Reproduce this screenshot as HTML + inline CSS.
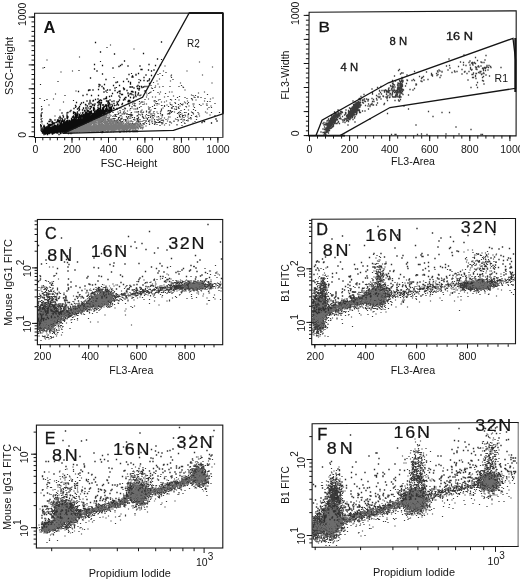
<!DOCTYPE html>
<html lang="en">
<head>
<meta charset="utf-8">
<title>Figure</title>
<style>
html,body{margin:0;padding:0;background:#fff;}
body{width:520px;height:581px;overflow:hidden;}
svg{display:block;font-family:'Liberation Sans', sans-serif;filter:blur(0.3px);}
</style>
</head>
<body>
<svg width="520" height="581" viewBox="0 0 520 581" shape-rendering="auto">
<rect width="520" height="581" fill="#fff"/>
<path transform="scale(.5)" d="m396 95zm3 29zm-69 8zm95 2zm-98 8zm47 0zm-42 3zm-12 2zm-4 2zm27 1zm62 0zm-80 1zm17 1zm1 3zm-24 3zm27 1zm-32 3zm27 0zm-34 3zm54 1zm63 0zm-108 2zm-14 3zm61 0zm-52 1zm15 1zm14 0zm18 0zm-39 1zm47 0zm-56 1zm57 0zm-64 1zm2 1zm65 3zm-63 1zm-5 3zm19 0zm18 0zm5 0zm65 0zm-109 1zm16 0zm-23 1zm6 0zm98 0zm-100 1zm34 0zm-12 1zm96 1zm-121 1zm89 0zm3 1zm5 0zm-44 1zm-11 1zm23 0zm37 0zm-103 1zm12 0zm6 0zm18 0zm59 0zm-33 1zm15 0zm20 0zm6 0zm6 0zm24 1zm-52 1zm9 0zm27 0zm-113 1zm87 0zm37 0zm-131 1zm30 0zm21 0zm10 0zm-34 1zm26 0zm15 0zm27 0zm7 0zm-82 1zm-40 1zm38 0zm25 0zm42 0zm34 0zm-130 1zm5 0zm29 0zm102 0zm5 0zm-132 1zm22 0zm13 0zm6 0zm40 0zm-85 1zm66 0zm27 0zm-109 1zm13 0zm59 0zm31 0zm-101 1zm42 0zm3 0zm36 0zm10 0zm14 0zm55 0zm-165 1zm14 0zm10 0zm4 0zm25 0zm48 0zm9 0zm11 0zm2 0zm18 0zm7 0zm1 0zm-128 1zm55 0zm16 0zm6 0zm36 0zm-140 1zm10 0zm40 0zm5 0zm20 0zm9 0zm1 0zm21 0zm-97 1zm1 0zm40 0zm14 0zm1 0zm5 0zm73 0zm12 0zm-155 1zm11 0zm1 0zm89 0zm18 0zm9 0zm35 0zm-158 1zm18 0zm23 0zm24 0zm8 0zm9 0zm1 0zm5 0zm20 0zm-75 1zm60 0zm16 0zm-94 1zm21 0zm44 0zm45 0zm29 0zm5 0zm-184 1zm3 0zm7 0zm1 0zm14 0zm11 0zm51 0zm17 0zm10 0zm4 0zm-107 1zm1 0zm10 0zm37 0zm11 0zm2 0zm33 0zm14 0zm-108 1zm18 0zm3 0zm1 0zm3 0zm48 0zm26 0zm66 0zm-181 1zm12 0zm52 0zm54 0zm1 0zm16 0zm18 0zm-127 1zm24 0zm18 0zm21 0zm54 0zm-137 1zm97 0zm1 0zm3 0zm21 0zm29 0zm-142 1zm6 0zm27 0zm11 0zm7 0zm22 0zm14 0zm-59 1zm31 0zm34 0zm3 0zm-109 1zm5 0zm6 0zm23 0zm3 0zm2 0zm2 0zm5 0zm5 0zm6 0zm5 0zm2 0zm14 0zm7 0zm19 0zm9 0zm10 0zm24 0zm28 0zm-185 1zm37 0zm19 0zm4 0zm57 0zm14 0zm4 0zm8 0zm3 0zm13 0zm11 0zm27 0zm16 0zm-220 1zm21 0zm8 0zm3 0zm11 0zm36 0zm9 0zm32 0zm47 0zm28 0zm-177 1zm17 0zm62 0zm5 0zm16 0zm3 0zm15 0zm22 0zm-133 1zm1 0zm3 0zm1 0zm28 0zm7 0zm17 0zm1 0zm2 0zm5 0zm26 0zm1 0zm3 0zm19 0zm6 0zm23 0zm10 0zm1 0zm-168 1zm2 0zm4 0zm18 0zm3 0zm2 0zm2 0zm2 0zm15 0zm7 0zm8 0zm32 0zm36 0zm16 0zm-147 1zm30 0zm2 0zm3 0zm16 0zm4 0zm37 0zm48 0zm6 0zm44 0zm-207 1zm18 0zm11 0zm22 0zm11 0zm21 0zm2 0zm7 0zm2 0zm18 0zm34 0zm6 0zm2 0zm16 0zm47 0zm-223 1zm20 0zm4 0zm9 0zm22 0zm1 0zm11 0zm2 0zm15 0zm11 0zm7 0zm62 0zm22 0zm6 0zm-192 1zm1 0zm4 0zm18 0zm3 0zm20 0zm4 0zm28 0zm32 0zm42 0zm6 0zm26 0zm-192 1zm6 0zm39 0zm9 0zm7 0zm25 0zm1 0zm15 0zm4 0zm9 0zm10 0zm13 0zm3 0zm20 0zm1 0zm4 0zm11 0zm18 0zm-194 1zm6 0zm3 0zm3 0zm6 0zm19 0zm2 0zm17 0zm9 0zm4 0zm8 0zm10 0zm10 0zm4 0zm54 0zm13 0zm13 0zm-181 1zm6 0zm2 0zm10 0zm1 0zm37 0zm13 0zm8 0zm10 0zm5 0zm1 0zm14 0zm11 0zm11 0zm53 0zm-156 1zm2 0zm2 0zm7 0zm5 0zm2 0zm11 0zm5 0zm14 0zm2 0zm12 0zm7 0zm27 0zm56 0zm-169 1zm8 0zm20 0zm37 0zm30 0zm32 0zm15 0zm13 0zm18 0zm-178 1zm3 0zm8 0zm27 0zm5 0zm3 0zm2 0zm15 0zm1 0zm7 0zm5 0zm15 0zm14 0zm5 0zm4 0zm14 0zm22 0zm8 0zm6 0zm25 0zm-186 1zm14 0zm2 0zm3 0zm3 0zm5 0zm2 0zm4 0zm7 0zm9 0zm13 0zm1 0zm7 0zm23 0zm9 0zm13 0zm4 0zm31 0zm12 0zm7 0zm-183 1zm11 0zm4 0zm9 0zm13 0zm9 0zm12 0zm1 0zm23 0zm13 0zm4 0zm6 0zm18 0zm8 0zm49 0zm-144 1zm4 0zm1 0zm7 0zm21 0zm1 0zm13 0zm16 0zm12 0zm23 0zm8 0zm13 0zm8 0zm10 0zm10 0zm-174 1zm3 0zm5 0zm10 0zm5 0zm2 0zm2 0zm13 0zm3 0zm29 0zm3 0zm3 0zm4 0zm8 0zm5 0zm1 0zm12 0zm9 0zm1 0zm20 0zm8 0zm42 0zm-186 1zm9 0zm21 0zm4 0zm4 0zm34 0zm4 0zm24 0zm5 0zm2 0zm-122 1zm11 0zm3 0zm16 0zm16 0zm55 0zm22 0zm2 0zm3 0zm2 0zm3 0zm1 0zm1 0zm16 0zm23 0zm-160 1zm21 0zm9 0zm1 0zm3 0zm6 0zm22 0zm7 0zm27 0zm25 0zm2 0zm17 0zm26 0zm17 0zm-198 1zm10 0zm5 0zm8 0zm7 0zm7 0zm18 0zm13 0zm9 0zm5 0zm11 0zm5 0zm2 0zm5 0zm12 0zm5 0zm22 0zm38 0zm-183 1zm18 0zm8 0zm2 0zm2 0zm7 0zm7 0zm1 0zm4 0zm14 0zm1 0zm7 0zm2 0zm3 0zm1 0zm10 0zm6 0zm30 0zm14 0zm-133 1zm1 0zm6 0zm18 0zm15 0zm1 0zm1 0zm7 0zm27 0zm2 0zm19 0zm11 0zm10 0zm5 0zm40 0zm-165 1zm2 0zm6 0zm2 0zm5 0zm3 0zm21 0zm11 0zm2 0zm1 0zm2 0zm1 0zm14 0zm9 0zm3 0zm5 0zm1 0zm5 0zm47 0zm10 0zm15 0zm-154 1zm11 0zm4 0zm8 0zm7 0zm5 0zm3 0zm11 0zm14 0zm16 0zm41 0zm44 0zm-167 1zm3 0zm4 0zm16 0zm2 0zm22 0zm14 0zm7 0zm4 0zm23 0zm-101 1zm8 0zm1 0zm1 0zm6 0zm1 0zm1 0zm1 0zm9 0zm2 0zm1 0zm2 0zm14 0zm9 0zm32 0zm-89 1zm5 0zm4 0zm2 0zm5 0zm4 0zm12 0zm20 0zm15 0zm4 0zm11 0zm2 0zm7 0zm-88 1zm6 0zm18 0zm1 0zm5 0zm21 0zm31 0zm-79 1zm2 0zm2 0zm9 0zm3 0zm3 0zm12 0zm-14 1z" stroke="#363636" stroke-width="2.4" stroke-linecap="square" fill="none"/>
<path transform="scale(.5)" d="m220 225zm6 0zm-7 1zm-1 2zm-8 1zm4 0zm0 1zm1 0zm4 0zm2 0zm-16 1zm2 0zm2 0zm1 0zm3 0zm9 0zm-15 1zm1 0zm2 0zm2 0zm5 0zm-17 1zm1 0zm6 0zm4 0zm1 0zm8 0zm5 0zm-26 1zm2 0zm4 0zm1 0zm1 0zm2 0zm5 0zm-18 1zm1 0zm1 0zm3 0zm3 0zm1 0zm1 0zm2 0zm1 0zm4 0zm1 0zm1 0zm-22 1zm1 0zm2 0zm5 0zm2 0zm3 0zm1 0zm1 0zm1 0zm1 0zm1 0zm1 0zm50 0zm-70 1zm1 0zm4 0zm1 0zm1 0zm1 0zm2 0zm2 0zm1 0zm1 0zm2 0zm2 0zm1 0zm1 0zm4 0zm1 0zm2 0zm-30 1zm1 0zm2 0zm3 0zm1 0zm1 0zm3 0zm2 0zm1 0zm1 0zm1 0zm3 0zm2 0zm2 0zm7 0zm1 0zm3 0zm-31 1zm1 0zm1 0zm1 0zm2 0zm1 0zm2 0zm1 0zm1 0zm1 0zm5 0zm1 0zm1 0zm1 0zm1 0zm4 0zm6 0zm1 0zm24 0zm-63 1zm1 0zm1 0zm3 0zm4 0zm1 0zm1 0zm1 0zm5 0zm5 0zm2 0zm3 0zm9 0zm1 0zm1 0zm4 0zm-43 1zm3 0zm3 0zm2 0zm1 0zm1 0zm2 0zm2 0zm1 0zm1 0zm1 0zm2 0zm1 0zm1 0zm1 0zm6 0zm3 0zm4 0zm1 0zm3 0zm1 0zm3 0zm-41 1zm1 0zm1 0zm1 0zm2 0zm1 0zm1 0zm1 0zm1 0zm2 0zm1 0zm3 0zm1 0zm1 0zm1 0zm1 0zm2 0zm5 0zm3 0zm2 0zm13 0zm3 0zm1 0zm25 0zm4 0zm12 0zm6 0zm6 0zm-107 1zm1 0zm1 0zm1 0zm1 0zm2 0zm2 0zm1 0zm1 0zm1 0zm2 0zm6 0zm2 0zm2 0zm4 0zm3 0zm2 0zm1 0zm2 0zm3 0zm1 0zm1 0zm3 0zm1 0zm1 0zm1 0zm2 0zm2 0zm1 0zm5 0zm1 0zm15 0zm3 0zm8 0zm3 0zm1 0zm-87 1zm1 0zm1 0zm1 0zm2 0zm1 0zm1 0zm1 0zm3 0zm1 0zm5 0zm1 0zm1 0zm2 0zm2 0zm4 0zm1 0zm5 0zm1 0zm1 0zm1 0zm1 0zm3 0zm1 0zm1 0zm1 0zm2 0zm1 0zm1 0zm3 0zm1 0zm1 0zm5 0zm1 0zm1 0zm10 0zm5 0zm4 0zm3 0zm14 0zm-100 1zm2 0zm1 0zm1 0zm2 0zm1 0zm2 0zm2 0zm1 0zm1 0zm2 0zm2 0zm2 0zm4 0zm2 0zm4 0zm4 0zm1 0zm2 0zm2 0zm2 0zm1 0zm12 0zm3 0zm1 0zm2 0zm5 0zm3 0zm5 0zm8 0zm23 0zm1 0zm-106 1zm1 0zm1 0zm1 0zm1 0zm1 0zm1 0zm1 0zm1 0zm1 0zm2 0zm3 0zm2 0zm1 0zm1 0zm3 0zm1 0zm2 0zm3 0zm4 0zm5 0zm3 0zm7 0zm1 0zm1 0zm2 0zm3 0zm2 0zm7 0zm3 0zm1 0zm1 0zm4 0zm1 0zm1 0zm8 0zm4 0zm15 0zm-103 1zm2 0zm2 0zm1 0zm1 0zm1 0zm1 0zm1 0zm2 0zm2 0zm1 0zm2 0zm3 0zm4 0zm4 0zm1 0zm2 0zm1 0zm5 0zm4 0zm4 0zm1 0zm2 0zm3 0zm1 0zm1 0zm1 0zm5 0zm1 0zm3 0zm2 0zm4 0zm4 0zm2 0zm1 0zm3 0zm5 0zm3 0zm3 0zm3 0zm7 0zm1 0zm4 0zm2 0zm3 0zm-110 1zm1 0zm1 0zm7 0zm1 0zm1 0zm4 0zm4 0zm1 0zm1 0zm3 0zm4 0zm1 0zm3 0zm2 0zm2 0zm7 0zm2 0zm3 0zm7 0zm1 0zm2 0zm2 0zm2 0zm9 0zm1 0zm2 0zm1 0zm8 0zm1 0zm5 0zm3 0zm6 0zm5 0zm1 0zm1 0zm-108 1zm1 0zm2 0zm1 0zm2 0zm1 0zm1 0zm1 0zm1 0zm1 0zm1 0zm1 0zm1 0zm1 0zm1 0zm6 0zm3 0zm1 0zm5 0zm1 0zm7 0zm1 0zm1 0zm1 0zm3 0zm2 0zm3 0zm1 0zm1 0zm3 0zm2 0zm4 0zm2 0zm1 0zm1 0zm1 0zm1 0zm1 0zm1 0zm3 0zm5 0zm1 0zm1 0zm2 0zm4 0zm1 0zm3 0zm3 0zm1 0zm4 0zm1 0zm7 0zm7 0zm3 0zm-117 1zm1 0zm1 0zm3 0zm2 0zm1 0zm1 0zm1 0zm1 0zm3 0zm4 0zm1 0zm1 0zm3 0zm1 0zm1 0zm8 0zm2 0zm2 0zm2 0zm2 0zm1 0zm1 0zm2 0zm2 0zm2 0zm2 0zm4 0zm1 0zm1 0zm1 0zm2 0zm3 0zm1 0zm1 0zm1 0zm1 0zm1 0zm1 0zm1 0zm3 0zm1 0zm1 0zm1 0zm2 0zm2 0zm1 0zm1 0zm2 0zm1 0zm1 0zm1 0zm2 0zm1 0zm2 0zm7 0zm3 0zm2 0zm1 0zm1 0zm2 0zm4 0zm5 0zm3 0zm2 0zm1 0zm-124 1zm1 0zm1 0zm2 0zm1 0zm3 0zm2 0zm1 0zm1 0zm2 0zm1 0zm2 0zm1 0zm1 0zm6 0zm2 0zm1 0zm3 0zm1 0zm1 0zm2 0zm1 0zm1 0zm1 0zm1 0zm1 0zm1 0zm2 0zm4 0zm6 0zm1 0zm1 0zm2 0zm1 0zm3 0zm1 0zm1 0zm1 0zm1 0zm1 0zm1 0zm1 0zm1 0zm1 0zm1 0zm1 0zm1 0zm1 0zm1 0zm1 0zm3 0zm1 0zm1 0zm1 0zm2 0zm2 0zm2 0zm2 0zm1 0zm1 0zm3 0zm2 0zm1 0zm1 0zm2 0zm2 0zm2 0zm2 0zm3 0zm7 0zm5 0zm-126 1zm1 0zm1 0zm1 0zm1 0zm1 0zm1 0zm2 0zm1 0zm1 0zm1 0zm1 0zm2 0zm2 0zm1 0zm1 0zm1 0zm2 0zm1 0zm4 0zm1 0zm1 0zm3 0zm2 0zm3 0zm1 0zm2 0zm1 0zm1 0zm1 0zm3 0zm2 0zm2 0zm1 0zm1 0zm1 0zm2 0zm1 0zm1 0zm1 0zm1 0zm1 0zm1 0zm1 0zm4 0zm1 0zm1 0zm1 0zm1 0zm2 0zm1 0zm2 0zm1 0zm1 0zm1 0zm1 0zm1 0zm1 0zm1 0zm1 0zm1 0zm2 0zm1 0zm4 0zm2 0zm2 0zm1 0zm3 0zm1 0zm1 0zm2 0zm3 0zm1 0zm3 0zm1 0zm1 0zm4 0zm3 0zm2 0zm-121 1zm1 0zm1 0zm1 0zm1 0zm1 0zm1 0zm1 0zm1 0zm1 0zm2 0zm2 0zm1 0zm2 0zm1 0zm1 0zm1 0zm1 0zm2 0zm1 0zm1 0zm1 0zm1 0zm2 0zm1 0zm1 0zm4 0zm2 0zm1 0zm1 0zm1 0zm2 0zm3 0zm3 0zm1 0zm1 0zm1 0zm1 0zm1 0zm2 0zm1 0zm1 0zm1 0zm1 0zm1 0zm2 0zm1 0zm1 0zm1 0zm1 0zm2 0zm1 0zm2 0zm1 0zm1 0zm1 0zm1 0zm1 0zm3 0zm1 0zm1 0zm1 0zm1 0zm1 0zm1 0zm1 0zm3 0zm1 0zm1 0zm1 0zm2 0zm3 0zm2 0zm1 0zm1 0zm2 0zm1 0zm3 0zm2 0zm1 0zm2 0zm2 0zm-115 1zm1 0zm1 0zm1 0zm1 0zm1 0zm1 0zm1 0zm2 0zm2 0zm1 0zm3 0zm4 0zm1 0zm1 0zm1 0zm1 0zm2 0zm1 0zm1 0zm2 0zm2 0zm1 0zm1 0zm2 0zm1 0zm1 0zm1 0zm1 0zm1 0zm1 0zm1 0zm1 0zm2 0zm2 0zm1 0zm1 0zm1 0zm1 0zm1 0zm5 0zm2 0zm1 0zm2 0zm1 0zm1 0zm1 0zm2 0zm2 0zm1 0zm1 0zm4 0zm1 0zm1 0zm1 0zm1 0zm1 0zm1 0zm1 0zm2 0zm1 0zm1 0zm1 0zm1 0zm1 0zm4 0zm1 0zm1 0zm1 0zm1 0zm2 0zm1 0zm1 0zm1 0zm2 0zm1 0zm2 0zm2 0zm2 0zm2 0zm1 0zm3 0zm2 0zm2 0zm4 0zm2 0zm1 0zm2 0zm2 0zm-134 1zm1 0zm1 0zm1 0zm1 0zm1 0zm1 0zm3 0zm2 0zm1 0zm1 0zm3 0zm1 0zm1 0zm2 0zm2 0zm1 0zm1 0zm1 0zm1 0zm2 0zm1 0zm1 0zm1 0zm1 0zm2 0zm3 0zm1 0zm3 0zm1 0zm1 0zm2 0zm1 0zm2 0zm1 0zm2 0zm1 0zm1 0zm1 0zm1 0zm1 0zm1 0zm1 0zm1 0zm4 0zm1 0zm1 0zm1 0zm1 0zm1 0zm1 0zm1 0zm1 0zm1 0zm1 0zm1 0zm1 0zm1 0zm1 0zm2 0zm1 0zm1 0zm1 0zm1 0zm6 0zm1 0zm1 0zm1 0zm1 0zm1 0zm1 0zm3 0zm1 0zm1 0zm1 0zm3 0zm1 0zm1 0zm1 0zm1 0zm1 0zm1 0zm1 0zm2 0zm2 0zm1 0zm1 0zm1 0zm9 0zm3 0zm-132 1zm1 0zm1 0zm1 0zm1 0zm1 0zm1 0zm2 0zm2 0zm1 0zm2 0zm1 0zm1 0zm2 0zm2 0zm1 0zm1 0zm1 0zm1 0zm1 0zm2 0zm1 0zm2 0zm2 0zm1 0zm2 0zm1 0zm1 0zm1 0zm1 0zm1 0zm1 0zm2 0zm1 0zm2 0zm2 0zm1 0zm1 0zm2 0zm1 0zm1 0zm1 0zm1 0zm1 0zm1 0zm1 0zm1 0zm1 0zm1 0zm1 0zm1 0zm1 0zm1 0zm2 0zm1 0zm1 0zm2 0zm1 0zm1 0zm1 0zm1 0zm1 0zm1 0zm1 0zm1 0zm1 0zm1 0zm1 0zm1 0zm1 0zm1 0zm1 0zm1 0zm1 0zm1 0zm1 0zm1 0zm1 0zm1 0zm1 0zm1 0zm1 0zm2 0zm1 0zm1 0zm1 0zm1 0zm1 0zm2 0zm1 0zm1 0zm4 0zm2 0zm1 0zm1 0zm3 0zm1 0zm1 0zm1 0zm4 0zm1 0zm6 0zm2 0zm1 0zm-139 1zm1 0zm2 0zm1 0zm1 0zm1 0zm1 0zm1 0zm1 0zm1 0zm1 0zm2 0zm1 0zm1 0zm1 0zm2 0zm1 0zm2 0zm1 0zm1 0zm1 0zm1 0zm1 0zm2 0zm2 0zm1 0zm1 0zm1 0zm1 0zm1 0zm1 0zm1 0zm1 0zm1 0zm1 0zm2 0zm1 0zm1 0zm1 0zm1 0zm1 0zm1 0zm1 0zm1 0zm1 0zm1 0zm1 0zm1 0zm1 0zm1 0zm1 0zm1 0zm1 0zm1 0zm1 0zm1 0zm1 0zm1 0zm2 0zm1 0zm1 0zm2 0zm1 0zm1 0zm1 0zm1 0zm1 0zm1 0zm1 0zm1 0zm1 0zm1 0zm1 0zm1 0zm1 0zm1 0zm1 0zm1 0zm1 0zm1 0zm2 0zm1 0zm2 0zm2 0zm1 0zm1 0zm1 0zm2 0zm1 0zm1 0zm1 0zm1 0zm1 0zm1 0zm1 0zm1 0zm1 0zm2 0zm3 0zm1 0zm2 0zm2 0zm1 0zm1 0zm2 0zm1 0zm5 0zm1 0zm4 0zm-135 1zm1 0zm1 0zm1 0zm1 0zm1 0zm1 0zm2 0zm1 0zm1 0zm2 0zm1 0zm1 0zm2 0zm1 0zm1 0zm1 0zm1 0zm1 0zm1 0zm1 0zm1 0zm1 0zm1 0zm1 0zm1 0zm1 0zm1 0zm1 0zm1 0zm1 0zm1 0zm1 0zm1 0zm1 0zm1 0zm1 0zm1 0zm1 0zm1 0zm1 0zm1 0zm1 0zm1 0zm1 0zm1 0zm1 0zm1 0zm1 0zm1 0zm1 0zm1 0zm2 0zm1 0zm1 0zm1 0zm1 0zm1 0zm1 0zm1 0zm1 0zm1 0zm1 0zm1 0zm1 0zm1 0zm1 0zm1 0zm2 0zm1 0zm1 0zm1 0zm1 0zm1 0zm1 0zm1 0zm1 0zm1 0zm1 0zm2 0zm1 0zm2 0zm1 0zm2 0zm1 0zm1 0zm1 0zm1 0zm2 0zm1 0zm1 0zm1 0zm3 0zm1 0zm1 0zm1 0zm1 0zm1 0zm5 0zm1 0zm2 0zm2 0zm1 0zm1 0zm2 0zm4 0zm2 0zm3 0zm8 0zm-141 1zm1 0zm1 0zm1 0zm1 0zm1 0zm1 0zm1 0zm1 0zm1 0zm1 0zm1 0zm1 0zm1 0zm1 0zm2 0zm1 0zm1 0zm1 0zm1 0zm1 0zm1 0zm1 0zm1 0zm1 0zm1 0zm1 0zm1 0zm1 0zm1 0zm1 0zm1 0zm1 0zm1 0zm1 0zm1 0zm1 0zm1 0zm1 0zm1 0zm1 0zm1 0zm1 0zm1 0zm1 0zm1 0zm1 0zm1 0zm1 0zm1 0zm1 0zm2 0zm1 0zm1 0zm1 0zm1 0zm1 0zm1 0zm1 0zm1 0zm1 0zm1 0zm1 0zm2 0zm1 0zm1 0zm1 0zm1 0zm1 0zm1 0zm1 0zm1 0zm1 0zm1 0zm1 0zm1 0zm2 0zm1 0zm1 0zm2 0zm2 0zm1 0zm1 0zm2 0zm3 0zm2 0zm9 0zm2 0zm5 0zm16 0zm-131 1zm1 0zm1 0zm1 0zm2 0zm1 0zm1 0zm1 0zm1 0zm1 0zm1 0zm1 0zm2 0zm1 0zm1 0zm1 0zm1 0zm1 0zm1 0zm1 0zm1 0zm1 0zm1 0zm1 0zm1 0zm1 0zm1 0zm1 0zm1 0zm1 0zm1 0zm1 0zm1 0zm1 0zm1 0zm1 0zm1 0zm1 0zm1 0zm1 0zm1 0zm1 0zm1 0zm1 0zm1 0zm1 0zm1 0zm1 0zm1 0zm1 0zm1 0zm1 0zm1 0zm1 0zm1 0zm1 0zm1 0zm1 0zm1 0zm1 0zm1 0zm1 0zm1 0zm1 0zm1 0zm2 0zm1 0zm1 0zm1 0zm1 0zm3 0zm1 0zm2 0zm1 0zm2 0zm1 0zm1 0zm4 0zm1 0zm1 0zm2 0zm1 0zm6 0zm1 0zm3 0zm3 0zm1 0zm2 0zm4 0zm1 0zm3 0zm2 0zm2 0zm1 0zm5 0zm4 0zm-132 1zm1 0zm1 0zm1 0zm1 0zm1 0zm1 0zm1 0zm1 0zm1 0zm1 0zm1 0zm1 0zm1 0zm1 0zm1 0zm1 0zm1 0zm1 0zm1 0zm1 0zm1 0zm1 0zm1 0zm1 0zm1 0zm1 0zm1 0zm1 0zm1 0zm1 0zm1 0zm1 0zm1 0zm1 0zm1 0zm1 0zm1 0zm1 0zm1 0zm1 0zm1 0zm1 0zm1 0zm2 0zm1 0zm1 0zm1 0zm1 0zm1 0zm1 0zm1 0zm1 0zm1 0zm1 0zm2 0zm2 0zm1 0zm1 0zm1 0zm1 0zm1 0zm2 0zm1 0zm4 0zm1 0zm1 0zm6 0zm5 0zm1 0zm2 0zm1 0zm1 0zm1 0zm1 0zm9 0zm1 0zm1 0zm4 0zm2 0zm2 0zm1 0zm5 0zm1 0zm2 0zm1 0zm7 0zm3 0zm5 0zm1 0zm-137 1zm1 0zm1 0zm1 0zm1 0zm1 0zm1 0zm1 0zm1 0zm1 0zm1 0zm1 0zm1 0zm1 0zm1 0zm1 0zm1 0zm1 0zm1 0zm1 0zm1 0zm1 0zm1 0zm1 0zm1 0zm1 0zm1 0zm1 0zm1 0zm1 0zm1 0zm1 0zm1 0zm2 0zm1 0zm1 0zm1 0zm1 0zm1 0zm1 0zm1 0zm1 0zm1 0zm1 0zm1 0zm1 0zm1 0zm1 0zm2 0zm1 0zm1 0zm2 0zm1 0zm1 0zm1 0zm4 0zm3 0zm1 0zm2 0zm1 0zm1 0zm1 0zm1 0zm2 0zm4 0zm1 0zm1 0zm2 0zm8 0zm1 0zm2 0zm3 0zm3 0zm2 0zm3 0zm3 0zm5 0zm4 0zm2 0zm1 0zm2 0zm2 0zm4 0zm2 0zm6 0zm1 0zm3 0zm-142 1zm1 0zm1 0zm1 0zm1 0zm1 0zm1 0zm1 0zm1 0zm1 0zm1 0zm1 0zm1 0zm1 0zm1 0zm1 0zm1 0zm1 0zm1 0zm1 0zm1 0zm1 0zm1 0zm1 0zm1 0zm1 0zm1 0zm1 0zm1 0zm1 0zm1 0zm1 0zm1 0zm1 0zm1 0zm1 0zm1 0zm1 0zm1 0zm1 0zm1 0zm1 0zm1 0zm1 0zm1 0zm1 0zm1 0zm1 0zm3 0zm4 0zm1 0zm1 0zm5 0zm1 0zm2 0zm1 0zm3 0zm2 0zm1 0zm1 0zm1 0zm6 0zm1 0zm1 0zm2 0zm1 0zm4 0zm2 0zm1 0zm5 0zm2 0zm1 0zm2 0zm1 0zm1 0zm2 0zm4 0zm1 0zm2 0zm4 0zm2 0zm1 0zm4 0zm3 0zm3 0zm1 0zm3 0zm2 0zm-136 1zm2 0zm1 0zm1 0zm1 0zm1 0zm1 0zm1 0zm1 0zm1 0zm1 0zm1 0zm4 0zm1 0zm1 0zm1 0zm1 0zm1 0zm1 0zm1 0zm1 0zm1 0zm1 0zm2 0zm1 0zm1 0zm1 0zm1 0zm2 0zm2 0zm2 0zm2 0zm2 0zm1 0zm1 0zm4 0zm3 0zm2 0zm1 0zm3 0zm1 0zm3 0zm3 0zm1 0zm4 0zm2 0zm4 0zm8 0zm7 0zm5 0zm-96 1zm1 0zm1 0zm2 0zm1 0zm1 0zm1 0zm1 0zm1 0zm1 0zm1 0zm1 0zm1 0zm2 0zm2 0zm1 0zm3 0zm1 0zm2 0zm4 0zm18 0zm2 0zm11 0zm-53 1zm2 0zm1 0zm1 0zm4 0z" stroke="#7a7a7a" stroke-width="2.4" stroke-linecap="square" fill="none"/>
<path transform="scale(.5)" d="m323 84zm-132 1zm10 19zm86 3zm-58 1zm86 10zm-66 4zm-60 7zm55 0zm54 0zm23 1zm-116 1zm36 0zm70 0zm-55 1zm24 0zm-42 1zm-12 3zm-37 2zm93 1zm2 0zm13 1zm11 0zm-114 2zm109 0zm-26 5zm-72 1zm53 1zm14 0zm0 1zm20 0zm11 1zm-38 1zm-1 2zm2 0zm22 1zm-107 1zm73 2zm45 0zm-87 1zm69 2zm7 0zm10 0zm-3 1zm-48 1zm10 0zm-22 1zm-3 1zm29 0zm17 0zm21 2zm-38 1zm-63 1zm11 0zm-9 1zm27 1zm12 0zm37 0zm-78 2zm6 0zm70 0zm5 0zm4 0zm7 0zm4 0zm-34 1zm2 0zm3 0zm22 0zm-3 1zm-77 1zm23 0zm17 0zm21 0zm7 1zm1 0zm3 0zm-71 1zm41 0zm-52 1zm51 0zm-70 1zm2 0zm6 0zm29 0zm5 0zm58 0zm-101 1zm53 0zm24 0zm-42 1zm28 0zm51 0zm-134 1zm81 0zm2 0zm23 0zm2 0zm-57 1zm58 0zm5 0zm-36 1zm21 1zm15 0zm6 0zm-52 1zm15 0zm16 0zm6 0zm-2 1zm-86 1zm69 0zm2 0zm19 0zm12 0zm-5 1zm5 0zm-110 1zm17 0zm14 0zm60 0zm23 0zm-57 1zm15 0zm19 0zm-38 1zm53 0zm-59 1zm55 0zm-28 1zm11 0zm1 0zm9 0zm6 1zm-56 1zm2 0zm36 0zm-53 1zm12 0zm-17 1zm59 0zm-49 1zm19 0zm19 0zm8 0zm-67 1zm7 0zm12 0zm4 0zm54 0zm2 0zm-85 1zm12 0zm27 0zm1 0zm3 0zm11 0zm32 0zm-63 1zm27 0zm13 0zm19 0zm1 0zm1 0zm8 0zm-86 1zm18 0zm18 0zm18 0zm-81 1zm14 0zm28 0zm5 0zm3 0zm15 0zm-55 1zm35 0zm-20 1zm4 0zm20 0zm14 0zm3 0zm9 0zm7 0zm10 0zm12 0zm-79 1zm12 0zm-29 1zm10 0zm15 0zm12 0zm3 0zm19 0zm4 0zm10 0zm10 0zm-72 1zm13 0zm1 0zm15 0zm4 0zm2 0zm4 0zm2 0zm4 0zm3 0zm17 0zm-86 1zm38 0zm7 0zm18 0zm15 0zm-54 1zm26 0zm10 0zm1 0zm2 0zm3 0zm8 0zm-73 1zm7 0zm21 0zm2 0zm27 0zm-26 1zm24 0zm11 0zm4 0zm1 0zm-51 1zm15 0zm1 0zm8 0zm5 0zm6 0zm1 0zm5 0zm7 0zm1 0zm-64 1zm1 0zm9 0zm9 0zm11 0zm18 0zm9 0zm4 0zm2 0zm2 0zm5 0zm-79 1zm19 0zm5 0zm9 0zm7 0zm11 0zm14 0zm8 0zm2 0zm4 0zm1 0zm6 0zm-79 1zm25 0zm7 0zm2 0zm8 0zm4 0zm4 0zm2 0zm4 0zm3 0zm8 0zm-63 1zm28 0zm8 0zm1 0zm1 0zm8 0zm2 0zm9 0zm4 0zm-55 1zm9 0zm14 0zm8 0zm1 0zm3 0zm1 0zm3 0zm7 0zm1 0zm2 0zm1 0zm4 0zm5 0zm-82 1zm16 0zm11 0zm1 0zm6 0zm11 0zm1 0zm4 0zm7 0zm1 0zm1 0zm2 0zm1 0zm2 0zm1 0zm2 0zm1 0zm3 0zm3 0zm2 0zm3 0zm2 0zm-48 1zm2 0zm6 0zm9 0zm2 0zm1 0zm2 0zm2 0zm2 0zm4 0zm1 0zm4 0zm2 0zm1 0zm4 0zm1 0zm2 0zm-80 1zm30 0zm10 0zm2 0zm7 0zm1 0zm3 0zm4 0zm2 0zm2 0zm1 0zm1 0zm4 0zm2 0zm10 0zm-72 1zm8 0zm19 0zm4 0zm5 0zm11 0zm1 0zm2 0zm7 0zm1 0zm4 0zm1 0zm1 0zm2 0zm2 0zm5 0zm-84 1zm13 0zm17 0zm5 0zm1 0zm8 0zm2 0zm7 0zm1 0zm6 0zm2 0zm3 0zm1 0zm1 0zm2 0zm2 0zm1 0zm1 0zm1 0zm6 0zm-92 1zm10 0zm17 0zm14 0zm6 0zm3 0zm8 0zm1 0zm7 0zm1 0zm2 0zm1 0zm3 0zm1 0zm1 0zm2 0zm2 0zm7 0zm-63 1zm4 0zm3 0zm18 0zm4 0zm1 0zm2 0zm4 0zm3 0zm1 0zm2 0zm3 0zm1 0zm1 0zm1 0zm1 0zm2 0zm1 0zm1 0zm1 0zm1 0zm2 0zm1 0zm3 0zm2 0zm-55 1zm1 0zm14 0zm6 0zm2 0zm1 0zm1 0zm4 0zm1 0zm3 0zm1 0zm1 0zm3 0zm1 0zm1 0zm2 0zm1 0zm1 0zm3 0zm5 0zm5 0zm-62 1zm4 0zm5 0zm7 0zm1 0zm6 0zm1 0zm3 0zm2 0zm2 0zm4 0zm1 0zm2 0zm1 0zm1 0zm1 0zm2 0zm2 0zm1 0zm6 0zm5 0zm1 0zm-74 1zm18 0zm7 0zm4 0zm6 0zm1 0zm2 0zm1 0zm1 0zm3 0zm2 0zm6 0zm2 0zm1 0zm1 0zm1 0zm2 0zm1 0zm2 0zm1 0zm2 0zm1 0zm1 0zm2 0zm2 0zm-78 1zm27 0zm2 0zm5 0zm2 0zm5 0zm6 0zm3 0zm3 0zm1 0zm2 0zm1 0zm1 0zm1 0zm1 0zm1 0zm1 0zm1 0zm2 0zm4 0zm2 0zm2 0zm1 0zm1 0zm2 0zm-56 1zm4 0zm5 0zm4 0zm4 0zm1 0zm4 0zm6 0zm2 0zm1 0zm3 0zm1 0zm1 0zm1 0zm1 0zm1 0zm1 0zm5 0zm1 0zm1 0zm2 0zm1 0zm3 0zm1 0zm1 0zm-82 1zm14 0zm1 0zm24 0zm2 0zm1 0zm6 0zm2 0zm1 0zm1 0zm2 0zm1 0zm1 0zm1 0zm1 0zm4 0zm3 0zm1 0zm2 0zm1 0zm1 0zm1 0zm1 0zm2 0zm1 0zm1 0zm2 0zm-71 1zm9 0zm9 0zm3 0zm5 0zm3 0zm8 0zm1 0zm1 0zm1 0zm4 0zm2 0zm3 0zm3 0zm1 0zm2 0zm2 0zm1 0zm1 0zm2 0zm1 0zm1 0zm4 0zm1 0zm1 0zm1 0zm1 0zm-52 1zm5 0zm3 0zm4 0zm1 0zm8 0zm1 0zm1 0zm1 0zm1 0zm2 0zm2 0zm2 0zm1 0zm1 0zm1 0zm1 0zm1 0zm2 0zm1 0zm1 0zm2 0zm3 0zm2 0zm2 0zm-77 1zm3 0zm13 0zm15 0zm4 0zm7 0zm2 0zm5 0zm1 0zm2 0zm1 0zm1 0zm1 0zm2 0zm2 0zm1 0zm2 0zm3 0zm1 0zm1 0zm1 0zm1 0zm2 0zm3 0zm-68 1zm11 0zm8 0zm7 0zm7 0zm3 0zm1 0zm5 0zm1 0zm2 0zm1 0zm1 0zm1 0zm1 0zm1 0zm1 0zm1 0zm1 0zm1 0zm2 0zm2 0zm1 0zm2 0zm1 0zm1 0zm3 0zm-60 1zm18 0zm9 0zm3 0zm1 0zm2 0zm1 0zm1 0zm3 0zm1 0zm1 0zm1 0zm1 0zm2 0zm1 0zm1 0zm1 0zm1 0zm1 0zm1 0zm1 0zm1 0zm1 0zm1 0zm2 0zm3 0zm243 0zm-332 1zm25 0zm21 0zm3 0zm2 0zm3 0zm4 0zm1 0zm1 0zm2 0zm1 0zm1 0zm1 0zm1 0zm3 0zm1 0zm1 0zm1 0zm1 0zm2 0zm1 0zm1 0zm1 0zm1 0zm1 0zm1 0zm4 0zm1 0zm-84 1zm8 0zm5 0zm2 0zm4 0zm22 0zm2 0zm2 0zm1 0zm2 0zm1 0zm1 0zm1 0zm2 0zm3 0zm1 0zm2 0zm2 0zm1 0zm1 0zm1 0zm1 0zm1 0zm1 0zm2 0zm1 0zm1 0zm1 0zm1 0zm2 0zm4 0zm1 0zm-63 1zm7 0zm3 0zm6 0zm1 0zm3 0zm4 0zm1 0zm3 0zm1 0zm1 0zm1 0zm1 0zm2 0zm1 0zm1 0zm1 0zm2 0zm1 0zm1 0zm4 0zm1 0zm1 0zm1 0zm1 0zm1 0zm1 0zm1 0zm1 0zm1 0zm2 0zm2 0zm1 0zm1 0zm1 0zm3 0zm-68 1zm2 0zm1 0zm5 0zm1 0zm2 0zm7 0zm6 0zm1 0zm6 0zm1 0zm4 0zm2 0zm1 0zm1 0zm1 0zm1 0zm1 0zm1 0zm1 0zm2 0zm2 0zm1 0zm1 0zm1 0zm1 0zm1 0zm1 0zm1 0zm2 0zm1 0zm4 0zm1 0zm227 0zm28 0zm-336 1zm2 0zm4 0zm11 0zm2 0zm8 0zm2 0zm8 0zm6 0zm1 0zm2 0zm2 0zm1 0zm1 0zm1 0zm1 0zm3 0zm2 0zm1 0zm1 0zm1 0zm1 0zm2 0zm1 0zm1 0zm1 0zm1 0zm1 0zm1 0zm2 0zm1 0zm1 0zm1 0zm3 0zm1 0zm1 0zm1 0zm231 0zm-305 1zm1 0zm9 0zm4 0zm2 0zm3 0zm4 0zm3 0zm2 0zm1 0zm2 0zm1 0zm1 0zm3 0zm2 0zm2 0zm1 0zm1 0zm1 0zm1 0zm1 0zm2 0zm1 0zm1 0zm1 0zm1 0zm1 0zm1 0zm1 0zm1 0zm1 0zm1 0zm2 0zm2 0zm1 0zm1 0zm1 0zm1 0zm1 0zm2 0zm2 0zm1 0zm1 0zm-72 1zm8 0zm8 0zm8 0zm4 0zm2 0zm2 0zm1 0zm2 0zm1 0zm1 0zm1 0zm3 0zm1 0zm1 0zm1 0zm1 0zm1 0zm2 0zm1 0zm1 0zm1 0zm1 0zm2 0zm1 0zm1 0zm1 0zm1 0zm2 0zm2 0zm1 0zm1 0zm1 0zm1 0zm1 0zm233 0zm-299 1zm1 0zm2 0zm1 0zm14 0zm4 0zm6 0zm2 0zm1 0zm1 0zm1 0zm1 0zm1 0zm1 0zm1 0zm2 0zm4 0zm1 0zm1 0zm1 0zm1 0zm2 0zm1 0zm1 0zm1 0zm1 0zm1 0zm1 0zm2 0zm1 0zm2 0zm1 0zm1 0zm1 0zm1 0zm2 0zm1 0zm251 0zm-328 1zm11 0zm16 0zm1 0zm6 0zm1 0zm1 0zm4 0zm1 0zm1 0zm4 0zm1 0zm1 0zm2 0zm1 0zm1 0zm1 0zm1 0zm1 0zm1 0zm1 0zm2 0zm1 0zm1 0zm1 0zm1 0zm1 0zm2 0zm1 0zm1 0zm1 0zm1 0zm1 0zm1 0zm1 0zm1 0zm-64 1zm3 0zm8 0zm4 0zm4 0zm1 0zm3 0zm2 0zm1 0zm2 0zm1 0zm1 0zm1 0zm1 0zm1 0zm1 0zm1 0zm2 0zm1 0zm1 0zm1 0zm1 0zm1 0zm1 0zm1 0zm1 0zm1 0zm1 0zm1 0zm1 0zm1 0zm1 0zm2 0zm1 0zm1 0zm1 0zm1 0zm1 0zm2 0zm1 0zm1 0zm-69 1zm1 0zm1 0zm1 0zm1 0zm1 0zm1 0zm11 0zm1 0zm4 0zm2 0zm1 0zm1 0zm2 0zm2 0zm1 0zm1 0zm1 0zm1 0zm1 0zm2 0zm1 0zm1 0zm1 0zm1 0zm1 0zm1 0zm1 0zm1 0zm1 0zm1 0zm1 0zm1 0zm1 0zm2 0zm1 0zm1 0zm1 0zm1 0zm1 0zm1 0zm1 0zm1 0zm1 0zm1 0zm1 0zm1 0zm1 0zm2 0zm-68 1zm5 0zm1 0zm17 0zm1 0zm1 0zm1 0zm1 0zm3 0zm1 0zm1 0zm1 0zm1 0zm1 0zm1 0zm1 0zm1 0zm1 0zm1 0zm1 0zm2 0zm1 0zm1 0zm1 0zm1 0zm1 0zm1 0zm2 0zm1 0zm1 0zm1 0zm1 0zm2 0zm1 0zm1 0zm1 0zm1 0zm1 0zm1 0zm1 0zm1 0zm-74 1zm12 0zm1 0zm8 0zm1 0zm1 0zm7 0zm1 0zm1 0zm3 0zm2 0zm1 0zm1 0zm1 0zm1 0zm1 0zm1 0zm1 0zm1 0zm1 0zm1 0zm1 0zm1 0zm1 0zm1 0zm1 0zm1 0zm1 0zm3 0zm1 0zm1 0zm1 0zm1 0zm1 0zm1 0zm1 0zm1 0zm1 0zm1 0zm1 0zm2 0zm2 0zm-72 1zm8 0zm3 0zm7 0zm5 0zm1 0zm1 0zm1 0zm1 0zm5 0zm2 0zm2 0zm1 0zm1 0zm1 0zm1 0zm1 0zm3 0zm1 0zm1 0zm1 0zm1 0zm1 0zm1 0zm1 0zm2 0zm1 0zm1 0zm1 0zm1 0zm1 0zm1 0zm2 0zm1 0zm1 0zm1 0zm1 0zm2 0zm1 0zm1 0zm1 0zm-69 1zm9 0zm8 0zm2 0zm4 0zm1 0zm1 0zm3 0zm1 0zm1 0zm1 0zm1 0zm1 0zm1 0zm1 0zm1 0zm1 0zm1 0zm1 0zm1 0zm1 0zm1 0zm1 0zm1 0zm1 0zm1 0zm1 0zm1 0zm1 0zm1 0zm1 0zm1 0zm1 0zm1 0zm1 0zm1 0zm1 0zm2 0zm1 0zm1 0zm1 0zm1 0zm1 0zm1 0zm-67 1zm1 0zm5 0zm2 0zm3 0zm1 0zm5 0zm2 0zm1 0zm1 0zm1 0zm1 0zm1 0zm1 0zm1 0zm1 0zm1 0zm1 0zm1 0zm2 0zm2 0zm1 0zm1 0zm1 0zm1 0zm1 0zm1 0zm1 0zm1 0zm1 0zm1 0zm1 0zm1 0zm1 0zm1 0zm1 0zm1 0zm1 0zm1 0zm1 0zm1 0zm1 0zm1 0zm1 0zm1 0zm1 0zm1 0zm1 0zm1 0zm1 0zm1 0zm2 0zm1 0zm-65 1zm3 0zm1 0zm4 0zm3 0zm1 0zm2 0zm2 0zm3 0zm1 0zm1 0zm1 0zm1 0zm2 0zm1 0zm1 0zm1 0zm1 0zm1 0zm1 0zm1 0zm1 0zm1 0zm1 0zm1 0zm1 0zm1 0zm2 0zm2 0zm2 0zm1 0zm1 0zm1 0zm1 0zm1 0zm1 0zm1 0zm1 0zm1 0zm2 0zm1 0zm1 0zm2 0zm1 0zm1 0zm1 0zm1 0zm-61 1zm5 0zm3 0zm1 0zm1 0zm1 0zm2 0zm1 0zm2 0zm1 0zm1 0zm2 0zm1 0zm1 0zm1 0zm1 0zm1 0zm1 0zm1 0zm1 0zm1 0zm1 0zm1 0zm1 0zm1 0zm1 0zm1 0zm1 0zm1 0zm1 0zm1 0zm1 0zm1 0zm1 0zm1 0zm1 0zm1 0zm1 0zm1 0zm1 0zm1 0zm1 0zm1 0zm1 0zm3 0zm1 0zm2 0zm1 0zm-61 1zm3 0zm3 0zm2 0zm1 0zm1 0zm1 0zm1 0zm1 0zm1 0zm1 0zm1 0zm1 0zm1 0zm1 0zm1 0zm1 0zm1 0zm1 0zm1 0zm1 0zm1 0zm1 0zm1 0zm1 0zm1 0zm1 0zm1 0zm1 0zm1 0zm1 0zm1 0zm1 0zm1 0zm1 0zm1 0zm1 0zm1 0zm2 0zm1 0zm1 0zm1 0zm1 0zm1 0zm1 0zm1 0zm1 0zm1 0zm2 0zm1 0zm1 0zm-62 1zm1 0zm2 0zm1 0zm1 0zm2 0zm3 0zm2 0zm1 0zm1 0zm1 0zm1 0zm1 0zm1 0zm1 0zm1 0zm1 0zm1 0zm1 0zm1 0zm1 0zm1 0zm1 0zm1 0zm1 0zm2 0zm1 0zm1 0zm1 0zm1 0zm1 0zm2 0zm1 0zm1 0zm1 0zm1 0zm1 0zm1 0zm1 0zm1 0zm1 0zm1 0zm1 0zm1 0zm1 0zm1 0zm1 0zm2 0zm1 0zm1 0zm1 0zm1 0zm2 0zm-57 1zm1 0zm2 0zm1 0zm1 0zm1 0zm1 0zm1 0zm1 0zm1 0zm1 0zm1 0zm1 0zm1 0zm2 0zm1 0zm1 0zm1 0zm1 0zm1 0zm1 0zm1 0zm1 0zm1 0zm1 0zm1 0zm1 0zm1 0zm1 0zm1 0zm1 0zm1 0zm1 0zm1 0zm1 0zm2 0zm2 0zm1 0zm2 0zm1 0zm1 0zm1 0zm1 0zm1 0zm1 0zm1 0zm1 0zm1 0zm1 0zm1 0zm1 0zm-58 1zm1 0zm1 0zm2 0zm1 0zm2 0zm1 0zm2 0zm1 0zm1 0zm1 0zm1 0zm1 0zm1 0zm2 0zm1 0zm2 0zm1 0zm1 0zm1 0zm1 0zm1 0zm1 0zm1 0zm1 0zm1 0zm1 0zm1 0zm1 0zm1 0zm1 0zm1 0zm1 0zm1 0zm1 0zm5 0zm1 0zm1 0zm1 0zm1 0zm1 0zm1 0zm2 0zm1 0zm1 0zm1 0zm-55 1zm1 0zm1 0zm2 0zm1 0zm3 0zm1 0zm1 0zm2 0zm1 0zm1 0zm1 0zm1 0zm1 0zm1 0zm1 0zm1 0zm1 0zm1 0zm1 0zm2 0zm1 0zm1 0zm1 0zm1 0zm1 0zm1 0zm1 0zm2 0zm1 0zm2 0zm2 0zm1 0zm1 0zm2 0zm1 0zm1 0zm1 0zm1 0zm1 0zm2 0zm1 0zm1 0zm1 0zm1 0zm-56 1zm1 0zm1 0zm1 0zm1 0zm1 0zm1 0zm1 0zm1 0zm1 0zm1 0zm1 0zm1 0zm1 0zm1 0zm2 0zm1 0zm1 0zm1 0zm1 0zm1 0zm1 0zm3 0zm1 0zm1 0zm1 0zm1 0zm1 0zm2 0zm1 0zm1 0zm1 0zm1 0zm1 0zm1 0zm1 0zm2 0zm1 0zm2 0zm1 0zm1 0zm1 0zm1 0zm1 0zm1 0zm1 0zm1 0zm1 0zm-52 1zm1 0zm1 0zm1 0zm1 0zm1 0zm1 0zm1 0zm1 0zm1 0zm1 0zm2 0zm1 0zm1 0zm1 0zm1 0zm1 0zm1 0zm1 0zm1 0zm1 0zm1 0zm1 0zm1 0zm1 0zm1 0zm1 0zm1 0zm1 0zm3 0zm1 0zm1 0zm1 0zm1 0zm1 0zm1 0zm2 0zm2 0zm3 0zm1 0zm1 0zm1 0zm1 0zm1 0zm114 0zm5 0zm6 0zm1 0zm6 0zm2 0zm2 0zm1 0zm2 0zm2 0zm-190 1zm1 0zm2 0zm1 0zm1 0zm1 0zm1 0zm1 0zm1 0zm1 0zm1 0zm1 0zm1 0zm2 0zm1 0zm1 0zm1 0zm1 0zm1 0zm1 0zm1 0zm2 0zm1 0zm3 0zm1 0zm1 0zm1 0zm3 0zm1 0zm1 0zm3 0zm1 0zm1 0zm2 0zm3 0zm1 0zm73 0zm35 0zm-154 1zm1 0zm1 0zm1 0zm1 0zm1 0zm1 0zm1 0zm1 0zm1 0zm1 0zm6 0zm1 0zm2 0zm3 0zm1 0zm1 0zm1 0zm1 0zm1 0zm3 0zm5 0zm83 0zm-119 1zm2 0zm1 0zm1 0zm1 0zm1 0zm1 0zm2 0zm1 0zm2 0zm1 0zm2 0zm4 0zm1 0zm3 0zm1 0zm5 0zm1 0zm9 0zm-35 1zm3 0zm1 0zm2 0zm2 0zm1 0zm1 0zm5 0zm2 0zm15 0zm16 0zm5 0zm-54 1zm3 0zm4 0zm10 0zm-17 1zm7 0zm23 0z" stroke="#0c0c0c" stroke-width="2.6" stroke-linecap="square" fill="none"/>
<path transform="scale(.5)" d="m84 217zm0 2zm-1 1zm1 6zm-2 2zm1 0zm-1 2zm1 1zm-2 1zm2 1zm-1 3zm2 1zm-2 2zm1 1zm1 2zm0 1zm-2 1zm2 0zm0 4zm-3 1zm0 2zm2 0zm-2 1zm2 1zm-2 1zm1 0zm2 1zm0 1zm-2 1zm1 1zm1 0zm2 0zm-4 1zm1 0zm1 0zm2 0zm-3 1zm1 0zm-2 1zm3 0z" stroke="#222" stroke-width="2" stroke-linecap="square" fill="none"/>
<path transform="scale(.5)" d="m221 90zm-7 5zm54 3zm-109 16zm164 5zm-229 1zm107 3zm-112 12zm-3 1zm72 5zm-13 1zm-23 2zm141 3zm-35 8zm50 4zm-162 4zm-35 6zm152 6zm-81 7zm137 0zm-75 3zm-103 3zm156 2zm15 0zm-152 1zm-50 6zm27 1zm-13 1zm-5 2zm58 0zm-20 3zm-29 6zm134 1zm-149 2zm68 2zm-31 5zm-36 5zm77 1zm20 4zm-71 2z" stroke="#222" stroke-width="2.3" stroke-linecap="square" fill="none"/>
<path d="M63 133.3L142.6 97.3L189.2 13L222.8 13L222.8 113.8L173.5 130.3Z" stroke="#151515" stroke-width="1.3" fill="none" stroke-linejoin="miter"/>
<path d="M34.6 13.2L222.8 13L222.9 137.3L34.5 137.5Z" stroke="#151515" stroke-width="1.1" fill="none"/>
<path d="M222.9 13.1L222.9 113.8" stroke="#151515" stroke-width="1.6" fill="none"/>
<path d="M189.2 13.1L222.9 13.1" stroke="#151515" stroke-width="1.6" fill="none"/>
<path d="M35.5 137.3v3M42.8 137.3v3M50.1 137.3v3M57.4 137.3v3M64.7 137.3v3M72 137.3v3M79.3 137.3v3M86.6 137.3v3M93.9 137.3v3M101.2 137.3v3M108.5 137.3v3M115.8 137.3v3M123.1 137.3v3M130.3 137.3v3M137.6 137.3v3M144.9 137.3v3M152.2 137.3v3M159.5 137.3v3M166.8 137.3v3M174.1 137.3v3M181.4 137.3v3M188.7 137.3v3M196 137.3v3M203.3 137.3v3M210.6 137.3v3M217.9 137.3v3" stroke="#151515" stroke-width="1.0" fill="none"/>
<path d="M35.5 137.3v5.5M72 137.3v5.5M108.5 137.3v5.5M144.9 137.3v5.5M181.4 137.3v5.5M217.9 137.3v5.5" stroke="#151515" stroke-width="1.0" fill="none"/>
<path d="M34.5 136.6h-3M34.5 131.8h-3M34.5 127h-3M34.5 122.3h-3M34.5 117.5h-3M34.5 112.7h-3M34.5 107.9h-3M34.5 103.1h-3M34.5 98.4h-3M34.5 93.6h-3M34.5 88.8h-3M34.5 84h-3M34.5 79.2h-3M34.5 74.5h-3M34.5 69.7h-3M34.5 64.9h-3M34.5 60.1h-3M34.5 55.3h-3M34.5 50.6h-3M34.5 45.8h-3M34.5 41h-3M34.5 36.2h-3M34.5 31.4h-3M34.5 26.7h-3M34.5 21.9h-3M34.5 17.1h-3" stroke="#151515" stroke-width="1.0" fill="none"/>
<path d="M34.5 136.6h-5.8M34.5 112.7h-5.8M34.5 88.8h-5.8M34.5 64.9h-5.8M34.5 41h-5.8M34.5 17.1h-5.8" stroke="#151515" stroke-width="1.0" fill="none"/>
<text x="35.5" y="153" font-size="10.5" text-anchor="middle" fill="#151515">0</text>
<text x="72" y="153" font-size="10.5" text-anchor="middle" fill="#151515">200</text>
<text x="108.5" y="153" font-size="10.5" text-anchor="middle" fill="#151515">400</text>
<text x="144.9" y="153" font-size="10.5" text-anchor="middle" fill="#151515">600</text>
<text x="181.4" y="153" font-size="10.5" text-anchor="middle" fill="#151515">800</text>
<text x="217.9" y="153" font-size="10.5" text-anchor="middle" fill="#151515">1000</text>
<text x="129" y="166.5" font-size="10.5" text-anchor="middle" textLength="56.5" lengthAdjust="spacingAndGlyphs" fill="#151515">FSC-Height</text>
<text x="25.6" y="134.8" font-size="10.5" text-anchor="middle" transform="rotate(-90 25.6 134.8)" fill="#151515">0</text>
<text x="25.6" y="14.4" font-size="10.5" text-anchor="middle" transform="rotate(-90 25.6 14.4)" fill="#151515">1000</text>
<text x="12.8" y="66" font-size="10.5" text-anchor="middle" transform="rotate(-90 12.8 66)" textLength="58" lengthAdjust="spacingAndGlyphs" fill="#151515">SSC-Height</text>
<text x="43.6" y="33" font-size="16.5" font-weight="bold" fill="#151515">A</text>
<text x="187" y="47.4" font-size="10" fill="#151515">R2</text>
<path transform="scale(.5)" d="m928 110zm44 1zm-21 4zm-53 3zm72 2zm-15 1zm-15 1zm-19 2zm41 0zm-35 1zm11 0zm7 0zm4 0zm15 0zm4 0zm-25 1zm5 0zm3 1zm-6 1zm-18 2zm13 0zm6 0zm-47 1zm33 0zm42 0zm4 0zm-85 1zm64 0zm5 0zm-45 1zm39 0zm25 0zm-30 1zm7 0zm16 0zm-33 1zm12 0zm16 0zm3 0zm5 0zm5 0zm20 0zm-102 1zm66 0zm4 0zm-5 1zm6 0zm-30 1zm11 0zm15 0zm-168 1zm125 0zm20 0zm10 0zm-76 1zm18 0zm47 0zm33 0zm-179 1zm170 0zm4 0zm-96 1zm5 0zm29 0zm-80 1zm55 0zm30 0zm16 0zm8 0zm22 0zm2 0zm-109 1zm23 0zm8 0zm26 0zm19 0zm-25 1zm53 0zm-154 1zm3 0zm141 0zm13 0zm7 0zm-104 1zm10 0zm61 0zm18 0zm1 0zm15 0zm-167 1zm123 0zm40 0zm-88 1zm68 0zm2 0zm17 0zm-149 1zm49 0zm2 0zm107 0zm-98 1zm8 0zm69 0zm-162 1zm76 0zm114 0zm-140 1zm8 0zm104 0zm16 0zm-163 2zm40 0zm1 0zm35 0zm65 0zm2 0zm18 0zm-160 1zm38 1zm109 0zm-125 2zm29 0zm-53 1zm1 0zm10 0zm34 0zm88 0zm-151 1zm14 0zm5 0zm2 0zm9 0zm9 0zm5 0zm136 0zm-174 1zm13 0zm38 0zm125 0zm-167 1zm2 0zm1 0zm3 0zm38 0zm-39 1zm-4 1zm154 0zm-169 1zm10 0zm5 0zm-16 1zm12 0zm1 0zm6 0zm9 0zm-27 1zm10 0zm4 0zm1 0zm1 0zm1 0zm1 0zm28 0zm136 0zm-181 1zm13 0zm33 0zm-44 1zm6 0zm6 0zm4 0zm27 0zm121 0zm-172 1zm17 0zm3 0zm1 0zm1 0zm-18 1zm17 0zm1 0zm1 0zm1 0zm6 0zm-49 1zm20 0zm4 0zm10 0zm6 0zm1 0zm2 0zm-18 1zm3 0zm10 0zm-45 1zm30 0zm12 0zm2 0zm3 0zm140 0zm13 0zm-177 1zm17 0zm1 0zm1 0zm6 0zm-19 1zm17 0zm28 0zm-85 1zm33 0zm6 0zm5 0zm11 0zm1 0zm3 0zm1 0zm-9 1zm2 0zm6 0zm3 0zm14 0zm-49 1zm13 0zm12 0zm3 0zm4 0zm1 0zm3 0zm19 0zm-67 1zm5 0zm4 0zm2 0zm3 0zm4 0zm1 0zm1 0zm1 0zm4 0zm4 0zm2 0zm3 0zm2 0zm1 0zm5 0zm1 0zm-43 1zm17 0zm10 0zm1 0zm15 0zm-27 1zm1 0zm10 0zm5 0zm8 0zm1 0zm1 0zm4 0zm-36 1zm4 0zm5 0zm16 0zm2 0zm2 0zm2 0zm-55 1zm16 0zm15 0zm1 0zm8 0zm4 0zm3 0zm3 0zm5 0zm1 0zm1 0zm1 0zm-10 1zm3 0zm7 0zm-23 1zm1 0zm19 0zm4 0zm-59 1zm13 0zm5 0zm10 0zm12 0zm-57 1zm45 0zm11 0zm8 0zm3 0zm11 0zm-26 1zm4 0zm8 0zm1 0zm7 0zm17 0zm-64 1zm23 0zm15 0zm8 0zm-33 1zm28 0zm5 0zm1 0zm-78 1zm34 0zm4 0zm7 0zm18 0zm11 0zm-36 1zm12 0zm1 0zm1 0zm1 0zm5 0zm6 0zm2 0zm1 0zm2 0zm1 0zm4 0zm5 0zm1 0zm-44 1zm21 0zm20 0zm-80 2zm3 0zm22 0zm9 0zm21 0zm-56 1zm11 0zm4 0zm29 0zm-36 1zm10 0zm1 0zm10 0zm54 0zm-81 1zm1 0zm33 0zm43 0zm-72 1zm1 0zm49 0zm15 0zm-84 1zm23 0zm7 0zm62 0zm1 0zm-82 1zm14 0zm14 0zm3 0zm-38 1zm6 0zm4 0zm-6 1zm4 0zm3 0zm4 0zm-12 1zm3 0zm1 0zm10 0zm28 0zm-43 1zm1 0zm3 0zm4 0zm24 0zm25 0zm-59 1zm2 0zm3 0zm4 0zm18 0zm-30 1zm1 0zm4 0zm1 0zm2 0zm1 0zm1 0zm1 0zm24 0zm1 0zm25 0zm-58 1zm4 0zm1 0zm1 0zm4 0zm2 0zm24 0zm1 0zm6 0zm-45 1zm2 0zm1 0zm1 0zm1 0zm1 0zm1 0zm6 0zm10 0zm9 0zm-33 1zm1 0zm2 0zm2 0zm1 0zm2 0zm2 0zm1 0zm18 0zm72 0zm-101 1zm1 0zm3 0zm1 0zm4 0zm24 0zm-35 1zm3 0zm2 0zm2 0zm1 0zm2 0zm1 0zm4 0zm-16 1zm2 0zm1 0zm1 0zm3 0zm4 0zm2 0zm1 0zm-19 1zm5 0zm3 0zm1 0zm1 0zm2 0zm1 0zm1 0zm1 0zm-13 1zm2 0zm5 0zm1 0zm2 0zm1 0zm1 0zm1 0zm1 0zm-9 1zm2 0zm1 0zm1 0zm1 0zm3 0zm2 0zm21 0zm80 0zm-113 1zm1 0zm1 0zm1 0zm1 0zm1 0zm1 0zm2 0zm1 0zm-37 1zm16 0zm9 0zm3 0zm1 0zm1 0zm1 0zm1 0zm1 0zm1 0zm1 0zm1 0zm5 0zm2 0zm-42 1zm20 0zm4 0zm2 0zm1 0zm1 0zm2 0zm1 0zm2 0zm1 0zm1 0zm3 0zm2 0zm-12 1zm1 0zm1 0zm2 0zm2 0zm1 0zm2 0zm11 0zm5 0zm-49 1zm2 0zm14 0zm1 0zm2 0zm1 0zm1 0zm1 0zm1 0zm1 0zm1 0zm2 0zm1 0zm1 0zm1 0zm1 0zm2 0zm5 0zm138 0zm-188 1zm15 0zm14 0zm5 0zm1 0zm1 0zm1 0zm1 0zm1 0zm2 0zm3 0zm-37 1zm9 0zm6 0zm7 0zm2 0zm3 0zm2 0zm1 0zm1 0zm2 0zm2 0zm1 0zm7 0zm2 0zm163 0zm15 0zm-228 1zm1 0zm5 0zm1 0zm4 0zm10 0zm5 0zm4 0zm2 0zm2 0zm1 0zm2 0zm6 0zm-44 1zm1 0zm1 0zm5 0zm3 0zm20 0zm1 0zm1 0zm1 0zm1 0zm4 0zm5 0zm62 0zm-105 1zm1 0zm3 0zm8 0zm9 0zm6 0zm2 0zm1 0zm1 0zm1 0zm1 0zm1 0zm1 0zm1 0zm2 0zm-38 1zm3 0zm1 0zm1 0zm21 0zm1 0zm2 0zm1 0zm3 0zm3 0zm4 0zm3 0zm-45 1zm2 0zm1 0zm2 0zm2 0zm2 0zm2 0zm10 0zm6 0zm6 0zm1 0zm4 0zm1 0zm1 0zm-45 1zm4 0zm5 0zm2 0zm2 0zm3 0zm14 0zm5 0zm2 0zm1 0zm3 0zm1 0zm-39 1zm1 0zm1 0zm1 0zm1 0zm1 0zm2 0zm5 0zm2 0zm13 0zm1 0zm2 0zm10 0zm-40 1zm1 0zm2 0zm1 0zm2 0zm1 0zm2 0zm1 0zm9 0zm11 0zm3 0zm2 0zm1 0zm1 0zm1 0zm1 0zm5 0zm156 0zm-202 1zm3 0zm2 0zm1 0zm4 0zm20 0zm2 0zm1 0zm1 0zm3 0zm-38 1zm3 0zm3 0zm1 0zm1 0zm3 0zm2 0zm26 0zm3 0zm-41 1zm1 0zm2 0zm3 0zm11 0zm14 0zm5 0zm2 0zm7 0zm-48 1zm1 0zm1 0zm1 0zm1 0zm1 0zm2 0zm1 0zm1 0zm3 0zm6 0zm11 0zm4 0zm3 0zm-40 1zm5 0zm3 0zm1 0zm1 0zm1 0zm14 0zm9 0zm1 0zm6 0zm42 0zm-78 1zm2 0zm2 0zm1 0zm1 0zm1 0zm3 0zm3 0zm13 0zm10 0zm2 0zm6 0zm-45 1zm3 0zm2 0zm1 0zm1 0zm1 0zm1 0zm3 0zm1 0zm11 0zm9 0zm-38 1zm3 0zm1 0zm1 0zm3 0zm3 0zm1 0zm1 0zm2 0zm17 0zm1 0zm5 0zm2 0zm-42 1zm5 0zm1 0zm1 0zm1 0zm1 0zm1 0zm2 0zm3 0zm1 0zm1 0zm22 0zm-35 1zm1 0zm3 0zm2 0zm1 0zm1 0zm1 0zm1 0zm3 0zm6 0zm20 0zm-38 1zm1 0zm1 0zm1 0zm1 0zm2 0zm1 0zm3 0zm17 0zm24 0zm-62 1zm11 0zm1 0zm1 0zm4 0zm2 0zm1 0zm1 0zm1 0zm6 0zm14 0zm-38 1zm4 0zm1 0zm2 0zm2 0zm2 0zm1 0zm1 0zm1 0zm-20 1zm6 0zm2 0zm1 0zm4 0zm1 0zm2 0zm1 0zm2 0zm4 0zm3 0zm2 0zm5 0zm-24 1zm3 0zm1 0zm1 0zm1 0zm1 0zm1 0zm3 0zm-17 1zm2 0zm5 0zm2 0zm2 0zm2 0zm5 0zm-19 1zm4 0zm1 0zm3 0zm2 0zm1 0zm1 0zm2 0zm2 0zm32 0zm136 0zm-177 1zm3 0zm1 0zm1 0zm2 0zm1 0zm1 0zm-8 1zm1 0zm1 0zm1 0zm3 0zm5 0zm-12 1zm1 0zm1 0zm2 0zm1 0zm2 0zm4 0zm-17 1zm5 0zm1 0zm1 0zm3 0zm3 0zm3 0zm247 0zm-255 1zm1 0zm1 0zm-7 1zm1 0zm5 0zm5 0zm-8 1zm2 0zm1 0zm2 0zm1 0zm-15 1zm4 0zm1 0zm1 0zm1 0zm1 0zm1 0zm1 0zm2 0zm-9 1zm1 0zm4 0zm1 0zm287 0zm-291 1zm2 0zm4 0zm-4 1zm6 0zm-4 1zm2 0zm-4 1zm1 0zm1 0zm-13 1zm8 0zm1 0zm4 0zm-9 1zm1 0zm1 0zm5 0zm-3 1zm7 0zm-8 1zm2 1zm192 0zm49 0zm26 0zm-135 1zm7 0zm2 0zm43 0zm19 0zm108 0zm3 0zm-317 1zm4 0z" stroke="#3a3a3a" stroke-width="2.6" stroke-linecap="square" fill="none"/>
<path d="M316 135.6L322 120.3L388.5 82.8L513 38.3L515.6 60L515.6 88.3L390 107.5L340 135.6" stroke="#151515" stroke-width="1.3" fill="none" stroke-linejoin="miter"/>
<path d="M515.3 38L515.3 92" stroke="#151515" stroke-width="2.0" fill="none"/>
<path d="M309.1 12.2L516.2 10.8L516.1 135.9L308.5 135.8Z" stroke="#151515" stroke-width="1.1" fill="none"/>
<path d="M308.5 135.6L345 135.6" stroke="#151515" stroke-width="1.9" fill="none"/>
<path d="M309.5 135.6v3M317.5 135.6v3M325.5 135.6v3M333.5 135.6v3M341.6 135.6v3M349.6 135.6v3M357.6 135.6v3M365.6 135.6v3M373.6 135.6v3M381.6 135.6v3M389.7 135.6v3M397.7 135.6v3M405.7 135.6v3M413.7 135.6v3M421.7 135.6v3M429.7 135.6v3M437.8 135.6v3M445.8 135.6v3M453.8 135.6v3M461.8 135.6v3M469.8 135.6v3M477.8 135.6v3M485.9 135.6v3M493.9 135.6v3M501.9 135.6v3M509.9 135.6v3" stroke="#151515" stroke-width="1.0" fill="none"/>
<path d="M309.5 135.6v5.5M349.6 135.6v5.5M389.7 135.6v5.5M429.7 135.6v5.5M469.8 135.6v5.5M509.9 135.6v5.5" stroke="#151515" stroke-width="1.0" fill="none"/>
<path d="M308.9 135.6h-3M308.9 130.8h-3M308.9 126h-3M308.9 121.2h-3M308.9 116.4h-3M308.9 111.6h-3M308.9 106.8h-3M308.9 101.9h-3M308.9 97.1h-3M308.9 92.3h-3M308.9 87.5h-3M308.9 82.7h-3M308.9 77.9h-3M308.9 73.1h-3M308.9 68.3h-3M308.9 63.5h-3M308.9 58.7h-3M308.9 53.9h-3M308.9 49.1h-3M308.9 44.2h-3M308.9 39.4h-3M308.9 34.6h-3M308.9 29.8h-3M308.9 25h-3M308.9 20.2h-3M308.9 15.4h-3" stroke="#151515" stroke-width="1.0" fill="none"/>
<path d="M308.9 135.6h-5.2M308.9 111.6h-5.2M308.9 87.5h-5.2M308.9 63.5h-5.2M308.9 39.4h-5.2M308.9 15.4h-5.2" stroke="#151515" stroke-width="1.0" fill="none"/>
<text x="309.5" y="152.6" font-size="10.5" text-anchor="middle" fill="#151515">0</text>
<text x="349.6" y="152.6" font-size="10.5" text-anchor="middle" fill="#151515">200</text>
<text x="389.7" y="152.6" font-size="10.5" text-anchor="middle" fill="#151515">400</text>
<text x="429.7" y="152.6" font-size="10.5" text-anchor="middle" fill="#151515">600</text>
<text x="469.8" y="152.6" font-size="10.5" text-anchor="middle" fill="#151515">800</text>
<text x="511.9" y="152.6" font-size="10.5" text-anchor="middle" fill="#151515">1000</text>
<text x="413" y="165.3" font-size="10.5" text-anchor="middle" textLength="44" lengthAdjust="spacingAndGlyphs" fill="#151515">FL3-Area</text>
<text x="299.4" y="133.2" font-size="10.5" text-anchor="middle" transform="rotate(-90 299.4 133.2)" fill="#151515">0</text>
<text x="299.3" y="13.3" font-size="10.5" text-anchor="middle" transform="rotate(-90 299.3 13.3)" fill="#151515">1000</text>
<text x="288.8" y="75" font-size="10.5" text-anchor="middle" transform="rotate(-90 288.8 75)" textLength="49" lengthAdjust="spacingAndGlyphs" fill="#151515">FL3-Width</text>
<text x="318.6" y="32.2" font-size="14.5" textLength="11.4" lengthAdjust="spacingAndGlyphs" fill="#151515" stroke="#151515" stroke-width="0.3">B</text>
<text x="340.5" y="71.2" font-size="10.5" textLength="17.5" lengthAdjust="spacingAndGlyphs" fill="#151515" stroke="#151515" stroke-width="0.3">4 N</text>
<text x="389.5" y="44.5" font-size="10.5" textLength="17.5" lengthAdjust="spacingAndGlyphs" fill="#151515" stroke="#151515" stroke-width="0.3">8 N</text>
<text x="446" y="40" font-size="10.5" textLength="27" lengthAdjust="spacingAndGlyphs" fill="#151515" stroke="#151515" stroke-width="0.3">16 N</text>
<text x="494.6" y="82.4" font-size="10.5" fill="#151515">R1</text>
<path transform="scale(.5)" d="m93 527zm338 4zm-90 2zm47 0zm-289 1zm7 0zm304 3zm9 5zm2 0zm-61 1zm74 1zm-23 1zm4 2zm-81 1zm102 0zm-15 1zm-84 1zm102 0zm-359 1zm30 0zm320 0zm-48 2zm-51 2zm103 0zm-109 2zm89 0zm-297 1zm192 0zm12 0zm21 0zm-28 1zm-26 1zm21 0zm52 0zm12 0zm49 0zm-342 1zm11 0zm255 0zm6 0zm44 0zm5 0zm-308 1zm241 0zm19 0zm3 0zm15 0zm10 0zm2 0zm4 0zm16 0zm3 0zm3 0zm-312 1zm10 0zm167 0zm91 0zm3 0zm9 0zm2 0zm9 0zm2 0zm1 0zm1 0zm13 0zm4 0zm8 0zm5 0zm-318 1zm198 0zm9 0zm31 0zm12 0zm4 0zm2 0zm1 0zm5 0zm24 0zm5 0zm2 0zm4 0zm1 0zm2 0zm14 0zm4 0zm19 0zm-341 1zm191 0zm9 0zm32 0zm17 0zm2 0zm1 0zm3 0zm2 0zm4 0zm2 0zm2 0zm6 0zm3 0zm4 0zm2 0zm7 0zm6 0zm1 0zm1 0zm1 0zm4 0zm6 0zm2 0zm8 0zm2 0zm-71 1zm3 0zm2 0zm5 0zm13 0zm2 0zm5 0zm1 0zm1 0zm1 0zm1 0zm1 0zm1 0zm1 0zm2 0zm2 0zm4 0zm1 0zm2 0zm1 0zm2 0zm4 0zm4 0zm2 0zm10 0zm17 0zm-335 1zm190 0zm56 0zm7 0zm2 0zm4 0zm4 0zm6 0zm2 0zm4 0zm2 0zm7 0zm1 0zm2 0zm3 0zm1 0zm1 0zm1 0zm2 0zm1 0zm1 0zm3 0zm1 0zm2 0zm1 0zm1 0zm1 0zm1 0zm13 0zm2 0zm7 0zm1 0zm7 0zm-211 1zm79 0zm6 0zm1 0zm30 0zm24 0zm3 0zm4 0zm1 0zm1 0zm1 0zm1 0zm1 0zm1 0zm1 0zm2 0zm2 0zm3 0zm1 0zm1 0zm1 0zm1 0zm1 0zm2 0zm2 0zm2 0zm2 0zm1 0zm1 0zm1 0zm2 0zm1 0zm5 0zm6 0zm9 0zm6 0zm7 0zm3 0zm-237 1zm132 0zm15 0zm6 0zm7 0zm5 0zm2 0zm2 0zm3 0zm1 0zm1 0zm1 0zm2 0zm2 0zm1 0zm1 0zm2 0zm1 0zm1 0zm1 0zm1 0zm1 0zm2 0zm1 0zm1 0zm2 0zm3 0zm1 0zm1 0zm1 0zm2 0zm2 0zm1 0zm1 0zm2 0zm2 0zm3 0zm1 0zm1 0zm4 0zm1 0zm1 0zm6 0zm7 0zm2 0zm-209 1zm3 0zm32 0zm2 0zm59 0zm11 0zm3 0zm2 0zm3 0zm8 0zm1 0zm4 0zm1 0zm2 0zm1 0zm1 0zm3 0zm1 0zm1 0zm2 0zm2 0zm1 0zm1 0zm1 0zm1 0zm2 0zm1 0zm1 0zm1 0zm1 0zm1 0zm1 0zm2 0zm1 0zm1 0zm2 0zm1 0zm1 0zm1 0zm1 0zm2 0zm2 0zm1 0zm3 0zm1 0zm3 0zm1 0zm1 0zm1 0zm3 0zm9 0zm2 0zm16 0zm-354 1zm16 0zm3 0zm148 0zm85 0zm2 0zm8 0zm1 0zm3 0zm1 0zm1 0zm1 0zm1 0zm2 0zm2 0zm1 0zm4 0zm1 0zm1 0zm3 0zm1 0zm1 0zm1 0zm2 0zm1 0zm1 0zm1 0zm2 0zm1 0zm1 0zm2 0zm1 0zm1 0zm2 0zm1 0zm1 0zm1 0zm1 0zm1 0zm1 0zm2 0zm1 0zm1 0zm1 0zm1 0zm1 0zm1 0zm1 0zm1 0zm3 0zm1 0zm1 0zm1 0zm5 0zm2 0zm6 0zm1 0zm10 0zm-351 1zm128 0zm16 0zm25 0zm58 0zm9 0zm2 0zm2 0zm9 0zm7 0zm3 0zm4 0zm3 0zm2 0zm2 0zm1 0zm2 0zm2 0zm1 0zm1 0zm1 0zm1 0zm4 0zm1 0zm2 0zm1 0zm1 0zm1 0zm1 0zm2 0zm1 0zm1 0zm1 0zm1 0zm1 0zm1 0zm1 0zm1 0zm1 0zm2 0zm2 0zm1 0zm3 0zm5 0zm1 0zm1 0zm1 0zm1 0zm1 0zm1 0zm1 0zm1 0zm1 0zm1 0zm1 0zm1 0zm1 0zm8 0zm2 0zm11 0zm6 0zm2 0zm-237 1zm58 0zm35 0zm5 0zm44 0zm4 0zm1 0zm1 0zm1 0zm1 0zm1 0zm1 0zm2 0zm1 0zm1 0zm1 0zm1 0zm2 0zm2 0zm2 0zm1 0zm2 0zm1 0zm4 0zm1 0zm1 0zm1 0zm1 0zm1 0zm1 0zm1 0zm1 0zm1 0zm1 0zm1 0zm1 0zm1 0zm1 0zm2 0zm1 0zm1 0zm2 0zm1 0zm1 0zm1 0zm1 0zm3 0zm1 0zm1 0zm4 0zm1 0zm1 0zm1 0zm1 0zm3 0zm1 0zm5 0zm3 0zm2 0zm2 0zm1 0zm9 0zm-346 1zm7 0zm113 0zm39 0zm47 0zm17 0zm3 0zm17 0zm6 0zm5 0zm3 0zm2 0zm1 0zm1 0zm1 0zm2 0zm2 0zm2 0zm1 0zm2 0zm3 0zm1 0zm2 0zm3 0zm2 0zm1 0zm3 0zm1 0zm1 0zm1 0zm2 0zm1 0zm1 0zm1 0zm1 0zm1 0zm2 0zm1 0zm1 0zm1 0zm1 0zm2 0zm1 0zm2 0zm2 0zm1 0zm2 0zm3 0zm3 0zm4 0zm4 0zm3 0zm2 0zm-345 1zm15 0zm8 0zm91 0zm7 0zm9 0zm1 0zm2 0zm1 0zm47 0zm52 0zm1 0zm2 0zm7 0zm1 0zm2 0zm1 0zm6 0zm7 0zm3 0zm2 0zm3 0zm3 0zm1 0zm5 0zm3 0zm2 0zm1 0zm1 0zm1 0zm1 0zm1 0zm1 0zm1 0zm1 0zm4 0zm1 0zm2 0zm1 0zm2 0zm1 0zm1 0zm1 0zm1 0zm2 0zm1 0zm1 0zm1 0zm1 0zm8 0zm5 0zm1 0zm2 0zm3 0zm5 0zm2 0zm7 0zm17 0zm-356 1zm13 0zm11 0zm9 0zm91 0zm5 0zm10 0zm74 0zm24 0zm3 0zm1 0zm5 0zm2 0zm6 0zm3 0zm3 0zm7 0zm3 0zm1 0zm1 0zm2 0zm1 0zm1 0zm3 0zm3 0zm4 0zm1 0zm1 0zm3 0zm2 0zm1 0zm1 0zm2 0zm3 0zm1 0zm1 0zm2 0zm2 0zm2 0zm1 0zm1 0zm1 0zm1 0zm1 0zm1 0zm1 0zm2 0zm1 0zm4 0zm1 0zm3 0zm15 0zm1 0zm2 0zm5 0zm5 0zm6 0zm1 0zm-353 1zm1 0zm15 0zm90 0zm53 0zm24 0zm10 0zm8 0zm22 0zm3 0zm5 0zm1 0zm3 0zm16 0zm1 0zm1 0zm1 0zm6 0zm1 0zm2 0zm1 0zm1 0zm1 0zm1 0zm3 0zm1 0zm1 0zm1 0zm1 0zm1 0zm3 0zm6 0zm1 0zm2 0zm2 0zm1 0zm1 0zm1 0zm2 0zm1 0zm1 0zm5 0zm1 0zm3 0zm1 0zm1 0zm1 0zm1 0zm1 0zm1 0zm7 0zm3 0zm7 0zm3 0zm-330 1zm3 0zm11 0zm10 0zm55 0zm18 0zm6 0zm3 0zm4 0zm11 0zm11 0zm2 0zm33 0zm14 0zm2 0zm26 0zm9 0zm7 0zm5 0zm4 0zm3 0zm6 0zm8 0zm5 0zm1 0zm2 0zm1 0zm1 0zm2 0zm1 0zm6 0zm1 0zm1 0zm1 0zm1 0zm1 0zm5 0zm4 0zm2 0zm1 0zm1 0zm1 0zm8 0zm4 0zm2 0zm3 0zm2 0zm1 0zm3 0zm1 0zm2 0zm13 0zm3 0zm-334 1zm1 0zm4 0zm94 0zm5 0zm6 0zm7 0zm1 0zm5 0zm3 0zm55 0zm12 0zm3 0zm2 0zm5 0zm7 0zm3 0zm5 0zm3 0zm2 0zm10 0zm3 0zm9 0zm1 0zm1 0zm3 0zm2 0zm3 0zm8 0zm1 0zm8 0zm4 0zm5 0zm3 0zm7 0zm1 0zm6 0zm2 0zm6 0zm1 0zm4 0zm11 0zm4 0zm-332 1zm19 0zm2 0zm12 0zm64 0zm17 0zm3 0zm3 0zm2 0zm15 0zm4 0zm31 0zm10 0zm2 0zm8 0zm1 0zm12 0zm2 0zm21 0zm7 0zm2 0zm3 0zm10 0zm2 0zm2 0zm2 0zm1 0zm3 0zm4 0zm2 0zm10 0zm13 0zm7 0zm2 0zm4 0zm4 0zm1 0zm3 0zm2 0zm-316 1zm15 0zm4 0zm85 0zm11 0zm4 0zm15 0zm5 0zm9 0zm46 0zm2 0zm1 0zm10 0zm1 0zm6 0zm3 0zm9 0zm1 0zm3 0zm6 0zm7 0zm3 0zm4 0zm3 0zm15 0zm20 0zm21 0zm7 0zm8 0zm36 0zm-336 1zm6 0zm87 0zm2 0zm1 0zm1 0zm2 0zm3 0zm6 0zm5 0zm28 0zm27 0zm3 0zm5 0zm10 0zm6 0zm2 0zm6 0zm2 0zm13 0zm2 0zm9 0zm9 0zm1 0zm10 0zm1 0zm5 0zm10 0zm1 0zm1 0zm3 0zm3 0zm16 0zm7 0zm8 0zm15 0zm24 0zm-358 1zm7 0zm7 0zm2 0zm3 0zm4 0zm84 0zm1 0zm7 0zm1 0zm4 0zm2 0zm9 0zm2 0zm1 0zm1 0zm4 0zm6 0zm24 0zm15 0zm13 0zm2 0zm3 0zm2 0zm1 0zm2 0zm6 0zm7 0zm13 0zm20 0zm44 0zm36 0zm-299 1zm56 0zm11 0zm4 0zm4 0zm7 0zm2 0zm1 0zm1 0zm3 0zm3 0zm1 0zm1 0zm1 0zm3 0zm5 0zm33 0zm1 0zm24 0zm1 0zm6 0zm8 0zm1 0zm3 0zm15 0zm2 0zm2 0zm2 0zm8 0zm14 0zm2 0zm19 0zm2 0zm15 0zm18 0zm-309 1zm2 0zm3 0zm17 0zm77 0zm1 0zm12 0zm2 0zm4 0zm1 0zm1 0zm1 0zm7 0zm1 0zm11 0zm32 0zm12 0zm2 0zm2 0zm6 0zm4 0zm7 0zm1 0zm6 0zm3 0zm8 0zm2 0zm1 0zm9 0zm1 0zm3 0zm4 0zm5 0zm3 0zm7 0zm-252 1zm2 0zm23 0zm9 0zm44 0zm5 0zm8 0zm4 0zm1 0zm1 0zm15 0zm1 0zm5 0zm1 0zm2 0zm4 0zm2 0zm1 0zm1 0zm3 0zm23 0zm3 0zm15 0zm1 0zm2 0zm11 0zm1 0zm3 0zm1 0zm11 0zm2 0zm4 0zm14 0zm46 0zm31 0zm24 0zm1 0zm-333 1zm26 0zm9 0zm62 0zm1 0zm1 0zm2 0zm2 0zm6 0zm4 0zm3 0zm3 0zm3 0zm2 0zm3 0zm1 0zm2 0zm1 0zm4 0zm2 0zm3 0zm7 0zm10 0zm3 0zm4 0zm12 0zm3 0zm1 0zm2 0zm2 0zm2 0zm3 0zm1 0zm3 0zm3 0zm1 0zm15 0zm12 0zm24 0zm10 0zm-265 1zm8 0zm14 0zm3 0zm11 0zm66 0zm6 0zm2 0zm10 0zm2 0zm3 0zm1 0zm1 0zm1 0zm1 0zm1 0zm2 0zm2 0zm3 0zm1 0zm1 0zm3 0zm1 0zm2 0zm7 0zm1 0zm15 0zm1 0zm8 0zm6 0zm5 0zm4 0zm7 0zm3 0zm8 0zm2 0zm14 0zm3 0zm89 0zm10 0zm-319 1zm5 0zm5 0zm7 0zm1 0zm54 0zm30 0zm10 0zm1 0zm1 0zm2 0zm2 0zm1 0zm1 0zm5 0zm2 0zm1 0zm1 0zm5 0zm13 0zm7 0zm1 0zm2 0zm2 0zm17 0zm1 0zm5 0zm13 0zm9 0zm29 0zm39 0zm23 0zm-293 1zm2 0zm17 0zm5 0zm69 0zm7 0zm2 0zm1 0zm1 0zm1 0zm7 0zm1 0zm1 0zm3 0zm2 0zm1 0zm2 0zm4 0zm1 0zm1 0zm2 0zm3 0zm1 0zm3 0zm6 0zm5 0zm5 0zm1 0zm1 0zm2 0zm3 0zm8 0zm4 0zm4 0zm3 0zm1 0zm4 0zm2 0zm5 0zm1 0zm14 0zm13 0zm50 0zm70 0zm-341 1zm6 0zm88 0zm11 0zm6 0zm1 0zm1 0zm2 0zm1 0zm2 0zm1 0zm1 0zm1 0zm1 0zm2 0zm2 0zm1 0zm1 0zm1 0zm2 0zm2 0zm1 0zm2 0zm1 0zm1 0zm3 0zm17 0zm4 0zm4 0zm6 0zm13 0zm2 0zm14 0zm12 0zm24 0zm-243 1zm11 0zm4 0zm34 0zm16 0zm35 0zm4 0zm4 0zm1 0zm1 0zm2 0zm2 0zm2 0zm5 0zm1 0zm2 0zm3 0zm1 0zm1 0zm1 0zm2 0zm5 0zm3 0zm1 0zm1 0zm3 0zm4 0zm3 0zm19 0zm4 0zm3 0zm11 0zm2 0zm28 0zm6 0zm99 0zm-329 1zm2 0zm16 0zm3 0zm2 0zm3 0zm3 0zm1 0zm2 0zm2 0zm49 0zm14 0zm5 0zm4 0zm1 0zm9 0zm1 0zm2 0zm1 0zm1 0zm2 0zm2 0zm1 0zm1 0zm1 0zm1 0zm1 0zm1 0zm1 0zm1 0zm2 0zm1 0zm1 0zm2 0zm2 0zm1 0zm1 0zm1 0zm4 0zm1 0zm3 0zm7 0zm3 0zm1 0zm12 0zm1 0zm98 0zm32 0zm-301 1zm3 0zm3 0zm6 0zm5 0zm83 0zm3 0zm1 0zm1 0zm1 0zm1 0zm2 0zm4 0zm2 0zm1 0zm1 0zm1 0zm1 0zm1 0zm1 0zm1 0zm2 0zm1 0zm2 0zm1 0zm1 0zm1 0zm1 0zm1 0zm1 0zm2 0zm1 0zm2 0zm1 0zm2 0zm2 0zm4 0zm2 0zm3 0zm3 0zm7 0zm7 0zm2 0zm11 0zm16 0zm44 0zm-239 1zm4 0zm8 0zm2 0zm5 0zm1 0zm5 0zm18 0zm50 0zm5 0zm2 0zm6 0zm2 0zm3 0zm1 0zm1 0zm1 0zm1 0zm1 0zm1 0zm1 0zm1 0zm1 0zm1 0zm1 0zm1 0zm1 0zm1 0zm1 0zm1 0zm1 0zm1 0zm2 0zm1 0zm2 0zm1 0zm1 0zm1 0zm1 0zm7 0zm1 0zm2 0zm12 0zm8 0zm13 0zm1 0zm18 0zm25 0zm43 0zm40 0zm34 0zm-346 1zm5 0zm1 0zm12 0zm2 0zm32 0zm29 0zm22 0zm2 0zm2 0zm1 0zm2 0zm1 0zm1 0zm2 0zm1 0zm1 0zm2 0zm1 0zm1 0zm1 0zm1 0zm1 0zm1 0zm1 0zm1 0zm1 0zm1 0zm2 0zm1 0zm1 0zm1 0zm2 0zm1 0zm1 0zm1 0zm1 0zm1 0zm1 0zm1 0zm1 0zm7 0zm16 0zm6 0zm2 0zm20 0zm70 0zm69 0zm-337 1zm1 0zm11 0zm13 0zm4 0zm12 0zm37 0zm24 0zm2 0zm2 0zm1 0zm1 0zm3 0zm1 0zm1 0zm1 0zm1 0zm2 0zm1 0zm1 0zm1 0zm1 0zm1 0zm1 0zm1 0zm1 0zm1 0zm1 0zm1 0zm1 0zm1 0zm1 0zm1 0zm2 0zm2 0zm2 0zm2 0zm2 0zm2 0zm6 0zm37 0zm110 0zm10 0zm-306 1zm11 0zm6 0zm4 0zm3 0zm1 0zm7 0zm66 0zm5 0zm6 0zm1 0zm1 0zm1 0zm1 0zm2 0zm2 0zm1 0zm1 0zm1 0zm1 0zm1 0zm1 0zm1 0zm1 0zm1 0zm1 0zm1 0zm1 0zm1 0zm1 0zm1 0zm1 0zm1 0zm1 0zm2 0zm1 0zm2 0zm1 0zm1 0zm2 0zm2 0zm6 0zm1 0zm10 0zm8 0zm2 0zm179 0zm-339 1zm1 0zm1 0zm4 0zm2 0zm5 0zm1 0zm6 0zm68 0zm2 0zm4 0zm5 0zm2 0zm1 0zm1 0zm1 0zm1 0zm1 0zm1 0zm1 0zm1 0zm1 0zm1 0zm1 0zm1 0zm1 0zm1 0zm1 0zm1 0zm1 0zm1 0zm1 0zm1 0zm1 0zm1 0zm1 0zm1 0zm4 0zm1 0zm1 0zm1 0zm5 0zm6 0zm9 0zm45 0zm11 0zm142 0zm-351 1zm7 0zm75 0zm7 0zm8 0zm1 0zm1 0zm2 0zm3 0zm1 0zm1 0zm1 0zm2 0zm1 0zm1 0zm1 0zm1 0zm1 0zm1 0zm1 0zm1 0zm1 0zm1 0zm1 0zm1 0zm1 0zm1 0zm1 0zm1 0zm1 0zm2 0zm2 0zm1 0zm1 0zm1 0zm3 0zm1 0zm29 0zm12 0zm71 0zm-256 1zm12 0zm1 0zm6 0zm2 0zm1 0zm72 0zm2 0zm6 0zm5 0zm1 0zm2 0zm2 0zm1 0zm1 0zm1 0zm1 0zm1 0zm3 0zm1 0zm1 0zm1 0zm2 0zm2 0zm1 0zm1 0zm1 0zm1 0zm1 0zm2 0zm1 0zm2 0zm2 0zm2 0zm5 0zm3 0zm4 0zm2 0zm7 0zm172 0zm2 0zm-334 1zm11 0zm2 0zm8 0zm63 0zm2 0zm10 0zm2 0zm1 0zm2 0zm1 0zm2 0zm2 0zm1 0zm1 0zm1 0zm2 0zm1 0zm1 0zm1 0zm1 0zm1 0zm1 0zm3 0zm1 0zm1 0zm2 0zm1 0zm3 0zm1 0zm2 0zm1 0zm1 0zm1 0zm1 0zm2 0zm4 0zm3 0zm9 0zm18 0zm53 0zm25 0zm5 0zm-258 1zm6 0zm9 0zm5 0zm1 0zm4 0zm40 0zm17 0zm5 0zm11 0zm1 0zm3 0zm2 0zm3 0zm2 0zm1 0zm1 0zm1 0zm1 0zm1 0zm1 0zm1 0zm4 0zm1 0zm1 0zm1 0zm1 0zm1 0zm2 0zm2 0zm3 0zm1 0zm2 0zm1 0zm1 0zm5 0zm6 0zm-152 1zm20 0zm1 0zm3 0zm7 0zm40 0zm25 0zm1 0zm2 0zm1 0zm2 0zm2 0zm1 0zm2 0zm1 0zm4 0zm2 0zm1 0zm2 0zm1 0zm1 0zm1 0zm2 0zm1 0zm1 0zm1 0zm1 0zm1 0zm1 0zm1 0zm1 0zm1 0zm1 0zm3 0zm2 0zm1 0zm2 0zm4 0zm1 0zm1 0zm-147 1zm7 0zm2 0zm1 0zm4 0zm1 0zm2 0zm1 0zm10 0zm2 0zm5 0zm53 0zm1 0zm9 0zm3 0zm3 0zm1 0zm1 0zm1 0zm1 0zm3 0zm2 0zm1 0zm1 0zm1 0zm3 0zm2 0zm1 0zm3 0zm1 0zm1 0zm1 0zm1 0zm1 0zm1 0zm1 0zm1 0zm1 0zm1 0zm1 0zm1 0zm2 0zm1 0zm2 0zm1 0zm2 0zm1 0zm1 0zm-134 1zm5 0zm1 0zm2 0zm4 0zm3 0zm6 0zm48 0zm6 0zm2 0zm7 0zm4 0zm1 0zm1 0zm1 0zm1 0zm1 0zm1 0zm3 0zm2 0zm1 0zm1 0zm1 0zm1 0zm1 0zm1 0zm2 0zm2 0zm1 0zm1 0zm1 0zm1 0zm2 0zm1 0zm2 0zm2 0zm2 0zm1 0zm3 0zm6 0zm15 0zm-159 1zm7 0zm1 0zm3 0zm3 0zm5 0zm1 0zm4 0zm48 0zm5 0zm14 0zm3 0zm1 0zm2 0zm1 0zm1 0zm2 0zm3 0zm1 0zm2 0zm1 0zm2 0zm1 0zm1 0zm1 0zm1 0zm1 0zm2 0zm1 0zm1 0zm2 0zm1 0zm2 0zm1 0zm3 0zm1 0zm2 0zm5 0zm2 0zm2 0zm8 0zm12 0zm14 0zm48 0zm-209 1zm2 0zm4 0zm4 0zm11 0zm1 0zm1 0zm4 0zm5 0zm21 0zm8 0zm15 0zm3 0zm2 0zm1 0zm2 0zm3 0zm3 0zm1 0zm1 0zm1 0zm3 0zm1 0zm1 0zm1 0zm1 0zm1 0zm1 0zm4 0zm1 0zm1 0zm1 0zm1 0zm2 0zm1 0zm5 0zm1 0zm1 0zm2 0zm5 0zm4 0zm3 0zm190 0zm-331 1zm3 0zm3 0zm1 0zm2 0zm1 0zm6 0zm1 0zm3 0zm2 0zm5 0zm1 0zm3 0zm29 0zm21 0zm1 0zm5 0zm3 0zm1 0zm1 0zm1 0zm3 0zm3 0zm2 0zm2 0zm1 0zm1 0zm1 0zm6 0zm1 0zm1 0zm1 0zm1 0zm1 0zm3 0zm1 0zm1 0zm3 0zm1 0zm4 0zm1 0zm3 0zm12 0zm-152 1zm4 0zm14 0zm3 0zm2 0zm5 0zm3 0zm6 0zm3 0zm28 0zm10 0zm1 0zm4 0zm3 0zm1 0zm3 0zm1 0zm1 0zm4 0zm2 0zm1 0zm2 0zm2 0zm1 0zm2 0zm1 0zm1 0zm1 0zm1 0zm1 0zm4 0zm3 0zm1 0zm1 0zm1 0zm1 0zm1 0zm9 0zm11 0zm5 0zm93 0zm-241 1zm4 0zm3 0zm1 0zm1 0zm3 0zm1 0zm7 0zm1 0zm1 0zm8 0zm11 0zm2 0zm36 0zm2 0zm3 0zm1 0zm1 0zm5 0zm2 0zm2 0zm1 0zm1 0zm1 0zm1 0zm2 0zm1 0zm1 0zm1 0zm2 0zm1 0zm2 0zm2 0zm1 0zm3 0zm1 0zm1 0zm3 0zm3 0zm1 0zm2 0zm3 0zm1 0zm7 0zm-133 1zm7 0zm1 0zm1 0zm2 0zm2 0zm4 0zm1 0zm1 0zm2 0zm1 0zm1 0zm3 0zm1 0zm1 0zm5 0zm34 0zm2 0zm1 0zm10 0zm3 0zm1 0zm2 0zm1 0zm1 0zm2 0zm2 0zm2 0zm1 0zm6 0zm1 0zm2 0zm2 0zm2 0zm2 0zm2 0zm1 0zm1 0zm7 0zm3 0zm11 0zm1 0zm3 0zm49 0zm-191 1zm1 0zm2 0zm7 0zm2 0zm1 0zm1 0zm2 0zm3 0zm1 0zm4 0zm1 0zm1 0zm2 0zm2 0zm1 0zm1 0zm4 0zm14 0zm13 0zm5 0zm1 0zm8 0zm2 0zm4 0zm3 0zm2 0zm1 0zm1 0zm1 0zm2 0zm1 0zm1 0zm3 0zm1 0zm1 0zm1 0zm2 0zm5 0zm2 0zm4 0zm1 0zm2 0zm1 0zm1 0zm2 0zm3 0zm1 0zm2 0zm8 0zm4 0zm6 0zm39 0zm-176 1zm1 0zm3 0zm3 0zm3 0zm1 0zm1 0zm1 0zm2 0zm1 0zm1 0zm4 0zm11 0zm2 0zm1 0zm8 0zm16 0zm5 0zm2 0zm1 0zm4 0zm2 0zm1 0zm4 0zm4 0zm2 0zm1 0zm1 0zm1 0zm1 0zm1 0zm1 0zm2 0zm2 0zm3 0zm2 0zm1 0zm15 0zm7 0zm9 0zm3 0zm-142 1zm2 0zm2 0zm1 0zm1 0zm2 0zm2 0zm3 0zm2 0zm3 0zm2 0zm1 0zm2 0zm1 0zm5 0zm3 0zm2 0zm9 0zm20 0zm10 0zm6 0zm1 0zm1 0zm5 0zm1 0zm1 0zm2 0zm3 0zm2 0zm6 0zm3 0zm1 0zm7 0zm13 0zm62 0zm-188 1zm1 0zm9 0zm1 0zm1 0zm2 0zm1 0zm1 0zm1 0zm1 0zm1 0zm3 0zm1 0zm5 0zm2 0zm1 0zm2 0zm3 0zm4 0zm16 0zm14 0zm2 0zm1 0zm6 0zm1 0zm3 0zm1 0zm2 0zm9 0zm1 0zm1 0zm7 0zm13 0zm8 0zm28 0zm-151 1zm1 0zm1 0zm3 0zm2 0zm3 0zm3 0zm1 0zm2 0zm1 0zm1 0zm1 0zm1 0zm2 0zm2 0zm2 0zm1 0zm4 0zm1 0zm2 0zm2 0zm8 0zm4 0zm3 0zm9 0zm2 0zm1 0zm8 0zm2 0zm2 0zm4 0zm2 0zm3 0zm3 0zm2 0zm1 0zm1 0zm4 0zm1 0zm14 0zm2 0zm6 0zm-115 1zm2 0zm1 0zm2 0zm1 0zm1 0zm3 0zm4 0zm3 0zm1 0zm3 0zm1 0zm8 0zm7 0zm3 0zm5 0zm1 0zm3 0zm6 0zm4 0zm2 0zm2 0zm2 0zm2 0zm4 0zm3 0zm2 0zm1 0zm1 0zm1 0zm1 0zm1 0zm1 0zm2 0zm2 0zm4 0zm7 0zm14 0zm59 0zm-174 1zm1 0zm3 0zm4 0zm1 0zm2 0zm1 0zm1 0zm1 0zm4 0zm1 0zm3 0zm2 0zm3 0zm4 0zm3 0zm1 0zm3 0zm1 0zm5 0zm8 0zm14 0zm2 0zm2 0zm2 0zm1 0zm5 0zm2 0zm1 0zm3 0zm1 0zm3 0zm5 0zm5 0zm2 0zm2 0zm8 0zm5 0zm1 0zm6 0zm-124 1zm1 0zm1 0zm10 0zm2 0zm3 0zm1 0zm1 0zm1 0zm1 0zm1 0zm1 0zm1 0zm1 0zm2 0zm7 0zm1 0zm2 0zm8 0zm8 0zm1 0zm3 0zm4 0zm3 0zm2 0zm2 0zm4 0zm2 0zm2 0zm2 0zm4 0zm2 0zm4 0zm1 0zm1 0zm2 0zm3 0zm2 0zm7 0zm3 0zm9 0zm-109 1zm1 0zm1 0zm4 0zm1 0zm2 0zm1 0zm1 0zm2 0zm1 0zm1 0zm7 0zm5 0zm23 0zm5 0zm2 0zm2 0zm2 0zm1 0zm1 0zm2 0zm2 0zm3 0zm1 0zm1 0zm2 0zm1 0zm1 0zm3 0zm2 0zm11 0zm14 0zm9 0zm-121 1zm1 0zm3 0zm2 0zm2 0zm1 0zm6 0zm3 0zm1 0zm3 0zm1 0zm2 0zm1 0zm2 0zm2 0zm1 0zm1 0zm1 0zm1 0zm2 0zm5 0zm4 0zm1 0zm1 0zm1 0zm7 0zm2 0zm1 0zm2 0zm1 0zm1 0zm4 0zm3 0zm3 0zm5 0zm7 0zm3 0zm1 0zm3 0zm10 0zm10 0zm62 0zm-170 1zm1 0zm1 0zm2 0zm1 0zm3 0zm5 0zm2 0zm1 0zm1 0zm1 0zm1 0zm7 0zm1 0zm1 0zm3 0zm1 0zm1 0zm1 0zm3 0zm9 0zm2 0zm6 0zm2 0zm3 0zm2 0zm2 0zm1 0zm3 0zm1 0zm2 0zm1 0zm2 0zm2 0zm3 0zm1 0zm5 0zm1 0zm3 0zm6 0zm1 0zm-95 1zm1 0zm4 0zm1 0zm2 0zm2 0zm1 0zm1 0zm1 0zm1 0zm2 0zm2 0zm1 0zm1 0zm1 0zm1 0zm2 0zm2 0zm3 0zm1 0zm2 0zm1 0zm2 0zm1 0zm5 0zm1 0zm2 0zm1 0zm1 0zm2 0zm1 0zm2 0zm2 0zm1 0zm1 0zm1 0zm1 0zm1 0zm2 0zm2 0zm3 0zm6 0zm5 0zm3 0zm4 0zm2 0zm-81 1zm2 0zm1 0zm1 0zm3 0zm1 0zm1 0zm1 0zm1 0zm1 0zm1 0zm1 0zm1 0zm3 0zm1 0zm1 0zm1 0zm1 0zm3 0zm1 0zm1 0zm2 0zm4 0zm5 0zm1 0zm1 0zm3 0zm2 0zm1 0zm5 0zm1 0zm2 0zm1 0zm1 0zm3 0zm2 0zm4 0zm13 0zm17 0zm15 0zm-118 1zm3 0zm1 0zm5 0zm7 0zm1 0zm1 0zm1 0zm1 0zm1 0zm1 0zm2 0zm1 0zm1 0zm2 0zm1 0zm2 0zm2 0zm12 0zm2 0zm1 0zm4 0zm1 0zm2 0zm1 0zm1 0zm2 0zm2 0zm3 0zm2 0zm1 0zm1 0zm3 0zm4 0zm2 0zm3 0zm1 0zm4 0zm1 0zm17 0zm-101 1zm1 0zm1 0zm6 0zm1 0zm2 0zm1 0zm2 0zm1 0zm1 0zm3 0zm1 0zm1 0zm1 0zm1 0zm1 0zm1 0zm1 0zm2 0zm1 0zm2 0zm1 0zm2 0zm2 0zm1 0zm2 0zm2 0zm3 0zm2 0zm2 0zm4 0zm1 0zm3 0zm1 0zm1 0zm2 0zm6 0zm1 0zm1 0zm1 0zm1 0zm4 0zm2 0zm1 0zm2 0zm28 0zm-106 1zm2 0zm1 0zm1 0zm3 0zm2 0zm1 0zm1 0zm1 0zm1 0zm1 0zm1 0zm2 0zm1 0zm2 0zm2 0zm1 0zm1 0zm3 0zm1 0zm2 0zm1 0zm1 0zm2 0zm1 0zm4 0zm1 0zm2 0zm2 0zm1 0zm1 0zm3 0zm2 0zm1 0zm1 0zm1 0zm1 0zm2 0zm1 0zm1 0zm1 0zm1 0zm2 0zm1 0zm5 0zm2 0zm13 0zm4 0zm-90 1zm1 0zm1 0zm1 0zm2 0zm1 0zm1 0zm2 0zm4 0zm1 0zm1 0zm1 0zm1 0zm4 0zm4 0zm1 0zm2 0zm1 0zm1 0zm1 0zm2 0zm1 0zm1 0zm1 0zm1 0zm2 0zm2 0zm1 0zm1 0zm1 0zm1 0zm5 0zm1 0zm1 0zm4 0zm2 0zm3 0zm3 0zm1 0zm3 0zm4 0zm1 0zm3 0zm16 0zm-91 1zm1 0zm1 0zm1 0zm1 0zm2 0zm2 0zm1 0zm1 0zm1 0zm1 0zm1 0zm1 0zm1 0zm1 0zm1 0zm1 0zm2 0zm1 0zm2 0zm1 0zm1 0zm2 0zm1 0zm1 0zm1 0zm2 0zm1 0zm1 0zm1 0zm1 0zm1 0zm2 0zm2 0zm2 0zm2 0zm1 0zm2 0zm4 0zm1 0zm2 0zm3 0zm1 0zm1 0zm4 0zm2 0zm9 0zm57 0zm41 0zm-171 1zm2 0zm1 0zm1 0zm1 0zm2 0zm6 0zm1 0zm1 0zm1 0zm1 0zm1 0zm1 0zm1 0zm2 0zm3 0zm1 0zm1 0zm1 0zm1 0zm1 0zm2 0zm3 0zm1 0zm4 0zm3 0zm1 0zm1 0zm3 0zm3 0zm2 0zm6 0zm1 0zm1 0zm2 0zm1 0zm11 0zm1 0zm-79 1zm5 0zm1 0zm1 0zm1 0zm1 0zm1 0zm1 0zm1 0zm1 0zm1 0zm2 0zm1 0zm2 0zm1 0zm1 0zm1 0zm1 0zm1 0zm1 0zm1 0zm1 0zm1 0zm1 0zm1 0zm1 0zm1 0zm12 0zm8 0zm4 0zm2 0zm2 0zm2 0zm2 0zm2 0zm7 0zm-70 1zm1 0zm2 0zm2 0zm1 0zm1 0zm1 0zm3 0zm2 0zm1 0zm1 0zm1 0zm1 0zm1 0zm1 0zm1 0zm1 0zm2 0zm2 0zm1 0zm1 0zm1 0zm1 0zm1 0zm1 0zm1 0zm4 0zm3 0zm2 0zm2 0zm1 0zm4 0zm1 0zm1 0zm4 0zm2 0zm2 0zm1 0zm1 0zm1 0zm-64 1zm1 0zm4 0zm1 0zm1 0zm2 0zm2 0zm1 0zm2 0zm1 0zm1 0zm1 0zm1 0zm1 0zm1 0zm1 0zm1 0zm1 0zm1 0zm2 0zm1 0zm1 0zm3 0zm1 0zm3 0zm1 0zm2 0zm1 0zm3 0zm1 0zm1 0zm1 0zm2 0zm5 0zm1 0zm7 0zm1 0zm1 0zm8 0zm-69 1zm2 0zm1 0zm3 0zm1 0zm2 0zm2 0zm1 0zm1 0zm2 0zm1 0zm1 0zm1 0zm1 0zm1 0zm1 0zm1 0zm2 0zm2 0zm2 0zm1 0zm1 0zm2 0zm2 0zm1 0zm1 0zm1 0zm1 0zm1 0zm1 0zm3 0zm2 0zm8 0zm5 0zm1 0zm8 0zm-68 1zm1 0zm1 0zm1 0zm1 0zm2 0zm1 0zm2 0zm1 0zm1 0zm1 0zm1 0zm1 0zm1 0zm1 0zm1 0zm1 0zm1 0zm2 0zm2 0zm1 0zm2 0zm1 0zm1 0zm1 0zm1 0zm2 0zm1 0zm1 0zm3 0zm4 0zm1 0zm1 0zm2 0zm1 0zm8 0zm3 0zm1 0zm-57 1zm1 0zm1 0zm1 0zm2 0zm3 0zm1 0zm1 0zm1 0zm1 0zm1 0zm1 0zm1 0zm1 0zm1 0zm1 0zm1 0zm1 0zm1 0zm1 0zm1 0zm1 0zm1 0zm1 0zm1 0zm1 0zm1 0zm2 0zm1 0zm1 0zm1 0zm1 0zm3 0zm1 0zm1 0zm1 0zm1 0zm1 0zm2 0zm2 0zm1 0zm5 0zm24 0zm22 0zm-100 1zm2 0zm1 0zm1 0zm2 0zm1 0zm1 0zm1 0zm1 0zm1 0zm2 0zm2 0zm1 0zm1 0zm1 0zm1 0zm1 0zm1 0zm1 0zm1 0zm1 0zm1 0zm1 0zm1 0zm1 0zm2 0zm1 0zm2 0zm1 0zm1 0zm1 0zm1 0zm1 0zm1 0zm2 0zm1 0zm3 0zm2 0zm3 0zm1 0zm1 0zm5 0zm-57 1zm2 0zm1 0zm1 0zm1 0zm2 0zm2 0zm1 0zm1 0zm1 0zm1 0zm1 0zm1 0zm1 0zm1 0zm1 0zm1 0zm1 0zm3 0zm1 0zm2 0zm2 0zm1 0zm1 0zm1 0zm1 0zm2 0zm4 0zm1 0zm1 0zm4 0zm1 0zm1 0zm1 0zm5 0zm15 0zm5 0zm-71 1zm1 0zm2 0zm1 0zm1 0zm1 0zm1 0zm1 0zm1 0zm1 0zm2 0zm1 0zm1 0zm1 0zm1 0zm1 0zm1 0zm1 0zm1 0zm1 0zm1 0zm2 0zm1 0zm1 0zm1 0zm1 0zm2 0zm1 0zm1 0zm1 0zm1 0zm2 0zm1 0zm2 0zm3 0zm3 0zm5 0zm2 0zm12 0zm13 0zm-77 1zm3 0zm2 0zm1 0zm1 0zm1 0zm1 0zm2 0zm1 0zm1 0zm1 0zm1 0zm1 0zm2 0zm1 0zm1 0zm1 0zm1 0zm1 0zm1 0zm1 0zm1 0zm1 0zm1 0zm3 0zm1 0zm1 0zm1 0zm2 0zm1 0zm5 0zm6 0zm2 0zm1 0zm-52 1zm2 0zm2 0zm1 0zm1 0zm2 0zm2 0zm1 0zm1 0zm1 0zm2 0zm1 0zm1 0zm1 0zm1 0zm1 0zm1 0zm1 0zm1 0zm3 0zm1 0zm1 0zm3 0zm3 0zm1 0zm2 0zm1 0zm6 0zm-40 1zm1 0zm1 0zm1 0zm2 0zm1 0zm2 0zm2 0zm1 0zm1 0zm1 0zm1 0zm2 0zm1 0zm1 0zm2 0zm1 0zm1 0zm1 0zm2 0zm1 0zm3 0zm1 0zm4 0zm2 0zm2 0zm1 0zm1 0zm8 0zm-53 1zm1 0zm1 0zm2 0zm1 0zm2 0zm2 0zm1 0zm1 0zm1 0zm1 0zm1 0zm3 0zm2 0zm1 0zm1 0zm1 0zm2 0zm1 0zm1 0zm1 0zm1 0zm5 0zm1 0zm1 0zm1 0zm1 0zm1 0zm1 0zm7 0zm59 0zm15 0zm-118 1zm1 0zm2 0zm1 0zm3 0zm3 0zm2 0zm2 0zm2 0zm1 0zm1 0zm1 0zm1 0zm1 0zm2 0zm1 0zm1 0zm1 0zm1 0zm1 0zm1 0zm1 0zm2 0zm1 0zm1 0zm3 0zm6 0zm1 0zm1 0zm20 0zm-66 1zm2 0zm2 0zm3 0zm1 0zm1 0zm1 0zm1 0zm1 0zm1 0zm2 0zm1 0zm1 0zm1 0zm2 0zm1 0zm1 0zm2 0zm1 0zm1 0zm1 0zm1 0zm1 0zm4 0zm3 0zm3 0zm4 0zm2 0zm11 0zm-56 1zm2 0zm1 0zm1 0zm1 0zm1 0zm2 0zm1 0zm1 0zm1 0zm1 0zm2 0zm1 0zm1 0zm1 0zm3 0zm1 0zm1 0zm1 0zm1 0zm2 0zm2 0zm1 0zm1 0zm3 0zm3 0zm12 0zm-49 1zm5 0zm2 0zm1 0zm1 0zm1 0zm2 0zm1 0zm1 0zm1 0zm1 0zm1 0zm1 0zm1 0zm2 0zm1 0zm1 0zm1 0zm1 0zm1 0zm2 0zm2 0zm2 0zm1 0zm3 0zm1 0zm2 0zm-35 1zm1 0zm2 0zm1 0zm1 0zm1 0zm1 0zm1 0zm1 0zm3 0zm1 0zm2 0zm1 0zm1 0zm1 0zm3 0zm4 0zm2 0zm2 0zm-32 1zm1 0zm1 0zm3 0zm1 0zm1 0zm1 0zm1 0zm2 0zm1 0zm1 0zm1 0zm1 0zm1 0zm1 0zm2 0zm2 0zm2 0zm2 0zm1 0zm1 0zm1 0zm2 0zm1 0zm155 0zm-185 1zm2 0zm1 0zm1 0zm2 0zm2 0zm1 0zm3 0zm3 0zm3 0zm1 0zm1 0zm10 0zm1 0zm2 0zm6 0zm4 0zm2 0zm-46 1zm1 0zm1 0zm1 0zm4 0zm1 0zm1 0zm2 0zm2 0zm2 0zm1 0zm1 0zm7 0zm1 0zm3 0zm1 0zm1 0zm-30 1zm1 0zm4 0zm1 0zm2 0zm2 0zm2 0zm1 0zm1 0zm2 0zm1 0zm1 0zm1 0zm1 0zm1 0zm5 0zm1 0zm4 0zm10 0zm8 0zm-49 1zm1 0zm1 0zm2 0zm2 0zm2 0zm1 0zm1 0zm1 0zm1 0zm1 0zm1 0zm2 0zm2 0zm1 0zm3 0zm5 0zm3 0zm10 0zm4 0zm4 0zm-48 1zm3 0zm2 0zm1 0zm1 0zm3 0zm3 0zm2 0zm2 0zm2 0zm1 0zm1 0zm2 0zm4 0zm1 0zm-27 1zm1 0zm1 0zm2 0zm3 0zm2 0zm2 0zm4 0zm2 0zm5 0zm3 0zm-26 1zm2 0zm2 0zm1 0zm1 0zm2 0zm1 0zm2 0zm3 0zm1 0zm3 0zm2 0zm4 0zm39 0zm-62 1zm2 0zm8 0zm7 0zm1 0zm2 0zm1 0zm1 0zm1 0zm3 0zm1 0zm3 0zm10 0zm5 0zm-46 1zm3 0zm6 0zm10 0zm12 0zm5 0zm11 0zm-41 1zm1 0zm1 0zm1 0zm2 0zm1 0zm4 0zm1 0zm6 0zm2 0zm7 0zm-30 1zm3 0zm2 0zm1 0zm4 0zm10 0zm1 0zm2 0zm12 0zm4 0zm-32 1zm4 0zm1 0zm3 0zm6 0zm4 0zm4 0zm-28 1zm19 0zm7 0zm-25 1zm12 0zm7 0zm9 0zm-2 1zm1 0zm7 0zm1 0zm-39 1zm4 0zm3 0zm16 0zm9 0zm-32 1zm28 0zm4 0zm-15 1zm20 0zm-17 2zm26 0zm-45 2zm7 0zm5 0zm5 0zm18 0zm-27 1zm2 0zm13 0zm1 0zm-12 1zm17 0zm-14 1zm2 0zm2 0zm6 0zm3 0zm-4 2zm-11 1zm7 0zm-16 3z" stroke="#3c3c3c" stroke-width="2.4" stroke-linecap="square" fill="none"/>
<path transform="scale(.5)" d="m364 561zm26 0zm-11 1zm15 1zm9 0zm11 0zm-38 1zm14 0zm9 0zm1 0zm7 0zm-36 1zm27 0zm3 0zm3 0zm-21 1zm3 0zm6 0zm1 0zm1 0zm2 0zm6 0zm4 0zm-34 1zm10 0zm1 0zm9 0zm2 0zm4 0zm3 0zm10 0zm-48 1zm8 0zm4 0zm5 0zm3 0zm7 0zm2 0zm2 0zm6 0zm6 0zm-27 1zm1 0zm3 0zm1 0zm1 0zm1 0zm1 0zm1 0zm1 0zm3 0zm1 0zm1 0zm2 0zm7 0zm1 0zm1 0zm-197 1zm161 0zm2 0zm7 0zm4 0zm1 0zm3 0zm2 0zm1 0zm1 0zm1 0zm1 0zm2 0zm1 0zm2 0zm1 0zm3 0zm2 0zm3 0zm7 0zm-45 1zm9 0zm1 0zm1 0zm1 0zm1 0zm2 0zm1 0zm1 0zm2 0zm6 0zm2 0zm1 0zm1 0zm1 0zm1 0zm1 0zm1 0zm6 0zm4 0zm-192 1zm154 0zm6 0zm1 0zm1 0zm2 0zm1 0zm1 0zm1 0zm1 0zm1 0zm2 0zm1 0zm1 0zm2 0zm1 0zm2 0zm3 0zm4 0zm3 0zm-43 1zm3 0zm1 0zm4 0zm2 0zm5 0zm1 0zm3 0zm1 0zm2 0zm2 0zm2 0zm1 0zm1 0zm1 0zm1 0zm3 0zm3 0zm5 0zm1 0zm13 0zm-48 1zm10 0zm4 0zm2 0zm2 0zm1 0zm1 0zm5 0zm1 0zm3 0zm1 0zm2 0zm4 0zm-38 1zm5 0zm5 0zm7 0zm1 0zm1 0zm1 0zm5 0zm1 0zm2 0zm4 0zm3 0zm14 0zm-203 1zm165 0zm3 0zm3 0zm2 0zm2 0zm7 0zm1 0zm9 0zm8 0zm-47 1zm1 0zm22 0zm1 0zm6 0zm1 0zm-218 1zm208 0zm5 0zm4 0zm2 0zm-195 1zm10 0zm176 0zm-5 1zm6 0zm-188 1zm174 0zm-184 1zm18 0zm170 0zm-182 1zm4 0zm5 0zm1 1zm8 0zm-4 1zm10 0zm-25 1zm13 0zm-23 1zm15 0zm1 0zm3 0zm3 0zm1 0zm3 0zm7 0zm-35 1zm8 0zm6 0zm2 0zm2 0zm1 0zm17 0zm4 0zm-32 1zm1 0zm1 0zm8 0zm4 0zm6 0zm-25 1zm3 0zm1 0zm3 0zm1 0zm1 0zm2 0zm1 0zm4 0zm2 0zm2 0zm5 0zm6 0zm-38 1zm8 0zm7 0zm5 0zm3 0zm10 0zm2 0zm-35 1zm6 0zm5 0zm1 0zm1 0zm1 0zm2 0zm5 0zm1 0zm7 0zm1 0zm1 0zm1 0zm1 0zm1 0zm1 0zm1 0zm1 0zm2 0zm2 0zm2 0zm-40 1zm9 0zm2 0zm1 0zm1 0zm1 0zm2 0zm1 0zm2 0zm1 0zm1 0zm1 0zm2 0zm11 0zm1 0zm-33 1zm2 0zm2 0zm6 0zm5 0zm4 0zm3 0zm3 0zm3 0zm3 0zm2 0zm1 0zm4 0zm-39 1zm5 0zm1 0zm2 0zm4 0zm2 0zm2 0zm1 0zm1 0zm1 0zm6 0zm4 0zm1 0zm1 0zm3 0zm-36 1zm3 0zm3 0zm1 0zm1 0zm1 0zm2 0zm1 0zm3 0zm2 0zm1 0zm1 0zm1 0zm1 0zm2 0zm2 0zm1 0zm3 0zm2 0zm1 0zm-130 1zm87 0zm7 0zm7 0zm5 0zm1 0zm1 0zm2 0zm1 0zm1 0zm1 0zm1 0zm2 0zm1 0zm4 0zm1 0zm4 0zm1 0zm2 0zm2 0zm1 0zm4 0zm-40 1zm1 0zm3 0zm1 0zm1 0zm1 0zm2 0zm2 0zm2 0zm6 0zm1 0zm1 0zm2 0zm1 0zm1 0zm1 0zm7 0zm3 0zm2 0zm17 0zm-52 1zm2 0zm2 0zm1 0zm3 0zm1 0zm2 0zm1 0zm1 0zm1 0zm1 0zm3 0zm2 0zm3 0zm2 0zm2 0zm1 0zm1 0zm1 0zm4 0zm13 0zm-52 1zm2 0zm2 0zm4 0zm2 0zm1 0zm4 0zm1 0zm3 0zm2 0zm1 0zm1 0zm1 0zm1 0zm1 0zm1 0zm1 0zm2 0zm2 0zm1 0zm2 0zm1 0zm1 0zm4 0zm-39 1zm1 0zm4 0zm1 0zm2 0zm2 0zm1 0zm2 0zm1 0zm1 0zm1 0zm2 0zm2 0zm1 0zm2 0zm1 0zm1 0zm3 0zm2 0zm6 0zm4 0zm-44 1zm10 0zm1 0zm1 0zm5 0zm2 0zm1 0zm1 0zm1 0zm1 0zm1 0zm1 0zm3 0zm1 0zm1 0zm1 0zm3 0zm8 0zm-59 1zm10 0zm5 0zm7 0zm1 0zm3 0zm2 0zm1 0zm1 0zm1 0zm5 0zm1 0zm1 0zm1 0zm4 0zm5 0zm1 0zm8 0zm-51 1zm7 0zm1 0zm2 0zm2 0zm4 0zm2 0zm2 0zm1 0zm2 0zm2 0zm2 0zm1 0zm2 0zm1 0zm3 0zm7 0zm1 0zm2 0zm1 0zm-110 1zm64 0zm10 0zm1 0zm4 0zm6 0zm2 0zm1 0zm1 0zm1 0zm3 0zm2 0zm1 0zm1 0zm1 0zm2 0zm2 0zm2 0zm3 0zm1 0zm3 0zm2 0zm6 0zm-135 1zm94 0zm9 0zm3 0zm1 0zm2 0zm2 0zm3 0zm3 0zm5 0zm1 0zm4 0zm-45 1zm13 0zm3 0zm2 0zm4 0zm1 0zm2 0zm5 0zm1 0zm6 0zm3 0zm3 0zm1 0zm1 0zm1 0zm-139 1zm8 0zm33 0zm44 0zm10 0zm6 0zm4 0zm2 0zm4 0zm2 0zm3 0zm2 0zm1 0zm3 0zm3 0zm4 0zm1 0zm3 0zm2 0zm2 0zm3 0zm-127 1zm7 0zm10 0zm65 0zm2 0zm1 0zm2 0zm5 0zm1 0zm5 0zm1 0zm7 0zm2 0zm2 0zm3 0zm8 0zm-115 1zm44 0zm34 0zm2 0zm8 0zm5 0zm4 0zm1 0zm1 0zm9 0zm7 0zm4 0zm-114 1zm11 0zm59 0zm2 0zm1 0zm3 0zm2 0zm4 0zm1 0zm6 0zm2 0zm3 0zm5 0zm2 0zm5 0zm-118 1zm1 0zm7 0zm7 0zm12 0zm47 0zm9 0zm7 0zm2 0zm9 0zm5 0zm8 0zm1 0zm1 0zm-99 1zm2 0zm48 0zm7 0zm2 0zm7 0zm21 0zm2 0zm-112 1zm17 0zm48 0zm5 0zm1 0zm2 0zm6 0zm2 0zm1 0zm7 0zm6 0zm6 0zm11 0zm-106 1zm4 0zm6 0zm4 0zm43 0zm3 0zm1 0zm4 0zm1 0zm1 0zm5 0zm4 0zm4 0zm5 0zm2 0zm2 0zm3 0zm2 0zm9 0zm8 0zm1 0zm14 0zm4 0zm-136 1zm1 0zm12 0zm9 0zm38 0zm15 0zm2 0zm1 0zm3 0zm4 0zm8 0zm1 0zm8 0zm11 0zm7 0zm-112 1zm7 0zm1 0zm4 0zm10 0zm29 0zm8 0zm7 0zm5 0zm9 0zm4 0zm18 0zm-105 1zm4 0zm4 0zm1 0zm2 0zm1 0zm2 0zm4 0zm33 0zm5 0zm1 0zm7 0zm12 0zm1 0zm21 0zm-109 1zm7 0zm10 0zm1 0zm2 0zm8 0zm2 0zm4 0zm4 0zm22 0zm9 0zm4 0zm3 0zm4 0zm2 0zm4 0zm-84 1zm3 0zm14 0zm1 0zm1 0zm5 0zm14 0zm11 0zm1 0zm12 0zm4 0zm1 0zm2 0zm2 0zm2 0zm1 0zm2 0zm5 0zm3 0zm1 0zm3 0zm-83 1zm2 0zm3 0zm1 0zm3 0zm2 0zm5 0zm1 0zm6 0zm15 0zm16 0zm6 0zm4 0zm2 0zm1 0zm3 0zm1 0zm1 0zm4 0zm8 0zm-82 1zm13 0zm24 0zm6 0zm11 0zm1 0zm2 0zm1 0zm1 0zm5 0zm4 0zm1 0zm4 0zm-81 1zm12 0zm3 0zm4 0zm2 0zm1 0zm8 0zm8 0zm20 0zm3 0zm6 0zm3 0zm1 0zm3 0zm36 0zm-108 1zm5 0zm1 0zm4 0zm1 0zm1 0zm4 0zm1 0zm1 0zm3 0zm4 0zm5 0zm1 0zm5 0zm2 0zm10 0zm4 0zm3 0zm2 0zm4 0zm12 0zm9 0zm3 0zm-87 1zm6 0zm6 0zm6 0zm2 0zm1 0zm1 0zm2 0zm2 0zm1 0zm5 0zm1 0zm2 0zm6 0zm9 0zm8 0zm5 0zm1 0zm5 0zm1 0zm-67 1zm2 0zm5 0zm4 0zm2 0zm6 0zm5 0zm2 0zm3 0zm3 0zm12 0zm3 0zm3 0zm16 0zm1 0zm2 0zm11 0zm-78 1zm7 0zm4 0zm1 0zm1 0zm1 0zm1 0zm3 0zm7 0zm5 0zm1 0zm2 0zm6 0zm11 0zm3 0zm7 0zm6 0zm-71 1zm2 0zm4 0zm2 0zm4 0zm1 0zm2 0zm4 0zm1 0zm1 0zm2 0zm1 0zm2 0zm6 0zm2 0zm7 0zm2 0zm3 0zm1 0zm1 0zm1 0zm7 0zm-55 1zm2 0zm2 0zm1 0zm2 0zm3 0zm3 0zm1 0zm1 0zm2 0zm1 0zm2 0zm1 0zm1 0zm2 0zm3 0zm3 0zm6 0zm1 0zm4 0zm4 0zm1 0zm5 0zm1 0zm3 0zm7 0zm3 0zm1 0zm2 0zm-67 1zm1 0zm1 0zm6 0zm3 0zm10 0zm3 0zm4 0zm1 0zm1 0zm6 0zm4 0zm2 0zm2 0zm6 0zm3 0zm-52 1zm6 0zm1 0zm1 0zm1 0zm1 0zm1 0zm1 0zm4 0zm1 0zm3 0zm8 0zm2 0zm1 0zm5 0zm1 0zm2 0zm2 0zm1 0zm2 0zm1 0zm2 0zm1 0zm7 0zm-57 1zm1 0zm2 0zm3 0zm3 0zm2 0zm2 0zm1 0zm3 0zm1 0zm1 0zm7 0zm3 0zm5 0zm5 0zm2 0zm4 0zm1 0zm-48 1zm1 0zm2 0zm1 0zm2 0zm3 0zm2 0zm2 0zm2 0zm1 0zm3 0zm1 0zm1 0zm1 0zm3 0zm1 0zm1 0zm1 0zm2 0zm1 0zm3 0zm3 0zm5 0zm1 0zm1 0zm4 0zm2 0zm1 0zm7 0zm-56 1zm1 0zm3 0zm3 0zm2 0zm1 0zm1 0zm1 0zm1 0zm1 0zm3 0zm1 0zm2 0zm1 0zm1 0zm1 0zm2 0zm2 0zm2 0zm4 0zm1 0zm1 0zm3 0zm4 0zm-39 1zm2 0zm2 0zm4 0zm1 0zm3 0zm1 0zm1 0zm2 0zm1 0zm1 0zm2 0zm1 0zm1 0zm2 0zm3 0zm1 0zm5 0zm1 0zm5 0zm1 0zm5 0zm2 0zm-52 1zm1 0zm3 0zm2 0zm1 0zm1 0zm1 0zm1 0zm3 0zm6 0zm1 0zm1 0zm1 0zm1 0zm2 0zm4 0zm5 0zm1 0zm1 0zm1 0zm2 0zm1 0zm1 0zm2 0zm2 0zm-39 1zm7 0zm1 0zm3 0zm1 0zm1 0zm3 0zm1 0zm1 0zm1 0zm3 0zm4 0zm2 0zm4 0zm4 0zm6 0zm-46 1zm2 0zm1 0zm1 0zm5 0zm1 0zm2 0zm1 0zm1 0zm2 0zm2 0zm1 0zm1 0zm2 0zm2 0zm2 0zm2 0zm1 0zm1 0zm1 0zm2 0zm3 0zm10 0zm-46 1zm1 0zm3 0zm2 0zm1 0zm1 0zm1 0zm1 0zm1 0zm1 0zm2 0zm2 0zm1 0zm1 0zm1 0zm2 0zm1 0zm5 0zm2 0zm3 0zm2 0zm5 0zm4 0zm-44 1zm3 0zm7 0zm1 0zm1 0zm2 0zm1 0zm1 0zm1 0zm2 0zm1 0zm1 0zm1 0zm1 0zm1 0zm1 0zm3 0zm4 0zm1 0zm2 0zm5 0zm-35 1zm1 0zm1 0zm2 0zm5 0zm2 0zm1 0zm1 0zm1 0zm2 0zm1 0zm7 0zm3 0zm1 0zm2 0zm-34 1zm4 0zm1 0zm1 0zm1 0zm1 0zm1 0zm1 0zm1 0zm1 0zm1 0zm1 0zm1 0zm2 0zm1 0zm1 0zm2 0zm4 0zm1 0zm-28 1zm3 0zm5 0zm1 0zm1 0zm1 0zm1 0zm2 0zm1 0zm1 0zm1 0zm1 0zm4 0zm1 0zm1 0zm1 0zm2 0zm1 0zm1 0zm6 0zm1 0zm7 0zm2 0zm-43 1zm2 0zm6 0zm5 0zm3 0zm2 0zm1 0zm1 0zm1 0zm1 0zm1 0zm2 0zm1 0zm3 0zm1 0zm2 0zm-34 1zm3 0zm2 0zm1 0zm1 0zm1 0zm2 0zm1 0zm4 0zm4 0zm1 0zm1 0zm1 0zm1 0zm1 0zm1 0zm2 0zm1 0zm2 0zm12 0zm-41 1zm4 0zm1 0zm2 0zm1 0zm1 0zm1 0zm1 0zm2 0zm1 0zm1 0zm1 0zm1 0zm1 0zm2 0zm3 0zm1 0zm8 0zm-32 1zm4 0zm1 0zm4 0zm1 0zm1 0zm1 0zm2 0zm1 0zm2 0zm1 0zm2 0zm1 0zm3 0zm2 0zm10 0zm1 0zm3 0zm-37 1zm1 0zm4 0zm1 0zm1 0zm1 0zm2 0zm5 0zm1 0zm1 0zm7 0zm4 0zm2 0zm-33 1zm5 0zm2 0zm3 0zm1 0zm1 0zm5 0zm2 0zm1 0zm1 0zm1 0zm8 0zm10 0zm-41 1zm1 0zm3 0zm1 0zm1 0zm2 0zm3 0zm2 0zm2 0zm1 0zm1 0zm15 0zm-32 1zm1 0zm2 0zm2 0zm6 0zm1 0zm4 0zm2 0zm5 0zm3 0zm1 0zm-24 1zm5 0zm2 0zm2 0zm1 0zm3 0zm2 0zm7 0zm5 0zm7 0zm-36 1zm1 0zm1 0zm3 0zm3 0zm2 0zm2 0zm2 0zm3 0zm2 0zm-19 1zm5 0zm2 0zm1 0zm1 0zm2 0zm3 0zm1 0zm3 0zm10 0zm-22 1zm10 0zm1 0zm4 0zm5 0zm-28 1zm11 0zm5 0zm9 0zm2 0zm4 0zm4 0zm-26 1zm5 0zm6 0zm5 0zm8 0zm-32 1zm1 0zm16 0zm2 0zm8 0zm-23 1zm3 0zm-2 1zm4 0zm14 0zm-19 1zm32 0zm-26 1zm17 0zm6 0zm3 0zm-36 1zm3 0zm6 1zm39 1zm-45 1zm31 3zm-22 7z" stroke="#6c6c6c" stroke-width="2.4" stroke-linecap="square" fill="none"/>
<path transform="scale(.5)" d="m416 449zm-117 14zm-42 10zm-134 3zm230 7zm-83 1zm171 0zm-157 3zm80 3zm-287 1zm165 2zm20 0zm-121 3zm132 0zm43 0zm-24 3zm42 1zm-206 6zm181 0zm-106 1zm188 4zm-256 1zm-37 4zm90 0zm155 1zm100 1zm-310 1zm-41 1zm308 0zm-271 4zm26 0zm240 0zm-260 1zm93 1zm50 1zm42 0zm-237 1zm167 0zm-112 1zm82 0zm162 2zm-155 1zm97 0zm64 1zm-252 1zm167 0zm-115 1zm147 0zm-138 1zm195 0zm-277 1zm198 0zm54 0zm-217 3zm214 0zm17 0zm-245 2zm182 0zm61 0zm-88 1zm65 0zm38 0zm-171 1zm105 0zm24 1zm59 0zm-95 1zm116 0zm-319 1zm245 1zm-117 2zm163 0zm-296 2zm90 0zm203 0zm-320 1zm95 0zm27 0zm42 0zm40 0zm36 0zm5 0zm47 0zm19 1zm27 1zm-245 1zm106 0zm59 1zm104 0zm-362 1zm56 0zm254 0zm21 0zm-196 1zm62 0zm56 0zm2 0zm-28 1zm103 1zm-215 1zm135 0zm45 0zm-299 1zm200 0zm52 0zm10 0zm-197 1zm100 1zm52 0zm67 0zm-17 1zm-239 1zm301 0zm-228 1zm-75 1zm33 0zm44 0zm11 0zm56 0zm27 0zm-138 1zm49 0zm101 0zm90 0zm44 0zm-160 1zm42 0zm2 0zm-152 1zm18 0zm137 0zm28 0zm-96 1zm23 0zm30 0zm61 0zm-265 1zm54 0zm188 0zm20 0zm-266 1zm76 0zm37 0zm83 0zm47 0zm-190 1zm136 0zm9 0zm50 0zm-134 2zm35 0zm22 0zm3 0zm-121 1zm67 0zm11 0zm93 0zm-97 1zm4 0zm51 0zm-102 1zm10 0zm-40 1zm119 0zm20 0zm-60 1zm-17 1zm90 0zm2 0zm-132 1zm28 1zm-99 1zm13 0zm8 0zm9 0zm69 0zm-90 1zm113 0zm-110 1zm31 0zm61 0zm-30 1zm18 0zm73 0zm-169 1zm94 1zm34 0zm29 0zm-106 1zm21 0zm11 0zm40 0zm31 0zm-122 1zm6 0zm37 0zm9 0zm-69 1zm117 0zm-86 1zm4 0zm36 0zm37 0zm-87 1zm77 0zm-88 1zm7 0zm-7 1zm44 0zm-37 1zm16 0zm3 0zm-37 1zm19 0zm20 0zm-4 1zm27 0zm19 0zm16 0zm-114 1zm32 0zm-8 2zm34 0zm3 0zm-8 1zm-31 1zm64 0zm-63 1zm19 0zm5 0zm1 0zm32 0zm6 0zm-81 2zm2 0zm45 0zm3 0zm-28 1zm4 0zm15 0zm-34 1zm9 0zm11 0zm9 0zm6 0zm7 0zm-25 1zm9 0zm6 0zm3 0zm-38 1zm21 0zm23 0zm5 0zm22 0zm-30 1zm-42 1zm11 0zm14 0zm2 0zm-24 1zm6 0zm27 0zm15 0zm-52 1zm24 0zm42 0zm-55 1zm-19 1zm3 0zm22 0zm1 0zm25 0zm14 0zm-52 1zm12 0zm12 0zm12 0zm-32 1zm2 0zm20 0zm19 0zm-44 1zm15 0zm7 0zm2 0zm6 0zm3 0zm-33 1zm18 0zm1 0zm26 0zm-41 1zm1 0zm23 0zm-23 1zm21 0zm4 0zm-28 1zm13 0zm1 0zm5 0zm-31 1zm25 0zm17 0zm-42 1zm1 0zm4 0zm33 0zm-27 1zm-9 2zm20 1zm13 0zm-33 2zm12 0zm8 0zm7 0zm-27 1zm3 1zm2 0zm9 0zm-20 1zm6 0zm4 0zm5 1zm-15 1zm5 0zm5 1zm-5 1zm-4 1zm2 3zm1 0zm-1 1zm-1 3z" stroke="#2e2e2e" stroke-width="2.8" stroke-linecap="square" fill="none"/>
<rect x="37.4" y="219.5" width="185.3" height="125.2" fill="none" stroke="#151515" stroke-width="1.1"/>
<path d="M37.4 340.1h-2.8M37.4 335.7h-2.8M37.4 332h-2.8M37.4 328.8h-2.8M37.4 325.9h-2.8M37.4 323.4h-2.8M37.4 306.7h-2.8M37.4 296.9h-2.8M37.4 290h-2.8M37.4 284.6h-2.8M37.4 280.2h-2.8M37.4 276.5h-2.8M37.4 273.3h-2.8M37.4 270.4h-2.8M37.4 267.9h-2.8M37.4 251.2h-2.8M37.4 241.4h-2.8M37.4 234.5h-2.8M37.4 229.1h-2.8M37.4 224.7h-2.8M37.4 221h-2.8" stroke="#151515" stroke-width="1.0" fill="none"/>
<path d="M37.4 323.4h-5.4M37.4 267.9h-5.4" stroke="#151515" stroke-width="1.0" fill="none"/>
<path d="M40.5 344.7v4.2M88.7 344.7v4.2M136.9 344.7v4.2M185.1 344.7v4.2" stroke="#151515" stroke-width="1.0" fill="none"/>
<path d="M40.5 344.7v2.6M50.1 344.7v2.6M59.8 344.7v2.6M69.4 344.7v2.6M79.1 344.7v2.6M88.7 344.7v2.6M98.3 344.7v2.6M108 344.7v2.6M117.6 344.7v2.6M127.3 344.7v2.6M136.9 344.7v2.6M146.5 344.7v2.6M156.2 344.7v2.6M165.8 344.7v2.6M175.5 344.7v2.6M185.1 344.7v2.6M194.7 344.7v2.6M204.4 344.7v2.6M214 344.7v2.6" stroke="#151515" stroke-width="1.0" fill="none"/>
<text x="42.5" y="360" font-size="10.5" text-anchor="middle" fill="#151515">200</text>
<text x="90.2" y="360" font-size="10.5" text-anchor="middle" fill="#151515">400</text>
<text x="138.4" y="360" font-size="10.5" text-anchor="middle" fill="#151515">600</text>
<text x="186.6" y="360" font-size="10.5" text-anchor="middle" fill="#151515">800</text>
<text x="131.3" y="374" font-size="10.5" text-anchor="middle" textLength="44" lengthAdjust="spacingAndGlyphs" fill="#151515">FL3-Area</text>
<text x="12.2" y="282.5" font-size="10.5" text-anchor="middle" transform="rotate(-90 12.2 282.5)" textLength="87" lengthAdjust="spacingAndGlyphs" fill="#151515">Mouse IgG1 FITC</text>
<text x="30.8" y="332.4" font-size="10.5" fill="#151515" transform="rotate(-90 30.8 332.4)">10<tspan dy="-6.6" font-size="10">1</tspan></text>
<text x="30.8" y="276.9" font-size="10.5" fill="#151515" transform="rotate(-90 30.8 276.9)">10<tspan dy="-6.6" font-size="10">2</tspan></text>
<text x="45" y="238.8" font-size="16.2" fill="#151515" stroke="#151515" stroke-width="0.3">C</text>
<text transform="translate(47.3 261.3) scale(1.1 1)" font-size="16.3" letter-spacing="1.8" fill="#151515" stroke="#151515" stroke-width="0.2">8N</text>
<text transform="translate(90.8 256.7) scale(1.1 1)" font-size="16.3" letter-spacing="1.6" fill="#151515" stroke="#151515" stroke-width="0.2">16N</text>
<text transform="translate(168.2 249.3) scale(1.1 1)" font-size="16.3" letter-spacing="1.5" fill="#151515" stroke="#151515" stroke-width="0.2">32N</text>
<path transform="scale(.5)" d="m936 500zm9 0zm30 3zm-47 1zm18 1zm18 1zm7 0zm-18 1zm2 1zm22 0zm16 0zm-246 1zm209 0zm-7 1zm3 0zm9 0zm12 0zm13 0zm6 0zm-238 1zm207 0zm2 0zm11 1zm-215 1zm212 0zm-22 1zm18 0zm9 0zm-215 1zm172 0zm13 0zm3 0zm16 0zm5 0zm-218 1zm179 1zm18 0zm18 0zm-36 1zm36 0zm4 0zm16 0zm-24 1zm8 0zm6 0zm-219 1zm2 0zm174 0zm38 0zm-13 1zm-204 1zm191 0zm5 0zm5 0zm21 0zm2 0zm-221 1zm201 0zm12 0zm3 0zm5 0zm9 0zm-216 1zm161 0zm33 0zm14 0zm-32 1zm10 0zm12 0zm22 0zm-55 1zm26 0zm3 0zm7 0zm-220 1zm3 0zm193 0zm15 0zm19 0zm-235 1zm4 0zm13 0zm188 0zm16 0zm4 0zm-222 1zm189 0zm1 0zm6 0zm21 0zm7 0zm-23 1zm8 0zm9 0zm12 0zm-221 1zm190 0zm21 0zm-213 1zm5 0zm200 0zm2 0zm7 0zm-217 1zm6 0zm1 0zm200 0zm8 0zm1 0zm2 0zm10 0zm6 0zm-237 1zm3 0zm1 0zm3 0zm4 0zm7 0zm165 0zm9 0zm-194 1zm8 0zm233 0zm-339 1zm112 0zm177 0zm15 0zm4 0zm5 0zm9 0zm1 0zm6 0zm-339 1zm108 0zm211 0zm5 0zm-329 1zm122 0zm2 0zm6 0zm2 0zm180 0zm5 0zm5 0zm8 0zm-320 1zm107 0zm4 0zm112 0zm25 0zm36 0zm28 0zm-198 1zm164 0zm15 0zm12 0zm-186 1zm1 0zm244 0zm-263 1zm4 0zm1 0zm4 0zm9 0zm198 0zm9 0zm7 0zm3 0zm-230 1zm11 0zm140 0zm45 0zm18 0zm45 0zm8 0zm-266 1zm2 0zm1 0zm2 0zm1 0zm1 0zm-16 1zm13 0zm1 0zm157 0zm22 0zm70 0zm-359 1zm112 0zm4 0zm2 0zm161 0zm44 0zm13 0zm-234 1zm3 0zm7 0zm6 0zm145 0zm53 0zm-330 1zm118 0zm4 0zm5 0zm2 0zm8 0zm137 0zm46 0zm47 0zm-247 1zm6 0zm4 0zm1 0zm67 0zm122 0zm5 0zm2 0zm66 0zm-382 1zm5 0zm114 0zm4 0zm5 0zm71 0zm3 0zm52 0zm38 0zm3 0zm-291 1zm106 0zm2 0zm4 0zm3 0zm1 0zm133 0zm33 0zm28 0zm67 0zm-371 1zm98 0zm1 0zm1 0zm2 0zm4 0zm1 0zm1 0zm2 0zm199 0zm2 0zm8 0zm6 0zm-342 1zm14 0zm101 0zm2 0zm3 0zm8 0zm159 0zm5 0zm13 0zm7 0zm6 0zm33 0zm12 0zm20 0zm-274 1zm4 0zm4 0zm1 0zm1 0zm2 0zm2 0zm150 0zm26 0zm11 0zm10 0zm2 0zm10 0zm8 0zm9 0zm30 0zm8 0zm-382 1zm4 0zm110 0zm8 0zm155 0zm72 0zm3 0zm24 0zm5 0zm-388 1zm5 0zm110 0zm3 0zm3 0zm3 0zm11 0zm111 0zm22 0zm45 0zm25 0zm21 0zm21 0zm12 0zm-386 1zm1 0zm6 0zm5 0zm89 0zm8 0zm3 0zm1 0zm4 0zm1 0zm24 0zm121 0zm8 0zm4 0zm14 0zm8 0zm10 0zm38 0zm6 0zm10 0zm18 0zm1 0zm-381 1zm4 0zm1 0zm2 0zm106 0zm1 0zm6 0zm1 0zm1 0zm1 0zm16 0zm95 0zm8 0zm5 0zm26 0zm24 0zm2 0zm4 0zm5 0zm2 0zm8 0zm1 0zm2 0zm2 0zm9 0zm30 0zm6 0zm-379 1zm17 0zm98 0zm7 0zm6 0zm8 0zm99 0zm66 0zm11 0zm16 0zm2 0zm6 0zm5 0zm27 0zm16 0zm3 0zm1 0zm5 0zm3 0zm-382 1zm58 0zm53 0zm3 0zm2 0zm1 0zm7 0zm44 0zm101 0zm18 0zm26 0zm4 0zm3 0zm3 0zm6 0zm4 0zm1 0zm6 0zm11 0zm4 0zm29 0zm-384 1zm2 0zm117 0zm119 0zm3 0zm29 0zm3 0zm28 0zm6 0zm1 0zm3 0zm4 0zm2 0zm13 0zm9 0zm5 0zm5 0zm2 0zm2 0zm1 0zm2 0zm3 0zm9 0zm5 0zm2 0zm-378 1zm1 0zm110 0zm1 0zm7 0zm2 0zm1 0zm83 0zm25 0zm23 0zm19 0zm8 0zm8 0zm2 0zm2 0zm4 0zm5 0zm10 0zm2 0zm1 0zm4 0zm1 0zm4 0zm2 0zm3 0zm11 0zm2 0zm2 0zm9 0zm2 0zm3 0zm3 0zm3 0zm2 0zm19 0zm-392 1zm2 0zm7 0zm3 0zm1 0zm8 0zm101 0zm2 0zm1 0zm146 0zm4 0zm25 0zm8 0zm4 0zm14 0zm2 0zm1 0zm5 0zm5 0zm2 0zm1 0zm1 0zm1 0zm2 0zm3 0zm4 0zm2 0zm1 0zm12 0zm8 0zm13 0zm-379 1zm1 0zm3 0zm1 0zm92 0zm20 0zm1 0zm164 0zm3 0zm8 0zm6 0zm5 0zm3 0zm1 0zm2 0zm2 0zm3 0zm1 0zm6 0zm1 0zm1 0zm6 0zm1 0zm4 0zm3 0zm2 0zm2 0zm2 0zm1 0zm2 0zm4 0zm19 0zm3 0zm4 0zm-376 1zm5 0zm98 0zm3 0zm3 0zm3 0zm9 0zm24 0zm15 0zm46 0zm1 0zm65 0zm11 0zm3 0zm4 0zm1 0zm5 0zm2 0zm1 0zm2 0zm2 0zm2 0zm1 0zm1 0zm1 0zm1 0zm3 0zm1 0zm1 0zm2 0zm2 0zm1 0zm3 0zm5 0zm1 0zm3 0zm5 0zm1 0zm1 0zm1 0zm1 0zm4 0zm3 0zm10 0zm11 0zm1 0zm1 0zm6 0zm-386 1zm6 0zm3 0zm1 0zm1 0zm2 0zm2 0zm94 0zm10 0zm16 0zm1 0zm24 0zm15 0zm56 0zm5 0zm25 0zm7 0zm2 0zm8 0zm9 0zm1 0zm3 0zm4 0zm4 0zm1 0zm1 0zm5 0zm2 0zm4 0zm1 0zm1 0zm2 0zm1 0zm2 0zm2 0zm3 0zm1 0zm1 0zm2 0zm1 0zm1 0zm1 0zm2 0zm1 0zm2 0zm2 0zm2 0zm2 0zm3 0zm2 0zm9 0zm2 0zm6 0zm8 0zm5 0zm-377 1zm2 0zm1 0zm7 0zm1 0zm104 0zm3 0zm6 0zm100 0zm60 0zm1 0zm1 0zm1 0zm4 0zm3 0zm1 0zm2 0zm1 0zm2 0zm3 0zm1 0zm1 0zm1 0zm2 0zm1 0zm1 0zm1 0zm3 0zm1 0zm2 0zm1 0zm2 0zm1 0zm1 0zm1 0zm1 0zm1 0zm2 0zm1 0zm1 0zm2 0zm2 0zm1 0zm2 0zm3 0zm5 0zm2 0zm5 0zm1 0zm9 0zm7 0zm-363 1zm3 0zm5 0zm1 0zm1 0zm2 0zm5 0zm87 0zm6 0zm5 0zm3 0zm3 0zm1 0zm7 0zm65 0zm39 0zm23 0zm5 0zm12 0zm2 0zm6 0zm1 0zm1 0zm1 0zm5 0zm4 0zm3 0zm1 0zm1 0zm1 0zm1 0zm1 0zm2 0zm1 0zm1 0zm6 0zm1 0zm3 0zm1 0zm1 0zm2 0zm5 0zm1 0zm1 0zm1 0zm1 0zm1 0zm1 0zm12 0zm1 0zm2 0zm3 0zm2 0zm4 0zm2 0zm-363 1zm15 0zm5 0zm78 0zm3 0zm7 0zm3 0zm11 0zm5 0zm1 0zm6 0zm2 0zm2 0zm28 0zm20 0zm43 0zm14 0zm9 0zm7 0zm30 0zm4 0zm2 0zm4 0zm1 0zm5 0zm2 0zm2 0zm1 0zm1 0zm1 0zm3 0zm1 0zm1 0zm1 0zm1 0zm1 0zm2 0zm2 0zm1 0zm2 0zm1 0zm1 0zm1 0zm4 0zm1 0zm1 0zm2 0zm1 0zm3 0zm1 0zm1 0zm4 0zm2 0zm3 0zm1 0zm1 0zm2 0zm14 0zm12 0zm7 0zm3 0zm-385 1zm1 0zm2 0zm2 0zm1 0zm1 0zm1 0zm2 0zm63 0zm30 0zm1 0zm15 0zm5 0zm95 0zm5 0zm7 0zm7 0zm14 0zm3 0zm4 0zm4 0zm5 0zm9 0zm3 0zm4 0zm2 0zm2 0zm1 0zm2 0zm2 0zm1 0zm3 0zm1 0zm2 0zm1 0zm1 0zm1 0zm2 0zm1 0zm2 0zm1 0zm1 0zm1 0zm1 0zm1 0zm1 0zm3 0zm1 0zm2 0zm1 0zm1 0zm1 0zm1 0zm2 0zm2 0zm1 0zm1 0zm4 0zm2 0zm2 0zm1 0zm1 0zm1 0zm1 0zm3 0zm2 0zm2 0zm2 0zm4 0zm8 0zm-366 1zm9 0zm1 0zm99 0zm12 0zm1 0zm3 0zm3 0zm5 0zm5 0zm121 0zm5 0zm18 0zm2 0zm2 0zm1 0zm1 0zm1 0zm1 0zm1 0zm1 0zm1 0zm2 0zm4 0zm2 0zm1 0zm2 0zm2 0zm3 0zm1 0zm1 0zm1 0zm1 0zm1 0zm1 0zm1 0zm2 0zm2 0zm2 0zm2 0zm5 0zm1 0zm1 0zm1 0zm1 0zm1 0zm1 0zm1 0zm3 0zm1 0zm1 0zm3 0zm1 0zm5 0zm7 0zm3 0zm7 0zm12 0zm9 0zm-391 1zm7 0zm2 0zm4 0zm3 0zm1 0zm91 0zm12 0zm1 0zm1 0zm2 0zm2 0zm1 0zm5 0zm69 0zm3 0zm9 0zm2 0zm16 0zm1 0zm23 0zm18 0zm1 0zm7 0zm10 0zm2 0zm2 0zm1 0zm2 0zm2 0zm3 0zm3 0zm2 0zm3 0zm1 0zm4 0zm1 0zm1 0zm1 0zm1 0zm1 0zm1 0zm1 0zm4 0zm2 0zm1 0zm1 0zm1 0zm1 0zm2 0zm2 0zm2 0zm3 0zm1 0zm1 0zm2 0zm2 0zm4 0zm2 0zm1 0zm1 0zm-356 1zm5 0zm11 0zm56 0zm28 0zm10 0zm2 0zm4 0zm5 0zm1 0zm3 0zm4 0zm5 0zm16 0zm12 0zm35 0zm7 0zm19 0zm1 0zm8 0zm2 0zm3 0zm4 0zm8 0zm6 0zm8 0zm5 0zm12 0zm3 0zm3 0zm1 0zm5 0zm5 0zm2 0zm1 0zm3 0zm1 0zm1 0zm1 0zm3 0zm2 0zm1 0zm1 0zm3 0zm1 0zm3 0zm1 0zm1 0zm3 0zm1 0zm1 0zm1 0zm2 0zm2 0zm2 0zm1 0zm2 0zm2 0zm1 0zm1 0zm2 0zm4 0zm1 0zm2 0zm3 0zm3 0zm1 0zm2 0zm-359 1zm5 0zm1 0zm8 0zm3 0zm5 0zm79 0zm9 0zm2 0zm6 0zm2 0zm2 0zm3 0zm4 0zm6 0zm2 0zm1 0zm56 0zm15 0zm10 0zm2 0zm8 0zm5 0zm1 0zm2 0zm10 0zm4 0zm3 0zm7 0zm25 0zm1 0zm1 0zm1 0zm2 0zm1 0zm1 0zm1 0zm1 0zm7 0zm3 0zm1 0zm3 0zm1 0zm1 0zm2 0zm3 0zm1 0zm2 0zm1 0zm3 0zm1 0zm3 0zm1 0zm1 0zm4 0zm2 0zm1 0zm3 0zm3 0zm4 0zm-342 1zm8 0zm1 0zm2 0zm46 0zm14 0zm25 0zm14 0zm5 0zm9 0zm1 0zm1 0zm29 0zm19 0zm12 0zm15 0zm25 0zm3 0zm2 0zm2 0zm4 0zm7 0zm23 0zm15 0zm2 0zm4 0zm2 0zm3 0zm1 0zm2 0zm4 0zm1 0zm1 0zm5 0zm4 0zm2 0zm2 0zm1 0zm1 0zm1 0zm3 0zm3 0zm1 0zm2 0zm1 0zm1 0zm2 0zm5 0zm2 0zm11 0zm-350 1zm1 0zm1 0zm1 0zm3 0zm2 0zm2 0zm4 0zm2 0zm72 0zm3 0zm18 0zm1 0zm13 0zm4 0zm2 0zm7 0zm2 0zm5 0zm2 0zm87 0zm23 0zm9 0zm10 0zm6 0zm7 0zm2 0zm5 0zm2 0zm1 0zm2 0zm2 0zm1 0zm2 0zm2 0zm2 0zm2 0zm2 0zm2 0zm1 0zm1 0zm1 0zm4 0zm1 0zm3 0zm1 0zm1 0zm2 0zm1 0zm3 0zm1 0zm1 0zm2 0zm1 0zm1 0zm2 0zm1 0zm-339 1zm1 0zm1 0zm1 0zm56 0zm27 0zm7 0zm5 0zm6 0zm7 0zm2 0zm2 0zm2 0zm3 0zm8 0zm1 0zm7 0zm2 0zm36 0zm19 0zm7 0zm3 0zm9 0zm7 0zm11 0zm1 0zm6 0zm4 0zm12 0zm1 0zm31 0zm2 0zm4 0zm1 0zm7 0zm1 0zm3 0zm1 0zm2 0zm2 0zm1 0zm2 0zm2 0zm1 0zm3 0zm2 0zm1 0zm8 0zm2 0zm1 0zm4 0zm1 0zm1 0zm-337 1zm2 0zm3 0zm3 0zm2 0zm93 0zm1 0zm1 0zm2 0zm2 0zm2 0zm3 0zm6 0zm1 0zm2 0zm1 0zm6 0zm7 0zm16 0zm33 0zm2 0zm10 0zm7 0zm10 0zm4 0zm3 0zm1 0zm2 0zm8 0zm1 0zm15 0zm1 0zm13 0zm4 0zm14 0zm3 0zm1 0zm1 0zm1 0zm6 0zm3 0zm3 0zm2 0zm2 0zm1 0zm3 0zm5 0zm1 0zm3 0zm1 0zm2 0zm3 0zm1 0zm1 0zm3 0zm1 0zm3 0zm1 0zm8 0zm15 0zm-363 1zm7 0zm1 0zm3 0zm3 0zm5 0zm86 0zm6 0zm3 0zm1 0zm9 0zm1 0zm2 0zm1 0zm2 0zm1 0zm1 0zm4 0zm3 0zm6 0zm2 0zm33 0zm1 0zm22 0zm4 0zm1 0zm24 0zm17 0zm26 0zm17 0zm2 0zm2 0zm8 0zm2 0zm4 0zm2 0zm3 0zm1 0zm5 0zm2 0zm3 0zm2 0zm4 0zm1 0zm1 0zm10 0zm2 0zm50 0zm-403 1zm15 0zm3 0zm3 0zm2 0zm1 0zm5 0zm69 0zm12 0zm6 0zm1 0zm2 0zm3 0zm1 0zm1 0zm1 0zm3 0zm2 0zm1 0zm2 0zm2 0zm1 0zm1 0zm1 0zm3 0zm1 0zm25 0zm8 0zm38 0zm11 0zm5 0zm1 0zm5 0zm17 0zm2 0zm11 0zm21 0zm3 0zm25 0zm1 0zm14 0zm1 0zm1 0zm23 0zm23 0zm-363 1zm1 0zm5 0zm5 0zm3 0zm43 0zm36 0zm3 0zm1 0zm3 0zm5 0zm3 0zm3 0zm2 0zm2 0zm1 0zm2 0zm4 0zm1 0zm2 0zm4 0zm3 0zm2 0zm1 0zm5 0zm16 0zm1 0zm23 0zm30 0zm3 0zm11 0zm19 0zm41 0zm4 0zm3 0zm11 0zm10 0zm10 0zm7 0zm11 0zm40 0zm-392 1zm14 0zm3 0zm1 0zm1 0zm81 0zm10 0zm6 0zm1 0zm1 0zm2 0zm3 0zm2 0zm1 0zm1 0zm4 0zm1 0zm3 0zm1 0zm1 0zm1 0zm3 0zm2 0zm11 0zm1 0zm4 0zm9 0zm11 0zm1 0zm4 0zm5 0zm10 0zm24 0zm1 0zm17 0zm4 0zm22 0zm26 0zm20 0zm9 0zm3 0zm2 0zm-322 1zm11 0zm3 0zm2 0zm36 0zm21 0zm26 0zm6 0zm1 0zm1 0zm3 0zm3 0zm2 0zm2 0zm3 0zm2 0zm1 0zm1 0zm1 0zm1 0zm1 0zm1 0zm7 0zm1 0zm14 0zm10 0zm13 0zm2 0zm2 0zm10 0zm2 0zm9 0zm3 0zm5 0zm10 0zm2 0zm8 0zm4 0zm5 0zm2 0zm6 0zm6 0zm66 0zm10 0zm12 0zm-329 1zm1 0zm1 0zm2 0zm2 0zm6 0zm44 0zm37 0zm1 0zm2 0zm3 0zm1 0zm2 0zm6 0zm5 0zm2 0zm1 0zm1 0zm2 0zm6 0zm8 0zm17 0zm9 0zm7 0zm2 0zm9 0zm3 0zm15 0zm13 0zm12 0zm6 0zm41 0zm2 0zm19 0zm-301 1zm4 0zm5 0zm1 0zm3 0zm1 0zm3 0zm12 0zm51 0zm13 0zm3 0zm6 0zm1 0zm2 0zm2 0zm1 0zm1 0zm1 0zm1 0zm1 0zm1 0zm1 0zm1 0zm1 0zm4 0zm1 0zm2 0zm2 0zm1 0zm1 0zm1 0zm1 0zm3 0zm1 0zm6 0zm3 0zm1 0zm5 0zm4 0zm15 0zm1 0zm3 0zm18 0zm10 0zm6 0zm28 0zm5 0zm6 0zm14 0zm19 0zm52 0zm66 0zm-393 1zm12 0zm1 0zm3 0zm3 0zm3 0zm75 0zm2 0zm8 0zm4 0zm4 0zm2 0zm1 0zm1 0zm3 0zm1 0zm1 0zm1 0zm1 0zm2 0zm1 0zm1 0zm1 0zm1 0zm1 0zm1 0zm2 0zm1 0zm3 0zm1 0zm5 0zm6 0zm1 0zm3 0zm4 0zm1 0zm9 0zm4 0zm9 0zm4 0zm15 0zm4 0zm19 0zm6 0zm41 0zm33 0zm18 0zm17 0zm-344 1zm3 0zm1 0zm5 0zm2 0zm3 0zm3 0zm5 0zm2 0zm1 0zm10 0zm68 0zm3 0zm2 0zm1 0zm1 0zm2 0zm1 0zm1 0zm1 0zm1 0zm1 0zm1 0zm2 0zm1 0zm1 0zm4 0zm1 0zm1 0zm1 0zm1 0zm1 0zm1 0zm1 0zm1 0zm2 0zm5 0zm1 0zm3 0zm2 0zm2 0zm20 0zm13 0zm5 0zm11 0zm27 0zm54 0zm13 0zm28 0zm-316 1zm9 0zm3 0zm3 0zm2 0zm4 0zm64 0zm20 0zm2 0zm2 0zm4 0zm2 0zm1 0zm1 0zm1 0zm1 0zm1 0zm1 0zm1 0zm1 0zm1 0zm1 0zm2 0zm1 0zm1 0zm1 0zm1 0zm2 0zm1 0zm4 0zm1 0zm1 0zm1 0zm2 0zm1 0zm3 0zm2 0zm17 0zm5 0zm8 0zm20 0zm9 0zm140 0zm-340 1zm9 0zm1 0zm4 0zm66 0zm11 0zm2 0zm2 0zm2 0zm1 0zm1 0zm1 0zm4 0zm1 0zm1 0zm2 0zm3 0zm1 0zm1 0zm1 0zm3 0zm1 0zm2 0zm2 0zm2 0zm2 0zm3 0zm1 0zm1 0zm1 0zm2 0zm2 0zm1 0zm3 0zm1 0zm3 0zm1 0zm5 0zm4 0zm13 0zm10 0zm3 0zm3 0zm8 0zm17 0zm15 0zm4 0zm22 0zm73 0zm17 0zm50 0zm-395 1zm1 0zm5 0zm5 0zm1 0zm1 0zm3 0zm1 0zm1 0zm74 0zm4 0zm2 0zm1 0zm3 0zm3 0zm3 0zm7 0zm2 0zm2 0zm1 0zm1 0zm1 0zm3 0zm1 0zm1 0zm1 0zm2 0zm3 0zm1 0zm2 0zm1 0zm7 0zm1 0zm2 0zm20 0zm3 0zm5 0zm2 0zm7 0zm1 0zm8 0zm20 0zm55 0zm-264 1zm5 0zm1 0zm1 0zm1 0zm1 0zm1 0zm1 0zm3 0zm1 0zm73 0zm1 0zm2 0zm1 0zm2 0zm2 0zm1 0zm2 0zm1 0zm1 0zm5 0zm1 0zm3 0zm1 0zm1 0zm1 0zm1 0zm1 0zm2 0zm4 0zm1 0zm1 0zm2 0zm2 0zm2 0zm4 0zm2 0zm5 0zm3 0zm1 0zm1 0zm4 0zm1 0zm3 0zm10 0zm2 0zm6 0zm35 0zm10 0zm-226 1zm2 0zm1 0zm1 0zm9 0zm2 0zm2 0zm2 0zm1 0zm2 0zm8 0zm47 0zm14 0zm1 0zm10 0zm1 0zm1 0zm4 0zm1 0zm1 0zm1 0zm1 0zm1 0zm1 0zm1 0zm1 0zm1 0zm1 0zm1 0zm1 0zm1 0zm1 0zm1 0zm1 0zm2 0zm1 0zm1 0zm1 0zm1 0zm2 0zm1 0zm1 0zm1 0zm1 0zm2 0zm1 0zm1 0zm2 0zm3 0zm2 0zm1 0zm8 0zm8 0zm5 0zm19 0zm12 0zm16 0zm18 0zm133 0zm-363 1zm4 0zm4 0zm1 0zm2 0zm1 0zm1 0zm2 0zm1 0zm1 0zm7 0zm3 0zm42 0zm26 0zm1 0zm3 0zm1 0zm1 0zm2 0zm2 0zm1 0zm4 0zm2 0zm1 0zm1 0zm1 0zm1 0zm1 0zm2 0zm1 0zm1 0zm1 0zm1 0zm1 0zm1 0zm1 0zm1 0zm1 0zm3 0zm1 0zm2 0zm2 0zm1 0zm1 0zm1 0zm1 0zm1 0zm1 0zm2 0zm2 0zm2 0zm1 0zm3 0zm4 0zm2 0zm4 0zm13 0zm7 0zm10 0zm1 0zm9 0zm1 0zm9 0zm80 0zm14 0zm-309 1zm13 0zm2 0zm7 0zm3 0zm46 0zm10 0zm9 0zm3 0zm2 0zm2 0zm1 0zm3 0zm3 0zm1 0zm3 0zm1 0zm4 0zm1 0zm3 0zm1 0zm1 0zm1 0zm1 0zm1 0zm1 0zm1 0zm1 0zm3 0zm3 0zm2 0zm2 0zm1 0zm2 0zm1 0zm5 0zm3 0zm1 0zm1 0zm1 0zm1 0zm18 0zm12 0zm7 0zm101 0zm-285 1zm4 0zm1 0zm1 0zm1 0zm3 0zm2 0zm1 0zm2 0zm5 0zm1 0zm54 0zm6 0zm4 0zm5 0zm2 0zm1 0zm4 0zm2 0zm3 0zm2 0zm1 0zm2 0zm1 0zm3 0zm2 0zm2 0zm1 0zm1 0zm3 0zm1 0zm1 0zm2 0zm1 0zm1 0zm1 0zm1 0zm3 0zm1 0zm1 0zm1 0zm1 0zm1 0zm1 0zm1 0zm2 0zm8 0zm6 0zm6 0zm10 0zm12 0zm-174 1zm1 0zm1 0zm1 0zm1 0zm1 0zm1 0zm1 0zm4 0zm53 0zm3 0zm3 0zm1 0zm3 0zm5 0zm1 0zm2 0zm2 0zm1 0zm1 0zm2 0zm1 0zm2 0zm2 0zm2 0zm3 0zm3 0zm1 0zm2 0zm1 0zm1 0zm3 0zm1 0zm1 0zm1 0zm1 0zm1 0zm2 0zm1 0zm1 0zm1 0zm1 0zm1 0zm1 0zm2 0zm4 0zm5 0zm14 0zm21 0zm18 0zm55 0zm-250 1zm3 0zm2 0zm2 0zm1 0zm8 0zm4 0zm1 0zm1 0zm42 0zm12 0zm4 0zm3 0zm2 0zm3 0zm2 0zm1 0zm3 0zm1 0zm2 0zm2 0zm2 0zm3 0zm3 0zm3 0zm3 0zm1 0zm2 0zm1 0zm1 0zm1 0zm2 0zm1 0zm1 0zm1 0zm1 0zm2 0zm1 0zm1 0zm1 0zm2 0zm1 0zm3 0zm1 0zm1 0zm4 0zm60 0zm-200 1zm1 0zm1 0zm1 0zm1 0zm1 0zm1 0zm1 0zm3 0zm2 0zm3 0zm1 0zm2 0zm5 0zm29 0zm31 0zm1 0zm2 0zm2 0zm1 0zm1 0zm2 0zm1 0zm2 0zm1 0zm1 0zm2 0zm1 0zm1 0zm1 0zm2 0zm2 0zm1 0zm1 0zm1 0zm2 0zm1 0zm2 0zm1 0zm1 0zm1 0zm2 0zm1 0zm1 0zm1 0zm1 0zm1 0zm1 0zm1 0zm1 0zm4 0zm1 0zm1 0zm1 0zm2 0zm1 0zm3 0zm5 0zm4 0zm-155 1zm4 0zm1 0zm1 0zm2 0zm1 0zm1 0zm1 0zm1 0zm1 0zm5 0zm2 0zm1 0zm1 0zm10 0zm30 0zm6 0zm10 0zm5 0zm1 0zm1 0zm1 0zm2 0zm1 0zm4 0zm3 0zm1 0zm1 0zm3 0zm1 0zm2 0zm1 0zm2 0zm3 0zm1 0zm2 0zm1 0zm2 0zm1 0zm1 0zm1 0zm1 0zm1 0zm1 0zm1 0zm2 0zm1 0zm1 0zm1 0zm1 0zm2 0zm4 0zm1 0zm1 0zm1 0zm2 0zm3 0zm10 0zm54 0zm-200 1zm5 0zm1 0zm2 0zm4 0zm2 0zm1 0zm2 0zm5 0zm3 0zm4 0zm46 0zm3 0zm2 0zm1 0zm2 0zm1 0zm2 0zm4 0zm1 0zm2 0zm1 0zm3 0zm1 0zm3 0zm1 0zm1 0zm2 0zm1 0zm2 0zm3 0zm1 0zm3 0zm1 0zm1 0zm1 0zm1 0zm4 0zm1 0zm2 0zm1 0zm2 0zm2 0zm2 0zm1 0zm1 0zm4 0zm3 0zm1 0zm1 0zm14 0zm15 0zm3 0zm113 0zm-294 1zm5 0zm1 0zm4 0zm2 0zm2 0zm2 0zm1 0zm3 0zm1 0zm2 0zm1 0zm1 0zm1 0zm33 0zm8 0zm7 0zm1 0zm4 0zm1 0zm2 0zm5 0zm8 0zm1 0zm1 0zm5 0zm1 0zm3 0zm3 0zm2 0zm1 0zm1 0zm1 0zm4 0zm2 0zm2 0zm1 0zm1 0zm2 0zm2 0zm1 0zm3 0zm1 0zm1 0zm1 0zm1 0zm1 0zm1 0zm2 0zm7 0zm109 0zm-256 1zm2 0zm3 0zm1 0zm1 0zm1 0zm2 0zm1 0zm1 0zm1 0zm1 0zm1 0zm1 0zm1 0zm1 0zm3 0zm1 0zm2 0zm4 0zm6 0zm5 0zm16 0zm7 0zm1 0zm8 0zm3 0zm1 0zm3 0zm1 0zm1 0zm1 0zm2 0zm1 0zm1 0zm6 0zm2 0zm2 0zm1 0zm6 0zm1 0zm1 0zm7 0zm2 0zm2 0zm1 0zm2 0zm5 0zm2 0zm1 0zm1 0zm1 0zm2 0zm1 0zm3 0zm1 0zm2 0zm3 0zm1 0zm4 0zm1 0zm2 0zm30 0zm55 0zm48 0zm-283 1zm2 0zm3 0zm1 0zm1 0zm1 0zm1 0zm1 0zm8 0zm2 0zm1 0zm1 0zm1 0zm6 0zm32 0zm1 0zm4 0zm2 0zm2 0zm5 0zm3 0zm2 0zm4 0zm4 0zm1 0zm1 0zm1 0zm1 0zm1 0zm1 0zm1 0zm1 0zm1 0zm2 0zm4 0zm1 0zm2 0zm3 0zm1 0zm1 0zm2 0zm6 0zm1 0zm1 0zm1 0zm2 0zm3 0zm2 0zm1 0zm3 0zm2 0zm1 0zm1 0zm1 0zm2 0zm1 0zm1 0zm2 0zm11 0zm1 0zm25 0zm-180 1zm2 0zm2 0zm1 0zm1 0zm1 0zm1 0zm1 0zm1 0zm1 0zm3 0zm1 0zm1 0zm2 0zm1 0zm1 0zm2 0zm2 0zm4 0zm3 0zm23 0zm4 0zm8 0zm1 0zm1 0zm2 0zm1 0zm1 0zm1 0zm2 0zm2 0zm1 0zm3 0zm1 0zm1 0zm4 0zm1 0zm3 0zm1 0zm2 0zm1 0zm3 0zm3 0zm1 0zm1 0zm2 0zm1 0zm2 0zm1 0zm2 0zm1 0zm3 0zm1 0zm3 0zm1 0zm3 0zm3 0zm3 0zm2 0zm1 0zm1 0zm1 0zm5 0zm1 0zm2 0zm6 0zm29 0zm35 0zm-212 1zm3 0zm4 0zm1 0zm1 0zm1 0zm1 0zm1 0zm1 0zm3 0zm1 0zm1 0zm2 0zm1 0zm19 0zm1 0zm4 0zm4 0zm3 0zm2 0zm2 0zm4 0zm5 0zm6 0zm2 0zm2 0zm2 0zm3 0zm1 0zm1 0zm1 0zm3 0zm3 0zm1 0zm1 0zm1 0zm3 0zm1 0zm2 0zm3 0zm3 0zm5 0zm1 0zm1 0zm1 0zm3 0zm1 0zm1 0zm1 0zm3 0zm1 0zm1 0zm1 0zm1 0zm1 0zm1 0zm2 0zm3 0zm1 0zm2 0zm2 0zm2 0zm2 0zm2 0zm14 0zm23 0zm-179 1zm4 0zm3 0zm1 0zm2 0zm1 0zm1 0zm1 0zm2 0zm1 0zm1 0zm1 0zm3 0zm1 0zm4 0zm23 0zm2 0zm3 0zm2 0zm1 0zm4 0zm1 0zm1 0zm1 0zm3 0zm1 0zm1 0zm1 0zm5 0zm1 0zm1 0zm2 0zm4 0zm2 0zm1 0zm1 0zm2 0zm4 0zm1 0zm3 0zm4 0zm2 0zm2 0zm2 0zm1 0zm6 0zm1 0zm3 0zm1 0zm3 0zm1 0zm1 0zm2 0zm2 0zm2 0zm2 0zm2 0zm-136 1zm2 0zm3 0zm2 0zm2 0zm2 0zm1 0zm1 0zm1 0zm3 0zm1 0zm3 0zm4 0zm12 0zm1 0zm13 0zm4 0zm2 0zm2 0zm3 0zm1 0zm1 0zm4 0zm1 0zm2 0zm1 0zm2 0zm5 0zm1 0zm1 0zm1 0zm1 0zm2 0zm2 0zm2 0zm6 0zm4 0zm3 0zm4 0zm5 0zm3 0zm3 0zm4 0zm2 0zm2 0zm3 0zm2 0zm2 0zm1 0zm2 0zm1 0zm2 0zm1 0zm1 0zm3 0zm1 0zm1 0zm6 0zm-151 1zm1 0zm5 0zm1 0zm1 0zm1 0zm2 0zm1 0zm2 0zm1 0zm1 0zm1 0zm3 0zm1 0zm1 0zm2 0zm1 0zm11 0zm6 0zm1 0zm1 0zm8 0zm2 0zm1 0zm2 0zm1 0zm3 0zm1 0zm4 0zm1 0zm1 0zm3 0zm2 0zm1 0zm1 0zm2 0zm2 0zm1 0zm3 0zm4 0zm5 0zm1 0zm1 0zm3 0zm3 0zm7 0zm1 0zm4 0zm1 0zm1 0zm2 0zm3 0zm4 0zm2 0zm1 0zm9 0zm5 0zm3 0zm33 0zm1 0zm-172 1zm5 0zm3 0zm1 0zm1 0zm1 0zm1 0zm1 0zm1 0zm3 0zm1 0zm1 0zm2 0zm1 0zm4 0zm4 0zm10 0zm9 0zm1 0zm1 0zm1 0zm3 0zm1 0zm2 0zm1 0zm5 0zm2 0zm1 0zm2 0zm1 0zm1 0zm1 0zm2 0zm1 0zm2 0zm3 0zm2 0zm2 0zm7 0zm5 0zm6 0zm1 0zm3 0zm4 0zm1 0zm3 0zm2 0zm1 0zm6 0zm1 0zm1 0zm3 0zm4 0zm2 0zm18 0zm-154 1zm2 0zm1 0zm1 0zm2 0zm2 0zm1 0zm1 0zm1 0zm1 0zm12 0zm15 0zm1 0zm1 0zm3 0zm4 0zm1 0zm3 0zm1 0zm2 0zm2 0zm2 0zm3 0zm2 0zm2 0zm3 0zm1 0zm1 0zm1 0zm1 0zm10 0zm1 0zm2 0zm2 0zm2 0zm23 0zm4 0zm2 0zm1 0zm4 0zm6 0zm1 0zm5 0zm18 0zm-156 1zm5 0zm2 0zm1 0zm2 0zm1 0zm1 0zm2 0zm1 0zm1 0zm2 0zm1 0zm1 0zm4 0zm1 0zm1 0zm14 0zm2 0zm3 0zm1 0zm3 0zm3 0zm1 0zm1 0zm1 0zm3 0zm5 0zm2 0zm1 0zm5 0zm1 0zm14 0zm19 0zm9 0zm10 0zm1 0zm8 0zm5 0zm5 0zm-144 1zm3 0zm1 0zm1 0zm2 0zm2 0zm2 0zm1 0zm2 0zm1 0zm1 0zm1 0zm2 0zm2 0zm1 0zm3 0zm6 0zm1 0zm2 0zm3 0zm3 0zm2 0zm1 0zm2 0zm4 0zm1 0zm5 0zm1 0zm1 0zm3 0zm6 0zm4 0zm1 0zm3 0zm2 0zm13 0zm8 0zm10 0zm12 0zm1 0zm1 0zm8 0zm6 0zm-131 1zm2 0zm1 0zm2 0zm1 0zm2 0zm1 0zm1 0zm1 0zm1 0zm2 0zm5 0zm3 0zm15 0zm5 0zm6 0zm2 0zm4 0zm1 0zm1 0zm1 0zm2 0zm2 0zm5 0zm2 0zm7 0zm2 0zm2 0zm11 0zm25 0zm4 0zm5 0zm8 0zm2 0zm5 0zm-136 1zm2 0zm1 0zm1 0zm1 0zm2 0zm1 0zm2 0zm2 0zm1 0zm1 0zm1 0zm1 0zm2 0zm1 0zm2 0zm1 0zm2 0zm9 0zm1 0zm2 0zm1 0zm1 0zm1 0zm3 0zm1 0zm2 0zm2 0zm1 0zm3 0zm4 0zm2 0zm1 0zm1 0zm2 0zm3 0zm3 0zm1 0zm1 0zm5 0zm14 0zm4 0zm11 0zm21 0zm35 0zm23 0zm-189 1zm2 0zm2 0zm2 0zm1 0zm1 0zm1 0zm1 0zm1 0zm1 0zm1 0zm6 0zm1 0zm3 0zm1 0zm6 0zm2 0zm1 0zm1 0zm2 0zm3 0zm3 0zm2 0zm1 0zm1 0zm1 0zm3 0zm4 0zm1 0zm4 0zm1 0zm1 0zm2 0zm5 0zm3 0zm1 0zm2 0zm1 0zm9 0zm2 0zm19 0zm13 0zm1 0zm14 0zm5 0zm7 0zm-145 1zm1 0zm1 0zm2 0zm3 0zm2 0zm1 0zm1 0zm2 0zm1 0zm2 0zm1 0zm2 0zm1 0zm1 0zm4 0zm4 0zm6 0zm3 0zm2 0zm1 0zm2 0zm1 0zm1 0zm1 0zm7 0zm1 0zm4 0zm2 0zm1 0zm4 0zm2 0zm3 0zm20 0zm2 0zm9 0zm12 0zm5 0zm1 0zm-116 1zm1 0zm1 0zm1 0zm2 0zm1 0zm2 0zm2 0zm3 0zm2 0zm1 0zm1 0zm1 0zm1 0zm1 0zm1 0zm1 0zm1 0zm2 0zm1 0zm1 0zm2 0zm5 0zm1 0zm2 0zm5 0zm1 0zm6 0zm1 0zm1 0zm1 0zm4 0zm10 0zm5 0zm9 0zm4 0zm18 0zm2 0zm6 0zm8 0zm2 0zm2 0zm1 0zm8 0zm17 0zm-150 1zm2 0zm1 0zm1 0zm2 0zm1 0zm3 0zm1 0zm1 0zm2 0zm2 0zm1 0zm1 0zm1 0zm2 0zm1 0zm2 0zm1 0zm1 0zm1 0zm3 0zm2 0zm2 0zm1 0zm1 0zm1 0zm2 0zm1 0zm1 0zm4 0zm1 0zm1 0zm3 0zm3 0zm3 0zm2 0zm4 0zm1 0zm4 0zm6 0zm9 0zm7 0zm26 0zm24 0zm-138 1zm1 0zm1 0zm1 0zm2 0zm1 0zm1 0zm1 0zm1 0zm1 0zm1 0zm2 0zm2 0zm1 0zm1 0zm1 0zm4 0zm1 0zm1 0zm2 0zm1 0zm1 0zm2 0zm1 0zm1 0zm2 0zm5 0zm1 0zm1 0zm3 0zm2 0zm3 0zm5 0zm73 0zm8 0zm7 0zm-140 1zm1 0zm1 0zm2 0zm1 0zm1 0zm1 0zm1 0zm2 0zm1 0zm1 0zm1 0zm1 0zm1 0zm1 0zm2 0zm1 0zm1 0zm1 0zm1 0zm1 0zm1 0zm2 0zm1 0zm1 0zm1 0zm2 0zm2 0zm8 0zm1 0zm3 0zm1 0zm5 0zm1 0zm1 0zm17 0zm4 0zm38 0zm-116 1zm2 0zm2 0zm1 0zm1 0zm1 0zm1 0zm1 0zm1 0zm1 0zm1 0zm1 0zm3 0zm1 0zm1 0zm1 0zm3 0zm3 0zm1 0zm2 0zm1 0zm3 0zm1 0zm1 0zm1 0zm1 0zm1 0zm2 0zm1 0zm3 0zm1 0zm1 0zm2 0zm3 0zm2 0zm6 0zm21 0zm30 0zm184 0zm-294 1zm1 0zm1 0zm2 0zm1 0zm1 0zm2 0zm1 0zm1 0zm2 0zm1 0zm1 0zm1 0zm1 0zm1 0zm1 0zm1 0zm3 0zm3 0zm2 0zm1 0zm1 0zm1 0zm5 0zm2 0zm4 0zm4 0zm1 0zm1 0zm1 0zm4 0zm40 0zm-89 1zm2 0zm3 0zm1 0zm1 0zm3 0zm1 0zm1 0zm1 0zm1 0zm1 0zm1 0zm2 0zm1 0zm1 0zm1 0zm1 0zm2 0zm2 0zm2 0zm1 0zm1 0zm2 0zm6 0zm6 0zm2 0zm1 0zm8 0zm5 0zm1 0zm3 0zm5 0zm51 0zm-119 1zm1 0zm1 0zm1 0zm1 0zm1 0zm1 0zm1 0zm1 0zm1 0zm1 0zm1 0zm1 0zm1 0zm1 0zm1 0zm1 0zm1 0zm1 0zm1 0zm1 0zm1 0zm2 0zm1 0zm2 0zm1 0zm1 0zm1 0zm1 0zm3 0zm1 0zm8 0zm4 0zm3 0zm8 0zm60 0zm26 0zm-146 1zm1 0zm1 0zm2 0zm1 0zm1 0zm1 0zm1 0zm1 0zm1 0zm1 0zm1 0zm1 0zm1 0zm1 0zm1 0zm1 0zm1 0zm1 0zm1 0zm1 0zm1 0zm1 0zm1 0zm1 0zm1 0zm1 0zm2 0zm1 0zm1 0zm3 0zm2 0zm2 0zm27 0zm-63 1zm1 0zm1 0zm2 0zm1 0zm2 0zm1 0zm2 0zm1 0zm1 0zm1 0zm1 0zm1 0zm1 0zm1 0zm1 0zm1 0zm1 0zm1 0zm1 0zm1 0zm1 0zm2 0zm4 0zm2 0zm1 0zm1 0zm10 0zm5 0zm5 0zm-54 1zm1 0zm1 0zm3 0zm1 0zm2 0zm1 0zm1 0zm2 0zm1 0zm1 0zm1 0zm1 0zm1 0zm1 0zm1 0zm1 0zm1 0zm1 0zm1 0zm1 0zm4 0zm3 0zm2 0zm4 0zm1 0zm13 0zm5 0zm35 0zm-93 1zm3 0zm1 0zm1 0zm2 0zm1 0zm1 0zm1 0zm1 0zm1 0zm1 0zm1 0zm1 0zm1 0zm1 0zm1 0zm1 0zm1 0zm1 0zm1 0zm2 0zm2 0zm6 0zm2 0zm8 0zm13 0zm1 0zm70 0zm-126 1zm3 0zm1 0zm1 0zm1 0zm1 0zm1 0zm1 0zm2 0zm1 0zm2 0zm1 0zm3 0zm2 0zm2 0zm1 0zm3 0zm2 0zm1 0zm6 0zm9 0zm3 0zm25 0zm38 0zm-110 1zm2 0zm1 0zm1 0zm1 0zm1 0zm1 0zm1 0zm1 0zm1 0zm1 0zm1 0zm1 0zm1 0zm2 0zm1 0zm1 0zm1 0zm1 0zm1 0zm3 0zm1 0zm1 0zm7 0zm3 0zm12 0zm3 0zm20 0zm25 0zm-94 1zm2 0zm2 0zm1 0zm1 0zm1 0zm1 0zm2 0zm1 0zm1 0zm1 0zm1 0zm1 0zm1 0zm1 0zm1 0zm2 0zm8 0zm3 0zm10 0zm13 0zm9 0zm-63 1zm1 0zm1 0zm1 0zm1 0zm1 0zm1 0zm1 0zm1 0zm2 0zm1 0zm1 0zm1 0zm1 0zm2 0zm2 0zm2 0zm1 0zm2 0zm1 0zm1 0zm-28 1zm2 0zm2 0zm2 0zm3 0zm1 0zm1 0zm1 0zm1 0zm1 0zm1 0zm1 0zm1 0zm1 0zm1 0zm2 0zm2 0zm1 0zm96 0zm-118 1zm1 0zm1 0zm1 0zm1 0zm1 0zm1 0zm1 0zm1 0zm1 0zm2 0zm1 0zm1 0zm1 0zm1 0zm1 0zm1 0zm1 0zm1 0zm2 0zm4 0zm51 0zm-76 1zm1 0zm1 0zm3 0zm3 0zm1 0zm1 0zm1 0zm2 0zm2 0zm1 0zm1 0zm1 0zm1 0zm1 0zm1 0zm5 0zm4 0zm-30 1zm1 0zm1 0zm1 0zm1 0zm1 0zm1 0zm1 0zm1 0zm1 0zm1 0zm2 0zm1 0zm1 0zm2 0zm2 0zm1 0zm1 0zm1 0zm2 0zm5 0zm10 0zm9 0zm-48 1zm3 0zm1 0zm1 0zm1 0zm1 0zm1 0zm1 0zm1 0zm1 0zm2 0zm1 0zm3 0zm3 0zm1 0zm7 0zm7 0zm-34 1zm1 0zm1 0zm1 0zm2 0zm1 0zm1 0zm1 0zm1 0zm1 0zm1 0zm1 0zm1 0zm2 0zm1 0zm4 0zm5 0zm1 0zm21 0zm-48 1zm1 0zm2 0zm1 0zm1 0zm1 0zm1 0zm1 0zm1 0zm2 0zm1 0zm1 0zm1 0zm1 0zm4 0zm1 0zm1 0zm3 0zm34 0zm-57 1zm1 0zm1 0zm2 0zm1 0zm1 0zm2 0zm1 0zm4 0zm2 0zm3 0zm2 0zm4 0zm1 0zm10 0zm-36 1zm2 0zm1 0zm2 0zm3 0zm1 0zm1 0zm1 0zm1 0zm1 0zm3 0zm1 0zm1 0zm2 0zm11 0zm4 0zm-34 1zm1 0zm1 0zm2 0zm2 0zm1 0zm1 0zm2 0zm1 0zm1 0zm5 0zm3 0zm-21 1zm4 0zm2 0zm1 0zm1 0zm1 0zm2 0zm1 0zm1 0zm2 0zm2 0zm4 0zm3 0zm-23 1zm1 0zm1 0zm2 0zm4 0zm1 0zm2 0zm2 0zm3 0zm1 0zm2 0zm1 0zm4 0zm-26 1zm2 0zm1 0zm6 0zm3 0zm2 0zm1 0zm3 0zm5 0zm5 0zm-26 1zm1 0zm1 0zm1 0zm1 0zm1 0zm1 0zm1 0zm1 0zm4 0zm1 0zm1 0zm2 0zm3 0zm1 0zm1 0zm-22 1zm1 0zm1 0zm4 0zm2 0zm1 0zm2 0zm1 0zm6 0zm2 0zm1 0zm2 0zm36 0zm-58 1zm5 0zm2 0zm4 0zm4 0zm1 0zm4 0zm1 0zm8 0zm-28 1zm1 0zm1 0zm5 0zm5 0zm1 0zm4 0zm11 0zm-27 1zm3 0zm1 0zm1 0zm2 0zm1 0zm3 0zm2 0zm1 0zm1 0zm2 0zm1 0zm1 0zm2 0zm-23 1zm4 0zm2 0zm2 0zm2 0zm1 0zm2 0zm11 0zm-21 1zm1 0zm3 0zm2 0zm5 0zm1 0zm1 0zm1 0zm3 0zm-17 1zm2 0zm2 0zm1 0zm2 0zm1 0zm5 0zm7 0zm2 0zm53 0zm-77 1zm6 0zm5 0zm2 0zm1 0zm4 0zm-17 1zm1 0zm1 0zm1 0zm1 0zm1 0zm1 0zm3 0zm1 0zm1 0zm2 0zm3 0zm3 0zm3 0zm4 0zm-27 1zm2 0zm1 0zm1 0zm1 0zm1 0zm2 0zm4 0zm4 0zm3 0zm7 0zm-24 1zm3 0zm1 0zm2 0zm3 0zm2 0zm1 0zm4 0zm-21 1zm5 0zm1 0zm1 0zm2 0zm3 0zm1 0zm1 0zm2 0zm1 0zm3 0zm-17 1zm1 0zm2 0zm3 0zm1 0zm1 0zm1 0zm1 0zm1 0zm2 0zm9 0zm-21 1zm5 0zm7 0zm1 0zm5 0zm-21 1zm9 0zm5 0zm-12 1zm9 0zm5 0zm-15 1zm7 0zm1 0zm1 0zm1 0zm7 0zm-16 1zm5 0zm1 0zm1 0zm2 0zm4 0zm-15 1zm7 0zm9 0zm-7 1zm1 0zm10 0zm-16 1zm4 0zm3 0zm9 0zm-20 1zm7 0zm5 0zm7 0zm-4 1zm-13 1zm5 1zm3 0zm-3 1zm1 0zm6 0zm10 0zm6 1zm-19 1z" stroke="#3c3c3c" stroke-width="2.4" stroke-linecap="square" fill="none"/>
<path transform="scale(.5)" d="m946 557zm5 2zm15 0zm4 0zm9 0zm4 0zm-31 1zm9 0zm4 0zm-19 1zm8 0zm2 0zm3 0zm7 0zm-26 1zm9 0zm6 0zm3 0zm3 0zm2 0zm21 0zm5 0zm-45 1zm10 0zm6 0zm5 0zm8 0zm-34 1zm7 0zm3 0zm3 0zm2 0zm5 0zm3 0zm6 0zm9 0zm-224 1zm187 0zm1 0zm9 0zm1 0zm1 0zm1 0zm2 0zm8 0zm10 0zm8 0zm-43 1zm1 0zm12 0zm1 0zm2 0zm2 0zm2 0zm2 0zm3 0zm3 0zm2 0zm4 0zm14 0zm-39 1zm1 0zm1 0zm3 0zm3 0zm2 0zm1 0zm6 0zm2 0zm1 0zm4 0zm2 0zm11 0zm2 0zm-225 1zm150 0zm16 0zm1 0zm18 0zm2 0zm3 0zm1 0zm1 0zm1 0zm1 0zm4 0zm3 0zm2 0zm3 0zm3 0zm2 0zm7 0zm-231 1zm192 0zm3 0zm2 0zm1 0zm1 0zm1 0zm1 0zm5 0zm3 0zm1 0zm2 0zm1 0zm1 0zm1 0zm1 0zm1 0zm2 0zm3 0zm2 0zm3 0zm2 0zm1 0zm5 0zm-232 1zm192 0zm8 0zm2 0zm1 0zm1 0zm2 0zm2 0zm1 0zm1 0zm3 0zm1 0zm1 0zm2 0zm2 0zm1 0zm2 0zm2 0zm1 0zm5 0zm8 0zm-51 1zm2 0zm1 0zm2 0zm7 0zm2 0zm1 0zm3 0zm1 0zm2 0zm2 0zm3 0zm5 0zm2 0zm2 0zm1 0zm20 0zm-255 1zm3 0zm2 0zm1 0zm23 0zm167 0zm7 0zm1 0zm5 0zm4 0zm2 0zm1 0zm3 0zm3 0zm8 0zm2 0zm2 0zm4 0zm2 0zm-233 1zm3 0zm194 0zm4 0zm2 0zm1 0zm3 0zm1 0zm1 0zm1 0zm1 0zm4 0zm1 0zm1 0zm1 0zm2 0zm1 0zm4 0zm2 0zm10 0zm-240 1zm4 0zm5 0zm1 0zm5 0zm1 0zm178 0zm2 0zm6 0zm8 0zm4 0zm1 0zm4 0zm1 0zm1 0zm1 0zm3 0zm1 0zm2 0zm7 0zm-222 1zm5 0zm174 0zm15 0zm5 0zm1 0zm6 0zm1 0zm1 0zm4 0zm3 0zm-221 1zm8 0zm6 0zm184 0zm7 0zm4 0zm2 0zm1 0zm2 0zm4 0zm2 0zm2 0zm2 0zm12 0zm-230 1zm10 0zm181 0zm3 0zm14 0zm1 0zm3 0zm-230 1zm13 0zm3 0zm7 0zm10 0zm-22 1zm3 0zm3 0zm16 0zm186 0zm2 0zm2 0zm3 0zm1 0zm1 0zm-226 1zm7 0zm5 0zm1 0zm2 0zm3 0zm11 0zm6 0zm188 0zm12 0zm-321 1zm80 0zm11 0zm2 0zm2 0zm8 0zm1 0zm7 0zm192 0zm-328 1zm99 0zm17 0zm8 0zm3 0zm11 0zm11 0zm171 0zm-208 1zm7 0zm2 0zm2 0zm4 0zm2 0zm3 0zm-128 1zm106 0zm3 0zm1 0zm1 0zm5 0zm3 0zm2 0zm3 0zm1 0zm3 0zm3 0zm1 0zm1 0zm1 0zm6 0zm-125 1zm91 0zm3 0zm2 0zm2 0zm1 0zm3 0zm3 0zm1 0zm1 0zm2 0zm1 0zm2 0zm2 0zm2 0zm3 0zm3 0zm-35 1zm6 0zm1 0zm1 0zm8 0zm1 0zm1 0zm2 0zm1 0zm1 0zm1 0zm1 0zm1 0zm9 0zm7 0zm-128 1zm94 0zm2 0zm1 0zm1 0zm1 0zm1 0zm7 0zm2 0zm3 0zm3 0zm1 0zm7 0zm8 0zm-63 1zm13 0zm6 0zm8 0zm1 0zm1 0zm3 0zm2 0zm1 0zm2 0zm4 0zm4 0zm1 0zm3 0zm1 0zm7 0zm-126 1zm86 0zm1 0zm9 0zm6 0zm5 0zm1 0zm4 0zm3 0zm6 0zm2 0zm3 0zm-134 1zm82 0zm13 0zm9 0zm2 0zm8 0zm1 0zm2 0zm1 0zm1 0zm1 0zm3 0zm1 0zm4 0zm1 0zm5 0zm-140 1zm2 0zm90 0zm9 0zm2 0zm3 0zm4 0zm1 0zm2 0zm2 0zm3 0zm1 0zm1 0zm1 0zm1 0zm2 0zm2 0zm1 0zm9 0zm-142 1zm11 0zm10 0zm77 0zm6 0zm3 0zm2 0zm1 0zm7 0zm3 0zm3 0zm5 0zm2 0zm2 0zm2 0zm5 0zm1 0zm1 0zm-126 1zm80 0zm10 0zm4 0zm1 0zm4 0zm3 0zm1 0zm1 0zm3 0zm4 0zm1 0zm4 0zm-122 1zm1 0zm89 0zm1 0zm1 0zm2 0zm5 0zm1 0zm2 0zm1 0zm4 0zm1 0zm2 0zm1 0zm1 0zm1 0zm2 0zm4 0zm1 0zm3 0zm3 0zm3 0zm1 0zm6 0zm-135 1zm73 0zm10 0zm2 0zm8 0zm1 0zm5 0zm2 0zm1 0zm7 0zm1 0zm2 0zm1 0zm2 0zm1 0zm2 0zm1 0zm1 0zm2 0zm3 0zm6 0zm-133 1zm5 0zm84 0zm2 0zm2 0zm3 0zm1 0zm2 0zm3 0zm1 0zm1 0zm1 0zm4 0zm2 0zm2 0zm2 0zm2 0zm1 0zm2 0zm3 0zm2 0zm-126 1zm5 0zm1 0zm77 0zm10 0zm1 0zm1 0zm2 0zm4 0zm1 0zm1 0zm1 0zm4 0zm3 0zm2 0zm2 0zm1 0zm2 0zm1 0zm1 0zm4 0zm1 0zm1 0zm1 0zm1 0zm2 0zm1 0zm3 0zm12 0zm-143 1zm2 0zm5 0zm46 0zm24 0zm7 0zm6 0zm3 0zm5 0zm2 0zm1 0zm1 0zm1 0zm2 0zm3 0zm1 0zm2 0zm2 0zm2 0zm3 0zm5 0zm1 0zm3 0zm1 0zm2 0zm3 0zm-131 1zm69 0zm10 0zm6 0zm11 0zm3 0zm1 0zm5 0zm2 0zm1 0zm2 0zm1 0zm4 0zm1 0zm5 0zm1 0zm4 0zm3 0zm-139 1zm3 0zm3 0zm3 0zm2 0zm3 0zm3 0zm2 0zm2 0zm60 0zm2 0zm4 0zm7 0zm5 0zm1 0zm2 0zm2 0zm2 0zm2 0zm2 0zm5 0zm3 0zm5 0zm4 0zm1 0zm2 0zm9 0zm-140 1zm14 0zm1 0zm12 0zm34 0zm17 0zm7 0zm3 0zm1 0zm2 0zm6 0zm3 0zm1 0zm5 0zm2 0zm2 0zm1 0zm1 0zm3 0zm1 0zm2 0zm1 0zm8 0zm2 0zm8 0zm-132 1zm2 0zm4 0zm1 0zm3 0zm49 0zm13 0zm12 0zm2 0zm6 0zm4 0zm1 0zm3 0zm5 0zm1 0zm4 0zm2 0zm1 0zm1 0zm6 0zm1 0zm9 0zm7 0zm-136 1zm1 0zm3 0zm2 0zm2 0zm3 0zm1 0zm3 0zm3 0zm24 0zm26 0zm11 0zm2 0zm3 0zm9 0zm2 0zm1 0zm6 0zm6 0zm3 0zm1 0zm1 0zm1 0zm1 0zm2 0zm4 0zm1 0zm2 0zm1 0zm1 0zm1 0zm-130 1zm3 0zm2 0zm6 0zm6 0zm42 0zm15 0zm3 0zm1 0zm1 0zm7 0zm5 0zm1 0zm1 0zm1 0zm1 0zm1 0zm3 0zm1 0zm7 0zm5 0zm1 0zm1 0zm2 0zm7 0zm4 0zm1 0zm2 0zm4 0zm-140 1zm8 0zm5 0zm1 0zm3 0zm3 0zm1 0zm4 0zm33 0zm1 0zm6 0zm1 0zm4 0zm1 0zm3 0zm3 0zm7 0zm1 0zm9 0zm3 0zm3 0zm9 0zm2 0zm2 0zm4 0zm2 0zm5 0zm1 0zm2 0zm5 0zm13 0zm-142 1zm1 0zm4 0zm1 0zm7 0zm1 0zm2 0zm1 0zm38 0zm2 0zm6 0zm2 0zm1 0zm6 0zm2 0zm3 0zm3 0zm3 0zm1 0zm6 0zm27 0zm1 0zm4 0zm1 0zm3 0zm2 0zm9 0zm1 0zm-137 1zm5 0zm5 0zm1 0zm1 0zm1 0zm40 0zm11 0zm1 0zm2 0zm4 0zm2 0zm2 0zm2 0zm6 0zm18 0zm13 0zm6 0zm4 0zm4 0zm7 0zm5 0zm-135 1zm2 0zm4 0zm1 0zm2 0zm4 0zm3 0zm26 0zm12 0zm5 0zm3 0zm1 0zm2 0zm1 0zm3 0zm2 0zm3 0zm10 0zm4 0zm22 0zm4 0zm1 0zm2 0zm6 0zm2 0zm-128 1zm3 0zm2 0zm2 0zm2 0zm4 0zm1 0zm2 0zm1 0zm4 0zm1 0zm14 0zm19 0zm1 0zm2 0zm1 0zm16 0zm31 0zm6 0zm1 0zm23 0zm-137 1zm1 0zm2 0zm3 0zm3 0zm2 0zm2 0zm2 0zm32 0zm4 0zm1 0zm4 0zm5 0zm1 0zm5 0zm13 0zm3 0zm13 0zm23 0zm-120 1zm5 0zm2 0zm3 0zm1 0zm2 0zm4 0zm2 0zm2 0zm35 0zm6 0zm4 0zm1 0zm2 0zm11 0zm5 0zm25 0zm1 0zm18 0zm1 0zm6 0zm-132 1zm1 0zm4 0zm1 0zm2 0zm3 0zm2 0zm21 0zm3 0zm2 0zm1 0zm2 0zm4 0zm7 0zm2 0zm10 0zm7 0zm3 0zm5 0zm23 0zm21 0zm-132 1zm5 0zm2 0zm5 0zm2 0zm2 0zm1 0zm7 0zm1 0zm2 0zm16 0zm2 0zm5 0zm6 0zm4 0zm5 0zm3 0zm5 0zm7 0zm1 0zm5 0zm39 0zm7 0zm8 0zm-135 1zm2 0zm5 0zm1 0zm3 0zm1 0zm1 0zm4 0zm17 0zm10 0zm3 0zm3 0zm6 0zm5 0zm5 0zm46 0zm-115 1zm3 0zm1 0zm3 0zm3 0zm1 0zm1 0zm3 0zm1 0zm2 0zm1 0zm2 0zm1 0zm9 0zm6 0zm9 0zm3 0zm1 0zm2 0zm1 0zm1 0zm2 0zm6 0zm4 0zm-66 1zm4 0zm3 0zm1 0zm3 0zm1 0zm3 0zm1 0zm3 0zm2 0zm1 0zm2 0zm16 0zm3 0zm11 0zm-54 1zm4 0zm1 0zm2 0zm1 0zm1 0zm1 0zm1 0zm3 0zm2 0zm1 0zm2 0zm1 0zm2 0zm9 0zm8 0zm1 0zm1 0zm2 0zm3 0zm10 0zm53 0zm19 0zm-126 1zm3 0zm1 0zm1 0zm2 0zm4 0zm1 0zm2 0zm2 0zm5 0zm4 0zm2 0zm3 0zm7 0zm1 0zm7 0zm4 0zm3 0zm1 0zm79 0zm-130 1zm3 0zm1 0zm1 0zm1 0zm1 0zm1 0zm3 0zm8 0zm4 0zm2 0zm6 0zm4 0zm1 0zm1 0zm1 0zm1 0zm63 0zm21 0zm-120 1zm1 0zm1 0zm2 0zm1 0zm2 0zm1 0zm1 0zm2 0zm1 0zm1 0zm3 0zm3 0zm2 0zm3 0zm1 0zm5 0zm2 0zm3 0zm14 0zm-58 1zm2 0zm4 0zm1 0zm2 0zm1 0zm5 0zm2 0zm2 0zm2 0zm1 0zm2 0zm1 0zm3 0zm1 0zm2 0zm3 0zm3 0zm7 0zm12 0zm-50 1zm7 0zm1 0zm2 0zm1 0zm2 0zm1 0zm1 0zm2 0zm1 0zm2 0zm6 0zm4 0zm1 0zm3 0zm3 0zm6 0zm-43 1zm1 0zm3 0zm2 0zm1 0zm1 0zm1 0zm2 0zm1 0zm4 0zm2 0zm2 0zm4 0zm1 0zm1 0zm1 0zm3 0zm6 0zm-35 1zm4 0zm2 0zm2 0zm1 0zm1 0zm2 0zm3 0zm3 0zm1 0zm3 0zm3 0zm2 0zm2 0zm1 0zm12 0zm3 0zm-48 1zm1 0zm3 0zm1 0zm2 0zm3 0zm1 0zm6 0zm1 0zm5 0zm1 0zm109 0zm-134 1zm3 0zm4 0zm2 0zm1 0zm1 0zm2 0zm4 0zm3 0zm2 0zm1 0zm2 0zm2 0zm-28 1zm2 0zm2 0zm2 0zm1 0zm1 0zm1 0zm1 0zm1 0zm2 0zm2 0zm2 0zm2 0zm1 0zm4 0zm7 0zm-30 1zm2 0zm3 0zm1 0zm1 0zm1 0zm1 0zm1 0zm1 0zm1 0zm9 0zm4 0zm-27 1zm6 0zm1 0zm1 0zm3 0zm1 0zm1 0zm1 0zm1 0zm2 0zm1 0zm1 0zm1 0zm3 0zm1 0zm1 0zm13 0zm-38 1zm1 0zm3 0zm3 0zm2 0zm2 0zm2 0zm2 0zm1 0zm2 0zm2 0zm2 0zm2 0zm5 0zm-26 1zm6 0zm1 0zm2 0zm1 0zm1 0zm1 0zm4 0zm2 0zm1 0zm-21 1zm1 0zm1 0zm2 0zm1 0zm1 0zm1 0zm1 0zm1 0zm2 0zm4 0zm2 0zm1 0zm4 0zm-21 1zm2 0zm5 0zm1 0zm3 0zm1 0zm1 0zm5 0zm2 0zm1 0zm-23 1zm1 0zm3 0zm1 0zm4 0zm3 0zm2 0zm1 0zm2 0zm1 0zm2 0zm1 0zm2 0zm-16 1zm1 0zm2 0zm1 0zm2 0zm3 0zm-14 1zm1 0zm1 0zm1 0zm1 0zm1 0zm1 0zm2 0zm2 0zm1 0zm1 0zm3 0zm4 0zm-21 1zm4 0zm2 0zm3 0zm3 0zm2 0zm5 0zm-19 1zm8 0zm1 0zm5 0zm2 0zm1 0zm2 0zm7 0zm-21 1zm4 0zm3 0zm3 0zm2 0zm1 0zm3 0zm-21 1zm4 0zm1 0zm1 0zm2 0zm3 0zm1 0zm1 0zm1 0zm1 0zm2 0zm-14 1zm2 0zm2 0zm11 0zm-17 1zm2 0zm9 0zm2 0zm2 0zm-13 1zm1 0zm5 0zm4 0zm4 0zm-5 1zm1 0zm1 0zm3 0zm3 0zm-12 1zm5 0zm1 0zm-1 1zm1 0zm8 0zm-13 1zm2 0zm1 0zm1 0zm-2 1zm6 0zm3 1zm-19 1zm7 0zm7 0zm3 0zm2 0zm-16 1zm11 1zm3 0zm-4 1zm4 0zm-7 2zm-9 3zm5 0zm7 1z" stroke="#6c6c6c" stroke-width="2.4" stroke-linecap="square" fill="none"/>
<path transform="scale(.5)" d="m756 453zm78 4zm31 9zm124 3zm-194 1zm141 1zm-251 1zm216 2zm-19 2zm-218 2zm214 4zm29 1zm21 2zm-229 5zm30 1zm102 0zm45 3zm129 0zm-104 1zm78 0zm-189 1zm109 1zm85 0zm35 0zm-21 1zm-84 4zm3 1zm-13 2zm-156 2zm14 0zm82 0zm113 1zm70 0zm-149 1zm-36 1zm14 0zm117 0zm-167 1zm99 0zm97 0zm-208 1zm50 1zm2 0zm161 0zm-356 1zm118 0zm220 0zm-319 1zm69 0zm93 0zm-28 1zm178 0zm35 0zm-147 1zm151 0zm-376 1zm353 1zm17 1zm-61 1zm53 0zm-372 1zm-2 1zm311 0zm13 0zm66 0zm-390 1zm5 0zm10 0zm33 0zm295 0zm16 0zm-345 1zm76 0zm92 0zm42 0zm-8 1zm-104 1zm27 0zm209 0zm-211 1zm43 0zm193 0zm14 0zm-311 1zm74 0zm54 0zm3 0zm51 0zm-260 1zm360 0zm-47 1zm42 0zm-310 1zm50 0zm9 0zm162 0zm39 0zm-307 1zm186 0zm42 0zm24 0zm89 0zm41 0zm11 0zm-367 1zm91 0zm3 0zm13 0zm107 1zm16 0zm6 0zm106 0zm26 0zm-388 1zm352 0zm33 0zm-204 1zm35 0zm-166 1zm26 0zm4 0zm251 0zm3 0zm6 0zm14 0zm-37 1zm59 0zm1 0zm-380 1zm103 0zm111 0zm54 0zm1 0zm-263 1zm150 0zm173 0zm1 0zm-182 1zm78 0zm-126 1zm55 0zm134 0zm68 1zm-268 1zm300 0zm4 0zm-352 1zm81 0zm193 0zm-282 1zm112 0zm134 0zm18 0zm64 0zm30 0zm-307 1zm231 0zm18 0zm18 0zm29 0zm10 0zm-394 1zm173 0zm47 0zm29 0zm41 0zm11 0zm31 0zm20 0zm-207 1zm62 0zm14 0zm29 0zm36 0zm9 0zm85 0zm16 0zm-192 1zm74 0zm-205 1zm33 0zm-36 1zm77 0zm4 0zm78 0zm8 0zm28 0zm82 0zm48 0zm-358 1zm35 0zm108 0zm56 1zm69 0zm-202 1zm4 0zm45 0zm95 0zm19 0zm27 0zm61 0zm41 0zm-376 1zm151 0zm143 0zm-263 1zm99 0zm42 0zm59 0zm26 0zm70 0zm13 0zm2 0zm33 0zm-319 1zm75 0zm82 0zm28 0zm31 0zm39 0zm-140 1zm101 0zm37 0zm27 0zm18 0zm10 0zm-265 1zm39 0zm180 0zm30 0zm-369 1zm2 0zm58 0zm80 0zm152 0zm47 0zm17 0zm-115 1zm21 0zm6 0zm-230 1zm36 0zm26 0zm94 0zm4 0zm3 0zm13 0zm19 0zm-229 1zm205 0zm44 0zm55 0zm50 0zm-270 1zm102 0zm119 0zm9 0zm-162 1zm41 0zm84 0zm35 0zm-230 1zm1 0zm6 0zm19 0zm20 0zm62 0zm63 0zm34 0zm12 0zm-271 1zm38 0zm37 0zm27 0zm34 0zm5 0zm47 0zm1 0zm9 0zm5 0zm14 0zm21 0zm2 0zm-143 1zm31 0zm8 0zm12 0zm60 0zm17 0zm28 0zm-265 1zm11 0zm43 0zm111 0zm39 0zm-31 1zm-128 1zm114 0zm7 0zm43 0zm6 0zm20 0zm-233 1zm108 0zm5 0zm22 0zm-65 1zm76 0zm27 0zm36 0zm-228 1zm2 0zm143 0zm74 0zm1 0zm6 0zm-130 1zm43 0zm5 0zm74 0zm-215 1zm2 0zm51 0zm17 0zm126 0zm11 0zm5 0zm2 0zm-216 1zm108 0zm13 0zm15 0zm52 0zm-129 1zm63 0zm43 0zm8 0zm-166 1zm64 0zm78 0zm-149 1zm94 0zm106 0zm-54 1zm48 0zm-152 1zm33 0zm3 0zm2 0zm1 0zm78 0zm21 0zm-175 1zm49 0zm34 0zm71 0zm20 0zm-168 1zm31 0zm81 0zm30 0zm19 0zm1 0zm11 0zm-177 1zm62 0zm42 0zm11 0zm19 0zm36 0zm-162 1zm9 0zm18 0zm79 0zm6 0zm-124 2zm30 0zm3 0zm39 0zm2 0zm27 0zm-102 1zm1 0zm31 1zm8 0zm13 0zm15 0zm1 0zm25 0zm16 0zm13 0zm-124 1zm1 0zm17 0zm2 0zm57 0zm33 0zm-101 1zm31 0zm30 0zm-72 1zm22 0zm56 0zm25 0zm-63 1zm7 0zm25 0zm2 0zm17 0zm4 0zm-94 1zm7 0zm22 0zm18 0zm31 0zm-75 1zm5 0zm66 0zm-78 1zm25 0zm60 0zm-40 1zm-34 1zm47 0zm-57 1zm12 0zm27 0zm40 0zm-64 1zm48 0zm3 0zm-66 1zm21 0zm2 0zm16 0zm6 0zm36 0zm-82 2zm26 0zm29 0zm8 1zm1 0zm-54 1zm10 0zm9 0zm16 0zm-40 2zm3 0zm4 0zm-12 1zm1 0zm37 0zm3 0zm-17 1zm8 0zm-25 2zm-5 1zm18 0zm14 0zm-31 1zm9 0zm9 0zm15 0zm-33 1zm13 0zm9 0zm-5 1zm11 0zm-24 1zm4 0zm3 0zm9 0zm-11 1zm5 1zm5 0zm9 0zm-30 1zm1 0zm3 0zm-5 1zm4 0zm7 1zm14 0zm-18 1zm5 0zm1 0zm-4 2zm-8 3z" stroke="#2e2e2e" stroke-width="2.8" stroke-linecap="square" fill="none"/>
<path d="M311.8 219.2L515.5 218.5L515.5 343.7L311.7 344.6Z" stroke="#151515" stroke-width="1.1" fill="none"/>
<path d="M311.8 338.5h-2.8M311.8 334.3h-2.8M311.8 330.7h-2.8M311.8 327.6h-2.8M311.8 324.9h-2.8M311.8 322.4h-2.8M311.8 306.3h-2.8M311.8 296.8h-2.8M311.8 290.1h-2.8M311.8 284.9h-2.8M311.8 280.7h-2.8M311.8 277.1h-2.8M311.8 274h-2.8M311.8 271.3h-2.8M311.8 268.8h-2.8M311.8 252.7h-2.8M311.8 243.2h-2.8M311.8 236.5h-2.8M311.8 231.3h-2.8M311.8 227.1h-2.8M311.8 223.5h-2.8M311.8 220.4h-2.8" stroke="#151515" stroke-width="1.0" fill="none"/>
<path d="M311.8 322.4h-5.4M311.8 268.8h-5.4" stroke="#151515" stroke-width="1.0" fill="none"/>
<path d="M314.8 344.2v4.2M365.7 344.2v4.2M416.6 344.2v4.2M467.5 344.2v4.2" stroke="#151515" stroke-width="1.0" fill="none"/>
<path d="M314.8 344.2v2.6M325 344.2v2.6M335.2 344.2v2.6M345.3 344.2v2.6M355.5 344.2v2.6M365.7 344.2v2.6M375.9 344.2v2.6M386.1 344.2v2.6M396.2 344.2v2.6M406.4 344.2v2.6M416.6 344.2v2.6M426.8 344.2v2.6M437 344.2v2.6M447.1 344.2v2.6M457.3 344.2v2.6M467.5 344.2v2.6M477.7 344.2v2.6M487.9 344.2v2.6M498 344.2v2.6M508.2 344.2v2.6" stroke="#151515" stroke-width="1.0" fill="none"/>
<text x="315.3" y="360" font-size="10.5" text-anchor="middle" fill="#151515">200</text>
<text x="365.7" y="360" font-size="10.5" text-anchor="middle" fill="#151515">400</text>
<text x="416.6" y="360" font-size="10.5" text-anchor="middle" fill="#151515">600</text>
<text x="467.5" y="360" font-size="10.5" text-anchor="middle" fill="#151515">800</text>
<text x="413" y="373.7" font-size="10.5" text-anchor="middle" textLength="44.5" lengthAdjust="spacingAndGlyphs" fill="#151515">FL3-Area</text>
<text x="288.8" y="283" font-size="10.5" text-anchor="middle" transform="rotate(-90 288.8 283)" textLength="37.5" lengthAdjust="spacingAndGlyphs" fill="#151515">B1 FITC</text>
<text x="304.8" y="331.4" font-size="10.5" fill="#151515" transform="rotate(-90 304.8 331.4)">10<tspan dy="-6.6" font-size="10">1</tspan></text>
<text x="304.8" y="277.8" font-size="10.5" fill="#151515" transform="rotate(-90 304.8 277.8)">10<tspan dy="-6.6" font-size="10">2</tspan></text>
<text x="316.3" y="235" font-size="16.2" fill="#151515" stroke="#151515" stroke-width="0.3">D</text>
<text transform="translate(322.8 256.3) scale(1.1 1)" font-size="16.3" letter-spacing="2.4" fill="#151515" stroke="#151515" stroke-width="0.2">8N</text>
<text transform="translate(365.2 241.3) scale(1.1 1)" font-size="16.3" letter-spacing="1.6" fill="#151515" stroke="#151515" stroke-width="0.2">16N</text>
<text transform="translate(460.8 232.8) scale(1.1 1)" font-size="16.3" letter-spacing="1.5" fill="#151515" stroke="#151515" stroke-width="0.2">32N</text>
<path transform="scale(.5)" d="m402 912zm-9 2zm3 0zm8 1zm-3 2zm-4 1zm1 0zm27 1zm-39 2zm-268 1zm299 0zm-23 1zm12 0zm-15 1zm5 1zm-12 1zm12 0zm6 0zm0 1zm-9 1zm7 0zm2 0zm1 0zm16 0zm10 0zm-32 1zm1 0zm3 0zm3 0zm2 0zm-17 1zm2 0zm1 0zm9 0zm1 0zm1 0zm1 0zm7 1zm4 0zm-135 1zm107 0zm5 0zm3 0zm1 0zm4 0zm3 0zm3 0zm2 0zm-27 1zm8 0zm1 0zm3 0zm3 0zm-250 1zm125 0zm108 0zm2 0zm13 0zm3 0zm8 0zm2 0zm17 0zm-138 1zm108 0zm1 0zm1 0zm2 0zm5 0zm-85 1zm74 0zm1 0zm1 0zm1 0zm1 0zm7 0zm1 0zm1 0zm2 0zm1 0zm-144 1zm27 0zm67 0zm29 0zm5 0zm8 0zm1 0zm1 0zm2 0zm2 0zm-272 1zm252 0zm3 0zm1 0zm1 0zm2 0zm3 0zm1 0zm1 0zm5 0zm3 0zm2 0zm-277 1zm16 0zm229 0zm5 0zm8 0zm1 0zm3 0zm1 0zm1 0zm3 0zm1 0zm2 0zm5 0zm1 0zm3 0zm-29 1zm3 0zm8 0zm1 0zm2 0zm3 0zm1 0zm1 0zm2 0zm1 0zm2 0zm1 0zm2 0zm-134 1zm1 0zm12 0zm99 0zm3 0zm2 0zm4 0zm1 0zm2 0zm1 0zm2 0zm1 0zm1 0zm2 0zm6 0zm-291 1zm27 0zm120 0zm7 0zm4 0zm7 0zm99 0zm3 0zm2 0zm3 0zm5 0zm4 0zm5 0zm-259 1zm119 0zm11 0zm111 0zm3 0zm2 0zm1 0zm2 0zm2 0zm2 0zm1 0zm1 0zm7 0zm6 0zm2 0zm-319 1zm21 0zm150 0zm8 0zm4 0zm82 0zm8 0zm11 0zm4 0zm1 0zm1 0zm1 0zm2 0zm3 0zm1 0zm1 0zm1 0zm1 0zm1 0zm1 0zm2 0zm1 0zm1 0zm1 0zm4 0zm-31 1zm4 0zm1 0zm3 0zm1 0zm1 0zm1 0zm2 0zm1 0zm1 0zm2 0zm6 0zm3 0zm1 0zm4 0zm1 0zm1 0zm-30 1zm10 0zm1 0zm1 0zm2 0zm3 0zm1 0zm1 0zm1 0zm2 0zm1 0zm4 0zm-144 1zm2 0zm1 0zm13 0zm3 0zm5 0zm23 0zm75 0zm1 0zm2 0zm1 0zm3 0zm1 0zm4 0zm1 0zm1 0zm3 0zm1 0zm6 0zm12 0zm-296 1zm25 0zm104 0zm35 0zm88 0zm3 0zm5 0zm2 0zm1 0zm1 0zm1 0zm1 0zm1 0zm1 0zm2 0zm1 0zm1 0zm1 0zm3 0zm2 0zm1 0zm1 0zm1 0zm2 0zm1 0zm5 0zm7 0zm-287 1zm139 0zm3 0zm9 0zm36 0zm62 0zm9 0zm2 0zm1 0zm2 0zm1 0zm1 0zm1 0zm1 0zm1 0zm4 0zm1 0zm2 0zm-227 1zm86 0zm6 0zm112 0zm1 0zm1 0zm1 0zm1 0zm1 0zm1 0zm5 0zm1 0zm2 0zm2 0zm2 0zm1 0zm2 0zm2 0zm1 0zm-251 1zm104 0zm31 0zm82 0zm6 0zm7 0zm1 0zm1 0zm4 0zm1 0zm1 0zm1 0zm2 0zm2 0zm2 0zm1 0zm1 0zm1 0zm1 0zm6 0zm-276 1zm122 0zm1 0zm2 0zm4 0zm3 0zm97 0zm3 0zm10 0zm5 0zm2 0zm5 0zm1 0zm1 0zm1 0zm1 0zm1 0zm2 0zm1 0zm2 0zm2 0zm1 0zm1 0zm4 0zm7 0zm-298 1zm5 0zm131 0zm12 0zm8 0zm1 0zm7 0zm37 0zm11 0zm41 0zm8 0zm2 0zm2 0zm1 0zm2 0zm3 0zm4 0zm1 0zm1 0zm1 0zm1 0zm1 0zm1 0zm2 0zm1 0zm1 0zm1 0zm1 0zm5 0zm1 0zm2 0zm8 0zm-298 1zm7 0zm8 0zm112 0zm12 0zm11 0zm15 0zm39 0zm43 0zm3 0zm1 0zm1 0zm2 0zm5 0zm3 0zm1 0zm1 0zm1 0zm1 0zm3 0zm1 0zm1 0zm1 0zm1 0zm1 0zm1 0zm2 0zm1 0zm1 0zm1 0zm1 0zm2 0zm4 0zm6 0zm-286 1zm23 0zm111 0zm2 0zm2 0zm29 0zm45 0zm9 0zm15 0zm15 0zm4 0zm7 0zm3 0zm2 0zm1 0zm1 0zm1 0zm3 0zm2 0zm4 0zm-316 1zm33 0zm2 0zm33 0zm98 0zm6 0zm7 0zm4 0zm9 0zm20 0zm36 0zm27 0zm2 0zm4 0zm1 0zm2 0zm3 0zm3 0zm4 0zm2 0zm2 0zm1 0zm2 0zm2 0zm1 0zm1 0zm1 0zm2 0zm1 0zm1 0zm1 0zm1 0zm3 0zm6 0zm-143 1zm5 0zm4 0zm11 0zm2 0zm6 0zm69 0zm3 0zm4 0zm2 0zm3 0zm1 0zm5 0zm5 0zm3 0zm1 0zm1 0zm2 0zm1 0zm2 0zm4 0zm1 0zm2 0zm6 0zm1 0zm1 0zm1 0zm-298 1zm21 0zm136 0zm12 0zm25 0zm34 0zm8 0zm10 0zm10 0zm11 0zm1 0zm2 0zm3 0zm2 0zm1 0zm3 0zm1 0zm3 0zm2 0zm2 0zm3 0zm3 0zm-323 1zm9 0zm45 0zm32 0zm83 0zm7 0zm7 0zm7 0zm83 0zm6 0zm2 0zm1 0zm2 0zm3 0zm5 0zm3 0zm2 0zm1 0zm9 0zm1 0zm1 0zm1 0zm1 0zm1 0zm1 0zm1 0zm4 0zm1 0zm1 0zm4 0zm-285 1zm128 0zm6 0zm8 0zm8 0zm3 0zm2 0zm12 0zm6 0zm31 0zm20 0zm12 0zm3 0zm1 0zm2 0zm1 0zm5 0zm1 0zm3 0zm1 0zm1 0zm1 0zm3 0zm2 0zm3 0zm3 0zm1 0zm1 0zm2 0zm3 0zm1 0zm3 0zm1 0zm2 0zm2 0zm-316 1zm17 0zm26 0zm20 0zm1 0zm116 0zm61 0zm34 0zm1 0zm4 0zm3 0zm2 0zm1 0zm2 0zm3 0zm4 0zm1 0zm3 0zm1 0zm1 0zm1 0zm1 0zm2 0zm1 0zm1 0zm1 0zm1 0zm1 0zm3 0zm-300 1zm35 0zm126 0zm4 0zm1 0zm10 0zm5 0zm6 0zm55 0zm1 0zm7 0zm4 0zm1 0zm2 0zm2 0zm3 0zm5 0zm3 0zm8 0zm2 0zm1 0zm8 0zm1 0zm3 0zm1 0zm1 0zm3 0zm1 0zm1 0zm2 0zm2 0zm2 0zm-298 1zm34 0zm128 0zm14 0zm12 0zm45 0zm5 0zm13 0zm2 0zm2 0zm2 0zm5 0zm7 0zm3 0zm1 0zm1 0zm4 0zm1 0zm1 0zm1 0zm3 0zm2 0zm1 0zm1 0zm4 0zm3 0zm4 0zm-292 1zm138 0zm22 0zm4 0zm4 0zm50 0zm2 0zm2 0zm6 0zm9 0zm2 0zm3 0zm1 0zm6 0zm2 0zm2 0zm1 0zm1 0zm6 0zm1 0zm1 0zm5 0zm1 0zm2 0zm1 0zm6 0zm8 0zm1 0zm6 0zm-304 1zm9 0zm134 0zm2 0zm10 0zm5 0zm3 0zm46 0zm18 0zm3 0zm6 0zm2 0zm2 0zm3 0zm1 0zm2 0zm2 0zm2 0zm1 0zm3 0zm6 0zm1 0zm8 0zm8 0zm2 0zm4 0zm4 0zm2 0zm3 0zm5 0zm3 0zm1 0zm1 0zm2 0zm-289 1zm3 0zm2 0zm137 0zm4 0zm4 0zm1 0zm3 0zm4 0zm2 0zm6 0zm44 0zm5 0zm2 0zm6 0zm1 0zm5 0zm1 0zm1 0zm4 0zm14 0zm9 0zm6 0zm6 0zm7 0zm-274 1zm18 0zm5 0zm91 0zm11 0zm4 0zm6 0zm4 0zm1 0zm2 0zm1 0zm3 0zm5 0zm1 0zm5 0zm5 0zm1 0zm46 0zm4 0zm6 0zm2 0zm2 0zm2 0zm1 0zm1 0zm2 0zm2 0zm1 0zm2 0zm1 0zm1 0zm2 0zm3 0zm2 0zm1 0zm2 0zm4 0zm2 0zm14 0zm2 0zm6 0zm2 0zm2 0zm1 0zm1 0zm6 0zm5 0zm-270 1zm103 0zm2 0zm8 0zm4 0zm4 0zm10 0zm9 0zm1 0zm37 0zm2 0zm2 0zm4 0zm6 0zm4 0zm3 0zm2 0zm7 0zm4 0zm3 0zm2 0zm15 0zm3 0zm6 0zm2 0zm4 0zm3 0zm1 0zm1 0zm2 0zm6 0zm-293 1zm9 0zm132 0zm1 0zm5 0zm14 0zm1 0zm1 0zm2 0zm2 0zm3 0zm6 0zm2 0zm4 0zm21 0zm3 0zm8 0zm3 0zm16 0zm1 0zm4 0zm3 0zm1 0zm6 0zm9 0zm9 0zm10 0zm3 0zm2 0zm8 0zm-293 1zm2 0zm15 0zm17 0zm1 0zm110 0zm2 0zm6 0zm3 0zm5 0zm4 0zm3 0zm2 0zm13 0zm7 0zm18 0zm11 0zm6 0zm3 0zm1 0zm4 0zm1 0zm1 0zm2 0zm3 0zm2 0zm6 0zm4 0zm1 0zm4 0zm20 0zm6 0zm6 0zm1 0zm4 0zm-289 1zm29 0zm4 0zm108 0zm2 0zm1 0zm1 0zm5 0zm4 0zm3 0zm1 0zm3 0zm2 0zm1 0zm2 0zm2 0zm4 0zm6 0zm5 0zm4 0zm5 0zm1 0zm18 0zm6 0zm4 0zm5 0zm5 0zm1 0zm9 0zm2 0zm4 0zm1 0zm2 0zm5 0zm9 0zm12 0zm3 0zm8 0zm-285 1zm134 0zm3 0zm2 0zm2 0zm4 0zm3 0zm1 0zm3 0zm3 0zm3 0zm2 0zm1 0zm2 0zm3 0zm1 0zm3 0zm2 0zm25 0zm7 0zm1 0zm11 0zm2 0zm4 0zm1 0zm1 0zm1 0zm1 0zm2 0zm1 0zm1 0zm1 0zm9 0zm4 0zm4 0zm25 0zm6 0zm4 0zm7 0zm4 0zm-321 1zm1 0zm54 0zm84 0zm29 0zm3 0zm2 0zm1 0zm1 0zm7 0zm1 0zm1 0zm1 0zm5 0zm1 0zm1 0zm6 0zm4 0zm7 0zm16 0zm15 0zm2 0zm7 0zm1 0zm1 0zm3 0zm3 0zm36 0zm9 0zm2 0zm8 0zm-291 1zm16 0zm12 0zm21 0zm89 0zm6 0zm2 0zm4 0zm2 0zm2 0zm1 0zm3 0zm2 0zm2 0zm1 0zm1 0zm3 0zm1 0zm7 0zm21 0zm16 0zm2 0zm1 0zm3 0zm4 0zm8 0zm2 0zm2 0zm1 0zm4 0zm8 0zm-262 1zm2 0zm17 0zm9 0zm4 0zm1 0zm8 0zm119 0zm6 0zm4 0zm2 0zm2 0zm1 0zm1 0zm2 0zm1 0zm2 0zm1 0zm2 0zm1 0zm6 0zm12 0zm2 0zm19 0zm2 0zm2 0zm2 0zm2 0zm1 0zm2 0zm6 0zm2 0zm1 0zm5 0zm10 0zm1 0zm30 0zm9 0zm3 0zm-309 1zm41 0zm3 0zm4 0zm13 0zm104 0zm4 0zm1 0zm1 0zm6 0zm2 0zm1 0zm2 0zm1 0zm3 0zm1 0zm3 0zm5 0zm1 0zm4 0zm2 0zm21 0zm1 0zm3 0zm2 0zm4 0zm2 0zm1 0zm1 0zm3 0zm1 0zm1 0zm3 0zm1 0zm1 0zm1 0zm1 0zm5 0zm2 0zm8 0zm32 0zm3 0zm18 0zm-285 1zm10 0zm4 0zm11 0zm103 0zm1 0zm4 0zm1 0zm1 0zm2 0zm1 0zm1 0zm3 0zm1 0zm7 0zm1 0zm1 0zm5 0zm1 0zm1 0zm1 0zm3 0zm2 0zm1 0zm1 0zm3 0zm1 0zm2 0zm2 0zm3 0zm6 0zm1 0zm5 0zm2 0zm2 0zm2 0zm3 0zm1 0zm3 0zm1 0zm4 0zm1 0zm7 0zm4 0zm3 0zm7 0zm3 0zm20 0zm31 0zm-289 1zm1 0zm5 0zm9 0zm121 0zm13 0zm1 0zm3 0zm1 0zm1 0zm1 0zm4 0zm1 0zm2 0zm1 0zm1 0zm1 0zm1 0zm1 0zm1 0zm8 0zm3 0zm2 0zm2 0zm2 0zm5 0zm1 0zm1 0zm1 0zm1 0zm2 0zm1 0zm2 0zm1 0zm1 0zm4 0zm7 0zm4 0zm1 0zm1 0zm3 0zm1 0zm1 0zm4 0zm1 0zm11 0zm1 0zm50 0zm1 0zm-327 1zm24 0zm17 0zm16 0zm21 0zm82 0zm10 0zm3 0zm1 0zm3 0zm2 0zm4 0zm1 0zm1 0zm3 0zm1 0zm1 0zm2 0zm2 0zm1 0zm1 0zm1 0zm2 0zm7 0zm3 0zm13 0zm2 0zm2 0zm6 0zm2 0zm1 0zm3 0zm5 0zm6 0zm2 0zm6 0zm1 0zm6 0zm55 0zm6 0zm-305 1zm17 0zm32 0zm9 0zm91 0zm2 0zm4 0zm2 0zm1 0zm1 0zm1 0zm3 0zm5 0zm1 0zm1 0zm1 0zm3 0zm1 0zm1 0zm1 0zm1 0zm2 0zm2 0zm2 0zm2 0zm6 0zm3 0zm7 0zm3 0zm2 0zm5 0zm2 0zm1 0zm1 0zm3 0zm1 0zm5 0zm1 0zm1 0zm7 0zm4 0zm9 0zm10 0zm-231 1zm33 0zm87 0zm2 0zm4 0zm3 0zm2 0zm1 0zm1 0zm1 0zm4 0zm1 0zm3 0zm4 0zm1 0zm1 0zm1 0zm1 0zm1 0zm1 0zm2 0zm1 0zm1 0zm6 0zm2 0zm2 0zm4 0zm4 0zm2 0zm4 0zm1 0zm3 0zm3 0zm5 0zm5 0zm2 0zm10 0zm1 0zm28 0zm-254 1zm10 0zm15 0zm7 0zm15 0zm90 0zm7 0zm1 0zm4 0zm1 0zm7 0zm6 0zm1 0zm3 0zm1 0zm2 0zm2 0zm1 0zm5 0zm1 0zm2 0zm1 0zm5 0zm4 0zm2 0zm1 0zm2 0zm2 0zm1 0zm15 0zm4 0zm2 0zm3 0zm9 0zm-178 1zm8 0zm80 0zm4 0zm3 0zm1 0zm2 0zm2 0zm3 0zm1 0zm2 0zm2 0zm1 0zm1 0zm4 0zm1 0zm2 0zm1 0zm2 0zm2 0zm2 0zm1 0zm1 0zm1 0zm1 0zm7 0zm1 0zm1 0zm3 0zm1 0zm8 0zm1 0zm3 0zm1 0zm2 0zm6 0zm5 0zm76 0zm-291 1zm33 0zm1 0zm8 0zm92 0zm1 0zm4 0zm3 0zm2 0zm1 0zm1 0zm1 0zm3 0zm1 0zm1 0zm1 0zm1 0zm1 0zm1 0zm2 0zm2 0zm2 0zm1 0zm5 0zm3 0zm2 0zm2 0zm2 0zm10 0zm6 0zm1 0zm1 0zm3 0zm3 0zm1 0zm3 0zm1 0zm4 0zm16 0zm-235 1zm21 0zm119 0zm4 0zm2 0zm1 0zm2 0zm2 0zm2 0zm1 0zm1 0zm1 0zm4 0zm1 0zm1 0zm1 0zm2 0zm1 0zm1 0zm1 0zm3 0zm1 0zm3 0zm2 0zm3 0zm1 0zm1 0zm2 0zm2 0zm1 0zm2 0zm3 0zm2 0zm2 0zm4 0zm2 0zm2 0zm1 0zm1 0zm2 0zm6 0zm4 0zm27 0zm-276 1zm51 0zm1 0zm16 0zm108 0zm4 0zm1 0zm1 0zm1 0zm1 0zm1 0zm2 0zm2 0zm3 0zm1 0zm2 0zm1 0zm3 0zm1 0zm1 0zm1 0zm5 0zm1 0zm2 0zm2 0zm1 0zm1 0zm1 0zm1 0zm2 0zm1 0zm1 0zm1 0zm5 0zm3 0zm2 0zm1 0zm9 0zm3 0zm2 0zm-213 1zm7 0zm4 0zm25 0zm102 0zm5 0zm3 0zm1 0zm1 0zm2 0zm2 0zm1 0zm1 0zm1 0zm1 0zm1 0zm2 0zm3 0zm1 0zm1 0zm1 0zm3 0zm1 0zm2 0zm1 0zm1 0zm1 0zm2 0zm1 0zm1 0zm1 0zm1 0zm3 0zm1 0zm2 0zm7 0zm3 0zm4 0zm4 0zm10 0zm6 0zm31 0zm-267 1zm62 0zm86 0zm8 0zm5 0zm6 0zm1 0zm1 0zm1 0zm1 0zm1 0zm2 0zm1 0zm1 0zm1 0zm1 0zm1 0zm1 0zm2 0zm1 0zm2 0zm1 0zm1 0zm3 0zm3 0zm1 0zm1 0zm17 0zm5 0zm5 0zm13 0zm4 0zm20 0zm-256 1zm10 0zm19 0zm2 0zm20 0zm100 0zm1 0zm1 0zm5 0zm2 0zm1 0zm6 0zm1 0zm1 0zm1 0zm2 0zm1 0zm1 0zm1 0zm1 0zm2 0zm1 0zm1 0zm1 0zm2 0zm6 0zm2 0zm1 0zm1 0zm3 0zm3 0zm1 0zm1 0zm2 0zm1 0zm4 0zm12 0zm1 0zm33 0zm-249 1zm1 0zm10 0zm7 0zm1 0zm9 0zm5 0zm1 0zm114 0zm1 0zm2 0zm1 0zm5 0zm3 0zm1 0zm1 0zm1 0zm3 0zm2 0zm1 0zm1 0zm1 0zm1 0zm1 0zm2 0zm6 0zm1 0zm1 0zm1 0zm1 0zm1 0zm2 0zm15 0zm2 0zm6 0zm-203 1zm8 0zm22 0zm107 0zm1 0zm3 0zm3 0zm2 0zm2 0zm2 0zm1 0zm3 0zm2 0zm1 0zm2 0zm1 0zm1 0zm1 0zm1 0zm1 0zm1 0zm1 0zm1 0zm1 0zm1 0zm3 0zm5 0zm1 0zm1 0zm1 0zm4 0zm28 0zm87 0zm-308 1zm149 0zm2 0zm5 0zm1 0zm2 0zm1 0zm4 0zm1 0zm3 0zm2 0zm1 0zm2 0zm2 0zm3 0zm1 0zm2 0zm9 0zm9 0zm14 0zm4 0zm-195 1zm2 0zm23 0zm19 0zm76 0zm4 0zm1 0zm8 0zm3 0zm2 0zm4 0zm2 0zm1 0zm2 0zm1 0zm1 0zm1 0zm1 0zm2 0zm1 0zm1 0zm3 0zm2 0zm1 0zm3 0zm3 0zm5 0zm2 0zm14 0zm-209 1zm8 0zm19 0zm12 0zm1 0zm44 0zm62 0zm1 0zm2 0zm1 0zm1 0zm2 0zm3 0zm1 0zm1 0zm1 0zm2 0zm1 0zm1 0zm2 0zm2 0zm1 0zm1 0zm1 0zm4 0zm1 0zm1 0zm1 0zm1 0zm1 0zm2 0zm3 0zm7 0zm21 0zm-208 1zm1 0zm3 0zm10 0zm2 0zm6 0zm1 0zm14 0zm100 0zm5 0zm5 0zm4 0zm3 0zm2 0zm2 0zm2 0zm1 0zm1 0zm1 0zm1 0zm1 0zm2 0zm2 0zm1 0zm1 0zm1 0zm1 0zm1 0zm1 0zm4 0zm7 0zm20 0zm-204 1zm4 0zm1 0zm5 0zm6 0zm10 0zm20 0zm52 0zm27 0zm8 0zm2 0zm1 0zm2 0zm1 0zm8 0zm3 0zm2 0zm3 0zm4 0zm1 0zm1 0zm2 0zm1 0zm5 0zm3 0zm2 0zm2 0zm1 0zm2 0zm2 0zm9 0zm16 0zm-210 1zm1 0zm29 0zm11 0zm2 0zm61 0zm35 0zm2 0zm2 0zm1 0zm1 0zm1 0zm1 0zm2 0zm3 0zm1 0zm1 0zm1 0zm1 0zm2 0zm1 0zm2 0zm1 0zm1 0zm1 0zm4 0zm1 0zm1 0zm1 0zm2 0zm1 0zm1 0zm4 0zm1 0zm2 0zm-182 1zm5 0zm7 0zm5 0zm18 0zm22 0zm59 0zm19 0zm6 0zm1 0zm3 0zm7 0zm6 0zm2 0zm1 0zm1 0zm1 0zm2 0zm1 0zm1 0zm2 0zm3 0zm5 0zm1 0zm6 0zm4 0zm14 0zm-199 1zm20 0zm2 0zm26 0zm61 0zm18 0zm5 0zm2 0zm4 0zm3 0zm1 0zm9 0zm1 0zm4 0zm5 0zm1 0zm1 0zm1 0zm2 0zm1 0zm1 0zm4 0zm2 0zm15 0zm-189 1zm5 0zm6 0zm2 0zm13 0zm5 0zm97 0zm4 0zm1 0zm5 0zm1 0zm2 0zm6 0zm2 0zm11 0zm2 0zm4 0zm1 0zm3 0zm1 0zm4 0zm2 0zm-167 1zm5 0zm2 0zm2 0zm1 0zm4 0zm1 0zm17 0zm39 0zm32 0zm4 0zm9 0zm5 0zm4 0zm1 0zm1 0zm2 0zm4 0zm1 0zm5 0zm2 0zm1 0zm5 0zm6 0zm4 0zm1 0zm3 0zm1 0zm4 0zm3 0zm1 0zm-185 1zm8 0zm1 0zm8 0zm14 0zm2 0zm8 0zm6 0zm39 0zm36 0zm1 0zm2 0zm6 0zm2 0zm1 0zm8 0zm4 0zm1 0zm1 0zm1 0zm10 0zm6 0zm4 0zm4 0zm4 0zm1 0zm2 0zm8 0zm3 0zm52 0zm-232 1zm4 0zm4 0zm5 0zm1 0zm26 0zm52 0zm17 0zm4 0zm9 0zm2 0zm2 0zm1 0zm1 0zm2 0zm3 0zm1 0zm3 0zm8 0zm3 0zm2 0zm3 0zm2 0zm1 0zm2 0zm2 0zm1 0zm2 0zm3 0zm15 0zm34 0zm-230 1zm9 0zm2 0zm2 0zm3 0zm5 0zm4 0zm1 0zm1 0zm11 0zm1 0zm8 0zm2 0zm11 0zm54 0zm7 0zm2 0zm6 0zm10 0zm3 0zm5 0zm3 0zm10 0zm3 0zm9 0zm1 0zm1 0zm1 0zm4 0zm5 0zm9 0zm-194 1zm10 0zm2 0zm4 0zm6 0zm5 0zm2 0zm3 0zm12 0zm9 0zm72 0zm5 0zm2 0zm1 0zm5 0zm3 0zm1 0zm1 0zm3 0zm1 0zm2 0zm3 0zm1 0zm3 0zm7 0zm1 0zm1 0zm2 0zm3 0zm1 0zm2 0zm3 0zm4 0zm1 0zm1 0zm4 0zm-190 1zm16 0zm2 0zm3 0zm1 0zm1 0zm3 0zm4 0zm1 0zm1 0zm5 0zm4 0zm3 0zm3 0zm23 0zm20 0zm23 0zm7 0zm2 0zm4 0zm1 0zm1 0zm2 0zm3 0zm4 0zm8 0zm2 0zm1 0zm1 0zm12 0zm7 0zm6 0zm7 0zm7 0zm4 0zm2 0zm1 0zm2 0zm29 0zm-204 1zm6 0zm1 0zm3 0zm3 0zm1 0zm4 0zm1 0zm4 0zm10 0zm21 0zm40 0zm2 0zm13 0zm1 0zm1 0zm1 0zm6 0zm3 0zm2 0zm2 0zm1 0zm1 0zm8 0zm3 0zm18 0zm5 0zm1 0zm2 0zm2 0zm3 0zm3 0zm-191 1zm6 0zm1 0zm5 0zm8 0zm2 0zm1 0zm3 0zm1 0zm1 0zm5 0zm1 0zm1 0zm3 0zm3 0zm7 0zm60 0zm9 0zm4 0zm3 0zm2 0zm3 0zm2 0zm2 0zm2 0zm1 0zm2 0zm2 0zm7 0zm1 0zm1 0zm23 0zm1 0zm6 0zm2 0zm13 0zm-184 1zm6 0zm2 0zm5 0zm6 0zm2 0zm1 0zm3 0zm3 0zm1 0zm1 0zm1 0zm1 0zm2 0zm3 0zm1 0zm21 0zm29 0zm7 0zm1 0zm4 0zm7 0zm2 0zm3 0zm8 0zm1 0zm2 0zm2 0zm1 0zm1 0zm3 0zm3 0zm2 0zm4 0zm23 0zm2 0zm5 0zm1 0zm1 0zm6 0zm34 0zm-213 1zm6 0zm1 0zm6 0zm1 0zm2 0zm2 0zm2 0zm1 0zm1 0zm1 0zm2 0zm2 0zm3 0zm1 0zm5 0zm3 0zm26 0zm22 0zm4 0zm4 0zm2 0zm4 0zm4 0zm4 0zm8 0zm2 0zm6 0zm1 0zm2 0zm1 0zm1 0zm10 0zm1 0zm2 0zm31 0zm2 0zm-179 1zm5 0zm1 0zm1 0zm5 0zm5 0zm1 0zm4 0zm1 0zm3 0zm8 0zm4 0zm2 0zm13 0zm33 0zm10 0zm7 0zm8 0zm4 0zm1 0zm3 0zm2 0zm4 0zm6 0zm11 0zm2 0zm27 0zm3 0zm-168 1zm2 0zm3 0zm5 0zm2 0zm2 0zm1 0zm2 0zm1 0zm2 0zm1 0zm2 0zm1 0zm1 0zm3 0zm2 0zm1 0zm4 0zm1 0zm45 0zm4 0zm3 0zm4 0zm1 0zm13 0zm2 0zm4 0zm1 0zm3 0zm1 0zm2 0zm4 0zm1 0zm4 0zm9 0zm15 0zm3 0zm4 0zm2 0zm15 0zm-180 1zm15 0zm3 0zm2 0zm1 0zm2 0zm2 0zm2 0zm2 0zm3 0zm6 0zm5 0zm1 0zm1 0zm2 0zm23 0zm4 0zm12 0zm6 0zm3 0zm3 0zm2 0zm10 0zm4 0zm4 0zm3 0zm1 0zm18 0zm46 0zm-185 1zm7 0zm1 0zm2 0zm1 0zm6 0zm1 0zm3 0zm2 0zm1 0zm1 0zm1 0zm1 0zm1 0zm1 0zm1 0zm2 0zm1 0zm3 0zm1 0zm1 0zm37 0zm8 0zm3 0zm3 0zm2 0zm5 0zm3 0zm1 0zm4 0zm4 0zm1 0zm1 0zm2 0zm1 0zm1 0zm4 0zm1 0zm3 0zm1 0zm3 0zm2 0zm4 0zm9 0zm21 0zm2 0zm10 0zm11 0zm36 0zm-222 1zm5 0zm1 0zm2 0zm1 0zm2 0zm2 0zm1 0zm2 0zm1 0zm1 0zm2 0zm1 0zm2 0zm1 0zm2 0zm2 0zm2 0zm3 0zm2 0zm3 0zm4 0zm5 0zm39 0zm3 0zm3 0zm3 0zm2 0zm4 0zm2 0zm1 0zm5 0zm2 0zm1 0zm3 0zm7 0zm8 0zm31 0zm9 0zm-168 1zm3 0zm3 0zm1 0zm1 0zm1 0zm1 0zm1 0zm2 0zm3 0zm1 0zm1 0zm1 0zm2 0zm1 0zm1 0zm1 0zm1 0zm2 0zm3 0zm1 0zm1 0zm2 0zm4 0zm5 0zm23 0zm14 0zm3 0zm4 0zm1 0zm1 0zm2 0zm2 0zm1 0zm1 0zm3 0zm2 0zm7 0zm1 0zm15 0zm33 0zm12 0zm4 0zm-182 1zm12 0zm1 0zm2 0zm3 0zm4 0zm1 0zm1 0zm1 0zm2 0zm1 0zm2 0zm1 0zm1 0zm1 0zm1 0zm2 0zm1 0zm2 0zm2 0zm1 0zm1 0zm1 0zm2 0zm3 0zm4 0zm1 0zm31 0zm3 0zm6 0zm4 0zm1 0zm1 0zm10 0zm3 0zm1 0zm4 0zm1 0zm-139 1zm29 0zm1 0zm5 0zm1 0zm1 0zm2 0zm1 0zm1 0zm2 0zm1 0zm1 0zm1 0zm1 0zm1 0zm1 0zm2 0zm2 0zm1 0zm1 0zm1 0zm2 0zm1 0zm2 0zm1 0zm5 0zm24 0zm3 0zm7 0zm1 0zm3 0zm2 0zm4 0zm7 0zm4 0zm1 0zm2 0zm3 0zm5 0zm2 0zm5 0zm6 0zm31 0zm17 0zm1 0zm8 0zm-191 1zm12 0zm5 0zm4 0zm1 0zm3 0zm1 0zm2 0zm1 0zm2 0zm1 0zm2 0zm3 0zm1 0zm1 0zm1 0zm1 0zm1 0zm1 0zm1 0zm1 0zm1 0zm1 0zm1 0zm1 0zm1 0zm4 0zm8 0zm1 0zm2 0zm4 0zm11 0zm4 0zm2 0zm6 0zm3 0zm2 0zm2 0zm1 0zm4 0zm2 0zm8 0zm1 0zm3 0zm1 0zm4 0zm1 0zm74 0zm-185 1zm10 0zm2 0zm1 0zm1 0zm1 0zm3 0zm3 0zm1 0zm1 0zm1 0zm1 0zm1 0zm1 0zm1 0zm1 0zm1 0zm1 0zm1 0zm1 0zm1 0zm2 0zm1 0zm4 0zm1 0zm1 0zm1 0zm4 0zm2 0zm3 0zm1 0zm4 0zm11 0zm2 0zm3 0zm5 0zm2 0zm2 0zm1 0zm4 0zm3 0zm4 0zm3 0zm1 0zm8 0zm7 0zm54 0zm7 0zm-176 1zm2 0zm2 0zm2 0zm3 0zm1 0zm1 0zm1 0zm3 0zm2 0zm1 0zm1 0zm1 0zm1 0zm1 0zm1 0zm1 0zm1 0zm1 0zm1 0zm1 0zm1 0zm2 0zm1 0zm1 0zm2 0zm1 0zm3 0zm3 0zm2 0zm2 0zm11 0zm4 0zm4 0zm3 0zm10 0zm3 0zm3 0zm2 0zm8 0zm3 0zm2 0zm2 0zm3 0zm12 0zm10 0zm-125 1zm8 0zm1 0zm1 0zm1 0zm1 0zm1 0zm3 0zm2 0zm1 0zm1 0zm1 0zm1 0zm1 0zm1 0zm1 0zm1 0zm1 0zm1 0zm1 0zm1 0zm1 0zm1 0zm2 0zm1 0zm1 0zm2 0zm1 0zm4 0zm2 0zm1 0zm2 0zm1 0zm4 0zm1 0zm5 0zm10 0zm2 0zm15 0zm4 0zm1 0zm2 0zm2 0zm2 0zm7 0zm-109 1zm3 0zm4 0zm1 0zm4 0zm2 0zm1 0zm1 0zm3 0zm1 0zm1 0zm2 0zm2 0zm1 0zm1 0zm1 0zm1 0zm1 0zm1 0zm1 0zm1 0zm2 0zm1 0zm1 0zm1 0zm1 0zm1 0zm4 0zm1 0zm1 0zm1 0zm6 0zm7 0zm4 0zm5 0zm2 0zm1 0zm3 0zm4 0zm1 0zm3 0zm1 0zm3 0zm1 0zm1 0zm4 0zm1 0zm1 0zm6 0zm4 0zm8 0zm8 0zm-128 1zm7 0zm5 0zm4 0zm2 0zm1 0zm1 0zm1 0zm2 0zm1 0zm1 0zm1 0zm1 0zm1 0zm1 0zm2 0zm1 0zm1 0zm1 0zm1 0zm2 0zm1 0zm1 0zm2 0zm1 0zm1 0zm2 0zm1 0zm3 0zm1 0zm1 0zm4 0zm14 0zm8 0zm4 0zm2 0zm1 0zm2 0zm4 0zm1 0zm7 0zm8 0zm11 0zm20 0zm65 0zm-190 1zm5 0zm3 0zm1 0zm1 0zm1 0zm1 0zm1 0zm2 0zm3 0zm1 0zm2 0zm1 0zm2 0zm1 0zm1 0zm1 0zm1 0zm1 0zm1 0zm1 0zm2 0zm1 0zm1 0zm3 0zm4 0zm1 0zm3 0zm5 0zm3 0zm2 0zm15 0zm6 0zm2 0zm9 0zm6 0zm4 0zm1 0zm-95 1zm4 0zm1 0zm1 0zm1 0zm1 0zm1 0zm1 0zm2 0zm1 0zm1 0zm1 0zm1 0zm1 0zm1 0zm2 0zm1 0zm2 0zm1 0zm3 0zm1 0zm1 0zm5 0zm1 0zm3 0zm2 0zm1 0zm4 0zm3 0zm5 0zm4 0zm2 0zm1 0zm3 0zm1 0zm6 0zm2 0zm6 0zm17 0zm-107 1zm9 0zm2 0zm4 0zm2 0zm1 0zm2 0zm1 0zm1 0zm2 0zm3 0zm1 0zm1 0zm1 0zm1 0zm1 0zm1 0zm3 0zm1 0zm2 0zm1 0zm5 0zm1 0zm1 0zm1 0zm2 0zm3 0zm1 0zm2 0zm2 0zm2 0zm1 0zm2 0zm1 0zm2 0zm5 0zm1 0zm4 0zm1 0zm1 0zm6 0zm1 0zm8 0zm7 0zm13 0zm60 0zm-182 1zm15 0zm6 0zm1 0zm1 0zm3 0zm1 0zm2 0zm1 0zm1 0zm1 0zm1 0zm1 0zm2 0zm1 0zm1 0zm2 0zm1 0zm1 0zm1 0zm1 0zm1 0zm1 0zm3 0zm2 0zm1 0zm4 0zm1 0zm2 0zm1 0zm1 0zm1 0zm1 0zm1 0zm6 0zm3 0zm1 0zm1 0zm1 0zm7 0zm2 0zm4 0zm2 0zm2 0zm8 0zm7 0zm46 0zm-134 1zm1 0zm1 0zm3 0zm2 0zm3 0zm2 0zm1 0zm1 0zm3 0zm1 0zm1 0zm2 0zm2 0zm1 0zm2 0zm1 0zm1 0zm2 0zm1 0zm3 0zm2 0zm1 0zm3 0zm1 0zm2 0zm4 0zm4 0zm1 0zm3 0zm1 0zm3 0zm2 0zm4 0zm12 0zm-78 1zm3 0zm2 0zm2 0zm2 0zm1 0zm1 0zm1 0zm1 0zm1 0zm2 0zm1 0zm1 0zm1 0zm1 0zm2 0zm1 0zm3 0zm1 0zm3 0zm1 0zm2 0zm1 0zm1 0zm1 0zm1 0zm1 0zm1 0zm2 0zm3 0zm1 0zm3 0zm2 0zm2 0zm10 0zm3 0zm6 0zm73 0zm19 0zm-166 1zm3 0zm6 0zm1 0zm1 0zm5 0zm2 0zm1 0zm1 0zm1 0zm3 0zm1 0zm1 0zm1 0zm3 0zm1 0zm1 0zm1 0zm1 0zm1 0zm1 0zm2 0zm3 0zm1 0zm1 0zm2 0zm1 0zm1 0zm1 0zm1 0zm1 0zm1 0zm2 0zm3 0zm2 0zm11 0zm3 0zm1 0zm1 0zm8 0zm1 0zm2 0zm-82 1zm3 0zm1 0zm1 0zm1 0zm1 0zm2 0zm1 0zm3 0zm1 0zm2 0zm1 0zm1 0zm1 0zm3 0zm1 0zm1 0zm1 0zm1 0zm1 0zm1 0zm1 0zm2 0zm1 0zm1 0zm1 0zm1 0zm2 0zm2 0zm1 0zm1 0zm1 0zm5 0zm2 0zm1 0zm1 0zm2 0zm4 0zm16 0zm3 0zm34 0zm23 0zm11 0zm-146 1zm2 0zm9 0zm1 0zm1 0zm1 0zm2 0zm2 0zm1 0zm1 0zm1 0zm1 0zm1 0zm2 0zm1 0zm1 0zm1 0zm3 0zm1 0zm1 0zm1 0zm1 0zm1 0zm1 0zm1 0zm1 0zm1 0zm1 0zm7 0zm1 0zm2 0zm6 0zm2 0zm1 0zm3 0zm3 0zm4 0zm1 0zm1 0zm61 0zm-125 1zm1 0zm5 0zm2 0zm1 0zm1 0zm2 0zm1 0zm1 0zm1 0zm1 0zm1 0zm1 0zm1 0zm2 0zm1 0zm2 0zm1 0zm1 0zm1 0zm1 0zm2 0zm2 0zm1 0zm2 0zm1 0zm1 0zm1 0zm2 0zm4 0zm1 0zm3 0zm1 0zm3 0zm6 0zm35 0zm25 0zm-127 1zm11 0zm1 0zm1 0zm2 0zm1 0zm1 0zm1 0zm1 0zm1 0zm1 0zm1 0zm1 0zm1 0zm1 0zm1 0zm1 0zm1 0zm1 0zm1 0zm1 0zm1 0zm1 0zm1 0zm1 0zm1 0zm1 0zm1 0zm1 0zm2 0zm3 0zm3 0zm3 0zm1 0zm3 0zm2 0zm1 0zm2 0zm9 0zm5 0zm2 0zm21 0zm-97 1zm2 0zm2 0zm1 0zm3 0zm3 0zm1 0zm1 0zm1 0zm1 0zm3 0zm2 0zm1 0zm1 0zm1 0zm1 0zm1 0zm1 0zm1 0zm1 0zm1 0zm1 0zm3 0zm1 0zm1 0zm1 0zm1 0zm1 0zm1 0zm1 0zm1 0zm1 0zm1 0zm2 0zm2 0zm3 0zm4 0zm10 0zm4 0zm41 0zm-115 1zm13 0zm6 0zm2 0zm1 0zm1 0zm3 0zm3 0zm3 0zm2 0zm2 0zm2 0zm1 0zm1 0zm6 0zm4 0zm3 0zm1 0zm8 0zm24 0zm-91 1zm17 0zm2 0zm2 0zm1 0zm2 0zm3 0zm2 0zm1 0zm2 0zm1 0zm2 0zm1 0zm1 0zm1 0zm1 0zm1 0zm1 0zm1 0zm2 0zm2 0zm1 0zm1 0zm3 0zm1 0zm4 0zm10 0zm-61 1zm2 0zm11 0zm4 0zm1 0zm4 0zm3 0zm1 0zm1 0zm1 0zm1 0zm1 0zm1 0zm1 0zm1 0zm1 0zm3 0zm1 0zm2 0zm2 0zm1 0zm1 0zm3 0zm1 0zm2 0zm1 0zm1 0zm1 0zm2 0zm13 0zm17 0zm-76 1zm1 0zm11 0zm2 0zm2 0zm4 0zm1 0zm1 0zm1 0zm2 0zm1 0zm1 0zm1 0zm1 0zm1 0zm1 0zm1 0zm1 0zm1 0zm2 0zm1 0zm1 0zm2 0zm3 0zm2 0zm2 0zm3 0zm9 0zm2 0zm74 0zm-145 1zm6 0zm5 0zm3 0zm2 0zm1 0zm1 0zm3 0zm1 0zm1 0zm1 0zm1 0zm1 0zm1 0zm1 0zm1 0zm4 0zm1 0zm2 0zm1 0zm3 0zm1 0zm1 0zm1 0zm1 0zm1 0zm3 0zm2 0zm1 0zm5 0zm2 0zm34 0zm-92 1zm9 0zm1 0zm4 0zm1 0zm2 0zm3 0zm2 0zm1 0zm1 0zm1 0zm1 0zm1 0zm1 0zm1 0zm1 0zm1 0zm1 0zm1 0zm1 0zm2 0zm2 0zm5 0zm1 0zm1 0zm2 0zm1 0zm2 0zm2 0zm30 0zm44 0zm-125 1zm2 0zm4 0zm1 0zm1 0zm2 0zm3 0zm1 0zm1 0zm6 0zm1 0zm2 0zm1 0zm2 0zm3 0zm1 0zm2 0zm1 0zm1 0zm1 0zm3 0zm1 0zm1 0zm1 0zm2 0zm5 0zm2 0zm4 0zm3 0zm-63 1zm6 0zm2 0zm1 0zm1 0zm4 0zm1 0zm4 0zm1 0zm1 0zm3 0zm1 0zm1 0zm1 0zm5 0zm1 0zm1 0zm1 0zm4 0zm1 0zm2 0zm1 0zm1 0zm3 0zm1 0zm2 0zm1 0zm4 0zm1 0zm37 0zm-92 1zm4 0zm3 0zm1 0zm1 0zm1 0zm1 0zm3 0zm4 0zm1 0zm1 0zm1 0zm1 0zm2 0zm2 0zm1 0zm1 0zm1 0zm2 0zm1 0zm3 0zm1 0zm9 0zm1 0zm2 0zm2 0zm1 0zm2 0zm3 0zm2 0zm21 0zm-89 1zm8 0zm2 0zm2 0zm1 0zm4 0zm2 0zm1 0zm1 0zm1 0zm1 0zm1 0zm1 0zm3 0zm4 0zm1 0zm3 0zm1 0zm1 0zm1 0zm1 0zm1 0zm2 0zm1 0zm1 0zm5 0zm1 0zm4 0zm1 0zm16 0zm-71 1zm2 0zm7 0zm1 0zm1 0zm1 0zm1 0zm1 0zm3 0zm1 0zm2 0zm1 0zm1 0zm2 0zm1 0zm1 0zm1 0zm2 0zm1 0zm1 0zm1 0zm1 0zm1 0zm2 0zm1 0zm2 0zm2 0zm3 0zm1 0zm4 0zm4 0zm2 0zm22 0zm70 0zm-144 1zm1 0zm2 0zm1 0zm1 0zm3 0zm3 0zm3 0zm2 0zm1 0zm1 0zm2 0zm1 0zm2 0zm1 0zm1 0zm2 0zm1 0zm2 0zm4 0zm7 0zm1 0zm4 0zm7 0zm1 0zm7 0zm-65 1zm2 0zm5 0zm1 0zm3 0zm1 0zm2 0zm3 0zm1 0zm1 0zm2 0zm1 0zm1 0zm1 0zm1 0zm2 0zm1 0zm1 0zm1 0zm2 0zm2 0zm1 0zm2 0zm1 0zm1 0zm1 0zm1 0zm3 0zm2 0zm2 0zm4 0zm2 0zm2 0zm2 0zm3 0zm-66 1zm6 0zm3 0zm2 0zm1 0zm4 0zm1 0zm1 0zm1 0zm1 0zm1 0zm1 0zm1 0zm2 0zm2 0zm1 0zm1 0zm1 0zm1 0zm1 0zm1 0zm2 0zm1 0zm4 0zm1 0zm1 0zm1 0zm1 0zm3 0zm1 0zm2 0zm9 0zm1 0zm10 0zm2 0zm-61 1zm4 0zm1 0zm1 0zm1 0zm1 0zm1 0zm1 0zm1 0zm1 0zm1 0zm1 0zm1 0zm1 0zm1 0zm1 0zm1 0zm1 0zm1 0zm1 0zm1 0zm2 0zm2 0zm5 0zm11 0zm2 0zm3 0zm4 0zm1 0zm-55 1zm5 0zm1 0zm1 0zm1 0zm1 0zm1 0zm1 0zm1 0zm1 0zm1 0zm1 0zm1 0zm1 0zm1 0zm1 0zm1 0zm1 0zm1 0zm1 0zm1 0zm1 0zm1 0zm1 0zm2 0zm4 0zm3 0zm2 0zm8 0zm3 0zm13 0zm-61 1zm2 0zm2 0zm1 0zm1 0zm1 0zm1 0zm1 0zm1 0zm1 0zm1 0zm1 0zm1 0zm2 0zm1 0zm1 0zm1 0zm1 0zm1 0zm1 0zm1 0zm1 0zm1 0zm1 0zm8 0zm1 0zm3 0zm2 0zm3 0zm1 0zm7 0zm17 0zm-72 1zm4 0zm1 0zm1 0zm2 0zm1 0zm1 0zm1 0zm1 0zm1 0zm1 0zm1 0zm1 0zm1 0zm1 0zm1 0zm1 0zm1 0zm1 0zm3 0zm1 0zm1 0zm1 0zm2 0zm1 0zm1 0zm1 0zm1 0zm2 0zm3 0zm8 0zm3 0zm1 0zm4 0zm10 0zm-70 1zm7 0zm2 0zm1 0zm1 0zm1 0zm1 0zm1 0zm1 0zm1 0zm1 0zm1 0zm1 0zm1 0zm1 0zm1 0zm1 0zm1 0zm1 0zm2 0zm1 0zm1 0zm1 0zm4 0zm1 0zm2 0zm3 0zm1 0zm3 0zm7 0zm1 0zm2 0zm4 0zm1 0zm3 0zm21 0zm-87 1zm10 0zm2 0zm1 0zm2 0zm2 0zm2 0zm1 0zm2 0zm1 0zm2 0zm1 0zm1 0zm1 0zm1 0zm3 0zm1 0zm2 0zm2 0zm1 0zm2 0zm2 0zm2 0zm15 0zm2 0zm8 0zm5 0zm11 0zm-73 1zm2 0zm1 0zm1 0zm1 0zm3 0zm1 0zm1 0zm1 0zm1 0zm2 0zm1 0zm2 0zm4 0zm1 0zm2 0zm1 0zm1 0zm1 0zm2 0zm1 0zm5 0zm3 0zm2 0zm1 0zm4 0zm4 0zm-52 1zm1 0zm6 0zm1 0zm1 0zm3 0zm2 0zm4 0zm1 0zm2 0zm1 0zm2 0zm1 0zm2 0zm7 0zm4 0zm14 0zm9 0zm20 0zm11 0zm-94 1zm4 0zm3 0zm2 0zm1 0zm3 0zm2 0zm1 0zm2 0zm6 0zm5 0zm22 0zm36 0zm-90 1zm9 0zm3 0zm2 0zm1 0zm1 0zm1 0zm2 0zm1 0zm1 0zm1 0zm1 0zm2 0zm1 0zm3 0zm3 0zm5 0zm14 0zm-47 1zm5 0zm1 0zm1 0zm1 0zm4 0zm2 0zm8 0zm3 0zm1 0zm1 0zm27 0zm-52 1zm3 0zm1 0zm1 0zm1 0zm1 0zm2 0zm2 0zm2 0zm8 0zm6 0zm1 0zm2 0zm3 0zm-29 1zm10 0zm14 0zm25 0zm20 0zm-76 1zm1 0zm7 0zm4 0zm5 0zm-10 1zm5 0zm1 0zm3 0zm11 0zm28 0zm8 0zm-57 1zm4 0zm1 0zm1 0zm1 0zm9 2zm3 0zm56 0zm-62 2zm6 0zm23 2zm-31 6zm0 3zm16 0zm-21 4z" stroke="#3c3c3c" stroke-width="2.4" stroke-linecap="square" fill="none"/>
<path transform="scale(.5)" d="m400 931zm-12 2zm7 2zm11 1zm-18 1zm4 0zm8 0zm-14 1zm2 0zm7 0zm3 0zm0 1zm1 0zm3 0zm1 0zm4 0zm-17 1zm7 0zm6 0zm-16 1zm3 0zm3 0zm3 0zm5 0zm2 0zm-15 1zm8 0zm3 0zm1 0zm2 0zm4 0zm-12 1zm8 0zm2 0zm6 0zm-10 1zm3 0zm6 0zm6 0zm-27 1zm7 0zm1 0zm2 0zm2 0zm1 0zm1 0zm5 0zm-15 1zm3 0zm1 0zm3 0zm1 0zm1 0zm5 0zm-20 1zm7 0zm5 0zm2 0zm2 0zm5 0zm-16 1zm3 0zm2 0zm2 0zm1 0zm2 0zm1 0zm1 0zm2 0zm9 0zm-29 1zm2 0zm3 0zm1 0zm5 0zm1 0zm2 0zm1 0zm1 0zm7 0zm6 0zm-28 1zm3 0zm1 0zm1 0zm1 0zm6 0zm1 0zm1 0zm3 0zm1 0zm-18 1zm7 0zm2 0zm1 0zm1 0zm6 0zm5 0zm1 0zm1 0zm2 0zm1 0zm6 0zm-35 1zm2 0zm1 0zm3 0zm2 0zm3 0zm2 0zm4 0zm1 0zm2 0zm1 0zm1 0zm9 0zm-32 1zm8 0zm2 0zm2 0zm1 0zm1 0zm1 0zm3 0zm1 0zm6 0zm1 0zm6 0zm-33 1zm3 0zm2 0zm8 0zm3 0zm3 0zm4 0zm1 0zm-20 1zm8 0zm5 0zm3 0zm1 0zm1 0zm4 0zm-20 1zm6 0zm2 0zm1 0zm2 0zm2 0zm4 0zm1 0zm1 0zm1 0zm2 0zm1 0zm7 0zm-41 1zm5 0zm1 0zm8 0zm4 0zm3 0zm3 0zm1 0zm1 0zm7 0zm2 0zm4 0zm-41 1zm6 0zm2 0zm4 0zm2 0zm4 0zm4 0zm2 0zm4 0zm1 0zm2 0zm1 0zm3 0zm-131 1zm101 0zm2 0zm7 0zm11 0zm1 0zm1 0zm1 0zm2 0zm9 0zm-152 1zm14 0zm101 0zm2 0zm7 0zm10 0zm2 0zm3 0zm2 0zm1 0zm1 0zm2 0zm1 0zm9 0zm-54 1zm5 0zm1 0zm3 0zm8 0zm2 0zm3 0zm14 0zm1 0zm1 0zm4 0zm-135 1zm3 0zm75 0zm33 0zm15 0zm3 0zm2 0zm7 0zm-55 1zm9 0zm6 0zm2 0zm1 0zm2 0zm18 0zm2 0zm3 0zm1 0zm2 0zm1 0zm1 0zm3 0zm6 0zm-153 1zm20 0zm89 0zm5 0zm8 0zm3 0zm12 0zm3 0zm1 0zm3 0zm2 0zm1 0zm-119 1zm78 0zm5 0zm1 0zm26 0zm1 0zm5 0zm5 0zm4 0zm-146 1zm33 0zm52 0zm10 0zm1 0zm1 0zm8 0zm3 0zm1 0zm16 0zm-135 1zm8 0zm1 0zm7 0zm3 0zm19 0zm51 0zm16 0zm4 0zm5 0zm7 0zm2 0zm16 0zm20 0zm-138 1zm73 0zm24 0zm2 0zm22 0zm1 0zm7 0zm-135 1zm81 0zm7 0zm5 0zm2 0zm2 0zm2 0zm24 0zm3 0zm2 0zm1 0zm-143 1zm17 0zm5 0zm16 0zm43 0zm7 0zm1 0zm3 0zm4 0zm4 0zm1 0zm49 0zm2 0zm-144 1zm3 0zm11 0zm42 0zm6 0zm4 0zm20 0zm2 0zm8 0zm8 0zm39 0zm-140 1zm3 0zm2 0zm1 0zm3 0zm5 0zm1 0zm3 0zm47 0zm3 0zm1 0zm5 0zm10 0zm1 0zm3 0zm2 0zm5 0zm29 0zm25 0zm-155 1zm9 0zm4 0zm3 0zm2 0zm1 0zm4 0zm5 0zm7 0zm28 0zm14 0zm1 0zm9 0zm2 0zm2 0zm8 0zm8 0zm-116 1zm4 0zm16 0zm2 0zm2 0zm7 0zm39 0zm5 0zm10 0zm1 0zm10 0zm8 0zm6 0zm-97 1zm7 0zm7 0zm44 0zm10 0zm2 0zm8 0zm2 0zm5 0zm6 0zm-85 1zm1 0zm4 0zm2 0zm2 0zm23 0zm8 0zm15 0zm8 0zm1 0zm3 0zm1 0zm5 0zm1 0zm1 0zm-76 1zm3 0zm3 0zm2 0zm6 0zm6 0zm5 0zm11 0zm13 0zm1 0zm7 0zm3 0zm1 0zm15 0zm-86 1zm10 0zm3 0zm4 0zm1 0zm1 0zm3 0zm1 0zm2 0zm5 0zm22 0zm7 0zm4 0zm5 0zm2 0zm2 0zm7 0zm-72 1zm3 0zm5 0zm2 0zm4 0zm1 0zm1 0zm2 0zm2 0zm13 0zm4 0zm8 0zm3 0zm3 0zm3 0zm1 0zm6 0zm7 0zm-65 1zm3 0zm2 0zm4 0zm1 0zm2 0zm2 0zm4 0zm3 0zm3 0zm1 0zm3 0zm16 0zm4 0zm3 0zm1 0zm5 0zm-66 1zm1 0zm4 0zm1 0zm1 0zm3 0zm5 0zm1 0zm1 0zm1 0zm1 0zm1 0zm1 0zm1 0zm11 0zm15 0zm5 0zm2 0zm6 0zm4 0zm-66 1zm2 0zm2 0zm2 0zm1 0zm3 0zm1 0zm2 0zm1 0zm3 0zm3 0zm4 0zm2 0zm1 0zm1 0zm5 0zm8 0zm5 0zm2 0zm3 0zm1 0zm8 0zm23 0zm65 0zm-149 1zm7 0zm1 0zm3 0zm1 0zm1 0zm2 0zm1 0zm2 0zm5 0zm1 0zm12 0zm3 0zm4 0zm23 0zm2 0zm-66 1zm2 0zm6 0zm1 0zm1 0zm2 0zm4 0zm1 0zm1 0zm6 0zm1 0zm2 0zm1 0zm7 0zm7 0zm3 0zm2 0zm7 0zm5 0zm3 0zm-61 1zm4 0zm1 0zm2 0zm1 0zm3 0zm1 0zm1 0zm1 0zm1 0zm1 0zm2 0zm1 0zm1 0zm1 0zm3 0zm3 0zm5 0zm2 0zm5 0zm5 0zm4 0zm1 0zm3 0zm-52 1zm1 0zm2 0zm1 0zm4 0zm2 0zm2 0zm1 0zm1 0zm4 0zm1 0zm1 0zm1 0zm7 0zm14 0zm4 0zm3 0zm-53 1zm6 0zm9 0zm1 0zm3 0zm1 0zm3 0zm1 0zm2 0zm1 0zm1 0zm4 0zm5 0zm4 0zm18 0zm7 0zm-63 1zm10 0zm1 0zm3 0zm3 0zm3 0zm1 0zm2 0zm1 0zm3 0zm14 0zm-42 1zm8 0zm1 0zm6 0zm3 0zm2 0zm3 0zm3 0zm2 0zm1 0zm7 0zm8 0zm-46 1zm7 0zm5 0zm1 0zm3 0zm1 0zm1 0zm3 0zm1 0zm8 0zm1 0zm8 0zm1 0zm-45 1zm7 0zm3 0zm3 0zm1 0zm2 0zm2 0zm1 0zm1 0zm4 0zm1 0zm9 0zm6 0zm3 0zm2 0zm26 0zm-191 1zm129 0zm1 0zm2 0zm3 0zm1 0zm4 0zm4 0zm2 0zm1 0zm1 0zm2 0zm5 0zm3 0zm-157 1zm127 0zm1 0zm4 0zm5 0zm3 0zm2 0zm1 0zm1 0zm3 0zm3 0zm2 0zm1 0zm5 0zm-33 1zm1 0zm4 0zm4 0zm2 0zm1 0zm3 0zm1 0zm4 0zm1 0zm1 0zm1 0zm1 0zm5 0zm-33 1zm5 0zm6 0zm3 0zm1 0zm4 0zm5 0zm1 0zm2 0zm3 0zm-36 1zm4 0zm1 0zm2 0zm3 0zm7 0zm2 0zm1 0zm3 0zm1 0zm4 0zm1 0zm1 0zm4 0zm5 0zm2 0zm12 0zm-180 1zm132 0zm1 0zm8 0zm13 0zm3 0zm1 0zm-36 1zm5 0zm16 0zm1 0zm1 0zm4 0zm1 0zm4 0zm3 0zm1 0zm1 0zm4 0zm1 0zm8 0zm-47 1zm4 0zm2 0zm18 0zm3 0zm4 0zm1 0zm3 0zm7 0zm2 0zm-175 1zm124 0zm14 0zm1 0zm12 0zm11 0zm3 0zm5 0zm1 0zm8 0zm-163 1zm11 0zm99 0zm6 0zm4 0zm5 0zm23 0zm5 0zm4 0zm2 0zm1 0zm-164 1zm19 0zm91 0zm7 0zm4 0zm5 0zm22 0zm7 0zm27 0zm-193 1zm6 0zm7 0zm100 0zm2 0zm10 0zm6 0zm5 0zm2 0zm15 0zm15 0zm-180 1zm32 0zm96 0zm3 0zm3 0zm1 0zm1 0zm3 0zm4 0zm8 0zm26 0zm1 0zm-166 1zm25 0zm94 0zm5 0zm1 0zm31 0zm1 0zm1 0zm5 0zm5 0zm-158 1zm11 0zm102 0zm3 0zm3 0zm43 0zm-177 1zm2 0zm9 0zm6 0zm8 0zm13 0zm78 0zm5 0zm18 0zm-135 1zm13 0zm9 0zm94 0zm6 0zm1 0zm6 0zm3 0zm34 0zm-169 1zm16 0zm11 0zm71 0zm13 0zm5 0zm3 0zm16 0zm38 0zm3 0zm3 0zm-164 1zm7 0zm72 0zm14 0zm5 0zm1 0zm7 0zm3 0zm2 0zm33 0zm-147 1zm6 0zm4 0zm3 0zm2 0zm74 0zm3 0zm7 0zm15 0zm3 0zm25 0zm-155 1zm8 0zm4 0zm1 0zm2 0zm1 0zm6 0zm2 0zm2 0zm8 0zm75 0zm6 0zm3 0zm10 0zm-135 1zm6 0zm4 0zm14 0zm1 0zm5 0zm1 0zm2 0zm1 0zm6 0zm1 0zm1 0zm51 0zm9 0zm5 0zm1 0zm9 0zm6 0zm-113 1zm6 0zm2 0zm5 0zm1 0zm2 0zm1 0zm5 0zm3 0zm54 0zm7 0zm2 0zm5 0zm7 0zm16 0zm5 0zm43 0zm-167 1zm4 0zm1 0zm2 0zm2 0zm4 0zm1 0zm4 0zm8 0zm1 0zm2 0zm45 0zm8 0zm2 0zm4 0zm1 0zm4 0zm18 0zm2 0zm65 0zm-174 1zm4 0zm1 0zm1 0zm4 0zm4 0zm3 0zm1 0zm61 0zm16 0zm1 0zm3 0zm65 0zm-165 1zm1 0zm4 0zm2 0zm2 0zm2 0zm1 0zm2 0zm1 0zm1 0zm2 0zm4 0zm1 0zm3 0zm7 0zm3 0zm30 0zm11 0zm2 0zm6 0zm1 0zm4 0zm5 0zm4 0zm1 0zm5 0zm-108 1zm6 0zm3 0zm4 0zm1 0zm1 0zm2 0zm3 0zm2 0zm1 0zm2 0zm11 0zm37 0zm6 0zm2 0zm4 0zm3 0zm1 0zm6 0zm7 0zm10 0zm1 0zm-107 1zm4 0zm6 0zm3 0zm1 0zm2 0zm6 0zm6 0zm9 0zm30 0zm4 0zm2 0zm2 0zm12 0zm1 0zm9 0zm-110 1zm8 0zm1 0zm2 0zm1 0zm3 0zm1 0zm3 0zm1 0zm2 0zm1 0zm2 0zm1 0zm2 0zm2 0zm1 0zm3 0zm4 0zm8 0zm18 0zm15 0zm1 0zm4 0zm4 0zm10 0zm12 0zm3 0zm-100 1zm2 0zm1 0zm3 0zm1 0zm1 0zm2 0zm2 0zm1 0zm1 0zm2 0zm1 0zm3 0zm1 0zm1 0zm6 0zm3 0zm19 0zm16 0zm14 0zm19 0zm-94 1zm2 0zm1 0zm2 0zm1 0zm2 0zm2 0zm4 0zm1 0zm1 0zm3 0zm7 0zm1 0zm20 0zm6 0zm5 0zm11 0zm5 0zm3 0zm4 0zm-86 1zm1 0zm1 0zm1 0zm1 0zm1 0zm3 0zm1 0zm1 0zm1 0zm2 0zm3 0zm3 0zm1 0zm1 0zm11 0zm14 0zm10 0zm5 0zm1 0zm1 0zm4 0zm18 0zm-84 1zm3 0zm2 0zm1 0zm1 0zm1 0zm3 0zm1 0zm1 0zm1 0zm1 0zm1 0zm2 0zm1 0zm3 0zm2 0zm16 0zm9 0zm2 0zm1 0zm1 0zm-58 1zm1 0zm3 0zm4 0zm4 0zm1 0zm1 0zm1 0zm1 0zm1 0zm1 0zm1 0zm1 0zm2 0zm1 0zm1 0zm2 0zm1 0zm3 0zm8 0zm1 0zm9 0zm8 0zm1 0zm5 0zm10 0zm-73 1zm3 0zm3 0zm1 0zm1 0zm1 0zm1 0zm1 0zm3 0zm1 0zm1 0zm3 0zm2 0zm1 0zm2 0zm1 0zm1 0zm2 0zm6 0zm16 0zm4 0zm3 0zm1 0zm2 0zm1 0zm11 0zm-74 1zm4 0zm1 0zm1 0zm4 0zm7 0zm1 0zm1 0zm1 0zm1 0zm3 0zm1 0zm1 0zm2 0zm3 0zm22 0zm1 0zm3 0zm1 0zm9 0zm1 0zm-63 1zm5 0zm1 0zm1 0zm2 0zm1 0zm1 0zm1 0zm1 0zm3 0zm1 0zm1 0zm1 0zm5 0zm1 0zm1 0zm1 0zm1 0zm1 0zm5 0zm10 0zm5 0zm4 0zm11 0zm2 0zm-79 1zm5 0zm13 0zm1 0zm2 0zm2 0zm6 0zm1 0zm1 0zm1 0zm1 0zm2 0zm1 0zm1 0zm1 0zm6 0zm2 0zm18 0zm2 0zm-65 1zm8 0zm3 0zm2 0zm2 0zm2 0zm1 0zm1 0zm2 0zm1 0zm2 0zm4 0zm1 0zm1 0zm2 0zm1 0zm1 0zm2 0zm4 0zm5 0zm5 0zm4 0zm1 0zm-52 1zm2 0zm11 0zm2 0zm3 0zm1 0zm3 0zm2 0zm1 0zm1 0zm1 0zm1 0zm1 0zm3 0zm2 0zm1 0zm1 0zm5 0zm2 0zm-37 1zm4 0zm1 0zm1 0zm1 0zm1 0zm1 0zm1 0zm4 0zm2 0zm1 0zm3 0zm2 0zm1 0zm1 0zm1 0zm1 0zm4 0zm2 0zm1 0zm2 0zm2 0zm7 0zm1 0zm14 0zm-57 1zm3 0zm1 0zm3 0zm3 0zm2 0zm1 0zm1 0zm1 0zm1 0zm2 0zm1 0zm1 0zm1 0zm1 0zm3 0zm2 0zm1 0zm1 0zm3 0zm2 0zm4 0zm10 0zm4 0zm-53 1zm4 0zm3 0zm1 0zm2 0zm3 0zm1 0zm2 0zm1 0zm2 0zm1 0zm1 0zm1 0zm1 0zm1 0zm4 0zm2 0zm1 0zm1 0zm5 0zm3 0zm2 0zm-48 1zm8 0zm6 0zm1 0zm1 0zm2 0zm1 0zm1 0zm1 0zm3 0zm1 0zm2 0zm1 0zm3 0zm1 0zm2 0zm5 0zm4 0zm11 0zm-53 1zm4 0zm3 0zm1 0zm4 0zm1 0zm1 0zm1 0zm1 0zm4 0zm3 0zm2 0zm4 0zm1 0zm2 0zm1 0zm3 0zm4 0zm5 0zm10 0zm5 0zm-51 1zm3 0zm1 0zm1 0zm3 0zm3 0zm1 0zm1 0zm2 0zm2 0zm2 0zm1 0zm4 0zm6 0zm3 0zm-39 1zm3 0zm1 0zm2 0zm1 0zm3 0zm1 0zm4 0zm1 0zm3 0zm1 0zm1 0zm3 0zm2 0zm2 0zm2 0zm1 0zm5 0zm-29 1zm2 0zm1 0zm3 0zm3 0zm2 0zm1 0zm3 0zm1 0zm5 0zm3 0zm4 0zm3 0zm-36 1zm1 0zm6 0zm4 0zm5 0zm1 0zm1 0zm1 0zm5 0zm3 0zm4 0zm-45 1zm14 0zm3 0zm5 0zm3 0zm1 0zm1 0zm2 0zm6 0zm2 0zm2 0zm1 0zm1 0zm3 0zm3 0zm-39 1zm3 0zm4 0zm2 0zm3 0zm1 0zm5 0zm2 0zm3 0zm1 0zm3 0zm10 0zm-42 1zm2 0zm7 0zm1 0zm2 0zm2 0zm2 0zm6 0zm1 0zm1 0zm3 0zm1 0zm4 0zm5 0zm8 0zm-41 1zm1 0zm3 0zm4 0zm1 0zm1 0zm4 0zm3 0zm3 0zm6 0zm1 0zm12 0zm2 0zm-36 1zm5 0zm2 0zm1 0zm4 0zm1 0zm1 0zm1 0zm8 0zm1 0zm1 0zm17 0zm-65 1zm3 0zm12 0zm7 0zm6 0zm1 0zm16 0zm2 0zm6 0zm-44 1zm3 0zm1 0zm1 0zm3 0zm1 0zm2 0zm1 0zm1 0zm1 0zm2 0zm1 0zm2 0zm3 0zm1 0zm4 0zm22 0zm-52 1zm9 0zm1 0zm3 0zm4 0zm9 0zm1 0zm1 0zm5 0zm16 0zm-50 1zm3 0zm2 0zm1 0zm4 0zm1 0zm1 0zm1 0zm5 0zm2 0zm1 0zm2 0zm4 0zm1 0zm19 0zm-50 1zm7 0zm1 0zm1 0zm3 0zm2 0zm1 0zm2 0zm3 0zm3 0zm1 0zm1 0zm6 0zm16 0zm-43 1zm1 0zm1 0zm2 0zm1 0zm1 0zm1 0zm1 0zm1 0zm1 0zm2 0zm4 0zm2 0zm2 0zm9 0zm-32 1zm1 0zm5 0zm2 0zm1 0zm1 0zm1 0zm2 0zm1 0zm1 0zm2 0zm1 0zm1 0zm1 0zm1 0zm3 0zm6 0zm1 0zm21 0zm-55 1zm4 0zm1 0zm3 0zm1 0zm1 0zm1 0zm1 0zm1 0zm1 0zm3 0zm5 0zm5 0zm11 0zm-36 1zm3 0zm3 0zm1 0zm2 0zm1 0zm1 0zm2 0zm1 0zm3 0zm2 0zm2 0zm1 0zm5 0zm-30 1zm2 0zm1 0zm3 0zm1 0zm1 0zm3 0zm2 0zm1 0zm1 0zm3 0zm2 0zm2 0zm1 0zm1 0zm1 0zm1 0zm-25 1zm1 0zm2 0zm2 0zm2 0zm1 0zm2 0zm1 0zm1 0zm1 0zm3 0zm1 0zm1 0zm1 0zm1 0zm5 0zm11 0zm-36 1zm2 0zm1 0zm1 0zm1 0zm1 0zm1 0zm3 0zm1 0zm2 0zm2 0zm1 0zm2 0zm5 0zm9 0zm-31 1zm5 0zm5 0zm1 0zm4 0zm2 0zm1 0zm1 0zm4 0zm-28 1zm4 0zm3 0zm3 0zm1 0zm1 0zm5 0zm1 0zm1 0zm-16 1zm4 0zm1 0zm1 0zm2 0zm1 0zm6 0zm-17 1zm5 0zm5 0zm5 0zm1 0zm1 0zm2 0zm1 0zm-17 1zm4 0zm14 0zm43 0zm-65 1zm17 0zm-21 1zm9 1zm3 0zm49 1z" stroke="#6c6c6c" stroke-width="2.4" stroke-linecap="square" fill="none"/>
<path transform="scale(.5)" d="m359 855zm69 6zm-297 1zm149 4zm104 5zm42 2zm-79 3zm34 0zm21 0zm-229 4zm220 0zm-267 1zm37 1zm90 2zm107 0zm3 0zm-225 8zm174 0zm91 1zm-156 1zm8 0zm114 3zm-23 1zm-43 1zm37 2zm74 0zm-103 1zm24 0zm-53 3zm35 0zm72 0zm-201 1zm136 0zm33 1zm-214 2zm73 0zm203 0zm-302 1zm196 0zm111 0zm-219 1zm217 1zm-262 1zm162 0zm20 1zm-63 1zm124 0zm-101 1zm4 1zm112 0zm-33 1zm35 0zm-219 1zm8 0zm24 0zm-105 1zm217 0zm-129 2zm-124 1zm5 0zm12 0zm81 0zm110 0zm6 0zm-103 1zm50 0zm129 0zm-1 1zm-257 1zm138 0zm79 0zm41 0zm-141 1zm-73 1zm113 0zm134 0zm-268 1zm109 0zm11 0zm61 0zm7 0zm-181 1zm173 0zm49 0zm41 0zm-104 1zm-144 1zm184 0zm37 0zm-258 1zm231 0zm2 0zm-196 1zm146 0zm44 1zm-141 1zm124 0zm11 0zm-129 1zm54 0zm29 0zm12 1zm6 0zm59 0zm-98 1zm52 0zm-176 1zm202 0zm-114 1zm140 0zm-142 1zm51 0zm13 0zm18 0zm48 0zm40 0zm-253 1zm118 0zm128 0zm-322 1zm131 0zm65 0zm65 0zm55 0zm-97 1zm18 0zm14 0zm20 0zm44 0zm-244 1zm17 0zm108 0zm83 0zm-67 1zm-193 1zm49 0zm104 0zm91 0zm-168 1zm100 0zm124 0zm-103 1zm-176 1zm163 0zm68 0zm26 0zm1 0zm-302 1zm216 0zm15 0zm28 0zm-259 1zm160 0zm97 0zm22 0zm-146 1zm-27 1zm106 1zm-45 1zm53 0zm24 0zm35 0zm10 0zm-287 1zm210 0zm-124 1zm15 0zm26 1zm55 0zm2 0zm46 0zm-144 1zm42 0zm-71 1zm32 1zm172 0zm-157 1zm88 0zm22 0zm54 0zm-259 1zm206 0zm-203 1zm37 0zm19 0zm29 0zm33 0zm44 0zm65 0zm9 0zm-156 1zm77 0zm-119 1zm103 0zm100 0zm-246 1zm113 0zm117 0zm14 0zm-144 1zm31 0zm5 0zm5 0zm50 0zm51 0zm-181 1zm50 0zm58 2zm64 1zm-84 1zm2 0zm12 0zm-126 1zm19 0zm31 0zm79 0zm-90 1zm81 0zm29 0zm-101 1zm18 0zm4 1zm23 0zm-139 1zm55 0zm63 0zm6 0zm68 0zm-55 1zm37 0zm31 0zm11 0zm-179 1zm89 0zm-14 1zm-70 1zm11 0zm146 0zm-158 1zm83 0zm25 0zm-139 1zm169 0zm-95 1zm6 0zm45 0zm21 0zm12 3zm-165 1zm23 0zm30 0zm54 0zm15 0zm38 0zm-90 2zm34 0zm-59 1zm69 0zm-53 1zm65 0zm-23 1zm25 0zm5 0zm-20 1zm31 0zm17 0zm2 0zm-135 1zm91 0zm-107 1zm74 0zm37 0zm26 0zm-25 1zm-80 1zm68 0zm5 0zm22 0zm-132 1zm3 0zm91 0zm-81 1zm85 0zm48 0zm-19 1zm6 0zm-120 1zm40 0zm18 0zm15 0zm-75 1zm61 0zm57 0zm-118 1zm8 0zm11 0zm16 0zm51 0zm-52 1zm57 0zm33 0zm-126 1zm21 0zm41 1zm27 0zm-79 1zm28 0zm-53 1zm3 0zm27 0zm25 0zm12 0zm13 0zm-84 1zm5 0zm5 0zm39 0zm33 0zm-57 1zm30 0zm1 0zm43 1zm12 0zm-102 2zm9 0zm35 0zm29 0zm2 0zm1 0zm8 0zm-81 1zm-11 1zm84 0zm-46 1zm8 0zm1 0zm9 0zm9 0zm4 0zm23 0zm-93 1zm40 0zm34 0zm-47 1zm25 0zm22 0zm-73 1zm2 0zm8 0zm18 0zm8 0zm35 0zm4 0zm-28 1zm40 0zm-61 1zm-26 1zm4 0zm7 0zm35 0zm-23 1zm23 0zm-32 1zm21 0zm22 0zm7 0zm-61 1zm4 0zm9 0zm32 0zm26 0zm-76 2zm20 2zm17 0zm-15 1zm10 0zm-8 1zm-24 1zm37 0zm3 0zm-34 1zm47 0zm-46 4zm17 0zm-10 2zm-13 1zm19 0zm-15 1zm6 0zm-5 1zm0 1zm0 1zm2 0zm11 0zm-6 1zm-9 3zm1 1zm-5 1zm4 0zm5 0zm-9 2z" stroke="#2e2e2e" stroke-width="2.8" stroke-linecap="square" fill="none"/>
<rect x="36.4" y="425.1" width="186.4" height="122.9" fill="none" stroke="#151515" stroke-width="1.1"/>
<path d="M36.4 544h-2.8M36.4 539.1h-2.8M36.4 534.8h-2.8M36.4 531.1h-2.8M36.4 527.7h-2.8M36.4 505.6h-2.8M36.4 492.6h-2.8M36.4 483.4h-2.8M36.4 476.3h-2.8M36.4 470.5h-2.8M36.4 465.6h-2.8M36.4 461.3h-2.8M36.4 457.6h-2.8M36.4 454.2h-2.8M36.4 432.1h-2.8" stroke="#151515" stroke-width="1.0" fill="none"/>
<path d="M36.4 527.7h-5.4M36.4 454.2h-5.4" stroke="#151515" stroke-width="1.0" fill="none"/>
<path d="M51.7 548v3.2M90.1 548v3.2M117.3 548v3.2M138.5 548v3.2M155.7 548v3.2M170.3 548v3.2M182.9 548v3.2M194.1 548v3.2" stroke="#151515" stroke-width="1.0" fill="none"/>
<text x="196" y="566.3" font-size="10.5" fill="#151515">10<tspan dy="-6.3" font-size="10">3</tspan></text>
<text x="129.8" y="576.9" font-size="10.5" text-anchor="middle" textLength="82" lengthAdjust="spacingAndGlyphs" fill="#151515">Propidium Iodide</text>
<text x="11.2" y="487" font-size="10.5" text-anchor="middle" transform="rotate(-90 11.2 487)" textLength="86" lengthAdjust="spacingAndGlyphs" fill="#151515">Mouse IgG1 FITC</text>
<text x="27.6" y="536.7" font-size="10.5" fill="#151515" transform="rotate(-90 27.6 536.7)">10<tspan dy="-6.6" font-size="10">1</tspan></text>
<text x="27.6" y="463.2" font-size="10.5" fill="#151515" transform="rotate(-90 27.6 463.2)">10<tspan dy="-6.6" font-size="10">2</tspan></text>
<text x="44.8" y="444" font-size="16.2" fill="#151515" stroke="#151515" stroke-width="0.3">E</text>
<text transform="translate(52 460.6) scale(1.1 1)" font-size="16.3" letter-spacing="2.6" fill="#151515" stroke="#151515" stroke-width="0.2">8N</text>
<text transform="translate(113 455.3) scale(1.1 1)" font-size="16.3" letter-spacing="1.6" fill="#151515" stroke="#151515" stroke-width="0.2">16N</text>
<text transform="translate(176.6 447.8) scale(1.1 1)" font-size="16.3" letter-spacing="1.5" fill="#151515" stroke="#151515" stroke-width="0.2">32N</text>
<path d="M204.1 548v5" stroke="#151515" stroke-width="1.0" fill="none"/>
<path transform="scale(.5)" d="m983 856zm-13 1zm-127 4zm147 2zm-5 3zm15 1zm-26 1zm9 0zm-7 2zm-3 1zm-132 1zm131 0zm1 0zm4 1zm1 2zm2 1zm7 0zm-157 2zm160 1zm-4 1zm10 1zm-155 1zm126 1zm-136 1zm134 0zm10 0zm6 1zm-6 1zm8 0zm1 0zm14 0zm-33 1zm9 0zm-5 1zm3 0zm6 0zm-143 1zm153 0zm-149 1zm140 0zm8 0zm4 0zm3 0zm-158 1zm3 0zm142 0zm3 0zm-148 1zm142 0zm-6 1zm19 0zm-13 1zm6 0zm1 0zm5 0zm-11 1zm4 0zm1 0zm1 0zm1 0zm2 0zm-22 1zm8 0zm4 0zm8 0zm1 0zm-150 1zm15 0zm106 0zm27 0zm2 0zm-157 1zm7 0zm7 0zm128 0zm1 0zm2 0zm10 0zm-3 1zm-10 1zm6 0zm7 0zm1 0zm12 0zm-176 1zm16 0zm131 0zm13 0zm7 0zm4 0zm-166 1zm4 0zm2 0zm3 0zm129 0zm17 0zm9 0zm-162 1zm32 0zm119 0zm-152 1zm7 0zm1 0zm144 0zm1 0zm3 0zm5 0zm-157 1zm4 0zm2 0zm2 0zm1 0zm2 0zm149 0zm3 0zm-174 1zm15 0zm11 0zm125 1zm1 0zm1 0zm1 0zm5 0zm2 0zm4 0zm-156 1zm12 0zm139 0zm16 0zm-168 1zm11 0zm138 0zm4 0zm7 0zm3 0zm-150 1zm5 0zm6 0zm125 0zm11 0zm1 0zm1 0zm27 0zm-187 1zm141 0zm5 0zm2 0zm-174 1zm26 0zm15 0zm1 0zm131 0zm-160 1zm13 0zm9 0zm136 0zm10 0zm3 0zm2 0zm-142 1zm120 0zm3 0zm2 0zm5 0zm-154 1zm6 0zm5 0zm1 0zm1 0zm1 0zm142 0zm5 0zm-157 1zm8 0zm134 0zm7 0zm1 0zm-165 1zm17 0zm3 0zm3 0zm3 0zm3 0zm135 0zm8 0zm12 0zm-177 1zm7 0zm3 0zm136 0zm4 0zm14 0zm6 0zm1 0zm-164 1zm6 0zm10 0zm5 0zm127 0zm6 0zm8 0zm3 0zm-156 1zm7 0zm79 0zm58 0zm2 0zm-146 1zm7 0zm124 0zm1 0zm9 0zm-152 1zm1 0zm16 0zm133 0zm2 0zm5 0zm4 0zm-162 1zm11 0zm4 0zm21 0zm113 0zm1 0zm11 0zm10 0zm-166 1zm2 0zm4 0zm129 0zm11 0zm9 0zm-154 1zm1 0zm5 0zm1 0zm5 0zm5 0zm5 0zm117 0zm8 0zm1 0zm5 0zm-176 1zm4 0zm17 0zm17 0zm131 0zm12 0zm-164 1zm5 0zm1 0zm3 0zm2 0zm139 0zm1 0zm2 0zm3 0zm20 0zm15 0zm-185 1zm1 0zm1 0zm4 0zm5 0zm2 0zm1 0zm129 0zm6 0zm1 0zm1 0zm3 0zm-324 1zm163 0zm1 0zm2 0zm4 0zm7 0zm132 0zm14 0zm16 0zm-172 1zm10 0zm12 0zm121 0zm11 0zm6 0zm3 0zm-166 1zm2 0zm11 0zm7 0zm116 0zm12 0zm1 0zm7 0zm-145 1zm1 0zm2 0zm8 0zm125 0zm8 0zm2 0zm4 0zm34 0zm-192 1zm2 0zm2 0zm3 0zm1 0zm147 0zm2 0zm1 0zm-308 1zm146 0zm2 0zm5 0zm1 0zm6 0zm3 0zm129 0zm11 0zm4 0zm7 0zm-165 1zm4 0zm1 0zm12 0zm5 0zm1 0zm99 0zm28 0zm3 0zm1 0zm-155 1zm1 0zm14 0zm1 0zm45 0zm86 0zm3 0zm5 0zm46 0zm-364 1zm162 0zm1 0zm1 0zm9 0zm8 0zm6 0zm120 0zm6 0zm4 0zm5 0zm25 0zm1 0zm-186 1zm2 0zm4 0zm1 0zm2 0zm6 0zm10 0zm121 0zm15 0zm-307 1zm136 0zm13 0zm2 0zm4 0zm12 0zm85 0zm19 0zm23 0zm6 0zm15 0zm-170 1zm1 0zm6 0zm2 0zm2 0zm8 0zm4 0zm127 0zm7 0zm-308 1zm146 0zm10 0zm3 0zm1 0zm4 0zm4 0zm5 0zm10 0zm106 0zm2 0zm2 0zm3 0zm1 0zm13 0zm-315 1zm160 0zm1 0zm3 0zm1 0zm14 0zm118 0zm2 0zm10 0zm14 0zm2 0zm-166 1zm8 0zm1 0zm4 0zm6 0zm114 0zm7 0zm8 0zm6 0zm46 0zm-364 1zm156 0zm5 0zm1 0zm4 0zm3 0zm1 0zm16 0zm120 0zm5 0zm1 0zm1 0zm5 0zm1 0zm1 0zm2 0zm3 0zm1 0zm-167 1zm7 0zm12 0zm99 0zm32 0zm7 0zm6 0zm12 0zm-333 1zm8 0zm153 0zm2 0zm7 0zm6 0zm1 0zm3 0zm5 0zm118 0zm12 0zm2 0zm5 0zm1 0zm2 0zm7 0zm-177 1zm4 0zm12 0zm4 0zm2 0zm98 0zm22 0zm2 0zm5 0zm5 0zm1 0zm4 0zm5 0zm5 0zm5 0zm-321 1zm154 0zm7 0zm7 0zm1 0zm3 0zm1 0zm100 0zm15 0zm11 0zm1 0zm3 0zm1 0zm1 0zm1 0zm1 0zm1 0zm2 0zm7 0zm8 0zm7 0zm14 0zm-352 1zm1 0zm7 0zm3 0zm145 0zm5 0zm3 0zm23 0zm85 0zm27 0zm4 0zm1 0zm4 0zm1 0zm1 0zm2 0zm2 0zm1 0zm1 0zm1 0zm3 0zm8 0zm4 0zm1 0zm25 0zm-363 1zm167 0zm4 0zm1 0zm8 0zm1 0zm100 0zm25 0zm5 0zm1 0zm2 0zm2 0zm2 0zm3 0zm1 0zm1 0zm1 0zm6 0zm32 0zm-363 1zm13 0zm148 0zm7 0zm4 0zm1 0zm3 0zm5 0zm9 0zm62 0zm3 0zm46 0zm1 0zm8 0zm3 0zm1 0zm1 0zm1 0zm4 0zm2 0zm1 0zm1 0zm2 0zm2 0zm3 0zm1 0zm3 0zm11 0zm-190 1zm12 0zm7 0zm2 0zm3 0zm1 0zm5 0zm10 0zm112 0zm3 0zm6 0zm1 0zm2 0zm1 0zm1 0zm2 0zm2 0zm1 0zm1 0zm2 0zm2 0zm4 0zm1 0zm11 0zm-341 1zm17 0zm141 0zm5 0zm4 0zm3 0zm6 0zm3 0zm116 0zm5 0zm1 0zm1 0zm1 0zm3 0zm3 0zm2 0zm2 0zm3 0zm4 0zm1 0zm1 0zm5 0zm2 0zm6 0zm11 0zm12 0zm-367 1zm14 0zm155 0zm3 0zm2 0zm1 0zm3 0zm2 0zm1 0zm3 0zm4 0zm6 0zm74 0zm33 0zm3 0zm4 0zm6 0zm1 0zm2 0zm1 0zm2 0zm1 0zm4 0zm1 0zm6 0zm1 0zm23 0zm4 0zm10 0zm-363 1zm2 0zm156 0zm1 0zm11 0zm9 0zm95 0zm22 0zm1 0zm3 0zm2 0zm2 0zm1 0zm1 0zm1 0zm5 0zm1 0zm3 0zm2 0zm1 0zm1 0zm1 0zm2 0zm1 0zm5 0zm12 0zm19 0zm-363 1zm3 0zm9 0zm149 0zm6 0zm6 0zm2 0zm2 0zm3 0zm2 0zm118 0zm1 0zm4 0zm1 0zm1 0zm3 0zm3 0zm1 0zm1 0zm2 0zm1 0zm1 0zm1 0zm1 0zm2 0zm1 0zm1 0zm1 0zm1 0zm9 0zm8 0zm7 0zm-352 1zm3 0zm2 0zm7 0zm151 0zm2 0zm3 0zm1 0zm2 0zm1 0zm1 0zm119 0zm8 0zm3 0zm1 0zm4 0zm2 0zm1 0zm3 0zm1 0zm2 0zm1 0zm2 0zm1 0zm2 0zm2 0zm1 0zm12 0zm28 0zm-356 1zm9 0zm140 0zm9 0zm4 0zm1 0zm1 0zm4 0zm3 0zm22 0zm83 0zm3 0zm4 0zm5 0zm8 0zm1 0zm2 0zm1 0zm1 0zm1 0zm4 0zm1 0zm1 0zm4 0zm1 0zm1 0zm2 0zm4 0zm1 0zm4 0zm7 0zm11 0zm13 0zm-367 1zm7 0zm3 0zm3 0zm3 0zm146 0zm1 0zm4 0zm1 0zm5 0zm115 0zm9 0zm1 0zm5 0zm1 0zm6 0zm1 0zm3 0zm1 0zm2 0zm1 0zm2 0zm5 0zm1 0zm2 0zm2 0zm2 0zm2 0zm5 0zm-336 1zm1 0zm7 0zm153 0zm3 0zm1 0zm10 0zm2 0zm1 0zm5 0zm1 0zm13 0zm85 0zm15 0zm2 0zm1 0zm4 0zm1 0zm1 0zm3 0zm1 0zm1 0zm3 0zm1 0zm1 0zm1 0zm1 0zm1 0zm1 0zm2 0zm1 0zm1 0zm1 0zm2 0zm1 0zm1 0zm7 0zm6 0zm-339 1zm12 0zm146 0zm1 0zm11 0zm4 0zm2 0zm3 0zm4 0zm2 0zm104 0zm2 0zm1 0zm2 0zm3 0zm5 0zm4 0zm1 0zm1 0zm1 0zm1 0zm1 0zm1 0zm1 0zm1 0zm1 0zm3 0zm1 0zm1 0zm1 0zm4 0zm2 0zm2 0zm16 0zm14 0zm-372 1zm8 0zm8 0zm3 0zm6 0zm2 0zm139 0zm4 0zm5 0zm5 0zm1 0zm2 0zm6 0zm1 0zm2 0zm2 0zm2 0zm13 0zm74 0zm24 0zm1 0zm2 0zm3 0zm2 0zm3 0zm1 0zm1 0zm2 0zm1 0zm1 0zm3 0zm1 0zm1 0zm3 0zm3 0zm2 0zm5 0zm6 0zm17 0zm-362 1zm6 0zm1 0zm11 0zm5 0zm159 0zm8 0zm8 0zm82 0zm3 0zm11 0zm3 0zm1 0zm4 0zm7 0zm3 0zm1 0zm2 0zm1 0zm1 0zm1 0zm1 0zm1 0zm2 0zm1 0zm1 0zm1 0zm1 0zm1 0zm3 0zm1 0zm1 0zm1 0zm1 0zm1 0zm1 0zm4 0zm7 0zm2 0zm-348 1zm9 0zm7 0zm7 0zm139 0zm21 0zm2 0zm69 0zm20 0zm6 0zm9 0zm1 0zm6 0zm3 0zm6 0zm1 0zm2 0zm2 0zm1 0zm2 0zm1 0zm1 0zm1 0zm1 0zm1 0zm1 0zm2 0zm1 0zm3 0zm2 0zm1 0zm2 0zm3 0zm2 0zm3 0zm4 0zm11 0zm-366 1zm20 0zm1 0zm5 0zm1 0zm5 0zm146 0zm7 0zm6 0zm1 0zm4 0zm3 0zm1 0zm82 0zm1 0zm22 0zm7 0zm1 0zm2 0zm2 0zm6 0zm3 0zm1 0zm2 0zm1 0zm1 0zm1 0zm2 0zm1 0zm1 0zm2 0zm5 0zm3 0zm2 0zm2 0zm3 0zm7 0zm1 0zm-344 1zm1 0zm1 0zm4 0zm2 0zm2 0zm5 0zm144 0zm5 0zm12 0zm92 0zm14 0zm11 0zm2 0zm1 0zm3 0zm1 0zm4 0zm5 0zm1 0zm1 0zm1 0zm2 0zm1 0zm1 0zm3 0zm1 0zm1 0zm1 0zm2 0zm1 0zm1 0zm1 0zm1 0zm1 0zm2 0zm1 0zm1 0zm10 0zm16 0zm-359 1zm5 0zm6 0zm4 0zm4 0zm126 0zm32 0zm5 0zm69 0zm8 0zm11 0zm15 0zm14 0zm1 0zm6 0zm3 0zm3 0zm4 0zm1 0zm1 0zm2 0zm1 0zm1 0zm1 0zm4 0zm2 0zm5 0zm1 0zm3 0zm6 0zm2 0zm22 0zm-366 1zm2 0zm6 0zm4 0zm1 0zm3 0zm2 0zm1 0zm132 0zm15 0zm15 0zm3 0zm2 0zm54 0zm13 0zm9 0zm8 0zm16 0zm1 0zm5 0zm2 0zm6 0zm1 0zm2 0zm1 0zm1 0zm1 0zm2 0zm2 0zm2 0zm1 0zm1 0zm1 0zm1 0zm1 0zm2 0zm3 0zm3 0zm1 0zm1 0zm1 0zm-328 1zm2 0zm155 0zm2 0zm9 0zm2 0zm13 0zm89 0zm1 0zm14 0zm2 0zm1 0zm8 0zm2 0zm2 0zm10 0zm2 0zm1 0zm1 0zm4 0zm3 0zm1 0zm1 0zm5 0zm7 0zm-347 1zm4 0zm3 0zm11 0zm2 0zm3 0zm5 0zm134 0zm4 0zm1 0zm2 0zm6 0zm2 0zm4 0zm3 0zm13 0zm53 0zm28 0zm5 0zm7 0zm2 0zm2 0zm4 0zm3 0zm3 0zm3 0zm4 0zm1 0zm1 0zm2 0zm1 0zm1 0zm1 0zm2 0zm2 0zm1 0zm2 0zm2 0zm1 0zm4 0zm1 0zm4 0zm2 0zm1 0zm2 0zm2 0zm1 0zm-355 1zm2 0zm15 0zm6 0zm2 0zm1 0zm3 0zm4 0zm3 0zm154 0zm10 0zm1 0zm3 0zm1 0zm81 0zm1 0zm10 0zm1 0zm4 0zm1 0zm2 0zm1 0zm2 0zm4 0zm7 0zm3 0zm2 0zm2 0zm1 0zm5 0zm2 0zm7 0zm2 0zm1 0zm1 0zm2 0zm2 0zm2 0zm5 0zm2 0zm-345 1zm1 0zm1 0zm3 0zm2 0zm1 0zm1 0zm4 0zm1 0zm1 0zm1 0zm12 0zm107 0zm19 0zm13 0zm4 0zm7 0zm4 0zm54 0zm7 0zm4 0zm6 0zm6 0zm2 0zm1 0zm6 0zm10 0zm4 0zm19 0zm3 0zm9 0zm2 0zm2 0zm2 0zm1 0zm5 0zm1 0zm1 0zm1 0zm2 0zm6 0zm4 0zm-336 1zm1 0zm1 0zm1 0zm2 0zm5 0zm3 0zm10 0zm138 0zm1 0zm12 0zm3 0zm12 0zm11 0zm30 0zm23 0zm5 0zm1 0zm1 0zm4 0zm11 0zm3 0zm4 0zm6 0zm7 0zm6 0zm5 0zm3 0zm3 0zm1 0zm1 0zm1 0zm1 0zm2 0zm3 0zm1 0zm3 0zm1 0zm1 0zm1 0zm1 0zm4 0zm22 0zm-354 1zm2 0zm1 0zm2 0zm1 0zm1 0zm1 0zm4 0zm1 0zm6 0zm4 0zm3 0zm134 0zm1 0zm15 0zm7 0zm2 0zm1 0zm2 0zm1 0zm19 0zm3 0zm42 0zm9 0zm7 0zm1 0zm3 0zm3 0zm4 0zm4 0zm2 0zm16 0zm1 0zm3 0zm2 0zm2 0zm1 0zm3 0zm1 0zm1 0zm5 0zm2 0zm8 0zm2 0zm2 0zm-341 1zm2 0zm6 0zm1 0zm5 0zm1 0zm1 0zm3 0zm5 0zm136 0zm14 0zm2 0zm1 0zm7 0zm7 0zm43 0zm9 0zm12 0zm3 0zm8 0zm3 0zm13 0zm5 0zm7 0zm4 0zm1 0zm2 0zm2 0zm3 0zm9 0zm4 0zm1 0zm2 0zm1 0zm2 0zm2 0zm1 0zm4 0zm1 0zm2 0zm8 0zm6 0zm-347 1zm5 0zm1 0zm1 0zm7 0zm3 0zm2 0zm3 0zm132 0zm8 0zm3 0zm2 0zm5 0zm1 0zm1 0zm1 0zm1 0zm2 0zm9 0zm5 0zm47 0zm5 0zm15 0zm1 0zm7 0zm1 0zm3 0zm3 0zm3 0zm6 0zm4 0zm15 0zm2 0zm3 0zm2 0zm1 0zm3 0zm2 0zm3 0zm3 0zm2 0zm3 0zm1 0zm9 0zm-339 1zm4 0zm1 0zm3 0zm2 0zm2 0zm2 0zm1 0zm1 0zm1 0zm1 0zm4 0zm8 0zm119 0zm9 0zm12 0zm3 0zm3 0zm1 0zm5 0zm1 0zm1 0zm1 0zm5 0zm3 0zm1 0zm20 0zm24 0zm16 0zm5 0zm5 0zm4 0zm5 0zm1 0zm1 0zm1 0zm12 0zm2 0zm22 0zm3 0zm3 0zm3 0zm6 0zm6 0zm4 0zm2 0zm1 0zm13 0zm-346 1zm2 0zm1 0zm4 0zm2 0zm3 0zm1 0zm4 0zm1 0zm4 0zm120 0zm19 0zm5 0zm3 0zm1 0zm7 0zm3 0zm1 0zm1 0zm2 0zm1 0zm26 0zm13 0zm7 0zm3 0zm2 0zm2 0zm8 0zm5 0zm7 0zm3 0zm2 0zm5 0zm6 0zm29 0zm11 0zm14 0zm3 0zm2 0zm2 0zm-346 1zm8 0zm1 0zm2 0zm2 0zm1 0zm2 0zm1 0zm1 0zm1 0zm5 0zm8 0zm1 0zm108 0zm5 0zm20 0zm4 0zm1 0zm2 0zm1 0zm1 0zm3 0zm4 0zm12 0zm1 0zm15 0zm29 0zm7 0zm11 0zm11 0zm2 0zm1 0zm3 0zm4 0zm21 0zm4 0zm14 0zm8 0zm1 0zm2 0zm6 0zm2 0zm2 0zm-326 1zm2 0zm1 0zm2 0zm1 0zm2 0zm2 0zm2 0zm2 0zm3 0zm2 0zm121 0zm2 0zm3 0zm1 0zm10 0zm3 0zm1 0zm1 0zm4 0zm1 0zm5 0zm1 0zm1 0zm2 0zm1 0zm6 0zm1 0zm7 0zm27 0zm5 0zm7 0zm1 0zm5 0zm4 0zm13 0zm1 0zm2 0zm3 0zm16 0zm28 0zm4 0zm2 0zm4 0zm2 0zm1 0zm3 0zm2 0zm5 0zm1 0zm9 0zm2 0zm19 0zm-360 1zm1 0zm2 0zm5 0zm5 0zm1 0zm1 0zm3 0zm105 0zm18 0zm9 0zm12 0zm1 0zm3 0zm1 0zm3 0zm1 0zm1 0zm2 0zm1 0zm4 0zm3 0zm1 0zm1 0zm19 0zm20 0zm5 0zm6 0zm6 0zm3 0zm4 0zm1 0zm1 0zm2 0zm2 0zm7 0zm1 0zm4 0zm13 0zm23 0zm9 0zm7 0zm2 0zm3 0zm3 0zm1 0zm8 0zm5 0zm2 0zm-340 1zm3 0zm1 0zm1 0zm1 0zm1 0zm2 0zm1 0zm1 0zm4 0zm1 0zm8 0zm3 0zm4 0zm70 0zm42 0zm6 0zm11 0zm5 0zm1 0zm3 0zm1 0zm1 0zm3 0zm2 0zm3 0zm1 0zm1 0zm2 0zm5 0zm3 0zm34 0zm6 0zm1 0zm6 0zm1 0zm6 0zm1 0zm2 0zm1 0zm7 0zm26 0zm10 0zm29 0zm6 0zm1 0zm1 0zm1 0zm13 0zm2 0zm-338 1zm3 0zm3 0zm1 0zm1 0zm1 0zm1 0zm1 0zm6 0zm120 0zm9 0zm7 0zm2 0zm2 0zm2 0zm1 0zm6 0zm1 0zm5 0zm3 0zm1 0zm1 0zm2 0zm2 0zm4 0zm7 0zm12 0zm2 0zm6 0zm1 0zm4 0zm2 0zm4 0zm2 0zm6 0zm9 0zm3 0zm1 0zm17 0zm5 0zm2 0zm27 0zm1 0zm6 0zm10 0zm5 0zm1 0zm1 0zm18 0zm1 0zm-348 1zm2 0zm1 0zm2 0zm4 0zm2 0zm4 0zm1 0zm1 0zm8 0zm5 0zm108 0zm19 0zm3 0zm3 0zm3 0zm5 0zm3 0zm4 0zm2 0zm1 0zm4 0zm1 0zm1 0zm2 0zm4 0zm27 0zm3 0zm8 0zm1 0zm9 0zm3 0zm11 0zm24 0zm6 0zm64 0zm-354 1zm6 0zm6 0zm1 0zm1 0zm3 0zm1 0zm1 0zm1 0zm3 0zm2 0zm2 0zm2 0zm6 0zm128 0zm2 0zm1 0zm6 0zm2 0zm7 0zm2 0zm3 0zm4 0zm1 0zm4 0zm1 0zm3 0zm13 0zm8 0zm5 0zm5 0zm4 0zm2 0zm5 0zm6 0zm14 0zm9 0zm26 0zm-295 1zm1 0zm6 0zm3 0zm1 0zm2 0zm4 0zm1 0zm3 0zm1 0zm2 0zm5 0zm120 0zm19 0zm1 0zm1 0zm2 0zm2 0zm3 0zm2 0zm1 0zm2 0zm1 0zm1 0zm1 0zm1 0zm1 0zm3 0zm1 0zm2 0zm1 0zm1 0zm3 0zm3 0zm7 0zm17 0zm3 0zm4 0zm8 0zm2 0zm1 0zm31 0zm1 0zm41 0zm9 0zm2 0zm6 0zm3 0zm14 0zm-346 1zm3 0zm1 0zm5 0zm2 0zm1 0zm1 0zm1 0zm2 0zm3 0zm5 0zm5 0zm111 0zm13 0zm7 0zm3 0zm4 0zm2 0zm1 0zm2 0zm1 0zm1 0zm1 0zm1 0zm5 0zm1 0zm1 0zm2 0zm3 0zm2 0zm13 0zm4 0zm1 0zm6 0zm1 0zm31 0zm1 0zm10 0zm4 0zm2 0zm21 0zm1 0zm9 0zm13 0zm23 0zm1 0zm27 0zm-360 1zm4 0zm2 0zm5 0zm3 0zm1 0zm3 0zm9 0zm116 0zm7 0zm7 0zm4 0zm1 0zm3 0zm4 0zm1 0zm1 0zm1 0zm4 0zm1 0zm1 0zm1 0zm1 0zm1 0zm2 0zm1 0zm2 0zm1 0zm1 0zm1 0zm5 0zm12 0zm4 0zm2 0zm3 0zm6 0zm17 0zm2 0zm5 0zm1 0zm3 0zm4 0zm9 0zm54 0zm18 0zm-333 1zm8 0zm2 0zm1 0zm1 0zm2 0zm1 0zm2 0zm1 0zm1 0zm1 0zm6 0zm1 0zm123 0zm5 0zm1 0zm2 0zm3 0zm1 0zm1 0zm1 0zm4 0zm1 0zm1 0zm2 0zm1 0zm4 0zm1 0zm1 0zm1 0zm1 0zm2 0zm1 0zm1 0zm1 0zm4 0zm6 0zm1 0zm1 0zm5 0zm4 0zm10 0zm1 0zm2 0zm2 0zm4 0zm1 0zm8 0zm29 0zm28 0zm59 0zm-352 1zm7 0zm1 0zm4 0zm6 0zm2 0zm1 0zm4 0zm97 0zm26 0zm6 0zm2 0zm1 0zm4 0zm1 0zm4 0zm2 0zm1 0zm1 0zm2 0zm1 0zm1 0zm1 0zm2 0zm1 0zm2 0zm2 0zm2 0zm2 0zm4 0zm9 0zm2 0zm2 0zm3 0zm8 0zm5 0zm7 0zm1 0zm7 0zm10 0zm6 0zm26 0zm10 0zm4 0zm36 0zm6 0zm4 0zm4 0zm-333 1zm1 0zm1 0zm1 0zm1 0zm3 0zm2 0zm2 0zm2 0zm2 0zm5 0zm3 0zm32 0zm24 0zm60 0zm9 0zm3 0zm5 0zm2 0zm2 0zm1 0zm5 0zm1 0zm1 0zm2 0zm2 0zm1 0zm3 0zm1 0zm1 0zm1 0zm1 0zm1 0zm1 0zm1 0zm1 0zm1 0zm5 0zm5 0zm6 0zm1 0zm5 0zm3 0zm9 0zm67 0zm35 0zm-325 1zm3 0zm3 0zm1 0zm1 0zm2 0zm2 0zm1 0zm1 0zm1 0zm1 0zm3 0zm4 0zm1 0zm70 0zm16 0zm9 0zm33 0zm4 0zm1 0zm2 0zm2 0zm2 0zm1 0zm1 0zm1 0zm1 0zm1 0zm1 0zm1 0zm1 0zm1 0zm1 0zm1 0zm1 0zm1 0zm1 0zm1 0zm1 0zm1 0zm1 0zm2 0zm1 0zm1 0zm2 0zm1 0zm1 0zm3 0zm1 0zm6 0zm6 0zm10 0zm3 0zm3 0zm4 0zm3 0zm8 0zm71 0zm14 0zm-327 1zm3 0zm3 0zm3 0zm1 0zm3 0zm1 0zm2 0zm2 0zm6 0zm2 0zm111 0zm1 0zm15 0zm3 0zm1 0zm5 0zm1 0zm1 0zm2 0zm1 0zm2 0zm2 0zm1 0zm2 0zm1 0zm1 0zm2 0zm1 0zm1 0zm1 0zm1 0zm2 0zm1 0zm3 0zm1 0zm1 0zm1 0zm1 0zm14 0zm13 0zm1 0zm6 0zm38 0zm53 0zm8 0zm1 0zm4 0zm15 0zm22 0zm-363 1zm1 0zm6 0zm5 0zm1 0zm7 0zm1 0zm1 0zm98 0zm2 0zm26 0zm3 0zm8 0zm1 0zm1 0zm1 0zm3 0zm1 0zm1 0zm1 0zm2 0zm1 0zm1 0zm3 0zm1 0zm3 0zm1 0zm4 0zm1 0zm2 0zm1 0zm3 0zm3 0zm4 0zm4 0zm4 0zm1 0zm5 0zm2 0zm10 0zm2 0zm5 0zm1 0zm91 0zm3 0zm-323 1zm1 0zm1 0zm2 0zm1 0zm1 0zm2 0zm1 0zm3 0zm2 0zm2 0zm1 0zm1 0zm2 0zm4 0zm40 0zm78 0zm12 0zm2 0zm1 0zm8 0zm2 0zm1 0zm1 0zm1 0zm1 0zm2 0zm1 0zm1 0zm2 0zm1 0zm1 0zm1 0zm3 0zm3 0zm1 0zm1 0zm23 0zm100 0zm5 0zm-323 1zm2 0zm11 0zm2 0zm1 0zm2 0zm2 0zm3 0zm1 0zm2 0zm2 0zm127 0zm1 0zm2 0zm3 0zm2 0zm2 0zm1 0zm2 0zm1 0zm3 0zm1 0zm2 0zm1 0zm1 0zm2 0zm1 0zm3 0zm6 0zm1 0zm1 0zm1 0zm2 0zm2 0zm1 0zm2 0zm2 0zm1 0zm1 0zm1 0zm3 0zm6 0zm1 0zm3 0zm13 0zm4 0zm137 0zm-367 1zm8 0zm1 0zm5 0zm2 0zm3 0zm1 0zm1 0zm1 0zm1 0zm3 0zm4 0zm87 0zm23 0zm6 0zm4 0zm2 0zm1 0zm1 0zm2 0zm1 0zm1 0zm1 0zm4 0zm1 0zm2 0zm1 0zm1 0zm1 0zm1 0zm1 0zm1 0zm1 0zm1 0zm1 0zm1 0zm1 0zm2 0zm1 0zm2 0zm1 0zm2 0zm1 0zm3 0zm1 0zm1 0zm2 0zm2 0zm4 0zm4 0zm4 0zm23 0zm22 0zm36 0zm25 0zm9 0zm-328 1zm6 0zm4 0zm1 0zm2 0zm2 0zm1 0zm1 0zm1 0zm2 0zm2 0zm2 0zm2 0zm6 0zm3 0zm116 0zm4 0zm2 0zm1 0zm7 0zm1 0zm2 0zm2 0zm1 0zm1 0zm2 0zm1 0zm1 0zm2 0zm2 0zm1 0zm2 0zm1 0zm1 0zm1 0zm1 0zm2 0zm1 0zm2 0zm4 0zm1 0zm2 0zm3 0zm2 0zm12 0zm1 0zm118 0zm-325 1zm5 0zm2 0zm1 0zm1 0zm1 0zm1 0zm1 0zm2 0zm2 0zm1 0zm1 0zm1 0zm4 0zm78 0zm47 0zm2 0zm1 0zm4 0zm2 0zm1 0zm1 0zm1 0zm2 0zm1 0zm1 0zm2 0zm1 0zm1 0zm8 0zm1 0zm1 0zm7 0zm1 0zm1 0zm2 0zm4 0zm4 0zm3 0zm6 0zm30 0zm-237 1zm2 0zm3 0zm2 0zm1 0zm2 0zm2 0zm5 0zm2 0zm2 0zm3 0zm84 0zm15 0zm13 0zm2 0zm1 0zm10 0zm1 0zm2 0zm2 0zm2 0zm1 0zm1 0zm2 0zm2 0zm2 0zm1 0zm3 0zm1 0zm1 0zm2 0zm2 0zm1 0zm2 0zm1 0zm3 0zm1 0zm1 0zm2 0zm1 0zm2 0zm2 0zm1 0zm1 0zm3 0zm2 0zm15 0zm2 0zm32 0zm45 0zm35 0zm-327 1zm3 0zm1 0zm2 0zm1 0zm1 0zm3 0zm2 0zm4 0zm1 0zm1 0zm1 0zm2 0zm2 0zm4 0zm95 0zm1 0zm11 0zm10 0zm1 0zm1 0zm1 0zm2 0zm1 0zm6 0zm3 0zm2 0zm1 0zm1 0zm1 0zm1 0zm1 0zm2 0zm1 0zm1 0zm1 0zm1 0zm2 0zm1 0zm2 0zm1 0zm3 0zm1 0zm2 0zm1 0zm4 0zm7 0zm2 0zm4 0zm5 0zm30 0zm33 0zm-287 1zm15 0zm3 0zm2 0zm3 0zm2 0zm3 0zm1 0zm2 0zm4 0zm37 0zm22 0zm21 0zm13 0zm27 0zm8 0zm1 0zm3 0zm4 0zm2 0zm1 0zm1 0zm4 0zm2 0zm2 0zm1 0zm1 0zm1 0zm1 0zm1 0zm1 0zm2 0zm1 0zm1 0zm1 0zm1 0zm2 0zm2 0zm1 0zm2 0zm1 0zm1 0zm1 0zm1 0zm1 0zm2 0zm3 0zm2 0zm5 0zm25 0zm-236 1zm5 0zm3 0zm1 0zm1 0zm3 0zm3 0zm1 0zm2 0zm2 0zm2 0zm2 0zm2 0zm3 0zm1 0zm1 0zm103 0zm12 0zm4 0zm4 0zm3 0zm3 0zm1 0zm2 0zm2 0zm1 0zm5 0zm2 0zm2 0zm1 0zm1 0zm1 0zm1 0zm1 0zm1 0zm1 0zm1 0zm1 0zm1 0zm1 0zm1 0zm1 0zm1 0zm1 0zm1 0zm2 0zm3 0zm1 0zm2 0zm4 0zm2 0zm143 0zm10 0zm-352 1zm1 0zm6 0zm4 0zm2 0zm1 0zm4 0zm2 0zm1 0zm1 0zm4 0zm4 0zm8 0zm25 0zm55 0zm8 0zm2 0zm6 0zm2 0zm4 0zm4 0zm3 0zm1 0zm3 0zm3 0zm2 0zm1 0zm4 0zm2 0zm1 0zm2 0zm3 0zm1 0zm1 0zm1 0zm4 0zm1 0zm1 0zm1 0zm1 0zm1 0zm3 0zm1 0zm1 0zm1 0zm2 0zm2 0zm2 0zm1 0zm1 0zm5 0zm1 0zm5 0zm-215 1zm1 0zm7 0zm2 0zm1 0zm6 0zm3 0zm6 0zm3 0zm1 0zm1 0zm1 0zm1 0zm7 0zm88 0zm22 0zm6 0zm2 0zm4 0zm4 0zm1 0zm1 0zm1 0zm1 0zm1 0zm1 0zm1 0zm1 0zm1 0zm1 0zm1 0zm1 0zm1 0zm1 0zm1 0zm2 0zm1 0zm1 0zm1 0zm1 0zm1 0zm1 0zm2 0zm1 0zm1 0zm1 0zm2 0zm3 0zm3 0zm1 0zm1 0zm12 0zm-212 1zm9 0zm1 0zm1 0zm2 0zm1 0zm3 0zm1 0zm4 0zm5 0zm2 0zm109 0zm3 0zm2 0zm3 0zm3 0zm7 0zm4 0zm3 0zm6 0zm2 0zm1 0zm1 0zm2 0zm1 0zm1 0zm1 0zm1 0zm1 0zm1 0zm1 0zm2 0zm1 0zm1 0zm2 0zm5 0zm2 0zm1 0zm1 0zm41 0zm21 0zm-257 1zm2 0zm1 0zm1 0zm2 0zm1 0zm1 0zm1 0zm1 0zm4 0zm1 0zm1 0zm1 0zm2 0zm2 0zm5 0zm3 0zm103 0zm1 0zm2 0zm8 0zm1 0zm2 0zm1 0zm4 0zm1 0zm2 0zm6 0zm4 0zm3 0zm1 0zm2 0zm1 0zm1 0zm3 0zm2 0zm1 0zm1 0zm2 0zm1 0zm1 0zm1 0zm1 0zm1 0zm2 0zm1 0zm1 0zm2 0zm2 0zm4 0zm95 0zm-312 1zm27 0zm3 0zm1 0zm1 0zm1 0zm1 0zm4 0zm2 0zm3 0zm2 0zm92 0zm6 0zm9 0zm2 0zm4 0zm3 0zm5 0zm2 0zm3 0zm1 0zm3 0zm2 0zm2 0zm5 0zm2 0zm1 0zm3 0zm1 0zm1 0zm1 0zm1 0zm1 0zm1 0zm2 0zm1 0zm2 0zm1 0zm3 0zm2 0zm2 0zm1 0zm3 0zm5 0zm8 0zm124 0zm-330 1zm2 0zm1 0zm2 0zm4 0zm1 0zm1 0zm4 0zm2 0zm1 0zm2 0zm1 0zm3 0zm29 0zm64 0zm10 0zm5 0zm7 0zm1 0zm1 0zm1 0zm3 0zm3 0zm3 0zm4 0zm1 0zm4 0zm1 0zm2 0zm1 0zm1 0zm2 0zm1 0zm1 0zm1 0zm1 0zm1 0zm2 0zm1 0zm3 0zm1 0zm3 0zm1 0zm1 0zm1 0zm1 0zm2 0zm3 0zm1 0zm2 0zm6 0zm45 0zm31 0zm29 0zm-309 1zm6 0zm3 0zm1 0zm1 0zm6 0zm2 0zm3 0zm1 0zm1 0zm11 0zm20 0zm28 0zm26 0zm20 0zm6 0zm3 0zm1 0zm3 0zm1 0zm1 0zm2 0zm1 0zm2 0zm8 0zm4 0zm1 0zm2 0zm4 0zm2 0zm1 0zm1 0zm1 0zm2 0zm1 0zm5 0zm1 0zm1 0zm1 0zm4 0zm4 0zm3 0zm1 0zm2 0zm4 0zm1 0zm1 0zm5 0zm-207 1zm6 0zm1 0zm2 0zm1 0zm8 0zm1 0zm1 0zm2 0zm2 0zm7 0zm60 0zm22 0zm4 0zm3 0zm1 0zm3 0zm2 0zm2 0zm2 0zm1 0zm1 0zm5 0zm1 0zm8 0zm16 0zm2 0zm3 0zm1 0zm1 0zm1 0zm1 0zm1 0zm2 0zm2 0zm2 0zm1 0zm3 0zm2 0zm8 0zm3 0zm6 0zm2 0zm-214 1zm12 0zm4 0zm4 0zm1 0zm1 0zm1 0zm1 0zm1 0zm3 0zm1 0zm2 0zm1 0zm2 0zm7 0zm5 0zm2 0zm17 0zm2 0zm40 0zm12 0zm8 0zm3 0zm4 0zm2 0zm1 0zm2 0zm1 0zm2 0zm3 0zm3 0zm6 0zm8 0zm1 0zm1 0zm1 0zm1 0zm4 0zm3 0zm4 0zm2 0zm1 0zm2 0zm3 0zm3 0zm1 0zm1 0zm1 0zm1 0zm2 0zm2 0zm1 0zm4 0zm2 0zm2 0zm2 0zm3 0zm3 0zm2 0zm2 0zm1 0zm-214 1zm14 0zm1 0zm1 0zm3 0zm1 0zm1 0zm2 0zm3 0zm1 0zm2 0zm75 0zm2 0zm4 0zm2 0zm19 0zm1 0zm1 0zm7 0zm2 0zm9 0zm1 0zm1 0zm4 0zm1 0zm8 0zm1 0zm2 0zm1 0zm2 0zm3 0zm1 0zm1 0zm1 0zm2 0zm1 0zm3 0zm1 0zm1 0zm1 0zm1 0zm5 0zm1 0zm1 0zm3 0zm1 0zm2 0zm8 0zm33 0zm87 0zm-332 1zm13 0zm1 0zm1 0zm1 0zm1 0zm2 0zm1 0zm2 0zm5 0zm2 0zm1 0zm1 0zm2 0zm6 0zm2 0zm36 0zm17 0zm21 0zm2 0zm2 0zm8 0zm2 0zm2 0zm2 0zm1 0zm1 0zm3 0zm2 0zm7 0zm3 0zm1 0zm1 0zm1 0zm3 0zm1 0zm8 0zm2 0zm4 0zm1 0zm2 0zm2 0zm4 0zm2 0zm1 0zm1 0zm1 0zm1 0zm1 0zm2 0zm3 0zm1 0zm2 0zm1 0zm1 0zm2 0zm4 0zm3 0zm1 0zm10 0zm2 0zm-209 1zm6 0zm1 0zm5 0zm1 0zm1 0zm6 0zm1 0zm1 0zm1 0zm1 0zm1 0zm7 0zm4 0zm1 0zm34 0zm6 0zm11 0zm16 0zm1 0zm5 0zm10 0zm2 0zm3 0zm1 0zm11 0zm1 0zm4 0zm1 0zm2 0zm11 0zm1 0zm6 0zm4 0zm2 0zm2 0zm2 0zm4 0zm1 0zm1 0zm1 0zm6 0zm3 0zm1 0zm4 0zm9 0zm43 0zm-256 1zm8 0zm1 0zm4 0zm1 0zm2 0zm2 0zm1 0zm2 0zm1 0zm1 0zm1 0zm3 0zm2 0zm1 0zm8 0zm2 0zm3 0zm2 0zm53 0zm6 0zm1 0zm4 0zm4 0zm4 0zm7 0zm2 0zm4 0zm4 0zm1 0zm3 0zm1 0zm3 0zm2 0zm3 0zm3 0zm1 0zm2 0zm4 0zm2 0zm10 0zm2 0zm2 0zm12 0zm4 0zm1 0zm1 0zm1 0zm1 0zm2 0zm1 0zm4 0zm5 0zm3 0zm1 0zm-199 1zm7 0zm1 0zm1 0zm1 0zm1 0zm2 0zm2 0zm1 0zm1 0zm4 0zm1 0zm4 0zm1 0zm1 0zm1 0zm4 0zm46 0zm9 0zm4 0zm3 0zm5 0zm9 0zm1 0zm1 0zm3 0zm1 0zm2 0zm3 0zm4 0zm5 0zm1 0zm7 0zm1 0zm3 0zm6 0zm8 0zm6 0zm3 0zm4 0zm3 0zm3 0zm2 0zm1 0zm2 0zm2 0zm1 0zm1 0zm1 0zm1 0zm3 0zm4 0zm1 0zm5 0zm18 0zm38 0zm-264 1zm4 0zm5 0zm1 0zm3 0zm4 0zm1 0zm1 0zm1 0zm1 0zm2 0zm1 0zm2 0zm1 0zm1 0zm1 0zm2 0zm1 0zm1 0zm50 0zm10 0zm9 0zm12 0zm5 0zm1 0zm1 0zm3 0zm4 0zm1 0zm3 0zm1 0zm3 0zm9 0zm5 0zm26 0zm3 0zm1 0zm5 0zm1 0zm3 0zm1 0zm1 0zm2 0zm2 0zm1 0zm1 0zm1 0zm4 0zm10 0zm-207 1zm2 0zm5 0zm2 0zm1 0zm1 0zm3 0zm3 0zm1 0zm2 0zm1 0zm3 0zm2 0zm1 0zm1 0zm2 0zm2 0zm39 0zm5 0zm10 0zm15 0zm4 0zm4 0zm1 0zm2 0zm1 0zm1 0zm3 0zm1 0zm1 0zm2 0zm2 0zm6 0zm1 0zm1 0zm32 0zm5 0zm3 0zm2 0zm2 0zm6 0zm2 0zm1 0zm1 0zm1 0zm2 0zm1 0zm1 0zm5 0zm21 0zm-225 1zm9 0zm2 0zm3 0zm4 0zm3 0zm3 0zm3 0zm1 0zm1 0zm1 0zm1 0zm1 0zm1 0zm1 0zm7 0zm4 0zm1 0zm1 0zm1 0zm41 0zm10 0zm1 0zm2 0zm5 0zm7 0zm1 0zm1 0zm3 0zm1 0zm2 0zm4 0zm4 0zm3 0zm7 0zm34 0zm2 0zm9 0zm10 0zm1 0zm2 0zm2 0zm1 0zm2 0zm2 0zm4 0zm4 0zm2 0zm5 0zm-214 1zm2 0zm2 0zm1 0zm1 0zm2 0zm1 0zm1 0zm1 0zm1 0zm1 0zm1 0zm5 0zm1 0zm1 0zm2 0zm2 0zm1 0zm1 0zm3 0zm1 0zm2 0zm3 0zm1 0zm1 0zm35 0zm2 0zm16 0zm4 0zm7 0zm8 0zm1 0zm4 0zm3 0zm1 0zm2 0zm3 0zm8 0zm4 0zm6 0zm6 0zm11 0zm6 0zm15 0zm3 0zm1 0zm3 0zm3 0zm1 0zm2 0zm6 0zm17 0zm-211 1zm3 0zm2 0zm1 0zm2 0zm2 0zm1 0zm1 0zm2 0zm1 0zm7 0zm1 0zm1 0zm2 0zm3 0zm1 0zm8 0zm27 0zm15 0zm1 0zm5 0zm2 0zm3 0zm7 0zm5 0zm2 0zm12 0zm2 0zm51 0zm4 0zm1 0zm2 0zm5 0zm1 0zm2 0zm7 0zm5 0zm-214 1zm11 0zm4 0zm5 0zm1 0zm2 0zm1 0zm2 0zm1 0zm1 0zm1 0zm1 0zm1 0zm1 0zm4 0zm2 0zm1 0zm1 0zm1 0zm1 0zm1 0zm4 0zm15 0zm30 0zm6 0zm17 0zm2 0zm3 0zm2 0zm1 0zm1 0zm4 0zm1 0zm5 0zm6 0zm3 0zm2 0zm10 0zm9 0zm14 0zm8 0zm2 0zm1 0zm5 0zm5 0zm3 0zm4 0zm3 0zm2 0zm-197 1zm2 0zm3 0zm3 0zm1 0zm1 0zm2 0zm1 0zm2 0zm1 0zm2 0zm3 0zm1 0zm2 0zm2 0zm3 0zm1 0zm9 0zm10 0zm25 0zm6 0zm2 0zm4 0zm1 0zm2 0zm3 0zm1 0zm5 0zm3 0zm1 0zm1 0zm1 0zm1 0zm3 0zm2 0zm2 0zm6 0zm1 0zm2 0zm7 0zm13 0zm16 0zm12 0zm5 0zm4 0zm1 0zm3 0zm1 0zm23 0zm-213 1zm10 0zm3 0zm1 0zm1 0zm1 0zm1 0zm2 0zm1 0zm1 0zm3 0zm1 0zm1 0zm2 0zm1 0zm1 0zm4 0zm1 0zm3 0zm1 0zm2 0zm5 0zm16 0zm25 0zm2 0zm4 0zm2 0zm9 0zm4 0zm8 0zm2 0zm1 0zm4 0zm1 0zm10 0zm5 0zm1 0zm5 0zm45 0zm7 0zm1 0zm7 0zm-213 1zm12 0zm9 0zm1 0zm2 0zm1 0zm2 0zm2 0zm1 0zm2 0zm1 0zm1 0zm2 0zm2 0zm1 0zm1 0zm1 0zm1 0zm1 0zm2 0zm3 0zm1 0zm1 0zm3 0zm30 0zm2 0zm2 0zm5 0zm3 0zm4 0zm5 0zm2 0zm2 0zm5 0zm3 0zm6 0zm6 0zm1 0zm1 0zm1 0zm4 0zm2 0zm8 0zm41 0zm3 0zm9 0zm5 0zm1 0zm1 0zm4 0zm5 0zm-209 1zm5 0zm6 0zm1 0zm1 0zm1 0zm4 0zm1 0zm1 0zm1 0zm1 0zm2 0zm1 0zm1 0zm2 0zm1 0zm4 0zm1 0zm1 0zm2 0zm5 0zm4 0zm1 0zm2 0zm1 0zm13 0zm8 0zm1 0zm4 0zm4 0zm1 0zm1 0zm2 0zm1 0zm4 0zm2 0zm1 0zm2 0zm1 0zm4 0zm1 0zm6 0zm2 0zm2 0zm7 0zm2 0zm6 0zm6 0zm5 0zm3 0zm16 0zm19 0zm4 0zm8 0zm1 0zm2 0zm10 0zm-196 1zm9 0zm1 0zm3 0zm4 0zm1 0zm3 0zm1 0zm2 0zm1 0zm1 0zm1 0zm1 0zm1 0zm2 0zm3 0zm1 0zm1 0zm15 0zm9 0zm3 0zm6 0zm2 0zm11 0zm1 0zm7 0zm7 0zm2 0zm6 0zm5 0zm1 0zm19 0zm5 0zm9 0zm28 0zm4 0zm7 0zm2 0zm6 0zm6 0zm3 0zm2 0zm7 0zm7 0zm10 0zm-231 1zm7 0zm2 0zm4 0zm2 0zm1 0zm1 0zm2 0zm1 0zm2 0zm1 0zm1 0zm1 0zm1 0zm1 0zm1 0zm2 0zm1 0zm1 0zm1 0zm2 0zm1 0zm1 0zm1 0zm1 0zm4 0zm29 0zm2 0zm1 0zm1 0zm2 0zm3 0zm3 0zm5 0zm6 0zm12 0zm1 0zm3 0zm1 0zm2 0zm4 0zm2 0zm3 0zm8 0zm10 0zm30 0zm11 0zm3 0zm4 0zm-173 1zm2 0zm1 0zm7 0zm1 0zm2 0zm2 0zm2 0zm1 0zm2 0zm1 0zm1 0zm2 0zm1 0zm4 0zm1 0zm5 0zm3 0zm3 0zm12 0zm1 0zm14 0zm1 0zm4 0zm3 0zm1 0zm4 0zm6 0zm2 0zm3 0zm1 0zm4 0zm3 0zm15 0zm48 0zm13 0zm17 0zm-212 1zm4 0zm5 0zm4 0zm1 0zm2 0zm1 0zm1 0zm2 0zm1 0zm1 0zm1 0zm1 0zm1 0zm1 0zm1 0zm1 0zm1 0zm1 0zm1 0zm2 0zm1 0zm1 0zm1 0zm1 0zm1 0zm1 0zm1 0zm1 0zm1 0zm2 0zm4 0zm1 0zm1 0zm5 0zm3 0zm5 0zm8 0zm7 0zm3 0zm2 0zm9 0zm2 0zm4 0zm1 0zm3 0zm5 0zm2 0zm7 0zm66 0zm20 0zm12 0zm4 0zm-214 1zm1 0zm3 0zm5 0zm2 0zm2 0zm2 0zm1 0zm1 0zm1 0zm1 0zm1 0zm1 0zm4 0zm2 0zm1 0zm1 0zm1 0zm1 0zm1 0zm2 0zm1 0zm5 0zm1 0zm1 0zm1 0zm1 0zm2 0zm28 0zm2 0zm1 0zm6 0zm6 0zm2 0zm10 0zm4 0zm9 0zm-123 1zm4 0zm3 0zm3 0zm2 0zm1 0zm3 0zm3 0zm4 0zm1 0zm1 0zm1 0zm1 0zm2 0zm1 0zm3 0zm1 0zm3 0zm3 0zm1 0zm1 0zm1 0zm2 0zm1 0zm3 0zm1 0zm2 0zm24 0zm2 0zm1 0zm4 0zm8 0zm3 0zm1 0zm1 0zm1 0zm3 0zm1 0zm1 0zm8 0zm2 0zm1 0zm1 0zm26 0zm119 0zm-256 1zm3 0zm1 0zm3 0zm3 0zm5 0zm2 0zm3 0zm1 0zm2 0zm3 0zm1 0zm1 0zm2 0zm1 0zm1 0zm1 0zm1 0zm1 0zm1 0zm1 0zm2 0zm2 0zm1 0zm1 0zm4 0zm1 0zm1 0zm1 0zm3 0zm5 0zm1 0zm4 0zm9 0zm1 0zm7 0zm5 0zm1 0zm3 0zm1 0zm2 0zm6 0zm8 0zm1 0zm1 0zm5 0zm73 0zm29 0zm-216 1zm4 0zm3 0zm10 0zm2 0zm1 0zm1 0zm1 0zm2 0zm2 0zm1 0zm3 0zm1 0zm1 0zm2 0zm2 0zm1 0zm1 0zm1 0zm1 0zm1 0zm1 0zm2 0zm3 0zm1 0zm1 0zm1 0zm1 0zm1 0zm1 0zm1 0zm4 0zm16 0zm3 0zm1 0zm1 0zm1 0zm6 0zm2 0zm1 0zm2 0zm1 0zm2 0zm1 0zm3 0zm3 0zm10 0zm98 0zm-210 1zm3 0zm1 0zm6 0zm1 0zm2 0zm1 0zm3 0zm6 0zm1 0zm1 0zm3 0zm1 0zm1 0zm1 0zm1 0zm1 0zm1 0zm2 0zm1 0zm1 0zm1 0zm1 0zm1 0zm1 0zm1 0zm2 0zm1 0zm1 0zm1 0zm1 0zm1 0zm2 0zm2 0zm1 0zm1 0zm5 0zm7 0zm12 0zm2 0zm3 0zm8 0zm2 0zm2 0zm10 0zm40 0zm47 0zm-192 1zm4 0zm1 0zm2 0zm2 0zm1 0zm3 0zm1 0zm2 0zm1 0zm1 0zm1 0zm1 0zm2 0zm1 0zm3 0zm3 0zm1 0zm1 0zm1 0zm1 0zm2 0zm1 0zm2 0zm1 0zm1 0zm2 0zm1 0zm1 0zm1 0zm1 0zm2 0zm5 0zm2 0zm12 0zm4 0zm3 0zm1 0zm7 0zm2 0zm9 0zm3 0zm9 0zm10 0zm11 0zm32 0zm5 0zm26 0zm-191 1zm3 0zm2 0zm2 0zm1 0zm7 0zm1 0zm1 0zm6 0zm2 0zm3 0zm2 0zm1 0zm1 0zm1 0zm1 0zm1 0zm1 0zm1 0zm1 0zm1 0zm1 0zm1 0zm2 0zm1 0zm1 0zm1 0zm3 0zm3 0zm1 0zm1 0zm2 0zm2 0zm1 0zm2 0zm1 0zm1 0zm2 0zm1 0zm6 0zm6 0zm6 0zm2 0zm5 0zm6 0zm14 0zm1 0zm4 0zm5 0zm9 0zm-125 1zm2 0zm1 0zm1 0zm3 0zm3 0zm2 0zm2 0zm1 0zm2 0zm2 0zm2 0zm1 0zm2 0zm1 0zm3 0zm2 0zm1 0zm1 0zm1 0zm1 0zm1 0zm1 0zm1 0zm2 0zm1 0zm2 0zm1 0zm2 0zm1 0zm1 0zm1 0zm1 0zm1 0zm1 0zm2 0zm1 0zm1 0zm4 0zm2 0zm4 0zm1 0zm1 0zm2 0zm4 0zm2 0zm1 0zm2 0zm1 0zm7 0zm6 0zm15 0zm13 0zm5 0zm2 0zm15 0zm15 0zm27 0zm-187 1zm1 0zm4 0zm1 0zm5 0zm1 0zm1 0zm1 0zm1 0zm1 0zm2 0zm1 0zm1 0zm2 0zm1 0zm2 0zm1 0zm1 0zm1 0zm2 0zm2 0zm1 0zm1 0zm1 0zm1 0zm1 0zm1 0zm2 0zm1 0zm1 0zm3 0zm2 0zm5 0zm1 0zm1 0zm1 0zm1 0zm1 0zm1 0zm1 0zm3 0zm1 0zm1 0zm1 0zm10 0zm1 0zm5 0zm6 0zm7 0zm6 0zm1 0zm-103 1zm1 0zm2 0zm1 0zm4 0zm4 0zm1 0zm2 0zm2 0zm3 0zm3 0zm2 0zm2 0zm1 0zm1 0zm2 0zm1 0zm1 0zm1 0zm1 0zm1 0zm1 0zm1 0zm1 0zm1 0zm1 0zm2 0zm1 0zm1 0zm1 0zm3 0zm1 0zm3 0zm2 0zm2 0zm2 0zm1 0zm1 0zm4 0zm4 0zm3 0zm2 0zm7 0zm7 0zm3 0zm8 0zm83 0zm-180 1zm3 0zm1 0zm1 0zm1 0zm1 0zm4 0zm1 0zm2 0zm3 0zm2 0zm1 0zm1 0zm1 0zm2 0zm1 0zm1 0zm1 0zm2 0zm1 0zm1 0zm1 0zm1 0zm1 0zm1 0zm1 0zm1 0zm1 0zm2 0zm1 0zm2 0zm1 0zm1 0zm3 0zm1 0zm3 0zm7 0zm2 0zm2 0zm1 0zm4 0zm22 0zm1 0zm16 0zm-107 1zm5 0zm1 0zm3 0zm3 0zm3 0zm1 0zm1 0zm1 0zm2 0zm4 0zm3 0zm1 0zm2 0zm1 0zm1 0zm1 0zm1 0zm4 0zm2 0zm1 0zm1 0zm1 0zm2 0zm2 0zm3 0zm1 0zm1 0zm3 0zm5 0zm2 0zm1 0zm3 0zm3 0zm3 0zm8 0zm7 0zm3 0zm48 0zm4 0zm-144 1zm2 0zm1 0zm1 0zm1 0zm3 0zm4 0zm2 0zm1 0zm1 0zm1 0zm1 0zm2 0zm1 0zm4 0zm1 0zm1 0zm1 0zm1 0zm1 0zm1 0zm1 0zm1 0zm1 0zm1 0zm1 0zm1 0zm1 0zm1 0zm1 0zm1 0zm2 0zm1 0zm2 0zm1 0zm1 0zm2 0zm1 0zm1 0zm2 0zm13 0zm5 0zm1 0zm3 0zm15 0zm-85 1zm1 0zm1 0zm3 0zm1 0zm1 0zm2 0zm1 0zm6 0zm1 0zm4 0zm2 0zm1 0zm2 0zm1 0zm1 0zm1 0zm2 0zm1 0zm1 0zm2 0zm1 0zm1 0zm1 0zm1 0zm1 0zm1 0zm2 0zm3 0zm1 0zm1 0zm3 0zm3 0zm7 0zm32 0zm50 0zm-150 1zm2 0zm1 0zm1 0zm2 0zm1 0zm3 0zm1 0zm2 0zm1 0zm2 0zm2 0zm3 0zm2 0zm1 0zm1 0zm1 0zm1 0zm1 0zm2 0zm1 0zm1 0zm1 0zm1 0zm1 0zm1 0zm1 0zm2 0zm1 0zm1 0zm1 0zm2 0zm2 0zm1 0zm1 0zm1 0zm1 0zm1 0zm5 0zm3 0zm1 0zm1 0zm2 0zm2 0zm17 0zm-80 1zm2 0zm2 0zm2 0zm1 0zm1 0zm1 0zm2 0zm1 0zm4 0zm2 0zm1 0zm3 0zm2 0zm1 0zm2 0zm1 0zm2 0zm3 0zm1 0zm1 0zm2 0zm2 0zm1 0zm2 0zm1 0zm3 0zm2 0zm5 0zm1 0zm1 0zm2 0zm1 0zm1 0zm5 0zm-65 1zm1 0zm2 0zm1 0zm1 0zm1 0zm1 0zm3 0zm1 0zm1 0zm1 0zm1 0zm1 0zm1 0zm1 0zm1 0zm2 0zm2 0zm1 0zm1 0zm2 0zm2 0zm1 0zm1 0zm1 0zm1 0zm1 0zm2 0zm2 0zm1 0zm2 0zm1 0zm2 0zm1 0zm1 0zm1 0zm2 0zm1 0zm1 0zm2 0zm1 0zm3 0zm1 0zm3 0zm5 0zm14 0zm15 0zm-94 1zm1 0zm2 0zm1 0zm1 0zm1 0zm1 0zm1 0zm2 0zm1 0zm1 0zm1 0zm1 0zm2 0zm1 0zm1 0zm1 0zm1 0zm1 0zm2 0zm1 0zm3 0zm2 0zm2 0zm1 0zm1 0zm1 0zm3 0zm2 0zm1 0zm2 0zm3 0zm1 0zm3 0zm1 0zm1 0zm1 0zm1 0zm14 0zm34 0zm-102 1zm1 0zm1 0zm1 0zm1 0zm1 0zm1 0zm1 0zm2 0zm1 0zm1 0zm1 0zm2 0zm3 0zm2 0zm1 0zm1 0zm1 0zm1 0zm1 0zm4 0zm1 0zm1 0zm1 0zm1 0zm3 0zm1 0zm2 0zm1 0zm1 0zm1 0zm1 0zm1 0zm1 0zm1 0zm1 0zm1 0zm1 0zm1 0zm2 0zm1 0zm1 0zm2 0zm2 0zm2 0zm2 0zm26 0zm26 0zm-110 1zm4 0zm1 0zm1 0zm1 0zm2 0zm2 0zm1 0zm1 0zm1 0zm1 0zm1 0zm1 0zm1 0zm1 0zm2 0zm3 0zm1 0zm2 0zm2 0zm1 0zm1 0zm1 0zm1 0zm2 0zm1 0zm1 0zm1 0zm1 0zm1 0zm1 0zm2 0zm2 0zm2 0zm3 0zm1 0zm4 0zm18 0zm18 0zm-93 1zm1 0zm3 0zm2 0zm1 0zm1 0zm1 0zm1 0zm1 0zm1 0zm2 0zm1 0zm2 0zm2 0zm1 0zm1 0zm1 0zm2 0zm1 0zm4 0zm1 0zm1 0zm3 0zm1 0zm1 0zm2 0zm1 0zm1 0zm1 0zm1 0zm1 0zm1 0zm1 0zm2 0zm2 0zm1 0zm3 0zm110 0zm-162 1zm2 0zm1 0zm1 0zm1 0zm1 0zm1 0zm1 0zm1 0zm1 0zm1 0zm1 0zm1 0zm2 0zm2 0zm1 0zm2 0zm1 0zm1 0zm1 0zm1 0zm1 0zm1 0zm3 0zm1 0zm4 0zm1 0zm2 0zm1 0zm1 0zm1 0zm2 0zm3 0zm1 0zm5 0zm33 0zm-86 1zm3 0zm1 0zm1 0zm1 0zm1 0zm1 0zm1 0zm1 0zm1 0zm1 0zm1 0zm1 0zm1 0zm2 0zm1 0zm6 0zm1 0zm1 0zm1 0zm4 0zm1 0zm2 0zm1 0zm1 0zm1 0zm1 0zm1 0zm1 0zm1 0zm2 0zm2 0zm2 0zm3 0zm1 0zm1 0zm2 0zm3 0zm6 0zm57 0zm-118 1zm1 0zm1 0zm1 0zm1 0zm1 0zm1 0zm1 0zm1 0zm1 0zm1 0zm1 0zm2 0zm1 0zm1 0zm1 0zm1 0zm1 0zm1 0zm1 0zm1 0zm1 0zm1 0zm1 0zm3 0zm2 0zm1 0zm1 0zm1 0zm1 0zm2 0zm1 0zm1 0zm1 0zm1 0zm1 0zm1 0zm1 0zm1 0zm3 0zm3 0zm2 0zm5 0zm2 0zm9 0zm-67 1zm2 0zm1 0zm1 0zm1 0zm1 0zm1 0zm1 0zm1 0zm2 0zm1 0zm1 0zm1 0zm1 0zm1 0zm1 0zm1 0zm1 0zm1 0zm1 0zm3 0zm1 0zm1 0zm2 0zm1 0zm1 0zm2 0zm2 0zm2 0zm1 0zm2 0zm2 0zm3 0zm2 0zm1 0zm2 0zm1 0zm4 0zm2 0zm5 0zm-62 1zm1 0zm2 0zm1 0zm1 0zm1 0zm2 0zm1 0zm1 0zm1 0zm1 0zm4 0zm4 0zm4 0zm1 0zm3 0zm2 0zm3 0zm1 0zm1 0zm1 0zm1 0zm2 0zm1 0zm2 0zm1 0zm1 0zm2 0zm1 0zm2 0zm1 0zm9 0zm1 0zm52 0zm3 0zm-116 1zm1 0zm1 0zm1 0zm2 0zm1 0zm1 0zm1 0zm1 0zm1 0zm1 0zm1 0zm1 0zm2 0zm2 0zm1 0zm1 0zm2 0zm1 0zm2 0zm1 0zm1 0zm3 0zm1 0zm1 0zm1 0zm1 0zm1 0zm1 0zm2 0zm2 0zm1 0zm1 0zm4 0zm3 0zm9 0zm1 0zm-58 1zm1 0zm4 0zm1 0zm1 0zm1 0zm1 0zm1 0zm1 0zm1 0zm1 0zm1 0zm2 0zm1 0zm2 0zm1 0zm1 0zm1 0zm1 0zm1 0zm1 0zm2 0zm1 0zm1 0zm3 0zm1 0zm2 0zm1 0zm2 0zm2 0zm1 0zm4 0zm1 0zm4 0zm-49 1zm1 0zm2 0zm1 0zm1 0zm1 0zm1 0zm1 0zm1 0zm2 0zm1 0zm1 0zm1 0zm1 0zm1 0zm1 0zm1 0zm2 0zm1 0zm1 0zm2 0zm4 0zm5 0zm1 0zm3 0zm2 0zm1 0zm3 0zm1 0zm3 0zm8 0zm4 0zm4 0zm-62 1zm1 0zm3 0zm1 0zm1 0zm1 0zm1 0zm1 0zm1 0zm1 0zm1 0zm1 0zm1 0zm1 0zm2 0zm1 0zm1 0zm1 0zm1 0zm1 0zm1 0zm2 0zm1 0zm2 0zm3 0zm3 0zm1 0zm1 0zm1 0zm1 0zm2 0zm2 0zm2 0zm2 0zm3 0zm6 0zm7 0zm-64 1zm1 0zm1 0zm2 0zm2 0zm1 0zm2 0zm1 0zm1 0zm1 0zm1 0zm4 0zm1 0zm2 0zm1 0zm3 0zm4 0zm1 0zm2 0zm2 0zm4 0zm1 0zm1 0zm1 0zm1 0zm1 0zm1 0zm4 0zm7 0zm3 0zm6 0zm36 0zm-94 1zm2 0zm3 0zm1 0zm1 0zm2 0zm1 0zm1 0zm1 0zm1 0zm2 0zm3 0zm4 0zm1 0zm5 0zm3 0zm3 0zm1 0zm4 0zm1 0zm1 0zm2 0zm1 0zm12 0zm8 0zm-67 1zm1 0zm1 0zm1 0zm1 0zm1 0zm1 0zm1 0zm2 0zm2 0zm1 0zm2 0zm1 0zm2 0zm1 0zm2 0zm9 0zm1 0zm1 0zm1 0zm3 0zm1 0zm4 0zm2 0zm1 0zm2 0zm2 0zm-49 1zm2 0zm1 0zm1 0zm1 0zm1 0zm2 0zm1 0zm1 0zm1 0zm1 0zm1 0zm2 0zm2 0zm1 0zm5 0zm4 0zm1 0zm2 0zm5 0zm2 0zm4 0zm1 0zm1 0zm1 0zm10 0zm38 0zm-91 1zm1 0zm2 0zm1 0zm1 0zm2 0zm2 0zm2 0zm1 0zm1 0zm1 0zm2 0zm1 0zm1 0zm1 0zm2 0zm2 0zm3 0zm3 0zm2 0zm4 0zm2 0zm1 0zm1 0zm14 0zm37 0zm-91 1zm3 0zm1 0zm1 0zm2 0zm1 0zm3 0zm1 0zm2 0zm3 0zm4 0zm7 0zm2 0zm1 0zm4 0zm1 0zm2 0zm3 0zm-40 1zm1 0zm4 0zm1 0zm2 0zm1 0zm6 0zm8 0zm3 0zm1 0zm1 0zm1 0zm1 0zm2 0zm2 0zm1 0zm2 0zm1 0zm3 0zm-41 1zm3 0zm1 0zm2 0zm18 0zm2 0zm3 0zm1 0zm1 0zm1 0zm1 0zm4 0zm4 0zm4 0zm2 0zm5 0zm1 0zm2 0zm8 0zm-61 1zm3 0zm1 0zm4 0zm12 0zm6 0zm8 0zm1 0zm1 0zm2 0zm1 0zm4 0zm2 0zm-46 1zm2 0zm2 0zm2 0zm3 0zm7 0zm7 0zm2 0zm7 0zm4 0zm2 0zm3 0zm1 0zm3 0zm1 0zm3 0zm1 0zm52 0zm-103 1zm2 0zm5 0zm6 0zm2 0zm5 0zm6 0zm3 0zm1 0zm4 0zm3 0zm9 0zm1 0zm3 0zm45 0zm-95 1zm1 0zm7 0zm17 0zm3 0zm1 0zm4 0zm1 0zm1 0zm4 0zm1 0zm2 0zm-42 1zm4 0zm4 0zm2 0zm2 0zm4 0zm6 0zm5 0zm6 0zm2 0zm6 0zm5 0zm-40 1zm4 0zm3 0zm3 0zm4 0zm1 0zm4 0zm8 0zm3 0zm4 0zm1 0zm2 0zm8 0zm-51 1zm4 0zm2 0zm2 0zm1 0zm7 0zm4 0zm1 0zm7 0zm4 0zm5 0zm8 0zm-45 1zm4 0zm3 0zm8 0zm6 0zm1 0zm20 0zm2 0zm-41 1zm1 0zm8 0zm6 0zm10 0zm8 0zm-35 1zm25 0zm1 0zm5 0zm2 0zm1 0zm4 0zm-34 1zm2 0zm12 0zm3 0zm2 0zm9 0zm-20 1zm6 0zm13 0zm2 0zm3 0zm13 0zm-38 1zm5 0zm3 0zm1 0zm1 0zm1 0zm19 0zm5 0zm-42 1zm4 0zm7 0zm6 0zm-15 1zm17 0zm16 0zm-10 1zm4 0zm-24 1zm29 0zm-14 5zm7 0zm14 0z" stroke="#3c3c3c" stroke-width="2.4" stroke-linecap="square" fill="none"/>
<path transform="scale(.5)" d="m969 938zm-1 5zm3 2zm13 1zm8 0zm-4 1zm-15 1zm4 0zm-12 1zm17 0zm4 0zm2 0zm-20 1zm5 0zm2 0zm4 0zm1 0zm1 0zm9 0zm-24 1zm14 0zm1 0zm6 0zm-25 1zm3 0zm6 0zm6 0zm-8 1zm5 0zm1 0zm1 0zm6 0zm-24 1zm7 0zm17 0zm5 0zm5 0zm4 0zm-29 1zm8 0zm4 0zm6 0zm2 0zm5 0zm1 0zm-25 1zm3 0zm1 0zm2 0zm1 0zm1 0zm1 0zm1 0zm2 0zm2 0zm2 0zm3 0zm-24 1zm3 0zm1 0zm8 0zm1 0zm4 0zm2 0zm3 0zm11 0zm2 0zm-29 1zm1 0zm3 0zm3 0zm4 0zm1 0zm1 0zm2 0zm1 0zm-11 1zm5 0zm9 0zm5 0zm1 0zm-26 1zm1 0zm3 0zm3 0zm1 0zm1 0zm2 0zm1 0zm1 0zm1 0zm1 0zm1 0zm4 0zm2 0zm4 0zm-31 1zm11 0zm1 0zm1 0zm3 0zm2 0zm3 0zm1 0zm1 0zm1 0zm-17 1zm1 0zm1 0zm1 0zm1 0zm3 0zm4 0zm1 0zm2 0zm1 0zm2 0zm1 0zm-25 1zm4 0zm4 0zm1 0zm1 0zm1 0zm1 0zm1 0zm3 0zm1 0zm2 0zm1 0zm1 0zm6 0zm1 0zm6 0zm-35 1zm1 0zm5 0zm5 0zm2 0zm1 0zm1 0zm2 0zm3 0zm2 0zm1 0zm2 0zm1 0zm2 0zm1 0zm-26 1zm1 0zm3 0zm1 0zm2 0zm2 0zm1 0zm2 0zm1 0zm1 0zm2 0zm2 0zm3 0zm3 0zm1 0zm5 0zm5 0zm-35 1zm4 0zm1 0zm5 0zm3 0zm1 0zm2 0zm1 0zm1 0zm1 0zm1 0zm10 0zm-35 1zm6 0zm3 0zm5 0zm2 0zm2 0zm2 0zm1 0zm1 0zm1 0zm2 0zm1 0zm6 0zm1 0zm5 0zm2 0zm-30 1zm1 0zm3 0zm1 0zm2 0zm1 0zm3 0zm2 0zm3 0zm3 0zm-148 1zm127 0zm3 0zm7 0zm1 0zm3 0zm2 0zm3 0zm-25 1zm13 0zm4 0zm2 0zm9 0zm2 0zm-168 1zm149 0zm5 0zm1 0zm3 0zm1 0zm6 0zm7 0zm-161 1zm129 0zm16 0zm1 0zm1 0zm16 0zm-145 1zm112 0zm2 0zm10 0zm3 0zm2 0zm7 0zm-26 1zm4 0zm3 0zm3 0zm2 0zm6 0zm2 0zm-150 1zm141 0zm1 0zm6 0zm1 0zm-149 1zm138 0zm7 0zm-162 1zm21 0zm4 0zm119 0zm19 0zm5 0zm1 0zm-161 1zm3 0zm136 0zm9 0zm12 0zm3 0zm4 0zm-174 1zm11 0zm32 0zm109 0zm2 0zm3 0zm2 0zm2 0zm1 0zm-158 1zm4 0zm1 0zm6 0zm4 0zm-8 1zm17 0zm130 0zm-163 1zm11 0zm2 0zm1 0zm7 0zm2 0zm1 0zm128 0zm17 0zm7 0zm-172 1zm2 0zm3 0zm6 0zm2 0zm2 0zm12 0zm1 0zm-36 1zm4 0zm5 0zm2 0zm6 0zm1 0zm3 0zm4 0zm4 0zm8 0zm131 0zm-167 1zm13 0zm1 0zm3 0zm2 0zm3 0zm3 0zm1 0zm15 0zm-36 1zm3 0zm2 0zm9 0zm3 0zm8 0zm4 0zm7 0zm127 0zm-155 1zm3 0zm4 0zm5 0zm3 0zm1 0zm2 0zm3 0zm-17 1zm5 0zm1 0zm1 0zm9 0zm5 0zm3 0zm-34 1zm3 0zm1 0zm8 0zm2 0zm2 0zm7 0zm2 0zm1 0zm-29 1zm2 0zm1 0zm2 0zm2 0zm2 0zm3 0zm3 0zm1 0zm7 0zm12 0zm-45 1zm7 0zm4 0zm9 0zm4 0zm2 0zm1 0zm5 0zm3 0zm11 0zm-42 1zm1 0zm8 0zm4 0zm1 0zm6 0zm1 0zm1 0zm4 0zm4 0zm1 0zm4 0zm19 0zm-51 1zm1 0zm4 0zm1 0zm5 0zm1 0zm1 0zm1 0zm2 0zm2 0zm2 0zm1 0zm1 0zm3 0zm4 0zm1 0zm1 0zm1 0zm1 0zm5 0zm-198 1zm163 0zm1 0zm9 0zm3 0zm1 0zm1 0zm1 0zm1 0zm2 0zm1 0zm1 0zm2 0zm2 0zm1 0zm-184 1zm148 0zm8 0zm4 0zm5 0zm3 0zm1 0zm1 0zm1 0zm5 0zm2 0zm2 0zm1 0zm2 0zm8 0zm-173 1zm141 0zm2 0zm1 0zm2 0zm1 0zm1 0zm4 0zm1 0zm1 0zm1 0zm1 0zm2 0zm2 0zm2 0zm1 0zm1 0zm1 0zm3 0zm4 0zm1 0zm2 0zm2 0zm1 0zm-43 1zm6 0zm4 0zm1 0zm3 0zm1 0zm1 0zm4 0zm2 0zm1 0zm1 0zm1 0zm2 0zm1 0zm2 0zm1 0zm1 0zm3 0zm6 0zm-188 1zm155 0zm1 0zm1 0zm1 0zm2 0zm4 0zm2 0zm1 0zm2 0zm1 0zm2 0zm3 0zm2 0zm2 0zm1 0zm-25 1zm3 0zm3 0zm1 0zm1 0zm1 0zm1 0zm1 0zm2 0zm3 0zm3 0zm2 0zm2 0zm4 0zm1 0zm1 0zm3 0zm1 0zm7 0zm-197 1zm1 0zm147 0zm1 0zm2 0zm5 0zm1 0zm1 0zm1 0zm3 0zm2 0zm1 0zm1 0zm3 0zm2 0zm1 0zm1 0zm1 0zm1 0zm3 0zm1 0zm1 0zm1 0zm2 0zm2 0zm1 0zm3 0zm5 0zm1 0zm-44 1zm3 0zm2 0zm2 0zm1 0zm1 0zm1 0zm1 0zm1 0zm1 0zm3 0zm2 0zm1 0zm3 0zm2 0zm1 0zm3 0zm1 0zm1 0zm2 0zm-179 1zm148 0zm3 0zm4 0zm3 0zm1 0zm3 0zm1 0zm1 0zm2 0zm2 0zm2 0zm4 0zm1 0zm7 0zm1 0zm3 0zm5 0zm-56 1zm5 0zm4 0zm2 0zm4 0zm2 0zm2 0zm2 0zm1 0zm1 0zm2 0zm1 0zm3 0zm1 0zm1 0zm1 0zm3 0zm5 0zm2 0zm1 0zm1 0zm1 0zm6 0zm10 0zm-218 1zm27 0zm129 0zm3 0zm7 0zm3 0zm9 0zm2 0zm2 0zm3 0zm2 0zm2 0zm2 0zm15 0zm1 0zm1 0zm1 0zm4 0zm-78 1zm13 0zm4 0zm11 0zm4 0zm2 0zm2 0zm3 0zm2 0zm1 0zm5 0zm4 0zm1 0zm1 0zm2 0zm1 0zm2 0zm5 0zm1 0zm1 0zm2 0zm4 0zm4 0zm-189 1zm15 0zm8 0zm102 0zm14 0zm3 0zm3 0zm1 0zm2 0zm6 0zm2 0zm2 0zm4 0zm1 0zm4 0zm1 0zm1 0zm4 0zm1 0zm1 0zm1 0zm3 0zm-168 1zm4 0zm87 0zm34 0zm10 0zm2 0zm2 0zm8 0zm1 0zm2 0zm6 0zm2 0zm4 0zm1 0zm1 0zm1 0zm5 0zm6 0zm3 0zm2 0zm-190 1zm8 0zm139 0zm1 0zm3 0zm4 0zm2 0zm1 0zm6 0zm5 0zm1 0zm2 0zm3 0zm3 0zm1 0zm2 0zm-185 1zm7 0zm117 0zm1 0zm3 0zm6 0zm7 0zm9 0zm2 0zm1 0zm5 0zm2 0zm5 0zm3 0zm4 0zm2 0zm1 0zm2 0zm8 0zm-179 1zm14 0zm117 0zm4 0zm3 0zm16 0zm2 0zm2 0zm1 0zm2 0zm4 0zm1 0zm1 0zm1 0zm2 0zm3 0zm5 0zm4 0zm-200 1zm17 0zm9 0zm1 0zm98 0zm16 0zm7 0zm13 0zm10 0zm4 0zm3 0zm2 0zm4 0zm3 0zm3 0zm1 0zm1 0zm-177 1zm4 0zm103 0zm14 0zm1 0zm1 0zm9 0zm8 0zm1 0zm4 0zm6 0zm1 0zm6 0zm2 0zm2 0zm2 0zm1 0zm1 0zm3 0zm2 0zm2 0zm12 0zm8 0zm-191 1zm13 0zm97 0zm3 0zm9 0zm12 0zm14 0zm6 0zm4 0zm1 0zm4 0zm7 0zm3 0zm1 0zm-173 1zm2 0zm3 0zm1 0zm3 0zm90 0zm12 0zm3 0zm33 0zm10 0zm2 0zm3 0zm1 0zm3 0zm2 0zm3 0zm1 0zm3 0zm1 0zm10 0zm-194 1zm1 0zm16 0zm64 0zm20 0zm16 0zm7 0zm2 0zm1 0zm6 0zm2 0zm3 0zm22 0zm4 0zm1 0zm3 0zm6 0zm10 0zm4 0zm-191 1zm5 0zm7 0zm1 0zm4 0zm3 0zm15 0zm69 0zm9 0zm3 0zm1 0zm18 0zm3 0zm19 0zm2 0zm9 0zm2 0zm1 0zm3 0zm7 0zm4 0zm8 0zm-185 1zm2 0zm1 0zm2 0zm4 0zm79 0zm14 0zm4 0zm8 0zm4 0zm11 0zm31 0zm3 0zm4 0zm6 0zm2 0zm2 0zm-190 1zm10 0zm1 0zm6 0zm1 0zm3 0zm1 0zm5 0zm84 0zm1 0zm1 0zm1 0zm3 0zm1 0zm7 0zm5 0zm32 0zm21 0zm6 0zm11 0zm-211 1zm16 0zm7 0zm4 0zm4 0zm17 0zm65 0zm9 0zm55 0zm5 0zm3 0zm8 0zm2 0zm8 0zm-189 1zm3 0zm4 0zm2 0zm6 0zm2 0zm5 0zm64 0zm7 0zm1 0zm20 0zm12 0zm1 0zm10 0zm28 0zm3 0zm5 0zm7 0zm5 0zm-178 1zm3 0zm3 0zm8 0zm7 0zm5 0zm42 0zm16 0zm3 0zm8 0zm11 0zm66 0zm1 0zm4 0zm-176 1zm1 0zm2 0zm3 0zm3 0zm10 0zm3 0zm55 0zm1 0zm7 0zm12 0zm4 0zm17 0zm12 0zm39 0zm17 0zm-193 1zm2 0zm2 0zm3 0zm2 0zm1 0zm1 0zm1 0zm3 0zm5 0zm1 0zm1 0zm54 0zm11 0zm10 0zm7 0zm15 0zm40 0zm2 0zm5 0zm-182 1zm9 0zm12 0zm5 0zm1 0zm1 0zm1 0zm2 0zm40 0zm16 0zm3 0zm19 0zm2 0zm17 0zm14 0zm33 0zm16 0zm-184 1zm6 0zm5 0zm2 0zm2 0zm2 0zm4 0zm1 0zm1 0zm2 0zm2 0zm4 0zm1 0zm39 0zm2 0zm5 0zm3 0zm10 0zm3 0zm1 0zm1 0zm11 0zm15 0zm2 0zm67 0zm-187 1zm1 0zm2 0zm2 0zm2 0zm1 0zm3 0zm2 0zm1 0zm2 0zm3 0zm2 0zm1 0zm3 0zm1 0zm2 0zm1 0zm1 0zm43 0zm16 0zm7 0zm5 0zm7 0zm4 0zm8 0zm51 0zm-168 1zm1 0zm2 0zm1 0zm2 0zm3 0zm3 0zm1 0zm1 0zm1 0zm1 0zm2 0zm1 0zm1 0zm4 0zm3 0zm4 0zm34 0zm9 0zm5 0zm24 0zm6 0zm-106 1zm2 0zm3 0zm1 0zm1 0zm3 0zm2 0zm1 0zm2 0zm5 0zm23 0zm15 0zm14 0zm1 0zm6 0zm2 0zm4 0zm-101 1zm5 0zm6 0zm4 0zm1 0zm5 0zm2 0zm2 0zm1 0zm1 0zm1 0zm2 0zm4 0zm8 0zm37 0zm11 0zm3 0zm5 0zm20 0zm5 0zm-107 1zm1 0zm2 0zm2 0zm3 0zm2 0zm3 0zm1 0zm2 0zm2 0zm3 0zm2 0zm17 0zm7 0zm5 0zm4 0zm2 0zm9 0zm14 0zm18 0zm69 0zm-178 1zm9 0zm1 0zm5 0zm1 0zm1 0zm1 0zm2 0zm2 0zm2 0zm1 0zm1 0zm16 0zm15 0zm7 0zm2 0zm9 0zm7 0zm10 0zm4 0zm1 0zm3 0zm-93 1zm3 0zm1 0zm7 0zm1 0zm3 0zm1 0zm1 0zm1 0zm4 0zm7 0zm1 0zm22 0zm10 0zm3 0zm5 0zm29 0zm3 0zm-113 1zm12 0zm1 0zm4 0zm1 0zm1 0zm1 0zm1 0zm1 0zm2 0zm1 0zm2 0zm1 0zm2 0zm1 0zm2 0zm2 0zm3 0zm6 0zm22 0zm5 0zm48 0zm-111 1zm1 0zm1 0zm2 0zm2 0zm1 0zm1 0zm4 0zm1 0zm3 0zm2 0zm1 0zm8 0zm3 0zm10 0zm3 0zm4 0zm5 0zm5 0zm1 0zm4 0zm5 0zm5 0zm5 0zm7 0zm1 0zm-86 1zm5 0zm1 0zm1 0zm4 0zm2 0zm1 0zm1 0zm1 0zm1 0zm1 0zm1 0zm2 0zm2 0zm3 0zm1 0zm2 0zm9 0zm3 0zm2 0zm8 0zm9 0zm9 0zm-65 1zm4 0zm1 0zm3 0zm2 0zm5 0zm1 0zm1 0zm1 0zm2 0zm4 0zm2 0zm1 0zm1 0zm13 0zm7 0zm20 0zm-75 1zm3 0zm2 0zm1 0zm1 0zm2 0zm1 0zm2 0zm4 0zm1 0zm1 0zm1 0zm3 0zm1 0zm1 0zm1 0zm4 0zm2 0zm4 0zm1 0zm9 0zm5 0zm5 0zm1 0zm5 0zm32 0zm-92 1zm1 0zm5 0zm3 0zm1 0zm1 0zm2 0zm1 0zm2 0zm4 0zm1 0zm1 0zm1 0zm2 0zm1 0zm1 0zm2 0zm7 0zm3 0zm7 0zm11 0zm1 0zm4 0zm-75 1zm13 0zm4 0zm2 0zm1 0zm2 0zm1 0zm1 0zm1 0zm1 0zm1 0zm2 0zm1 0zm1 0zm1 0zm1 0zm2 0zm1 0zm3 0zm3 0zm7 0zm7 0zm7 0zm-45 1zm6 0zm1 0zm1 0zm1 0zm1 0zm1 0zm1 0zm1 0zm2 0zm1 0zm1 0zm3 0zm2 0zm4 0zm3 0zm1 0zm2 0zm5 0zm17 0zm-61 1zm7 0zm1 0zm3 0zm1 0zm1 0zm1 0zm1 0zm1 0zm3 0zm2 0zm1 0zm1 0zm1 0zm2 0zm1 0zm4 0zm1 0zm7 0zm2 0zm2 0zm3 0zm3 0zm4 0zm3 0zm2 0zm-60 1zm2 0zm6 0zm4 0zm4 0zm1 0zm1 0zm1 0zm3 0zm3 0zm1 0zm1 0zm2 0zm4 0zm5 0zm2 0zm3 0zm11 0zm4 0zm2 0zm-72 1zm16 0zm4 0zm1 0zm2 0zm2 0zm1 0zm1 0zm1 0zm1 0zm1 0zm2 0zm3 0zm2 0zm4 0zm1 0zm1 0zm9 0zm2 0zm1 0zm5 0zm1 0zm-64 1zm5 0zm2 0zm7 0zm3 0zm9 0zm1 0zm1 0zm6 0zm1 0zm1 0zm1 0zm1 0zm2 0zm3 0zm3 0zm1 0zm1 0zm1 0zm4 0zm1 0zm-44 1zm14 0zm6 0zm1 0zm1 0zm3 0zm2 0zm1 0zm5 0zm3 0zm2 0zm19 0zm1 0zm-46 1zm2 0zm1 0zm4 0zm2 0zm1 0zm2 0zm2 0zm1 0zm2 0zm2 0zm2 0zm1 0zm6 0zm2 0zm8 0zm-60 1zm4 0zm1 0zm7 0zm7 0zm5 0zm1 0zm1 0zm2 0zm2 0zm1 0zm5 0zm1 0zm1 0zm1 0zm1 0zm1 0zm6 0zm15 0zm-56 1zm4 0zm6 0zm2 0zm4 0zm4 0zm2 0zm1 0zm1 0zm1 0zm3 0zm4 0zm4 0zm2 0zm4 0zm1 0zm3 0zm-46 1zm4 0zm6 0zm2 0zm4 0zm4 0zm5 0zm3 0zm2 0zm1 0zm1 0zm1 0zm1 0zm1 0zm2 0zm1 0zm5 0zm1 0zm2 0zm2 0zm1 0zm-51 1zm2 0zm3 0zm3 0zm13 0zm2 0zm2 0zm1 0zm1 0zm3 0zm6 0zm2 0zm1 0zm2 0zm8 0zm5 0zm-47 1zm5 0zm4 0zm6 0zm3 0zm2 0zm2 0zm1 0zm1 0zm1 0zm2 0zm1 0zm1 0zm2 0zm1 0zm1 0zm7 0zm5 0zm-54 1zm1 0zm3 0zm2 0zm3 0zm3 0zm5 0zm2 0zm4 0zm4 0zm7 0zm4 0zm1 0zm5 0zm-44 1zm10 0zm1 0zm3 0zm2 0zm1 0zm2 0zm1 0zm3 0zm2 0zm2 0zm3 0zm1 0zm1 0zm1 0zm3 0zm1 0zm2 0zm4 0zm6 0zm5 0zm-53 1zm5 0zm19 0zm2 0zm1 0zm1 0zm4 0zm4 0zm1 0zm1 0zm2 0zm1 0zm3 0zm-47 1zm2 0zm3 0zm6 0zm3 0zm5 0zm1 0zm2 0zm2 0zm8 0zm3 0zm1 0zm1 0zm1 0zm2 0zm1 0zm4 0zm2 0zm2 0zm2 0zm1 0zm2 0zm-51 1zm1 0zm6 0zm3 0zm4 0zm3 0zm3 0zm4 0zm1 0zm1 0zm5 0zm5 0zm1 0zm2 0zm3 0zm6 0zm2 0zm-53 1zm2 0zm2 0zm1 0zm5 0zm8 0zm9 0zm1 0zm1 0zm1 0zm9 0zm3 0zm-42 1zm1 0zm3 0zm3 0zm3 0zm2 0zm1 0zm4 0zm6 0zm2 0zm3 0zm2 0zm3 0zm2 0zm2 0zm1 0zm1 0zm2 0zm4 0zm-42 1zm4 0zm3 0zm3 0zm3 0zm1 0zm3 0zm1 0zm7 0zm6 0zm3 0zm3 0zm4 0zm-29 1zm6 0zm6 0zm3 0zm3 0zm9 0zm3 0zm-28 1zm1 0zm5 0zm7 0zm2 0zm3 0zm2 0zm3 0zm1 0zm1 0zm8 0zm1 0zm-41 1zm3 0zm4 0zm7 0zm5 0zm4 0zm5 0zm2 0zm2 0zm6 0zm1 0zm2 0zm-46 1zm4 0zm1 0zm1 0zm15 0zm17 0zm-34 1zm3 0zm14 0zm3 0zm5 0zm2 0zm1 0zm4 0zm2 0zm7 0zm-47 1zm7 0zm3 0zm8 0zm7 0zm3 0zm5 0zm1 0zm-32 1zm1 0zm10 0zm16 0zm14 0zm6 0zm-51 1zm29 0zm3 0zm6 0zm-9 1zm13 0zm-26 1zm3 0zm16 0zm2 0zm1 0zm13 0zm-43 1zm16 0zm26 0zm-13 1zm1 1zm-35 1zm19 0zm8 0zm-8 1zm3 0zm10 0zm-25 1zm12 0zm13 0zm3 1zm2 0zm2 1zm1 0zm-5 1zm1 0zm13 0zm-45 1zm-5 2zm29 0zm-6 2zm-10 2z" stroke="#6c6c6c" stroke-width="2.4" stroke-linecap="square" fill="none"/>
<path transform="scale(.5)" d="m994 854zm-195 2zm192 0zm-176 1zm103 0zm53 0zm8 1zm-10 4zm44 2zm-20 3zm-138 1zm-154 2zm297 6zm19 3zm-4 1zm-104 1zm8 1zm13 2zm65 3zm-57 2zm64 2zm-70 3zm-16 1zm40 0zm40 0zm-301 1zm100 0zm166 0zm22 0zm-36 1zm-43 2zm23 2zm9 0zm-22 1zm55 0zm-21 1zm66 0zm-100 2zm-162 1zm2 0zm154 1zm35 0zm8 3zm11 0zm61 0zm-285 2zm138 0zm6 0zm-39 3zm179 0zm4 1zm1 0zm4 0zm-273 1zm222 1zm-170 1zm200 0zm12 0zm-121 1zm56 0zm13 0zm-51 1zm23 0zm1 0zm-90 1zm91 0zm83 0zm3 0zm-367 1zm328 0zm-279 1zm111 0zm4 0zm98 0zm-16 1zm-249 1zm166 0zm16 0zm71 0zm24 0zm87 0zm10 0zm-49 1zm-228 1zm33 0zm201 0zm-113 1zm34 0zm28 0zm32 0zm27 0zm-53 1zm20 0zm45 0zm-170 1zm31 0zm10 0zm30 0zm39 0zm50 1zm-98 1zm50 0zm68 0zm-376 1zm60 0zm199 0zm70 0zm17 0zm11 0zm-62 1zm2 0zm45 0zm33 0zm-45 1zm-117 1zm72 0zm4 0zm54 0zm22 0zm-334 1zm73 1zm29 0zm83 0zm43 0zm16 0zm56 0zm17 0zm19 0zm-212 1zm95 0zm34 0zm-250 1zm130 0zm59 0zm55 0zm92 0zm-129 1zm27 0zm43 0zm-25 1zm72 0zm13 0zm2 0zm4 0zm6 0zm3 0zm-112 1zm12 0zm22 0zm8 0zm8 0zm62 0zm-328 1zm27 0zm36 0zm93 0zm45 0zm11 0zm2 0zm10 0zm32 0zm-92 1zm54 0zm18 0zm84 0zm-268 1zm184 0zm37 0zm23 0zm30 0zm-350 1zm90 0zm145 0zm-202 1zm87 0zm44 0zm67 0zm45 0zm5 0zm-281 1zm147 0zm62 0zm73 0zm28 0zm7 0zm5 0zm-251 1zm3 0zm83 0zm127 0zm8 0zm-205 1zm118 0zm116 0zm-234 1zm73 0zm61 0zm102 0zm-249 1zm130 0zm23 0zm4 0zm28 0zm3 0zm-238 1zm88 0zm37 0zm54 0zm15 0zm31 0zm8 0zm5 0zm-84 1zm25 0zm49 0zm13 0zm7 0zm2 0zm4 0zm26 0zm-161 1zm15 0zm6 0zm111 0zm-166 1zm91 0zm44 0zm56 0zm15 0zm-303 1zm32 0zm110 0zm8 0zm6 0zm112 0zm31 0zm-161 1zm1 0zm37 0zm45 0zm5 0zm-126 1zm43 0zm19 0zm29 0zm18 0zm2 0zm37 0zm17 0zm-141 1zm54 0zm25 0zm50 0zm-208 1zm113 0zm80 0zm-245 1zm87 0zm12 0zm56 0zm59 0zm-9 1zm11 0zm-144 1zm159 0zm49 0zm-82 1zm9 0zm-182 1zm77 0zm129 0zm34 0zm-322 1zm209 0zm-110 1zm47 0zm122 0zm29 0zm-242 1zm3 0zm8 0zm111 0zm-173 1zm222 0zm39 0zm20 0zm24 0zm-305 1zm83 0zm39 0zm48 0zm3 0zm65 0zm11 0zm12 0zm22 0zm-251 1zm126 0zm117 0zm18 0zm-185 1zm93 0zm12 0zm25 0zm-224 1zm48 0zm35 0zm7 0zm52 0zm63 0zm59 0zm-190 1zm182 0zm-78 1zm24 0zm4 0zm13 0zm-104 1zm71 0zm16 0zm21 0zm-99 1zm40 0zm67 0zm-215 1zm11 0zm60 0zm111 0zm53 0zm8 0zm-202 1zm119 0zm43 0zm14 0zm-52 1zm30 0zm2 0zm6 0zm-184 1zm61 0zm57 0zm-148 1zm73 0zm158 0zm2 0zm-87 1zm15 0zm9 0zm-148 1zm44 0zm35 0zm16 0zm40 0zm41 0zm-146 1zm117 0zm14 0zm-115 1zm38 0zm27 0zm3 0zm12 0zm4 0zm54 0zm-139 1zm49 0zm47 0zm10 0zm-45 1zm29 0zm3 0zm24 0zm-154 1zm61 0zm1 0zm17 0zm43 0zm24 0zm7 0zm14 0zm-172 1zm29 0zm48 0zm85 0zm3 0zm6 0zm-26 1zm2 0zm-152 1zm3 0zm3 0zm31 0zm9 0zm8 0zm34 0zm53 0zm-169 1zm129 0zm-98 1zm87 0zm36 0zm25 0zm-169 1zm83 0zm73 0zm14 0zm9 0zm-91 1zm72 0zm7 0zm-188 1zm16 0zm76 0zm9 0zm75 0zm-119 2zm116 0zm-75 1zm8 0zm20 0zm23 0zm-101 1zm23 0zm84 0zm-141 1zm33 0zm67 0zm7 0zm28 0zm-153 1zm16 0zm65 0zm-51 1zm34 0zm40 0zm5 0zm-42 1zm56 0zm-53 1zm15 0zm25 0zm39 0zm3 0zm-61 1zm22 0zm4 0zm-93 1zm18 0zm50 0zm15 0zm33 0zm-116 1zm14 0zm2 0zm30 0zm52 0zm-108 1zm27 0zm6 0zm46 0zm-87 1zm58 0zm16 0zm8 0zm3 0zm21 0zm12 0zm-52 1zm26 0zm36 0zm7 0zm-69 1zm64 0zm-127 1zm12 0zm17 0zm10 0zm92 0zm-123 1zm12 0zm1 0zm45 0zm5 0zm-8 1zm36 0zm7 0zm-97 1zm2 0zm45 0zm2 0zm3 0zm-58 1zm31 0zm12 0zm22 0zm-69 1zm32 0zm3 1zm8 0zm37 0zm28 0zm-75 1zm53 0zm-39 1zm29 0zm-72 1zm18 0zm21 0zm37 0zm-81 1zm3 0zm10 0zm28 0zm1 0zm26 0zm-64 1zm33 0zm29 0zm13 0zm19 0zm-54 1zm7 0zm36 0zm-86 1zm38 0zm8 0zm28 0zm-57 1zm38 0zm7 0zm2 0zm2 0zm-21 1zm26 0zm-57 1zm57 0zm-54 1zm13 0zm10 0zm32 0zm1 0zm-59 2zm1 0zm14 0zm22 1zm-48 2zm11 0zm11 0zm28 0zm-19 1zm6 0zm-34 2zm8 0zm0 1zm-5 1zm8 4zm-25 6z" stroke="#2e2e2e" stroke-width="2.8" stroke-linecap="square" fill="none"/>
<path d="M312.1 423.7L518.3 422.5L518.2 546.5L312.1 547.3Z" stroke="#151515" stroke-width="1.1" fill="none"/>
<path d="M312.1 542.9h-2.8M312.1 539h-2.8M312.1 535.5h-2.8M312.1 512.6h-2.8M312.1 499.2h-2.8M312.1 489.7h-2.8M312.1 482.4h-2.8M312.1 476.4h-2.8M312.1 471.3h-2.8M312.1 466.9h-2.8M312.1 463h-2.8M312.1 459.5h-2.8M312.1 436.6h-2.8" stroke="#151515" stroke-width="1.0" fill="none"/>
<path d="M312.1 535.5h-5.4M312.1 459.5h-5.4" stroke="#151515" stroke-width="1.0" fill="none"/>
<path d="M315.2 546.9v3.2M360.6 546.9v3.2M392.9 546.9v3.2M417.9 546.9v3.2M438.3 546.9v3.2M455.6 546.9v3.2M470.5 546.9v3.2M483.7 546.9v3.2" stroke="#151515" stroke-width="1.0" fill="none"/>
<text x="487.6" y="564.8" font-size="10.5" fill="#151515">10<tspan dy="-6.3" font-size="10">3</tspan></text>
<text x="414" y="576" font-size="10.5" text-anchor="middle" textLength="82" lengthAdjust="spacingAndGlyphs" fill="#151515">Propidium Iodide</text>
<text x="288.8" y="485" font-size="10.5" text-anchor="middle" transform="rotate(-90 288.8 485)" textLength="37.5" lengthAdjust="spacingAndGlyphs" fill="#151515">B1 FITC</text>
<text x="304.8" y="544.5" font-size="10.5" fill="#151515" transform="rotate(-90 304.8 544.5)">10<tspan dy="-6.6" font-size="10">1</tspan></text>
<text x="304.8" y="468.5" font-size="10.5" fill="#151515" transform="rotate(-90 304.8 468.5)">10<tspan dy="-6.6" font-size="10">2</tspan></text>
<text x="317.3" y="440.2" font-size="16.5" fill="#151515" stroke="#151515" stroke-width="0.3">F</text>
<text transform="translate(326.8 453.8) scale(1.1 1)" font-size="16.3" letter-spacing="2.6" fill="#151515" stroke="#151515" stroke-width="0.2">8N</text>
<text transform="translate(393.5 437.8) scale(1.1 1)" font-size="16.3" letter-spacing="1.6" fill="#151515" stroke="#151515" stroke-width="0.2">16N</text>
<text transform="translate(475.3 431.3) scale(1.1 1)" font-size="16.3" letter-spacing="1.4" fill="#151515" stroke="#151515" stroke-width="0.2">32N</text>
<path d="M495.5 546.9v5" stroke="#151515" stroke-width="1.0" fill="none"/>
<path d="M518.2 423.6L518.2 545.8" stroke="#fff" stroke-width="1.6" fill="none"/>
<path d="M518.3 422.5L518.2 546.5" stroke="#777" stroke-width="1.0" fill="none"/>
</svg>
</body>
</html>
